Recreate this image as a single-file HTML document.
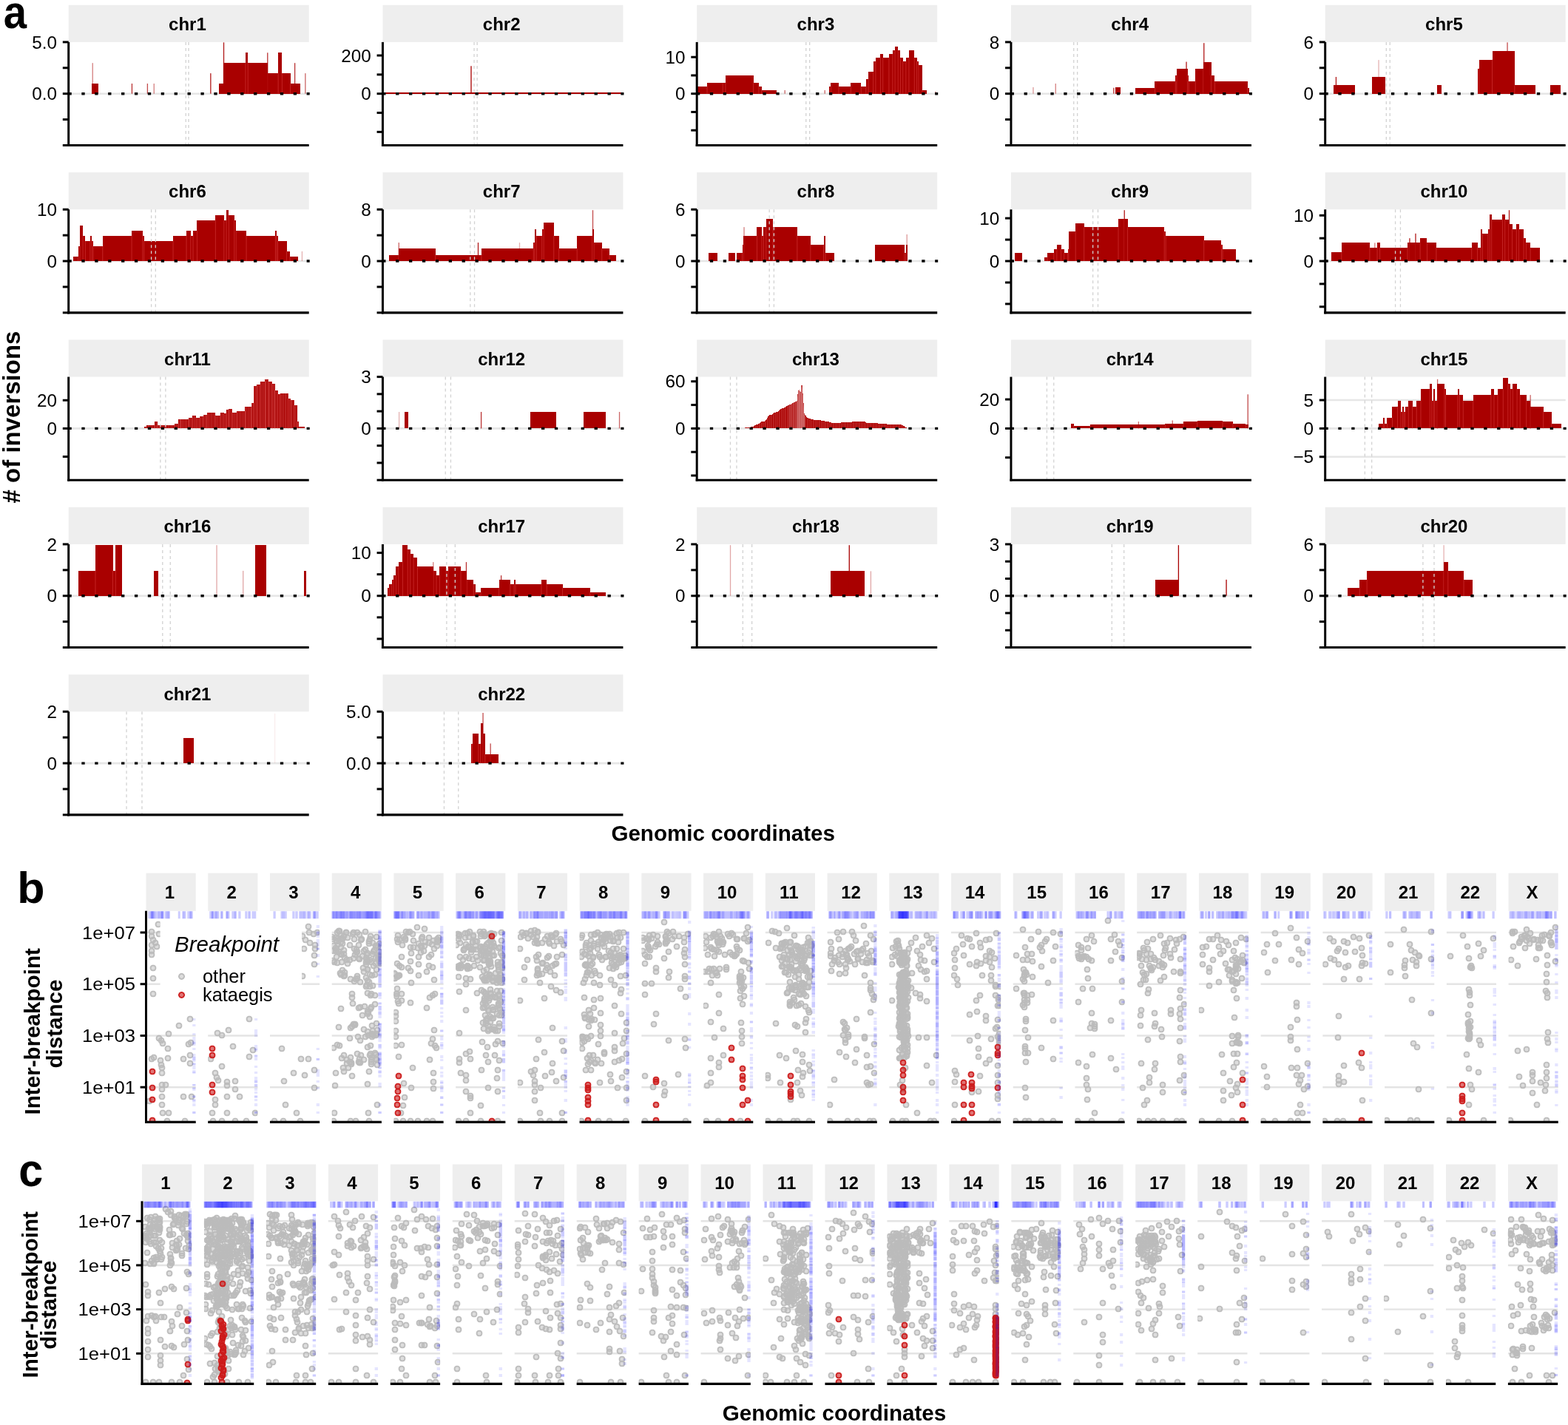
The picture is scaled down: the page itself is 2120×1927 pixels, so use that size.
<!DOCTYPE html>
<html><head><meta charset="utf-8"><title>Figure</title>
<style>html,body{margin:0;padding:0;background:#fff;} svg{display:block;} g.pt circle{r:4.6px}</style>
</head><body>
<svg width="2120" height="1927" viewBox="0 0 2120 1927" font-family="'Liberation Sans', Arial, Helvetica, sans-serif"><defs><pattern id="seam" width="2.7" height="20" patternUnits="userSpaceOnUse"><rect width="2.7" height="20" fill="#A90000"/><rect width="0.6" height="20" fill="#D66"/></pattern><radialGradient id="pg"><stop offset="0.45" stop-color="#BBBBBB" stop-opacity="0.5"/><stop offset="0.6" stop-color="#BBBBBB" stop-opacity="0.95"/><stop offset="0.9" stop-color="#BBBBBB" stop-opacity="0.95"/><stop offset="1" stop-color="#BBBBBB" stop-opacity="0.5"/></radialGradient><radialGradient id="pr"><stop offset="0.45" stop-color="#CC1A1A" stop-opacity="0.6"/><stop offset="0.6" stop-color="#CC1A1A" stop-opacity="0.95"/><stop offset="0.9" stop-color="#CC1A1A" stop-opacity="0.95"/><stop offset="1" stop-color="#CC1A1A" stop-opacity="0.5"/></radialGradient></defs><text x="5" y="38" font-size="52" font-weight="bold" transform="matrix(1.0815,0,0,1.211,-0.77,-8.22)">a</text>
<rect x="92.7" y="6.8" width="325" height="50.1" fill="#EEEEEE"/>
<text x="253.4" y="41.1" font-size="24" font-weight="bold" text-anchor="middle">chr1</text>
<line x1="92.7" x2="417.7" y1="126.7" y2="126.7" stroke="#E6E6E6" stroke-width="2.6"/>
<g fill="#A90000" shape-rendering="crispEdges"><rect x="123.56" y="113.02" width="9.33" height="13.68"/><rect x="295.93" y="113.02" width="6.88" height="13.68"/><rect x="301.98" y="85.19" width="30.28" height="41.51"/><rect x="331.94" y="71.28" width="3.27" height="55.42"/><rect x="335.21" y="85.19" width="26.52" height="41.51"/><rect x="361.73" y="99.11" width="14.4" height="27.59"/><rect x="376.14" y="71.28" width="5.24" height="55.42"/><rect x="381.37" y="99.11" width="11.13" height="27.59"/><rect x="392.5" y="113.02" width="13.1" height="13.68"/></g>
<g stroke="#D84040" stroke-width="0.8" opacity="0.7"><line x1="331.94" x2="331.94" y1="85.19" y2="126.7"/><line x1="335.21" x2="335.21" y1="85.19" y2="126.7"/><line x1="361.73" x2="361.73" y1="99.11" y2="126.7"/><line x1="376.14" x2="376.14" y1="99.11" y2="126.7"/><line x1="381.37" x2="381.37" y1="99.11" y2="126.7"/><line x1="392.5" x2="392.5" y1="113.02" y2="126.7"/></g>
<rect x="124.59" y="85.19" width="1.3" height="41.51" fill="#A90000" opacity="0.5"/>
<rect x="177.79" y="113.02" width="1.3" height="13.68" fill="#A90000" opacity="0.8"/>
<rect x="198.75" y="113.02" width="1.3" height="13.68" fill="#A90000" opacity="0.7"/>
<rect x="207.59" y="113.02" width="1.3" height="13.68" fill="#A90000" opacity="0.5"/>
<rect x="284.19" y="99.11" width="1.3" height="27.59" fill="#A90000" opacity="0.9"/>
<rect x="301.87" y="57.37" width="1.3" height="69.33" fill="#A90000" opacity="0.9"/>
<rect x="361.13" y="71.28" width="1.3" height="55.42" fill="#A90000" opacity="0.8"/>
<rect x="397.96" y="85.19" width="1.3" height="41.51" fill="#A90000" opacity="0.8"/>
<rect x="412.2" y="99.11" width="1.3" height="27.59" fill="#A90000" opacity="0.6"/>
<line x1="251.24" x2="251.24" y1="56.9" y2="196.5" stroke="#D2D2D2" stroke-width="1.3" stroke-dasharray="4 4"/>
<line x1="255" x2="255" y1="56.9" y2="196.5" stroke="#D2D2D2" stroke-width="1.3" stroke-dasharray="4 4"/>
<line x1="92.45" x2="418.7" y1="126.7" y2="126.7" stroke="#000" stroke-width="3.4" stroke-dasharray="4.3 13.6"/>
<line x1="92.7" x2="92.7" y1="56.9" y2="198" stroke="#000" stroke-width="3"/>
<line x1="91.2" x2="417.7" y1="196.5" y2="196.5" stroke="#000" stroke-width="3.1"/>
<line x1="84.8" x2="92.7" y1="56.9" y2="56.9" stroke="#000" stroke-width="3"/>
<text x="77.1" y="65.5" font-size="24.3" text-anchor="end">5.0</text>
<line x1="84.8" x2="92.7" y1="91.8" y2="91.8" stroke="#000" stroke-width="3"/>
<line x1="84.8" x2="92.7" y1="126.7" y2="126.7" stroke="#000" stroke-width="3"/>
<text x="77.1" y="135.3" font-size="24.3" text-anchor="end">0.0</text>
<line x1="84.8" x2="92.7" y1="161.6" y2="161.6" stroke="#000" stroke-width="3"/>
<line x1="84.8" x2="92.7" y1="196.5" y2="196.5" stroke="#000" stroke-width="3"/>
<rect x="517.45" y="6.8" width="325" height="50.1" fill="#EEEEEE"/>
<text x="678.15" y="41.1" font-size="24" font-weight="bold" text-anchor="middle">chr2</text>
<line x1="517.45" x2="842.45" y1="126.7" y2="126.7" stroke="#E6E6E6" stroke-width="2.6"/>
<g fill="#A90000" shape-rendering="crispEdges"><rect x="519.91" y="125.46" width="78.57" height="1.24"/><rect x="598.48" y="125.14" width="38.47" height="1.56"/><rect x="636.95" y="125.46" width="203.8" height="1.24"/></g>
<rect x="636.35" y="89.29" width="1.3" height="37.41" fill="#A90000" opacity="1.0"/>
<line x1="641.04" x2="641.04" y1="56.9" y2="196.5" stroke="#D2D2D2" stroke-width="1.3" stroke-dasharray="4 4"/>
<line x1="645.14" x2="645.14" y1="56.9" y2="196.5" stroke="#D2D2D2" stroke-width="1.3" stroke-dasharray="4 4"/>
<line x1="517.2" x2="843.45" y1="126.7" y2="126.7" stroke="#000" stroke-width="3.4" stroke-dasharray="4.3 13.6"/>
<line x1="517.45" x2="517.45" y1="56.9" y2="198" stroke="#000" stroke-width="3"/>
<line x1="515.95" x2="842.45" y1="196.5" y2="196.5" stroke="#000" stroke-width="3.1"/>
<line x1="509.55" x2="517.45" y1="75" y2="75" stroke="#000" stroke-width="3"/>
<text x="501.85" y="83.6" font-size="24.3" text-anchor="end">200</text>
<line x1="509.55" x2="517.45" y1="100.85" y2="100.85" stroke="#000" stroke-width="3"/>
<line x1="509.55" x2="517.45" y1="126.7" y2="126.7" stroke="#000" stroke-width="3"/>
<text x="501.85" y="135.3" font-size="24.3" text-anchor="end">0</text>
<line x1="509.55" x2="517.45" y1="152.55" y2="152.55" stroke="#000" stroke-width="3"/>
<line x1="509.55" x2="517.45" y1="178.4" y2="178.4" stroke="#000" stroke-width="3"/>
<rect x="942.2" y="6.8" width="325" height="50.1" fill="#EEEEEE"/>
<text x="1102.9" y="41.1" font-size="24" font-weight="bold" text-anchor="middle">chr3</text>
<line x1="942.2" x2="1267.2" y1="126.7" y2="126.7" stroke="#E6E6E6" stroke-width="2.6"/>
<g fill="#A90000" shape-rendering="crispEdges"><rect x="943.27" y="117.11" width="12.77" height="9.59"/><rect x="956.04" y="112.2" width="21.28" height="14.5"/><rect x="977.32" y="112.2" width="3.6" height="14.5"/><rect x="980.92" y="102.38" width="37.65" height="24.32"/><rect x="1018.57" y="112.2" width="7.37" height="14.5"/><rect x="1025.94" y="117.11" width="3.76" height="9.59"/><rect x="1029.7" y="122.02" width="20.79" height="4.68"/><rect x="1120.88" y="117.11" width="2.46" height="9.59"/><rect x="1123.34" y="112.2" width="10.64" height="14.5"/><rect x="1133.98" y="117.11" width="16.37" height="9.59"/><rect x="1150.35" y="112.2" width="13.91" height="14.5"/><rect x="1164.26" y="117.11" width="6.55" height="9.59"/><rect x="1170.81" y="107.29" width="3.27" height="19.41"/><rect x="1174.08" y="97.47" width="6.55" height="29.23"/><rect x="1180.63" y="82.74" width="3.27" height="43.96"/><rect x="1183.9" y="77.83" width="6.55" height="48.87"/><rect x="1190.45" y="72.92" width="3.27" height="53.78"/><rect x="1193.72" y="77.83" width="8.18" height="48.87"/><rect x="1201.91" y="72.92" width="4.91" height="53.78"/><rect x="1206.82" y="68.01" width="3.27" height="58.69"/><rect x="1210.09" y="63.1" width="4.09" height="63.6"/><rect x="1214.19" y="68.01" width="3.27" height="58.69"/><rect x="1217.46" y="77.83" width="3.27" height="48.87"/><rect x="1220.73" y="82.74" width="4.09" height="43.96"/><rect x="1224.83" y="77.83" width="4.09" height="48.87"/><rect x="1228.92" y="68.01" width="7.37" height="58.69"/><rect x="1236.28" y="77.83" width="3.27" height="48.87"/><rect x="1239.56" y="82.74" width="2.46" height="43.96"/><rect x="1242.01" y="87.65" width="4.91" height="39.05"/><rect x="1246.92" y="122.02" width="6.55" height="4.68"/></g>
<g stroke="#D84040" stroke-width="0.8" opacity="0.7"><line x1="956.04" x2="956.04" y1="117.11" y2="126.7"/><line x1="977.32" x2="977.32" y1="112.2" y2="126.7"/><line x1="980.92" x2="980.92" y1="112.2" y2="126.7"/><line x1="1018.57" x2="1018.57" y1="112.2" y2="126.7"/><line x1="1025.94" x2="1025.94" y1="117.11" y2="126.7"/><line x1="1029.7" x2="1029.7" y1="122.02" y2="126.7"/><line x1="1123.34" x2="1123.34" y1="117.11" y2="126.7"/><line x1="1133.98" x2="1133.98" y1="117.11" y2="126.7"/><line x1="1150.35" x2="1150.35" y1="117.11" y2="126.7"/><line x1="1164.26" x2="1164.26" y1="117.11" y2="126.7"/><line x1="1170.81" x2="1170.81" y1="117.11" y2="126.7"/><line x1="1174.08" x2="1174.08" y1="107.29" y2="126.7"/><line x1="1180.63" x2="1180.63" y1="97.47" y2="126.7"/><line x1="1183.9" x2="1183.9" y1="82.74" y2="126.7"/><line x1="1190.45" x2="1190.45" y1="77.83" y2="126.7"/><line x1="1193.72" x2="1193.72" y1="77.83" y2="126.7"/><line x1="1201.91" x2="1201.91" y1="77.83" y2="126.7"/><line x1="1206.82" x2="1206.82" y1="72.92" y2="126.7"/><line x1="1210.09" x2="1210.09" y1="68.01" y2="126.7"/><line x1="1214.19" x2="1214.19" y1="68.01" y2="126.7"/><line x1="1217.46" x2="1217.46" y1="77.83" y2="126.7"/><line x1="1220.73" x2="1220.73" y1="82.74" y2="126.7"/><line x1="1224.83" x2="1224.83" y1="82.74" y2="126.7"/><line x1="1228.92" x2="1228.92" y1="77.83" y2="126.7"/><line x1="1236.28" x2="1236.28" y1="77.83" y2="126.7"/><line x1="1239.56" x2="1239.56" y1="82.74" y2="126.7"/><line x1="1242.01" x2="1242.01" y1="87.65" y2="126.7"/><line x1="1246.92" x2="1246.92" y1="122.02" y2="126.7"/></g>
<rect x="1060.53" y="122.02" width="1.3" height="4.68" fill="#A90000" opacity="0.6"/>
<rect x="1114.55" y="122.02" width="1.3" height="4.68" fill="#A90000" opacity="0.6"/>
<rect x="1264.33" y="123.66" width="1.3" height="3.04" fill="#A90000" opacity="0.5"/>
<line x1="1089.78" x2="1089.78" y1="56.9" y2="196.5" stroke="#D2D2D2" stroke-width="1.3" stroke-dasharray="4 4"/>
<line x1="1094.69" x2="1094.69" y1="56.9" y2="196.5" stroke="#D2D2D2" stroke-width="1.3" stroke-dasharray="4 4"/>
<line x1="941.95" x2="1268.2" y1="126.7" y2="126.7" stroke="#000" stroke-width="3.4" stroke-dasharray="4.3 13.6"/>
<line x1="942.2" x2="942.2" y1="56.9" y2="198" stroke="#000" stroke-width="3"/>
<line x1="940.7" x2="1267.2" y1="196.5" y2="196.5" stroke="#000" stroke-width="3.1"/>
<line x1="934.3" x2="942.2" y1="77.2" y2="77.2" stroke="#000" stroke-width="3"/>
<text x="926.6" y="85.8" font-size="24.3" text-anchor="end">10</text>
<line x1="934.3" x2="942.2" y1="101.95" y2="101.95" stroke="#000" stroke-width="3"/>
<line x1="934.3" x2="942.2" y1="126.7" y2="126.7" stroke="#000" stroke-width="3"/>
<text x="926.6" y="135.3" font-size="24.3" text-anchor="end">0</text>
<line x1="934.3" x2="942.2" y1="151.45" y2="151.45" stroke="#000" stroke-width="3"/>
<line x1="934.3" x2="942.2" y1="176.2" y2="176.2" stroke="#000" stroke-width="3"/>
<rect x="1366.95" y="6.8" width="325" height="50.1" fill="#EEEEEE"/>
<text x="1527.65" y="41.1" font-size="24" font-weight="bold" text-anchor="middle">chr4</text>
<line x1="1366.95" x2="1691.95" y1="126.7" y2="126.7" stroke="#E6E6E6" stroke-width="2.6"/>
<g fill="#A90000" shape-rendering="crispEdges"><rect x="1508.23" y="118.42" width="6.55" height="8.28"/><rect x="1534.91" y="118.75" width="26.52" height="7.95"/><rect x="1561.43" y="110.24" width="27.83" height="16.46"/><rect x="1589.26" y="101.56" width="1.64" height="25.14"/><rect x="1590.9" y="92.56" width="14.73" height="34.14"/><rect x="1605.63" y="101.56" width="1.64" height="25.14"/><rect x="1607.27" y="110.24" width="9" height="16.46"/><rect x="1616.27" y="92.56" width="10.64" height="34.14"/><rect x="1626.91" y="84.05" width="10.64" height="42.65"/><rect x="1637.55" y="101.56" width="4.91" height="25.14"/><rect x="1642.46" y="110.24" width="44.2" height="16.46"/><rect x="1686.66" y="118.75" width="2.13" height="7.95"/></g>
<g stroke="#D84040" stroke-width="0.8" opacity="0.7"><line x1="1561.43" x2="1561.43" y1="118.75" y2="126.7"/><line x1="1589.26" x2="1589.26" y1="110.24" y2="126.7"/><line x1="1590.9" x2="1590.9" y1="101.56" y2="126.7"/><line x1="1605.63" x2="1605.63" y1="101.56" y2="126.7"/><line x1="1607.27" x2="1607.27" y1="110.24" y2="126.7"/><line x1="1616.27" x2="1616.27" y1="110.24" y2="126.7"/><line x1="1626.91" x2="1626.91" y1="92.56" y2="126.7"/><line x1="1637.55" x2="1637.55" y1="101.56" y2="126.7"/><line x1="1642.46" x2="1642.46" y1="110.24" y2="126.7"/><line x1="1686.66" x2="1686.66" y1="118.75" y2="126.7"/></g>
<rect x="1396.32" y="117.93" width="1.3" height="8.77" fill="#A90000" opacity="0.4"/>
<rect x="1426.6" y="113.02" width="1.3" height="13.68" fill="#A90000" opacity="0.5"/>
<rect x="1505.18" y="118.75" width="1.3" height="7.95" fill="#A90000" opacity="0.8"/>
<rect x="1603.39" y="83.56" width="1.3" height="43.14" fill="#A90000" opacity="0.9"/>
<rect x="1627.13" y="58.18" width="1.3" height="68.52" fill="#A90000" opacity="0.9"/>
<line x1="1451.76" x2="1451.76" y1="56.9" y2="196.5" stroke="#D2D2D2" stroke-width="1.3" stroke-dasharray="4 4"/>
<line x1="1456.67" x2="1456.67" y1="56.9" y2="196.5" stroke="#D2D2D2" stroke-width="1.3" stroke-dasharray="4 4"/>
<line x1="1366.7" x2="1692.95" y1="126.7" y2="126.7" stroke="#000" stroke-width="3.4" stroke-dasharray="4.3 13.6"/>
<line x1="1366.95" x2="1366.95" y1="56.9" y2="198" stroke="#000" stroke-width="3"/>
<line x1="1365.45" x2="1691.95" y1="196.5" y2="196.5" stroke="#000" stroke-width="3.1"/>
<line x1="1359.05" x2="1366.95" y1="56.9" y2="56.9" stroke="#000" stroke-width="3"/>
<text x="1351.35" y="65.5" font-size="24.3" text-anchor="end">8</text>
<line x1="1359.05" x2="1366.95" y1="91.8" y2="91.8" stroke="#000" stroke-width="3"/>
<line x1="1359.05" x2="1366.95" y1="126.7" y2="126.7" stroke="#000" stroke-width="3"/>
<text x="1351.35" y="135.3" font-size="24.3" text-anchor="end">0</text>
<line x1="1359.05" x2="1366.95" y1="161.6" y2="161.6" stroke="#000" stroke-width="3"/>
<line x1="1359.05" x2="1366.95" y1="196.5" y2="196.5" stroke="#000" stroke-width="3"/>
<rect x="1791.7" y="6.8" width="325" height="50.1" fill="#EEEEEE"/>
<text x="1952.4" y="41.1" font-size="24" font-weight="bold" text-anchor="middle">chr5</text>
<line x1="1791.7" x2="2116.7" y1="126.7" y2="126.7" stroke="#E6E6E6" stroke-width="2.6"/>
<g fill="#A90000" shape-rendering="crispEdges"><rect x="1803.1" y="115.48" width="28.65" height="11.22"/><rect x="1855.48" y="104.02" width="18.01" height="22.68"/><rect x="1943.05" y="115.48" width="6.06" height="11.22"/><rect x="1997.56" y="92.56" width="1.96" height="34.14"/><rect x="1999.53" y="80.77" width="18.01" height="45.93"/><rect x="2017.53" y="69.32" width="30.28" height="57.38"/><rect x="2047.82" y="115.48" width="28.32" height="11.22"/><rect x="2096.43" y="115.48" width="13.91" height="11.22"/></g>
<g stroke="#D84040" stroke-width="0.8" opacity="0.7"><line x1="1999.53" x2="1999.53" y1="92.56" y2="126.7"/><line x1="2017.53" x2="2017.53" y1="80.77" y2="126.7"/><line x1="2047.82" x2="2047.82" y1="115.48" y2="126.7"/></g>
<rect x="1805.77" y="104.02" width="1.3" height="22.68" fill="#A90000" opacity="0.9"/>
<rect x="1863.39" y="81.1" width="1.3" height="45.6" fill="#A90000" opacity="0.3"/>
<rect x="2037.39" y="57.37" width="1.3" height="69.33" fill="#A90000" opacity="0.7"/>
<line x1="1874.3" x2="1874.3" y1="56.9" y2="196.5" stroke="#D2D2D2" stroke-width="1.3" stroke-dasharray="4 4"/>
<line x1="1879.21" x2="1879.21" y1="56.9" y2="196.5" stroke="#D2D2D2" stroke-width="1.3" stroke-dasharray="4 4"/>
<line x1="1791.45" x2="2117.7" y1="126.7" y2="126.7" stroke="#000" stroke-width="3.4" stroke-dasharray="4.3 13.6"/>
<line x1="1791.7" x2="1791.7" y1="56.9" y2="198" stroke="#000" stroke-width="3"/>
<line x1="1790.2" x2="2116.7" y1="196.5" y2="196.5" stroke="#000" stroke-width="3.1"/>
<line x1="1783.8" x2="1791.7" y1="56.9" y2="56.9" stroke="#000" stroke-width="3"/>
<text x="1776.1" y="65.5" font-size="24.3" text-anchor="end">6</text>
<line x1="1783.8" x2="1791.7" y1="91.8" y2="91.8" stroke="#000" stroke-width="3"/>
<line x1="1783.8" x2="1791.7" y1="126.7" y2="126.7" stroke="#000" stroke-width="3"/>
<text x="1776.1" y="135.3" font-size="24.3" text-anchor="end">0</text>
<line x1="1783.8" x2="1791.7" y1="161.6" y2="161.6" stroke="#000" stroke-width="3"/>
<line x1="1783.8" x2="1791.7" y1="196.5" y2="196.5" stroke="#000" stroke-width="3"/>
<rect x="92.7" y="233.15" width="325" height="50.1" fill="#EEEEEE"/>
<text x="253.4" y="267.45" font-size="24" font-weight="bold" text-anchor="middle">chr6</text>
<line x1="92.7" x2="417.7" y1="353.05" y2="353.05" stroke="#E6E6E6" stroke-width="2.6"/>
<g fill="#A90000" shape-rendering="crispEdges"><rect x="99" y="346.72" width="6.55" height="6.33"/><rect x="105.55" y="332.97" width="2.46" height="20.08"/><rect x="108.01" y="305.14" width="4.09" height="47.91"/><rect x="112.1" y="318.89" width="3.27" height="34.16"/><rect x="115.37" y="325.93" width="6.55" height="27.12"/><rect x="121.92" y="318.89" width="2.46" height="34.16"/><rect x="124.38" y="325.93" width="1.64" height="27.12"/><rect x="126.01" y="332.97" width="12.77" height="20.08"/><rect x="138.78" y="318.89" width="39.29" height="34.16"/><rect x="178.07" y="312.01" width="14.73" height="41.04"/><rect x="192.8" y="318.89" width="1.96" height="34.16"/><rect x="194.76" y="325.93" width="39.29" height="27.12"/><rect x="234.05" y="318.89" width="18.01" height="34.16"/><rect x="252.06" y="312.01" width="5.73" height="41.04"/><rect x="257.79" y="318.89" width="3.27" height="34.16"/><rect x="261.06" y="312.01" width="5.4" height="41.04"/><rect x="266.46" y="298.1" width="24.88" height="54.95"/><rect x="291.34" y="291.06" width="11.46" height="61.99"/><rect x="302.8" y="298.1" width="3.27" height="54.95"/><rect x="306.07" y="284.18" width="3.27" height="68.87"/><rect x="309.35" y="291.06" width="7.37" height="61.99"/><rect x="316.71" y="298.1" width="2.46" height="54.95"/><rect x="319.17" y="312.01" width="13.91" height="41.04"/><rect x="333.08" y="318.89" width="39.29" height="34.16"/><rect x="372.37" y="312.01" width="1.64" height="41.04"/><rect x="374.01" y="318.89" width="1.64" height="34.16"/><rect x="375.64" y="325.93" width="11.95" height="27.12"/><rect x="387.59" y="339.84" width="4.42" height="13.21"/><rect x="392.01" y="346.72" width="10.64" height="6.33"/></g>
<g stroke="#D84040" stroke-width="0.8" opacity="0.7"><line x1="105.55" x2="105.55" y1="346.72" y2="353.05"/><line x1="108.01" x2="108.01" y1="332.97" y2="353.05"/><line x1="112.1" x2="112.1" y1="318.89" y2="353.05"/><line x1="115.37" x2="115.37" y1="325.93" y2="353.05"/><line x1="121.92" x2="121.92" y1="325.93" y2="353.05"/><line x1="124.38" x2="124.38" y1="325.93" y2="353.05"/><line x1="126.01" x2="126.01" y1="332.97" y2="353.05"/><line x1="138.78" x2="138.78" y1="332.97" y2="353.05"/><line x1="178.07" x2="178.07" y1="318.89" y2="353.05"/><line x1="192.8" x2="192.8" y1="318.89" y2="353.05"/><line x1="194.76" x2="194.76" y1="325.93" y2="353.05"/><line x1="234.05" x2="234.05" y1="325.93" y2="353.05"/><line x1="252.06" x2="252.06" y1="318.89" y2="353.05"/><line x1="257.79" x2="257.79" y1="318.89" y2="353.05"/><line x1="261.06" x2="261.06" y1="318.89" y2="353.05"/><line x1="266.46" x2="266.46" y1="312.01" y2="353.05"/><line x1="291.34" x2="291.34" y1="298.1" y2="353.05"/><line x1="302.8" x2="302.8" y1="298.1" y2="353.05"/><line x1="306.07" x2="306.07" y1="298.1" y2="353.05"/><line x1="309.35" x2="309.35" y1="291.06" y2="353.05"/><line x1="316.71" x2="316.71" y1="298.1" y2="353.05"/><line x1="319.17" x2="319.17" y1="312.01" y2="353.05"/><line x1="333.08" x2="333.08" y1="318.89" y2="353.05"/><line x1="372.37" x2="372.37" y1="318.89" y2="353.05"/><line x1="374.01" x2="374.01" y1="318.89" y2="353.05"/><line x1="375.64" x2="375.64" y1="325.93" y2="353.05"/><line x1="387.59" x2="387.59" y1="339.84" y2="353.05"/><line x1="392.01" x2="392.01" y1="346.72" y2="353.05"/></g>
<rect x="407.78" y="339.84" width="1.3" height="13.21" fill="#A90000" opacity="0.3"/>
<line x1="204.59" x2="204.59" y1="283.25" y2="422.85" stroke="#D2D2D2" stroke-width="1.3" stroke-dasharray="4 4"/>
<line x1="210.31" x2="210.31" y1="283.25" y2="422.85" stroke="#D2D2D2" stroke-width="1.3" stroke-dasharray="4 4"/>
<line x1="92.45" x2="418.7" y1="353.05" y2="353.05" stroke="#000" stroke-width="3.4" stroke-dasharray="4.3 13.6"/>
<line x1="92.7" x2="92.7" y1="283.25" y2="424.35" stroke="#000" stroke-width="3"/>
<line x1="91.2" x2="417.7" y1="422.85" y2="422.85" stroke="#000" stroke-width="3.1"/>
<line x1="84.8" x2="92.7" y1="283.25" y2="283.25" stroke="#000" stroke-width="3"/>
<text x="77.1" y="291.85" font-size="24.3" text-anchor="end">10</text>
<line x1="84.8" x2="92.7" y1="318.15" y2="318.15" stroke="#000" stroke-width="3"/>
<line x1="84.8" x2="92.7" y1="353.05" y2="353.05" stroke="#000" stroke-width="3"/>
<text x="77.1" y="361.65" font-size="24.3" text-anchor="end">0</text>
<line x1="84.8" x2="92.7" y1="387.95" y2="387.95" stroke="#000" stroke-width="3"/>
<line x1="84.8" x2="92.7" y1="422.85" y2="422.85" stroke="#000" stroke-width="3"/>
<rect x="517.45" y="233.15" width="325" height="50.1" fill="#EEEEEE"/>
<text x="678.15" y="267.45" font-size="24" font-weight="bold" text-anchor="middle">chr7</text>
<line x1="517.45" x2="842.45" y1="353.05" y2="353.05" stroke="#E6E6E6" stroke-width="2.6"/>
<g fill="#A90000" shape-rendering="crispEdges"><rect x="526.46" y="345.08" width="12.28" height="7.97"/><rect x="538.74" y="336.24" width="49.93" height="16.81"/><rect x="588.66" y="345.08" width="62.2" height="7.97"/><rect x="650.87" y="336.24" width="70.39" height="16.81"/><rect x="721.25" y="328.05" width="1.64" height="25"/><rect x="722.89" y="310.05" width="2.46" height="43"/><rect x="725.35" y="318.89" width="7.37" height="34.16"/><rect x="732.71" y="310.05" width="2.46" height="43"/><rect x="735.17" y="301.37" width="13.59" height="51.68"/><rect x="748.75" y="318.89" width="6.88" height="34.16"/><rect x="755.63" y="336.24" width="24.55" height="16.81"/><rect x="780.18" y="318.89" width="20.46" height="34.16"/><rect x="800.64" y="310.05" width="2.46" height="43"/><rect x="803.1" y="327.73" width="10.64" height="25.32"/><rect x="813.74" y="336.24" width="10.31" height="16.81"/><rect x="824.05" y="345.08" width="8.51" height="7.97"/></g>
<g stroke="#D84040" stroke-width="0.8" opacity="0.7"><line x1="538.74" x2="538.74" y1="345.08" y2="353.05"/><line x1="588.66" x2="588.66" y1="345.08" y2="353.05"/><line x1="650.87" x2="650.87" y1="345.08" y2="353.05"/><line x1="721.25" x2="721.25" y1="336.24" y2="353.05"/><line x1="722.89" x2="722.89" y1="328.05" y2="353.05"/><line x1="725.35" x2="725.35" y1="318.89" y2="353.05"/><line x1="732.71" x2="732.71" y1="318.89" y2="353.05"/><line x1="735.17" x2="735.17" y1="310.05" y2="353.05"/><line x1="748.75" x2="748.75" y1="318.89" y2="353.05"/><line x1="755.63" x2="755.63" y1="336.24" y2="353.05"/><line x1="780.18" x2="780.18" y1="336.24" y2="353.05"/><line x1="800.64" x2="800.64" y1="318.89" y2="353.05"/><line x1="803.1" x2="803.1" y1="327.73" y2="353.05"/><line x1="813.74" x2="813.74" y1="336.24" y2="353.05"/><line x1="824.05" x2="824.05" y1="345.08" y2="353.05"/></g>
<rect x="538.63" y="328.05" width="1.3" height="25" fill="#A90000" opacity="0.6"/>
<rect x="645.85" y="328.05" width="1.3" height="25" fill="#A90000" opacity="0.9"/>
<rect x="701.83" y="328.05" width="1.3" height="25" fill="#A90000" opacity="0.3"/>
<rect x="800.86" y="284.18" width="1.3" height="68.87" fill="#A90000" opacity="0.7"/>
<line x1="635.81" x2="635.81" y1="283.25" y2="422.85" stroke="#D2D2D2" stroke-width="1.3" stroke-dasharray="4 4"/>
<line x1="641.53" x2="641.53" y1="283.25" y2="422.85" stroke="#D2D2D2" stroke-width="1.3" stroke-dasharray="4 4"/>
<line x1="517.2" x2="843.45" y1="353.05" y2="353.05" stroke="#000" stroke-width="3.4" stroke-dasharray="4.3 13.6"/>
<line x1="517.45" x2="517.45" y1="283.25" y2="424.35" stroke="#000" stroke-width="3"/>
<line x1="515.95" x2="842.45" y1="422.85" y2="422.85" stroke="#000" stroke-width="3.1"/>
<line x1="509.55" x2="517.45" y1="283.25" y2="283.25" stroke="#000" stroke-width="3"/>
<text x="501.85" y="291.85" font-size="24.3" text-anchor="end">8</text>
<line x1="509.55" x2="517.45" y1="318.15" y2="318.15" stroke="#000" stroke-width="3"/>
<line x1="509.55" x2="517.45" y1="353.05" y2="353.05" stroke="#000" stroke-width="3"/>
<text x="501.85" y="361.65" font-size="24.3" text-anchor="end">0</text>
<line x1="509.55" x2="517.45" y1="387.95" y2="387.95" stroke="#000" stroke-width="3"/>
<line x1="509.55" x2="517.45" y1="422.85" y2="422.85" stroke="#000" stroke-width="3"/>
<rect x="942.2" y="233.15" width="325" height="50.1" fill="#EEEEEE"/>
<text x="1102.9" y="267.45" font-size="24" font-weight="bold" text-anchor="middle">chr8</text>
<line x1="942.2" x2="1267.2" y1="353.05" y2="353.05" stroke="#E6E6E6" stroke-width="2.6"/>
<g fill="#A90000" shape-rendering="crispEdges"><rect x="958.01" y="342.3" width="11.79" height="10.75"/><rect x="985.02" y="342.3" width="8.68" height="10.75"/><rect x="996.15" y="342.3" width="7.37" height="10.75"/><rect x="1003.51" y="330.84" width="1.96" height="22.21"/><rect x="1005.48" y="318.89" width="18.01" height="34.16"/><rect x="1023.48" y="307.1" width="6.55" height="45.95"/><rect x="1030.03" y="318.89" width="2.46" height="34.16"/><rect x="1032.49" y="307.1" width="3.27" height="45.95"/><rect x="1035.76" y="295.64" width="9.33" height="57.41"/><rect x="1045.09" y="307.1" width="32.74" height="45.95"/><rect x="1077.83" y="318.89" width="18.01" height="34.16"/><rect x="1095.84" y="330.84" width="17.68" height="22.21"/><rect x="1113.51" y="318.89" width="2.46" height="34.16"/><rect x="1115.97" y="342.3" width="11.95" height="10.75"/><rect x="1183.08" y="330.84" width="39.78" height="22.21"/><rect x="1222.86" y="342.3" width="1.96" height="10.75"/><rect x="1224.83" y="330.84" width="2.46" height="22.21"/></g>
<g stroke="#D84040" stroke-width="0.8" opacity="0.7"><line x1="1003.51" x2="1003.51" y1="342.3" y2="353.05"/><line x1="1005.48" x2="1005.48" y1="330.84" y2="353.05"/><line x1="1023.48" x2="1023.48" y1="318.89" y2="353.05"/><line x1="1030.03" x2="1030.03" y1="318.89" y2="353.05"/><line x1="1032.49" x2="1032.49" y1="318.89" y2="353.05"/><line x1="1035.76" x2="1035.76" y1="307.1" y2="353.05"/><line x1="1045.09" x2="1045.09" y1="307.1" y2="353.05"/><line x1="1077.83" x2="1077.83" y1="318.89" y2="353.05"/><line x1="1095.84" x2="1095.84" y1="330.84" y2="353.05"/><line x1="1113.51" x2="1113.51" y1="330.84" y2="353.05"/><line x1="1115.97" x2="1115.97" y1="342.3" y2="353.05"/><line x1="1222.86" x2="1222.86" y1="342.3" y2="353.05"/><line x1="1224.83" x2="1224.83" y1="342.3" y2="353.05"/></g>
<rect x="1005.37" y="307.1" width="1.3" height="45.95" fill="#A90000" opacity="0.5"/>
<rect x="1225.54" y="316.92" width="1.3" height="36.13" fill="#A90000" opacity="0.4"/>
<line x1="1040.18" x2="1040.18" y1="283.25" y2="422.85" stroke="#D2D2D2" stroke-width="1.3" stroke-dasharray="4 4"/>
<line x1="1046.4" x2="1046.4" y1="283.25" y2="422.85" stroke="#D2D2D2" stroke-width="1.3" stroke-dasharray="4 4"/>
<line x1="941.95" x2="1268.2" y1="353.05" y2="353.05" stroke="#000" stroke-width="3.4" stroke-dasharray="4.3 13.6"/>
<line x1="942.2" x2="942.2" y1="283.25" y2="424.35" stroke="#000" stroke-width="3"/>
<line x1="940.7" x2="1267.2" y1="422.85" y2="422.85" stroke="#000" stroke-width="3.1"/>
<line x1="934.3" x2="942.2" y1="283.25" y2="283.25" stroke="#000" stroke-width="3"/>
<text x="926.6" y="291.85" font-size="24.3" text-anchor="end">6</text>
<line x1="934.3" x2="942.2" y1="318.15" y2="318.15" stroke="#000" stroke-width="3"/>
<line x1="934.3" x2="942.2" y1="353.05" y2="353.05" stroke="#000" stroke-width="3"/>
<text x="926.6" y="361.65" font-size="24.3" text-anchor="end">0</text>
<line x1="934.3" x2="942.2" y1="387.95" y2="387.95" stroke="#000" stroke-width="3"/>
<line x1="934.3" x2="942.2" y1="422.85" y2="422.85" stroke="#000" stroke-width="3"/>
<rect x="1366.95" y="233.15" width="325" height="50.1" fill="#EEEEEE"/>
<text x="1527.65" y="267.45" font-size="24" font-weight="bold" text-anchor="middle">chr9</text>
<line x1="1366.95" x2="1691.95" y1="353.05" y2="353.05" stroke="#E6E6E6" stroke-width="2.6"/>
<g fill="#A90000" shape-rendering="crispEdges"><rect x="1371.88" y="342.3" width="9.82" height="10.75"/><rect x="1412.47" y="348.02" width="3.6" height="5.03"/><rect x="1416.07" y="342.3" width="8.68" height="10.75"/><rect x="1424.75" y="336.57" width="4.09" height="16.48"/><rect x="1428.84" y="330.84" width="5.73" height="22.21"/><rect x="1434.57" y="336.57" width="4.09" height="16.48"/><rect x="1438.66" y="342.3" width="4.91" height="10.75"/><rect x="1443.57" y="336.57" width="1.31" height="16.48"/><rect x="1444.88" y="313.32" width="9.33" height="39.73"/><rect x="1454.21" y="301.7" width="11.46" height="51.35"/><rect x="1465.67" y="307.43" width="46.33" height="45.62"/><rect x="1512" y="295.97" width="7.69" height="57.08"/><rect x="1519.69" y="295.97" width="4.91" height="57.08"/><rect x="1524.6" y="307.43" width="49.6" height="45.62"/><rect x="1574.2" y="313.32" width="1.96" height="39.73"/><rect x="1576.16" y="318.89" width="51.56" height="34.16"/><rect x="1627.73" y="324.78" width="23.74" height="28.27"/><rect x="1651.46" y="330.84" width="1.64" height="22.21"/><rect x="1653.1" y="336.57" width="17.68" height="16.48"/></g>
<g stroke="#D84040" stroke-width="0.8" opacity="0.7"><line x1="1416.07" x2="1416.07" y1="348.02" y2="353.05"/><line x1="1424.75" x2="1424.75" y1="342.3" y2="353.05"/><line x1="1428.84" x2="1428.84" y1="336.57" y2="353.05"/><line x1="1434.57" x2="1434.57" y1="336.57" y2="353.05"/><line x1="1438.66" x2="1438.66" y1="342.3" y2="353.05"/><line x1="1443.57" x2="1443.57" y1="342.3" y2="353.05"/><line x1="1444.88" x2="1444.88" y1="336.57" y2="353.05"/><line x1="1454.21" x2="1454.21" y1="313.32" y2="353.05"/><line x1="1465.67" x2="1465.67" y1="307.43" y2="353.05"/><line x1="1512" x2="1512" y1="307.43" y2="353.05"/><line x1="1519.69" x2="1519.69" y1="295.97" y2="353.05"/><line x1="1524.6" x2="1524.6" y1="307.43" y2="353.05"/><line x1="1574.2" x2="1574.2" y1="313.32" y2="353.05"/><line x1="1576.16" x2="1576.16" y1="318.89" y2="353.05"/><line x1="1627.73" x2="1627.73" y1="324.78" y2="353.05"/><line x1="1651.46" x2="1651.46" y1="330.84" y2="353.05"/><line x1="1653.1" x2="1653.1" y1="336.57" y2="353.05"/></g>
<rect x="1519.58" y="284.18" width="1.3" height="68.87" fill="#A90000" opacity="0.9"/>
<line x1="1477.62" x2="1477.62" y1="283.25" y2="422.85" stroke="#D2D2D2" stroke-width="1.3" stroke-dasharray="4 4"/>
<line x1="1484.5" x2="1484.5" y1="283.25" y2="422.85" stroke="#D2D2D2" stroke-width="1.3" stroke-dasharray="4 4"/>
<line x1="1366.7" x2="1692.95" y1="353.05" y2="353.05" stroke="#000" stroke-width="3.4" stroke-dasharray="4.3 13.6"/>
<line x1="1366.95" x2="1366.95" y1="283.25" y2="424.35" stroke="#000" stroke-width="3"/>
<line x1="1365.45" x2="1691.95" y1="422.85" y2="422.85" stroke="#000" stroke-width="3.1"/>
<line x1="1359.05" x2="1366.95" y1="295.12" y2="295.12" stroke="#000" stroke-width="3"/>
<text x="1351.35" y="303.72" font-size="24.3" text-anchor="end">10</text>
<line x1="1359.05" x2="1366.95" y1="324.09" y2="324.09" stroke="#000" stroke-width="3"/>
<line x1="1359.05" x2="1366.95" y1="353.05" y2="353.05" stroke="#000" stroke-width="3"/>
<text x="1351.35" y="361.65" font-size="24.3" text-anchor="end">0</text>
<line x1="1359.05" x2="1366.95" y1="382.01" y2="382.01" stroke="#000" stroke-width="3"/>
<line x1="1359.05" x2="1366.95" y1="410.98" y2="410.98" stroke="#000" stroke-width="3"/>
<rect x="1791.7" y="233.15" width="325" height="50.1" fill="#EEEEEE"/>
<text x="1952.4" y="267.45" font-size="24" font-weight="bold" text-anchor="middle">chr10</text>
<line x1="1791.7" x2="2116.7" y1="353.05" y2="353.05" stroke="#E6E6E6" stroke-width="2.6"/>
<g fill="#A90000" shape-rendering="crispEdges"><rect x="1799.82" y="341.15" width="13.91" height="11.9"/><rect x="1813.74" y="328.38" width="38.14" height="24.67"/><rect x="1851.88" y="334.93" width="10.15" height="18.12"/><rect x="1862.02" y="328.38" width="3.6" height="24.67"/><rect x="1865.63" y="334.93" width="37.32" height="18.12"/><rect x="1902.95" y="328.38" width="2.46" height="24.67"/><rect x="1905.4" y="328.38" width="8.18" height="24.67"/><rect x="1913.59" y="328.38" width="6.55" height="24.67"/><rect x="1920.14" y="322.16" width="9.33" height="30.89"/><rect x="1929.47" y="328.38" width="12.44" height="24.67"/><rect x="1941.91" y="334.93" width="47.8" height="18.12"/><rect x="1989.71" y="328.38" width="7.86" height="24.67"/><rect x="1997.56" y="334.93" width="4.42" height="18.12"/><rect x="2001.98" y="309.56" width="2.46" height="43.49"/><rect x="2004.44" y="315.78" width="7.37" height="37.27"/><rect x="2011.8" y="309.56" width="2.46" height="43.49"/><rect x="2014.26" y="290.4" width="2.46" height="62.65"/><rect x="2016.71" y="296.79" width="14.73" height="56.26"/><rect x="2031.45" y="290.4" width="3.27" height="62.65"/><rect x="2034.72" y="296.79" width="4.91" height="56.26"/><rect x="2039.63" y="303.01" width="4.91" height="50.04"/><rect x="2044.54" y="309.56" width="5.73" height="43.49"/><rect x="2050.27" y="303.01" width="3.27" height="50.04"/><rect x="2053.55" y="309.56" width="6.55" height="43.49"/><rect x="2060.09" y="322.16" width="3.27" height="30.89"/><rect x="2063.37" y="328.38" width="5.73" height="24.67"/><rect x="2069.1" y="334.93" width="12.6" height="18.12"/></g>
<g stroke="#D84040" stroke-width="0.8" opacity="0.7"><line x1="1813.74" x2="1813.74" y1="341.15" y2="353.05"/><line x1="1851.88" x2="1851.88" y1="334.93" y2="353.05"/><line x1="1862.02" x2="1862.02" y1="334.93" y2="353.05"/><line x1="1865.63" x2="1865.63" y1="334.93" y2="353.05"/><line x1="1902.95" x2="1902.95" y1="334.93" y2="353.05"/><line x1="1905.4" x2="1905.4" y1="328.38" y2="353.05"/><line x1="1913.59" x2="1913.59" y1="328.38" y2="353.05"/><line x1="1920.14" x2="1920.14" y1="328.38" y2="353.05"/><line x1="1929.47" x2="1929.47" y1="328.38" y2="353.05"/><line x1="1941.91" x2="1941.91" y1="334.93" y2="353.05"/><line x1="1989.71" x2="1989.71" y1="334.93" y2="353.05"/><line x1="1997.56" x2="1997.56" y1="334.93" y2="353.05"/><line x1="2001.98" x2="2001.98" y1="334.93" y2="353.05"/><line x1="2004.44" x2="2004.44" y1="315.78" y2="353.05"/><line x1="2011.8" x2="2011.8" y1="315.78" y2="353.05"/><line x1="2014.26" x2="2014.26" y1="309.56" y2="353.05"/><line x1="2016.71" x2="2016.71" y1="296.79" y2="353.05"/><line x1="2031.45" x2="2031.45" y1="296.79" y2="353.05"/><line x1="2034.72" x2="2034.72" y1="296.79" y2="353.05"/><line x1="2039.63" x2="2039.63" y1="303.01" y2="353.05"/><line x1="2044.54" x2="2044.54" y1="309.56" y2="353.05"/><line x1="2050.27" x2="2050.27" y1="309.56" y2="353.05"/><line x1="2053.55" x2="2053.55" y1="309.56" y2="353.05"/><line x1="2060.09" x2="2060.09" y1="322.16" y2="353.05"/><line x1="2063.37" x2="2063.37" y1="328.38" y2="353.05"/><line x1="2069.1" x2="2069.1" y1="334.93" y2="353.05"/></g>
<rect x="1905.29" y="322.16" width="1.3" height="30.89" fill="#A90000" opacity="0.9"/>
<rect x="1913.32" y="315.78" width="1.3" height="37.27" fill="#A90000" opacity="0.9"/>
<rect x="2039.85" y="284.18" width="1.3" height="68.87" fill="#A90000" opacity="0.9"/>
<rect x="1858.15" y="328.38" width="1.3" height="24.67" fill="#A90000" opacity="0.5"/>
<line x1="1886.58" x2="1886.58" y1="283.25" y2="422.85" stroke="#D2D2D2" stroke-width="1.3" stroke-dasharray="4 4"/>
<line x1="1893.45" x2="1893.45" y1="283.25" y2="422.85" stroke="#D2D2D2" stroke-width="1.3" stroke-dasharray="4 4"/>
<line x1="1791.45" x2="2117.7" y1="353.05" y2="353.05" stroke="#000" stroke-width="3.4" stroke-dasharray="4.3 13.6"/>
<line x1="1791.7" x2="1791.7" y1="283.25" y2="424.35" stroke="#000" stroke-width="3"/>
<line x1="1790.2" x2="2116.7" y1="422.85" y2="422.85" stroke="#000" stroke-width="3.1"/>
<line x1="1783.8" x2="1791.7" y1="291.28" y2="291.28" stroke="#000" stroke-width="3"/>
<text x="1776.1" y="299.88" font-size="24.3" text-anchor="end">10</text>
<line x1="1783.8" x2="1791.7" y1="322.17" y2="322.17" stroke="#000" stroke-width="3"/>
<line x1="1783.8" x2="1791.7" y1="353.05" y2="353.05" stroke="#000" stroke-width="3"/>
<text x="1776.1" y="361.65" font-size="24.3" text-anchor="end">0</text>
<line x1="1783.8" x2="1791.7" y1="383.93" y2="383.93" stroke="#000" stroke-width="3"/>
<line x1="1783.8" x2="1791.7" y1="414.82" y2="414.82" stroke="#000" stroke-width="3"/>
<rect x="92.7" y="459.5" width="325" height="50.1" fill="#EEEEEE"/>
<text x="253.4" y="493.8" font-size="24" font-weight="bold" text-anchor="middle">chr11</text>
<line x1="92.7" x2="417.7" y1="579.4" y2="579.4" stroke="#E6E6E6" stroke-width="2.6"/>
<g fill="url(#seam)" shape-rendering="crispEdges"><rect x="194.76" y="577.48" width="3.27" height="1.92"/><rect x="198.04" y="574.7" width="11.13" height="4.7"/><rect x="209.17" y="570.44" width="3.6" height="8.96"/><rect x="212.77" y="574.7" width="3.27" height="4.7"/><rect x="216.04" y="575.02" width="19.64" height="4.38"/><rect x="235.69" y="572.57" width="5.73" height="6.83"/><rect x="241.42" y="566.84" width="3.27" height="12.56"/><rect x="244.69" y="567.17" width="10.64" height="12.23"/><rect x="255.33" y="564.88" width="4.91" height="14.52"/><rect x="260.24" y="562.26" width="4.91" height="17.14"/><rect x="265.15" y="564.88" width="4.91" height="14.52"/><rect x="270.06" y="563.24" width="4.91" height="16.16"/><rect x="274.97" y="561.11" width="4.91" height="18.29"/><rect x="279.88" y="557.84" width="11.46" height="21.56"/><rect x="291.34" y="561.6" width="6.55" height="17.8"/><rect x="297.89" y="557.84" width="4.91" height="21.56"/><rect x="302.8" y="559.47" width="3.27" height="19.93"/><rect x="306.07" y="554.07" width="3.27" height="25.33"/><rect x="309.35" y="552.93" width="4.91" height="26.47"/><rect x="314.26" y="557.84" width="5.73" height="21.56"/><rect x="319.99" y="555.71" width="11.46" height="23.69"/><rect x="331.45" y="550.14" width="8.18" height="29.26"/><rect x="339.63" y="544.74" width="3.27" height="34.66"/><rect x="342.91" y="522.32" width="4.09" height="57.08"/><rect x="347" y="520.19" width="4.91" height="59.21"/><rect x="351.91" y="515.77" width="6.55" height="63.63"/><rect x="358.46" y="513.15" width="4.91" height="66.25"/><rect x="363.37" y="516.1" width="4.91" height="63.3"/><rect x="368.28" y="519.37" width="3.27" height="60.03"/><rect x="371.55" y="527.55" width="4.09" height="51.85"/><rect x="375.64" y="533.28" width="3.27" height="46.12"/><rect x="378.92" y="531.65" width="10.64" height="47.75"/><rect x="389.56" y="539.01" width="3.27" height="40.39"/><rect x="392.83" y="540.98" width="4.91" height="38.42"/><rect x="397.74" y="548.02" width="4.09" height="31.38"/><rect x="401.83" y="570.11" width="2.46" height="9.29"/><rect x="404.29" y="577.48" width="8.18" height="1.92"/></g>
<g stroke="#D84040" stroke-width="0.8" opacity="0.7"><line x1="209.17" x2="209.17" y1="574.7" y2="579.4"/><line x1="212.77" x2="212.77" y1="574.7" y2="579.4"/><line x1="216.04" x2="216.04" y1="575.02" y2="579.4"/><line x1="235.69" x2="235.69" y1="575.02" y2="579.4"/><line x1="241.42" x2="241.42" y1="572.57" y2="579.4"/><line x1="244.69" x2="244.69" y1="567.17" y2="579.4"/><line x1="255.33" x2="255.33" y1="567.17" y2="579.4"/><line x1="260.24" x2="260.24" y1="564.88" y2="579.4"/><line x1="265.15" x2="265.15" y1="564.88" y2="579.4"/><line x1="270.06" x2="270.06" y1="564.88" y2="579.4"/><line x1="274.97" x2="274.97" y1="563.24" y2="579.4"/><line x1="279.88" x2="279.88" y1="561.11" y2="579.4"/><line x1="291.34" x2="291.34" y1="561.6" y2="579.4"/><line x1="297.89" x2="297.89" y1="561.6" y2="579.4"/><line x1="302.8" x2="302.8" y1="559.47" y2="579.4"/><line x1="306.07" x2="306.07" y1="559.47" y2="579.4"/><line x1="309.35" x2="309.35" y1="554.07" y2="579.4"/><line x1="314.26" x2="314.26" y1="557.84" y2="579.4"/><line x1="319.99" x2="319.99" y1="557.84" y2="579.4"/><line x1="331.45" x2="331.45" y1="555.71" y2="579.4"/><line x1="339.63" x2="339.63" y1="550.14" y2="579.4"/><line x1="342.91" x2="342.91" y1="544.74" y2="579.4"/><line x1="347" x2="347" y1="522.32" y2="579.4"/><line x1="351.91" x2="351.91" y1="520.19" y2="579.4"/><line x1="358.46" x2="358.46" y1="515.77" y2="579.4"/><line x1="363.37" x2="363.37" y1="516.1" y2="579.4"/><line x1="368.28" x2="368.28" y1="519.37" y2="579.4"/><line x1="371.55" x2="371.55" y1="527.55" y2="579.4"/><line x1="375.64" x2="375.64" y1="533.28" y2="579.4"/><line x1="378.92" x2="378.92" y1="533.28" y2="579.4"/><line x1="389.56" x2="389.56" y1="539.01" y2="579.4"/><line x1="392.83" x2="392.83" y1="540.98" y2="579.4"/><line x1="397.74" x2="397.74" y1="548.02" y2="579.4"/><line x1="401.83" x2="401.83" y1="570.11" y2="579.4"/></g>
<line x1="216.86" x2="216.86" y1="509.6" y2="649.2" stroke="#D2D2D2" stroke-width="1.3" stroke-dasharray="4 4"/>
<line x1="223.9" x2="223.9" y1="509.6" y2="649.2" stroke="#D2D2D2" stroke-width="1.3" stroke-dasharray="4 4"/>
<line x1="92.45" x2="418.7" y1="579.4" y2="579.4" stroke="#000" stroke-width="3.4" stroke-dasharray="4.3 13.6"/>
<line x1="92.7" x2="92.7" y1="509.6" y2="650.7" stroke="#000" stroke-width="3"/>
<line x1="91.2" x2="417.7" y1="649.2" y2="649.2" stroke="#000" stroke-width="3.1"/>
<line x1="84.8" x2="92.7" y1="541.26" y2="541.26" stroke="#000" stroke-width="3"/>
<text x="77.1" y="549.86" font-size="24.3" text-anchor="end">20</text>
<line x1="84.8" x2="92.7" y1="579.4" y2="579.4" stroke="#000" stroke-width="3"/>
<text x="77.1" y="588" font-size="24.3" text-anchor="end">0</text>
<line x1="84.8" x2="92.7" y1="617.54" y2="617.54" stroke="#000" stroke-width="3"/>
<rect x="517.45" y="459.5" width="325" height="50.1" fill="#EEEEEE"/>
<text x="678.15" y="493.8" font-size="24" font-weight="bold" text-anchor="middle">chr12</text>
<line x1="517.45" x2="842.45" y1="579.4" y2="579.4" stroke="#E6E6E6" stroke-width="2.6"/>
<g fill="#A90000" shape-rendering="crispEdges"><rect x="547.41" y="557.02" width="4.42" height="22.38"/><rect x="717.16" y="557.02" width="34.38" height="22.38"/><rect x="789.19" y="557.02" width="30.28" height="22.38"/></g>
<rect x="538.95" y="557.02" width="1.3" height="22.38" fill="#A90000" opacity="0.3"/>
<rect x="649.94" y="557.02" width="1.3" height="22.38" fill="#A90000" opacity="0.8"/>
<rect x="836.88" y="557.02" width="1.3" height="22.38" fill="#A90000" opacity="0.6"/>
<line x1="602.25" x2="602.25" y1="509.6" y2="649.2" stroke="#D2D2D2" stroke-width="1.3" stroke-dasharray="4 4"/>
<line x1="609.45" x2="609.45" y1="509.6" y2="649.2" stroke="#D2D2D2" stroke-width="1.3" stroke-dasharray="4 4"/>
<line x1="517.2" x2="843.45" y1="579.4" y2="579.4" stroke="#000" stroke-width="3.4" stroke-dasharray="4.3 13.6"/>
<line x1="517.45" x2="517.45" y1="509.6" y2="650.7" stroke="#000" stroke-width="3"/>
<line x1="515.95" x2="842.45" y1="649.2" y2="649.2" stroke="#000" stroke-width="3.1"/>
<line x1="509.55" x2="517.45" y1="509.6" y2="509.6" stroke="#000" stroke-width="3"/>
<text x="501.85" y="518.2" font-size="24.3" text-anchor="end">3</text>
<line x1="509.55" x2="517.45" y1="532.87" y2="532.87" stroke="#000" stroke-width="3"/>
<line x1="509.55" x2="517.45" y1="556.13" y2="556.13" stroke="#000" stroke-width="3"/>
<line x1="509.55" x2="517.45" y1="579.4" y2="579.4" stroke="#000" stroke-width="3"/>
<text x="501.85" y="588" font-size="24.3" text-anchor="end">0</text>
<line x1="509.55" x2="517.45" y1="602.67" y2="602.67" stroke="#000" stroke-width="3"/>
<line x1="509.55" x2="517.45" y1="625.93" y2="625.93" stroke="#000" stroke-width="3"/>
<line x1="509.55" x2="517.45" y1="649.2" y2="649.2" stroke="#000" stroke-width="3"/>
<rect x="942.2" y="459.5" width="325" height="50.1" fill="#EEEEEE"/>
<text x="1102.9" y="493.8" font-size="24" font-weight="bold" text-anchor="middle">chr13</text>
<line x1="942.2" x2="1267.2" y1="579.4" y2="579.4" stroke="#E6E6E6" stroke-width="2.6"/>
<g fill="url(#seam)" shape-rendering="crispEdges"><polygon points="994.02,579.4 994.02,579.28 1005.48,578.63 1013.66,577.97 1018.57,576.66 1021.85,574.7 1025.12,573.72 1030.03,570.11 1034.94,569.3 1038.22,563.57 1040.67,561.11 1044.76,560.29 1046.4,558.33 1051.31,557.02 1052.95,555.05 1055.4,552.93 1061.13,551.29 1063.59,548.83 1069.32,546.87 1072.59,544.74 1075.87,543.1 1077.5,541.96 1079.14,527.88 1080.78,527.23 1082.41,530.83 1084.05,515.77 1085.03,527.55 1086.01,535.74 1087.32,558.66 1090.6,564.38 1093.87,566.02 1098.78,567.17 1103.69,568.15 1110.24,568.48 1113.51,569.3 1120.06,570.11 1124.97,571.75 1136.43,571.75 1138.07,570.93 1151.16,570.93 1152.8,569.79 1169.17,569.79 1170.81,571.75 1185.54,572.08 1188.81,573.06 1198.63,573.39 1200.27,574.04 1218.28,574.04 1221.55,575.84 1226.46,578.79 1251.02,579.12 1260.84,579.28 1260.84,579.4"/></g>
<clipPath id="clchr13"><polygon points="994.02,579.4 994.02,579.28 1005.48,578.63 1013.66,577.97 1018.57,576.66 1021.85,574.7 1025.12,573.72 1030.03,570.11 1034.94,569.3 1038.22,563.57 1040.67,561.11 1044.76,560.29 1046.4,558.33 1051.31,557.02 1052.95,555.05 1055.4,552.93 1061.13,551.29 1063.59,548.83 1069.32,546.87 1072.59,544.74 1075.87,543.1 1077.5,541.96 1079.14,527.88 1080.78,527.23 1082.41,530.83 1084.05,515.77 1085.03,527.55 1086.01,535.74 1087.32,558.66 1090.6,564.38 1093.87,566.02 1098.78,567.17 1103.69,568.15 1110.24,568.48 1113.51,569.3 1120.06,570.11 1124.97,571.75 1136.43,571.75 1138.07,570.93 1151.16,570.93 1152.8,569.79 1169.17,569.79 1170.81,571.75 1185.54,572.08 1188.81,573.06 1198.63,573.39 1200.27,574.04 1218.28,574.04 1221.55,575.84 1226.46,578.79 1251.02,579.12 1260.84,579.28 1260.84,579.4"/></clipPath>
<rect x="1066.04" y="509.6" width="11.46" height="69.8" fill="#FFFFFF" opacity="0.12" clip-path="url(#clchr13)"/>
<rect x="1077.5" y="509.6" width="10.64" height="69.8" fill="#FFFFFF" opacity="0.32" clip-path="url(#clchr13)"/>
<line x1="987.47" x2="987.47" y1="509.6" y2="649.2" stroke="#D2D2D2" stroke-width="1.3" stroke-dasharray="4 4"/>
<line x1="995.98" x2="995.98" y1="509.6" y2="649.2" stroke="#D2D2D2" stroke-width="1.3" stroke-dasharray="4 4"/>
<line x1="941.95" x2="1268.2" y1="579.4" y2="579.4" stroke="#000" stroke-width="3.4" stroke-dasharray="4.3 13.6"/>
<line x1="942.2" x2="942.2" y1="509.6" y2="650.7" stroke="#000" stroke-width="3"/>
<line x1="940.7" x2="1267.2" y1="649.2" y2="649.2" stroke="#000" stroke-width="3.1"/>
<line x1="934.3" x2="942.2" y1="515.75" y2="515.75" stroke="#000" stroke-width="3"/>
<text x="926.6" y="524.35" font-size="24.3" text-anchor="end">60</text>
<line x1="934.3" x2="942.2" y1="547.58" y2="547.58" stroke="#000" stroke-width="3"/>
<line x1="934.3" x2="942.2" y1="579.4" y2="579.4" stroke="#000" stroke-width="3"/>
<text x="926.6" y="588" font-size="24.3" text-anchor="end">0</text>
<line x1="934.3" x2="942.2" y1="611.22" y2="611.22" stroke="#000" stroke-width="3"/>
<line x1="934.3" x2="942.2" y1="643.05" y2="643.05" stroke="#000" stroke-width="3"/>
<rect x="1366.95" y="459.5" width="325" height="50.1" fill="#EEEEEE"/>
<text x="1527.65" y="493.8" font-size="24" font-weight="bold" text-anchor="middle">chr14</text>
<line x1="1366.95" x2="1691.95" y1="579.4" y2="579.4" stroke="#E6E6E6" stroke-width="2.6"/>
<g fill="#A90000" shape-rendering="crispEdges"><rect x="1448.48" y="573.06" width="3.27" height="6.34"/><rect x="1451.76" y="575.84" width="22.1" height="3.56"/><rect x="1473.86" y="574.21" width="101.49" height="5.19"/><rect x="1575.35" y="572.57" width="24.55" height="6.83"/><rect x="1599.9" y="570.44" width="18.82" height="8.96"/><rect x="1618.72" y="568.8" width="34.38" height="10.6"/><rect x="1653.1" y="570.44" width="13.91" height="8.96"/><rect x="1667.01" y="572.57" width="17.19" height="6.83"/><rect x="1684.2" y="574.21" width="4.09" height="5.19"/></g>
<g stroke="#D84040" stroke-width="0.8" opacity="0.7"><line x1="1451.76" x2="1451.76" y1="575.84" y2="579.4"/><line x1="1473.86" x2="1473.86" y1="575.84" y2="579.4"/><line x1="1575.35" x2="1575.35" y1="574.21" y2="579.4"/><line x1="1599.9" x2="1599.9" y1="572.57" y2="579.4"/><line x1="1618.72" x2="1618.72" y1="570.44" y2="579.4"/><line x1="1653.1" x2="1653.1" y1="570.44" y2="579.4"/><line x1="1667.01" x2="1667.01" y1="572.57" y2="579.4"/><line x1="1684.2" x2="1684.2" y1="574.21" y2="579.4"/></g>
<rect x="1686.55" y="533.28" width="1.3" height="46.12" fill="#A90000" opacity="0.7"/>
<rect x="1538.73" y="570.11" width="1.3" height="9.29" fill="#A90000" opacity="0.6"/>
<rect x="1584.57" y="568.48" width="1.3" height="10.92" fill="#A90000" opacity="0.6"/>
<line x1="1415.42" x2="1415.42" y1="509.6" y2="649.2" stroke="#D2D2D2" stroke-width="1.3" stroke-dasharray="4 4"/>
<line x1="1424.75" x2="1424.75" y1="509.6" y2="649.2" stroke="#D2D2D2" stroke-width="1.3" stroke-dasharray="4 4"/>
<line x1="1366.7" x2="1692.95" y1="579.4" y2="579.4" stroke="#000" stroke-width="3.4" stroke-dasharray="4.3 13.6"/>
<line x1="1366.95" x2="1366.95" y1="509.6" y2="650.7" stroke="#000" stroke-width="3"/>
<line x1="1365.45" x2="1691.95" y1="649.2" y2="649.2" stroke="#000" stroke-width="3.1"/>
<line x1="1359.05" x2="1366.95" y1="540.08" y2="540.08" stroke="#000" stroke-width="3"/>
<text x="1351.35" y="548.68" font-size="24.3" text-anchor="end">20</text>
<line x1="1359.05" x2="1366.95" y1="579.4" y2="579.4" stroke="#000" stroke-width="3"/>
<text x="1351.35" y="588" font-size="24.3" text-anchor="end">0</text>
<line x1="1359.05" x2="1366.95" y1="618.72" y2="618.72" stroke="#000" stroke-width="3"/>
<rect x="1791.7" y="459.5" width="325" height="50.1" fill="#EEEEEE"/>
<text x="1952.4" y="493.8" font-size="24" font-weight="bold" text-anchor="middle">chr15</text>
<line x1="1791.7" x2="2116.7" y1="579.4" y2="579.4" stroke="#E6E6E6" stroke-width="2.6"/>
<line x1="1791.7" x2="2116.7" y1="541.05" y2="541.05" stroke="#E6E6E6" stroke-width="2.6"/>
<line x1="1791.7" x2="2116.7" y1="617.75" y2="617.75" stroke="#E6E6E6" stroke-width="2.6"/>
<g fill="#A90000" shape-rendering="crispEdges"><rect x="1864.48" y="572.57" width="5.73" height="6.83"/><rect x="1870.21" y="564.88" width="1.64" height="14.52"/><rect x="1871.85" y="572.57" width="3.6" height="6.83"/><rect x="1875.45" y="564.88" width="7.04" height="14.52"/><rect x="1882.49" y="549.65" width="7.04" height="29.75"/><rect x="1889.53" y="541.96" width="4.42" height="37.44"/><rect x="1893.94" y="557.02" width="2.46" height="22.38"/><rect x="1896.4" y="549.65" width="1.64" height="29.75"/><rect x="1898.04" y="557.02" width="1.64" height="22.38"/><rect x="1899.67" y="549.65" width="4.58" height="29.75"/><rect x="1904.26" y="541.96" width="5.24" height="37.44"/><rect x="1909.5" y="549.65" width="5.73" height="29.75"/><rect x="1915.23" y="541.96" width="5.73" height="37.44"/><rect x="1920.95" y="526.24" width="12.28" height="53.16"/><rect x="1933.23" y="518.55" width="2.46" height="60.85"/><rect x="1935.69" y="541.96" width="2.46" height="37.44"/><rect x="1938.14" y="526.24" width="1.64" height="53.16"/><rect x="1939.78" y="541.96" width="3.27" height="37.44"/><rect x="1943.05" y="518.55" width="9.82" height="60.85"/><rect x="1952.87" y="526.24" width="1.64" height="53.16"/><rect x="1954.51" y="534.1" width="16.37" height="45.3"/><rect x="1970.88" y="526.24" width="2.46" height="53.16"/><rect x="1973.34" y="534.1" width="4.91" height="45.3"/><rect x="1978.25" y="541.96" width="13.42" height="37.44"/><rect x="1991.67" y="534.1" width="24.23" height="45.3"/><rect x="2015.9" y="526.24" width="4.09" height="53.16"/><rect x="2019.99" y="534.1" width="4.91" height="45.3"/><rect x="2024.9" y="526.24" width="7.37" height="53.16"/><rect x="2032.27" y="511.18" width="6.55" height="68.22"/><rect x="2038.81" y="518.55" width="3.27" height="60.85"/><rect x="2042.09" y="526.24" width="3.27" height="53.16"/><rect x="2045.36" y="518.55" width="5.73" height="60.85"/><rect x="2051.09" y="526.24" width="4.09" height="53.16"/><rect x="2055.18" y="534.1" width="8.51" height="45.3"/><rect x="2063.69" y="541.96" width="5.4" height="37.44"/><rect x="2069.1" y="549.65" width="17.52" height="29.75"/><rect x="2086.61" y="557.02" width="11.13" height="22.38"/><rect x="2097.74" y="572.57" width="12.77" height="6.83"/></g>
<g stroke="#D84040" stroke-width="0.8" opacity="0.7"><line x1="1870.21" x2="1870.21" y1="572.57" y2="579.4"/><line x1="1871.85" x2="1871.85" y1="572.57" y2="579.4"/><line x1="1875.45" x2="1875.45" y1="572.57" y2="579.4"/><line x1="1882.49" x2="1882.49" y1="564.88" y2="579.4"/><line x1="1889.53" x2="1889.53" y1="549.65" y2="579.4"/><line x1="1893.94" x2="1893.94" y1="557.02" y2="579.4"/><line x1="1896.4" x2="1896.4" y1="557.02" y2="579.4"/><line x1="1898.04" x2="1898.04" y1="557.02" y2="579.4"/><line x1="1899.67" x2="1899.67" y1="557.02" y2="579.4"/><line x1="1904.26" x2="1904.26" y1="549.65" y2="579.4"/><line x1="1909.5" x2="1909.5" y1="549.65" y2="579.4"/><line x1="1915.23" x2="1915.23" y1="549.65" y2="579.4"/><line x1="1920.95" x2="1920.95" y1="541.96" y2="579.4"/><line x1="1933.23" x2="1933.23" y1="526.24" y2="579.4"/><line x1="1935.69" x2="1935.69" y1="541.96" y2="579.4"/><line x1="1938.14" x2="1938.14" y1="541.96" y2="579.4"/><line x1="1939.78" x2="1939.78" y1="541.96" y2="579.4"/><line x1="1943.05" x2="1943.05" y1="541.96" y2="579.4"/><line x1="1952.87" x2="1952.87" y1="526.24" y2="579.4"/><line x1="1954.51" x2="1954.51" y1="534.1" y2="579.4"/><line x1="1970.88" x2="1970.88" y1="534.1" y2="579.4"/><line x1="1973.34" x2="1973.34" y1="534.1" y2="579.4"/><line x1="1978.25" x2="1978.25" y1="541.96" y2="579.4"/><line x1="1991.67" x2="1991.67" y1="541.96" y2="579.4"/><line x1="2015.9" x2="2015.9" y1="534.1" y2="579.4"/><line x1="2019.99" x2="2019.99" y1="534.1" y2="579.4"/><line x1="2024.9" x2="2024.9" y1="534.1" y2="579.4"/><line x1="2032.27" x2="2032.27" y1="526.24" y2="579.4"/><line x1="2038.81" x2="2038.81" y1="518.55" y2="579.4"/><line x1="2042.09" x2="2042.09" y1="526.24" y2="579.4"/><line x1="2045.36" x2="2045.36" y1="526.24" y2="579.4"/><line x1="2051.09" x2="2051.09" y1="526.24" y2="579.4"/><line x1="2055.18" x2="2055.18" y1="534.1" y2="579.4"/><line x1="2063.69" x2="2063.69" y1="541.96" y2="579.4"/><line x1="2069.1" x2="2069.1" y1="549.65" y2="579.4"/><line x1="2086.61" x2="2086.61" y1="557.02" y2="579.4"/><line x1="2097.74" x2="2097.74" y1="572.57" y2="579.4"/></g>
<rect x="1942.94" y="512.82" width="1.3" height="66.58" fill="#A90000" opacity="0.6"/>
<rect x="2068.5" y="534.1" width="1.3" height="45.3" fill="#A90000" opacity="0.6"/>
<line x1="1845.33" x2="1845.33" y1="509.6" y2="649.2" stroke="#D2D2D2" stroke-width="1.3" stroke-dasharray="4 4"/>
<line x1="1854.66" x2="1854.66" y1="509.6" y2="649.2" stroke="#D2D2D2" stroke-width="1.3" stroke-dasharray="4 4"/>
<line x1="1791.45" x2="2117.7" y1="579.4" y2="579.4" stroke="#000" stroke-width="3.4" stroke-dasharray="4.3 13.6"/>
<line x1="1791.7" x2="1791.7" y1="509.6" y2="650.7" stroke="#000" stroke-width="3"/>
<line x1="1790.2" x2="2116.7" y1="649.2" y2="649.2" stroke="#000" stroke-width="3.1"/>
<line x1="1783.8" x2="1791.7" y1="541.05" y2="541.05" stroke="#000" stroke-width="3"/>
<text x="1776.1" y="549.65" font-size="24.3" text-anchor="end">5</text>
<line x1="1783.8" x2="1791.7" y1="579.4" y2="579.4" stroke="#000" stroke-width="3"/>
<text x="1776.1" y="588" font-size="24.3" text-anchor="end">0</text>
<line x1="1783.8" x2="1791.7" y1="617.75" y2="617.75" stroke="#000" stroke-width="3"/>
<text x="1776.1" y="626.35" font-size="24.3" text-anchor="end">−5</text>
<rect x="92.7" y="685.85" width="325" height="50.1" fill="#EEEEEE"/>
<text x="253.4" y="720.15" font-size="24" font-weight="bold" text-anchor="middle">chr16</text>
<line x1="92.7" x2="417.7" y1="805.75" y2="805.75" stroke="#E6E6E6" stroke-width="2.6"/>
<g fill="#A90000" shape-rendering="crispEdges"><rect x="105.55" y="771.89" width="23.41" height="33.86"/><rect x="128.96" y="737.18" width="23.57" height="68.57"/><rect x="152.53" y="771.89" width="3.76" height="33.86"/><rect x="156.3" y="737.18" width="8.68" height="68.57"/><rect x="208.19" y="771.89" width="5.89" height="33.86"/><rect x="345.03" y="737.18" width="14.73" height="68.57"/><rect x="410.51" y="771.89" width="3.27" height="33.86"/></g>
<g stroke="#D84040" stroke-width="0.8" opacity="0.7"><line x1="128.96" x2="128.96" y1="771.89" y2="805.75"/><line x1="152.53" x2="152.53" y1="771.89" y2="805.75"/><line x1="156.3" x2="156.3" y1="771.89" y2="805.75"/></g>
<rect x="292.38" y="737.18" width="1.3" height="68.57" fill="#A90000" opacity="0.35"/>
<rect x="328.06" y="771.89" width="1.3" height="33.86" fill="#A90000" opacity="0.35"/>
<line x1="219.81" x2="219.81" y1="735.95" y2="875.55" stroke="#D2D2D2" stroke-width="1.3" stroke-dasharray="4 4"/>
<line x1="230.28" x2="230.28" y1="735.95" y2="875.55" stroke="#D2D2D2" stroke-width="1.3" stroke-dasharray="4 4"/>
<line x1="92.45" x2="418.7" y1="805.75" y2="805.75" stroke="#000" stroke-width="3.4" stroke-dasharray="4.3 13.6"/>
<line x1="92.7" x2="92.7" y1="735.95" y2="877.05" stroke="#000" stroke-width="3"/>
<line x1="91.2" x2="417.7" y1="875.55" y2="875.55" stroke="#000" stroke-width="3.1"/>
<line x1="84.8" x2="92.7" y1="735.95" y2="735.95" stroke="#000" stroke-width="3"/>
<text x="77.1" y="744.55" font-size="24.3" text-anchor="end">2</text>
<line x1="84.8" x2="92.7" y1="770.85" y2="770.85" stroke="#000" stroke-width="3"/>
<line x1="84.8" x2="92.7" y1="805.75" y2="805.75" stroke="#000" stroke-width="3"/>
<text x="77.1" y="814.35" font-size="24.3" text-anchor="end">0</text>
<line x1="84.8" x2="92.7" y1="840.65" y2="840.65" stroke="#000" stroke-width="3"/>
<line x1="84.8" x2="92.7" y1="875.55" y2="875.55" stroke="#000" stroke-width="3"/>
<rect x="517.45" y="685.85" width="325" height="50.1" fill="#EEEEEE"/>
<text x="678.15" y="720.15" font-size="24" font-weight="bold" text-anchor="middle">chr17</text>
<line x1="517.45" x2="842.45" y1="805.75" y2="805.75" stroke="#E6E6E6" stroke-width="2.6"/>
<g fill="#A90000" shape-rendering="crispEdges"><rect x="524" y="795.3" width="2.13" height="10.45"/><rect x="526.13" y="789.57" width="3.6" height="16.18"/><rect x="529.73" y="783.84" width="2.46" height="21.91"/><rect x="532.19" y="778.11" width="3.27" height="27.64"/><rect x="535.46" y="766.32" width="3.27" height="39.43"/><rect x="538.74" y="760.1" width="5.73" height="45.65"/><rect x="544.46" y="737.18" width="6.88" height="68.57"/><rect x="551.34" y="742.91" width="3.27" height="62.84"/><rect x="554.61" y="748.64" width="4.58" height="57.11"/><rect x="559.2" y="754.37" width="5.24" height="51.38"/><rect x="564.44" y="766.32" width="21.77" height="39.43"/><rect x="586.21" y="771.89" width="3.76" height="33.86"/><rect x="589.97" y="778.11" width="4.42" height="27.64"/><rect x="594.39" y="766.32" width="9" height="39.43"/><rect x="603.39" y="771.89" width="2.46" height="33.86"/><rect x="605.85" y="766.32" width="17.19" height="39.43"/><rect x="623.04" y="771.89" width="8.18" height="33.86"/><rect x="631.22" y="783.84" width="9" height="21.91"/><rect x="640.23" y="789.57" width="2.78" height="16.18"/><rect x="643.01" y="801.02" width="7.04" height="4.73"/><rect x="650.05" y="795.3" width="24.55" height="10.45"/><rect x="674.6" y="783.51" width="15.22" height="22.24"/><rect x="689.82" y="789.57" width="5.24" height="16.18"/><rect x="695.06" y="783.51" width="1.96" height="22.24"/><rect x="697.03" y="789.57" width="34.87" height="16.18"/><rect x="731.89" y="783.51" width="7.37" height="22.24"/><rect x="739.26" y="789.57" width="21.28" height="16.18"/><rect x="760.54" y="795.3" width="37.32" height="10.45"/><rect x="797.86" y="801.02" width="21.28" height="4.73"/></g>
<g stroke="#D84040" stroke-width="0.8" opacity="0.7"><line x1="526.13" x2="526.13" y1="795.3" y2="805.75"/><line x1="529.73" x2="529.73" y1="789.57" y2="805.75"/><line x1="532.19" x2="532.19" y1="783.84" y2="805.75"/><line x1="535.46" x2="535.46" y1="778.11" y2="805.75"/><line x1="538.74" x2="538.74" y1="766.32" y2="805.75"/><line x1="544.46" x2="544.46" y1="760.1" y2="805.75"/><line x1="551.34" x2="551.34" y1="742.91" y2="805.75"/><line x1="554.61" x2="554.61" y1="748.64" y2="805.75"/><line x1="559.2" x2="559.2" y1="754.37" y2="805.75"/><line x1="564.44" x2="564.44" y1="766.32" y2="805.75"/><line x1="586.21" x2="586.21" y1="771.89" y2="805.75"/><line x1="589.97" x2="589.97" y1="778.11" y2="805.75"/><line x1="594.39" x2="594.39" y1="778.11" y2="805.75"/><line x1="603.39" x2="603.39" y1="771.89" y2="805.75"/><line x1="605.85" x2="605.85" y1="771.89" y2="805.75"/><line x1="623.04" x2="623.04" y1="771.89" y2="805.75"/><line x1="631.22" x2="631.22" y1="783.84" y2="805.75"/><line x1="640.23" x2="640.23" y1="789.57" y2="805.75"/><line x1="643.01" x2="643.01" y1="801.02" y2="805.75"/><line x1="650.05" x2="650.05" y1="801.02" y2="805.75"/><line x1="674.6" x2="674.6" y1="795.3" y2="805.75"/><line x1="689.82" x2="689.82" y1="789.57" y2="805.75"/><line x1="695.06" x2="695.06" y1="789.57" y2="805.75"/><line x1="697.03" x2="697.03" y1="789.57" y2="805.75"/><line x1="731.89" x2="731.89" y1="789.57" y2="805.75"/><line x1="739.26" x2="739.26" y1="789.57" y2="805.75"/><line x1="760.54" x2="760.54" y1="795.3" y2="805.75"/><line x1="797.86" x2="797.86" y1="801.02" y2="805.75"/></g>
<rect x="629.8" y="760.1" width="1.3" height="45.65" fill="#A90000" opacity="0.8"/>
<rect x="676.95" y="778.11" width="1.3" height="27.64" fill="#A90000" opacity="0.8"/>
<rect x="585.12" y="760.1" width="1.3" height="45.65" fill="#A90000" opacity="0.5"/>
<line x1="603.89" x2="603.89" y1="735.95" y2="875.55" stroke="#D2D2D2" stroke-width="1.3" stroke-dasharray="4 4"/>
<line x1="615.34" x2="615.34" y1="735.95" y2="875.55" stroke="#D2D2D2" stroke-width="1.3" stroke-dasharray="4 4"/>
<line x1="517.2" x2="843.45" y1="805.75" y2="805.75" stroke="#000" stroke-width="3.4" stroke-dasharray="4.3 13.6"/>
<line x1="517.45" x2="517.45" y1="735.95" y2="877.05" stroke="#000" stroke-width="3"/>
<line x1="515.95" x2="842.45" y1="875.55" y2="875.55" stroke="#000" stroke-width="3.1"/>
<line x1="509.55" x2="517.45" y1="747.58" y2="747.58" stroke="#000" stroke-width="3"/>
<text x="501.85" y="756.18" font-size="24.3" text-anchor="end">10</text>
<line x1="509.55" x2="517.45" y1="776.67" y2="776.67" stroke="#000" stroke-width="3"/>
<line x1="509.55" x2="517.45" y1="805.75" y2="805.75" stroke="#000" stroke-width="3"/>
<text x="501.85" y="814.35" font-size="24.3" text-anchor="end">0</text>
<line x1="509.55" x2="517.45" y1="834.83" y2="834.83" stroke="#000" stroke-width="3"/>
<line x1="509.55" x2="517.45" y1="863.92" y2="863.92" stroke="#000" stroke-width="3"/>
<rect x="942.2" y="685.85" width="325" height="50.1" fill="#EEEEEE"/>
<text x="1102.9" y="720.15" font-size="24" font-weight="bold" text-anchor="middle">chr18</text>
<line x1="942.2" x2="1267.2" y1="805.75" y2="805.75" stroke="#E6E6E6" stroke-width="2.6"/>
<g fill="#A90000" shape-rendering="crispEdges"><rect x="1123.01" y="772.38" width="45.83" height="33.37"/></g>
<rect x="986.87" y="737.18" width="1.3" height="68.57" fill="#A90000" opacity="0.35"/>
<rect x="1147.62" y="737.18" width="1.3" height="68.57" fill="#A90000" opacity="1.0"/>
<rect x="1176.75" y="772.38" width="1.3" height="33.37" fill="#A90000" opacity="0.35"/>
<line x1="1004.33" x2="1004.33" y1="735.95" y2="875.55" stroke="#D2D2D2" stroke-width="1.3" stroke-dasharray="4 4"/>
<line x1="1016.61" x2="1016.61" y1="735.95" y2="875.55" stroke="#D2D2D2" stroke-width="1.3" stroke-dasharray="4 4"/>
<line x1="941.95" x2="1268.2" y1="805.75" y2="805.75" stroke="#000" stroke-width="3.4" stroke-dasharray="4.3 13.6"/>
<line x1="942.2" x2="942.2" y1="735.95" y2="877.05" stroke="#000" stroke-width="3"/>
<line x1="940.7" x2="1267.2" y1="875.55" y2="875.55" stroke="#000" stroke-width="3.1"/>
<line x1="934.3" x2="942.2" y1="735.95" y2="735.95" stroke="#000" stroke-width="3"/>
<text x="926.6" y="744.55" font-size="24.3" text-anchor="end">2</text>
<line x1="934.3" x2="942.2" y1="770.85" y2="770.85" stroke="#000" stroke-width="3"/>
<line x1="934.3" x2="942.2" y1="805.75" y2="805.75" stroke="#000" stroke-width="3"/>
<text x="926.6" y="814.35" font-size="24.3" text-anchor="end">0</text>
<line x1="934.3" x2="942.2" y1="840.65" y2="840.65" stroke="#000" stroke-width="3"/>
<line x1="934.3" x2="942.2" y1="875.55" y2="875.55" stroke="#000" stroke-width="3"/>
<rect x="1366.95" y="685.85" width="325" height="50.1" fill="#EEEEEE"/>
<text x="1527.65" y="720.15" font-size="24" font-weight="bold" text-anchor="middle">chr19</text>
<line x1="1366.95" x2="1691.95" y1="805.75" y2="805.75" stroke="#E6E6E6" stroke-width="2.6"/>
<g fill="#A90000" shape-rendering="crispEdges"><rect x="1562.25" y="783.84" width="31.1" height="21.91"/></g>
<rect x="1592.75" y="737.18" width="1.3" height="68.57" fill="#A90000" opacity="1.0"/>
<rect x="1657.41" y="783.84" width="1.3" height="21.91" fill="#A90000" opacity="1.0"/>
<line x1="1503.32" x2="1503.32" y1="735.95" y2="875.55" stroke="#D2D2D2" stroke-width="1.3" stroke-dasharray="4 4"/>
<line x1="1519.69" x2="1519.69" y1="735.95" y2="875.55" stroke="#D2D2D2" stroke-width="1.3" stroke-dasharray="4 4"/>
<line x1="1366.7" x2="1692.95" y1="805.75" y2="805.75" stroke="#000" stroke-width="3.4" stroke-dasharray="4.3 13.6"/>
<line x1="1366.95" x2="1366.95" y1="735.95" y2="877.05" stroke="#000" stroke-width="3"/>
<line x1="1365.45" x2="1691.95" y1="875.55" y2="875.55" stroke="#000" stroke-width="3.1"/>
<line x1="1359.05" x2="1366.95" y1="735.95" y2="735.95" stroke="#000" stroke-width="3"/>
<text x="1351.35" y="744.55" font-size="24.3" text-anchor="end">3</text>
<line x1="1359.05" x2="1366.95" y1="759.22" y2="759.22" stroke="#000" stroke-width="3"/>
<line x1="1359.05" x2="1366.95" y1="782.48" y2="782.48" stroke="#000" stroke-width="3"/>
<line x1="1359.05" x2="1366.95" y1="805.75" y2="805.75" stroke="#000" stroke-width="3"/>
<text x="1351.35" y="814.35" font-size="24.3" text-anchor="end">0</text>
<line x1="1359.05" x2="1366.95" y1="829.02" y2="829.02" stroke="#000" stroke-width="3"/>
<line x1="1359.05" x2="1366.95" y1="852.28" y2="852.28" stroke="#000" stroke-width="3"/>
<line x1="1359.05" x2="1366.95" y1="875.55" y2="875.55" stroke="#000" stroke-width="3"/>
<rect x="1791.7" y="685.85" width="325" height="50.1" fill="#EEEEEE"/>
<text x="1952.4" y="720.15" font-size="24" font-weight="bold" text-anchor="middle">chr20</text>
<line x1="1791.7" x2="2116.7" y1="805.75" y2="805.75" stroke="#E6E6E6" stroke-width="2.6"/>
<g fill="#A90000" shape-rendering="crispEdges"><rect x="1821.92" y="795.3" width="16.37" height="10.45"/><rect x="1838.29" y="783.84" width="9.82" height="21.91"/><rect x="1848.11" y="772.38" width="103.62" height="33.37"/><rect x="1951.73" y="760.1" width="6.06" height="45.65"/><rect x="1957.79" y="772.38" width="21.28" height="33.37"/><rect x="1979.07" y="783.84" width="11.46" height="21.91"/></g>
<g stroke="#D84040" stroke-width="0.8" opacity="0.7"><line x1="1838.29" x2="1838.29" y1="795.3" y2="805.75"/><line x1="1848.11" x2="1848.11" y1="783.84" y2="805.75"/><line x1="1951.73" x2="1951.73" y1="772.38" y2="805.75"/><line x1="1957.79" x2="1957.79" y1="772.38" y2="805.75"/><line x1="1979.07" x2="1979.07" y1="783.84" y2="805.75"/></g>
<rect x="1951.46" y="737.18" width="1.3" height="68.57" fill="#A90000" opacity="0.3"/>
<line x1="1923.9" x2="1923.9" y1="735.95" y2="875.55" stroke="#D2D2D2" stroke-width="1.3" stroke-dasharray="4 4"/>
<line x1="1938.96" x2="1938.96" y1="735.95" y2="875.55" stroke="#D2D2D2" stroke-width="1.3" stroke-dasharray="4 4"/>
<line x1="1791.45" x2="2117.7" y1="805.75" y2="805.75" stroke="#000" stroke-width="3.4" stroke-dasharray="4.3 13.6"/>
<line x1="1791.7" x2="1791.7" y1="735.95" y2="877.05" stroke="#000" stroke-width="3"/>
<line x1="1790.2" x2="2116.7" y1="875.55" y2="875.55" stroke="#000" stroke-width="3.1"/>
<line x1="1783.8" x2="1791.7" y1="735.95" y2="735.95" stroke="#000" stroke-width="3"/>
<text x="1776.1" y="744.55" font-size="24.3" text-anchor="end">6</text>
<line x1="1783.8" x2="1791.7" y1="770.85" y2="770.85" stroke="#000" stroke-width="3"/>
<line x1="1783.8" x2="1791.7" y1="805.75" y2="805.75" stroke="#000" stroke-width="3"/>
<text x="1776.1" y="814.35" font-size="24.3" text-anchor="end">0</text>
<line x1="1783.8" x2="1791.7" y1="840.65" y2="840.65" stroke="#000" stroke-width="3"/>
<line x1="1783.8" x2="1791.7" y1="875.55" y2="875.55" stroke="#000" stroke-width="3"/>
<rect x="92.7" y="912.2" width="325" height="50.1" fill="#EEEEEE"/>
<text x="253.4" y="946.5" font-size="24" font-weight="bold" text-anchor="middle">chr21</text>
<line x1="92.7" x2="417.7" y1="1032.1" y2="1032.1" stroke="#E6E6E6" stroke-width="2.6"/>
<g fill="#A90000" shape-rendering="crispEdges"><rect x="247.96" y="998.38" width="13.91" height="33.72"/></g>
<rect x="370.95" y="964.82" width="1.3" height="67.28" fill="#A90000" opacity="0.07"/>
<line x1="171.03" x2="171.03" y1="962.3" y2="1101.9" stroke="#D2D2D2" stroke-width="1.3" stroke-dasharray="4 4"/>
<line x1="191.98" x2="191.98" y1="962.3" y2="1101.9" stroke="#D2D2D2" stroke-width="1.3" stroke-dasharray="4 4"/>
<line x1="92.45" x2="418.7" y1="1032.1" y2="1032.1" stroke="#000" stroke-width="3.4" stroke-dasharray="4.3 13.6"/>
<line x1="92.7" x2="92.7" y1="962.3" y2="1103.4" stroke="#000" stroke-width="3"/>
<line x1="91.2" x2="417.7" y1="1101.9" y2="1101.9" stroke="#000" stroke-width="3.1"/>
<line x1="84.8" x2="92.7" y1="962.3" y2="962.3" stroke="#000" stroke-width="3"/>
<text x="77.1" y="970.9" font-size="24.3" text-anchor="end">2</text>
<line x1="84.8" x2="92.7" y1="997.2" y2="997.2" stroke="#000" stroke-width="3"/>
<line x1="84.8" x2="92.7" y1="1032.1" y2="1032.1" stroke="#000" stroke-width="3"/>
<text x="77.1" y="1040.7" font-size="24.3" text-anchor="end">0</text>
<line x1="84.8" x2="92.7" y1="1067" y2="1067" stroke="#000" stroke-width="3"/>
<line x1="84.8" x2="92.7" y1="1101.9" y2="1101.9" stroke="#000" stroke-width="3"/>
<rect x="517.45" y="912.2" width="325" height="50.1" fill="#EEEEEE"/>
<text x="678.15" y="946.5" font-size="24" font-weight="bold" text-anchor="middle">chr22</text>
<line x1="517.45" x2="842.45" y1="1032.1" y2="1032.1" stroke="#E6E6E6" stroke-width="2.6"/>
<g fill="#A90000" shape-rendering="crispEdges"><rect x="636.95" y="1005.74" width="1.64" height="26.36"/><rect x="638.59" y="991.83" width="8.18" height="40.27"/><rect x="646.77" y="1005.74" width="2.78" height="26.36"/><rect x="649.56" y="977.59" width="3.27" height="54.51"/><rect x="652.83" y="991.83" width="2.95" height="40.27"/><rect x="655.78" y="1019.66" width="7.37" height="12.44"/><rect x="663.14" y="1019.66" width="10.97" height="12.44"/></g>
<g stroke="#D84040" stroke-width="0.8" opacity="0.7"><line x1="638.59" x2="638.59" y1="1005.74" y2="1032.1"/><line x1="646.77" x2="646.77" y1="1005.74" y2="1032.1"/><line x1="649.56" x2="649.56" y1="1005.74" y2="1032.1"/><line x1="652.83" x2="652.83" y1="991.83" y2="1032.1"/><line x1="655.78" x2="655.78" y1="1019.66" y2="1032.1"/><line x1="663.14" x2="663.14" y1="1019.66" y2="1032.1"/></g>
<rect x="652.39" y="964" width="1.3" height="68.1" fill="#A90000" opacity="0.7"/>
<rect x="662.54" y="1005.42" width="1.3" height="26.68" fill="#A90000" opacity="0.7"/>
<line x1="600.45" x2="600.45" y1="962.3" y2="1101.9" stroke="#D2D2D2" stroke-width="1.3" stroke-dasharray="4 4"/>
<line x1="619.76" x2="619.76" y1="962.3" y2="1101.9" stroke="#D2D2D2" stroke-width="1.3" stroke-dasharray="4 4"/>
<line x1="517.2" x2="843.45" y1="1032.1" y2="1032.1" stroke="#000" stroke-width="3.4" stroke-dasharray="4.3 13.6"/>
<line x1="517.45" x2="517.45" y1="962.3" y2="1103.4" stroke="#000" stroke-width="3"/>
<line x1="515.95" x2="842.45" y1="1101.9" y2="1101.9" stroke="#000" stroke-width="3.1"/>
<line x1="509.55" x2="517.45" y1="962.3" y2="962.3" stroke="#000" stroke-width="3"/>
<text x="501.85" y="970.9" font-size="24.3" text-anchor="end">5.0</text>
<line x1="509.55" x2="517.45" y1="997.2" y2="997.2" stroke="#000" stroke-width="3"/>
<line x1="509.55" x2="517.45" y1="1032.1" y2="1032.1" stroke="#000" stroke-width="3"/>
<text x="501.85" y="1040.7" font-size="24.3" text-anchor="end">0.0</text>
<line x1="509.55" x2="517.45" y1="1067" y2="1067" stroke="#000" stroke-width="3"/>
<line x1="509.55" x2="517.45" y1="1101.9" y2="1101.9" stroke="#000" stroke-width="3"/>
<text transform="translate(27.3,564) rotate(-90)" font-size="33" font-weight="bold" text-anchor="middle"># of inversions</text>
<text x="977.7" y="1136.7" font-size="29.6" font-weight="bold" text-anchor="middle">Genomic coordinates</text>
<text x="26" y="1220" font-size="52" font-weight="bold" transform="matrix(1.173,0,0,1.129,-7.29,-156.7)">b</text>
<rect x="197.5" y="1180.7" width="67.2" height="51.1" fill="#EEEEEE"/>
<text x="229.5" y="1214.95" font-size="24" font-weight="bold" text-anchor="middle">1</text>
<line x1="197.5" x2="264.7" y1="1261" y2="1261" stroke="#E4E4E4" stroke-width="2.4"/>
<line x1="197.5" x2="264.7" y1="1330.73" y2="1330.73" stroke="#E4E4E4" stroke-width="2.4"/>
<line x1="197.5" x2="264.7" y1="1400.47" y2="1400.47" stroke="#E4E4E4" stroke-width="2.4"/>
<line x1="197.5" x2="264.7" y1="1470.2" y2="1470.2" stroke="#E4E4E4" stroke-width="2.4"/>
<clipPath id="cb0"><rect x="197.5" y="1231.8" width="67.2" height="285.5"/></clipPath><g clip-path="url(#cb0)">
<g class="pt" fill="url(#pg)"><circle cx="214" cy="1250" r="4.6"/><circle cx="205" cy="1260" r="4.6"/><circle cx="205" cy="1266" r="4.6"/><circle cx="207" cy="1271" r="4.6"/><circle cx="210" cy="1275" r="4.6"/><circle cx="205" cy="1278" r="4.6"/><circle cx="212" cy="1280" r="4.6"/><circle cx="205" cy="1286" r="4.6"/><circle cx="205" cy="1291" r="4.6"/><circle cx="207" cy="1309" r="4.6"/><circle cx="207" cy="1323" r="4.6"/><circle cx="207" cy="1344" r="4.6"/><circle cx="215" cy="1263" r="4.6"/><circle cx="257" cy="1378" r="4.6"/><circle cx="242" cy="1387" r="4.6"/><circle cx="228" cy="1398" r="4.6"/><circle cx="215" cy="1404" r="4.6"/><circle cx="218" cy="1407" r="4.6"/><circle cx="220" cy="1411" r="4.6"/><circle cx="227" cy="1418" r="4.6"/><circle cx="258" cy="1410" r="4.6"/><circle cx="255" cy="1412" r="4.6"/><circle cx="205" cy="1432" r="4.6"/><circle cx="208" cy="1430" r="4.6"/><circle cx="217" cy="1434" r="4.6"/><circle cx="227" cy="1431" r="4.6"/><circle cx="218" cy="1440" r="4.6"/><circle cx="219" cy="1444" r="4.6"/><circle cx="248" cy="1432" r="4.6"/><circle cx="257" cy="1427" r="4.6"/><circle cx="257" cy="1438" r="4.6"/><circle cx="219" cy="1451" r="4.6"/><circle cx="219" cy="1467" r="4.6"/><circle cx="224" cy="1467" r="4.6"/><circle cx="219" cy="1473" r="4.6"/><circle cx="219" cy="1483" r="4.6"/><circle cx="248" cy="1483" r="4.6"/><circle cx="259" cy="1483" r="4.6"/><circle cx="219" cy="1494" r="4.6"/><circle cx="220" cy="1505" r="4.6"/><circle cx="228" cy="1505" r="4.6"/><circle cx="202" cy="1489" r="4.6"/><circle cx="226" cy="1516" r="4.6"/><circle cx="250" cy="1516" r="4.6"/></g>
<g class="pt" fill="url(#pr)"><circle cx="206" cy="1449" r="4.6"/><circle cx="206" cy="1471" r="4.6"/><circle cx="206" cy="1487" r="4.6"/><circle cx="206" cy="1515" r="4.6"/></g>
<path stroke="#00F" stroke-width="4.5" stroke-opacity="0.1" d="M262.45 1248v3M262.45 1258v10M262.45 1270v8M262.45 1279v2M262.45 1284v4M262.45 1289v4M262.45 1308v3M262.45 1321v3M262.45 1343v3M262.45 1377v3M262.45 1385v3M262.45 1397v3M262.45 1402v7M262.45 1412v2M262.45 1417v3M262.45 1425v4M262.45 1434v2M262.45 1437v1M262.45 1440v6M262.45 1447v2M262.45 1451v1M262.45 1468v1M262.45 1470v1M262.45 1473v2M262.45 1481v1M262.45 1484v1M262.45 1486v1M262.45 1489v2M262.45 1492v4"/><path stroke="#00F" stroke-width="4.5" stroke-opacity="0.2" d="M262.45 1278v1M262.45 1409v3M262.45 1429v5M262.45 1438v2M262.45 1449v2M262.45 1466v2M262.45 1471v2M262.45 1482v2M262.45 1487v2M262.45 1503v3"/>
</g>
<path stroke="#00F" stroke-width="10" stroke-opacity="0.05" d="M240 1237.3h1"/><path stroke="#00F" stroke-width="10" stroke-opacity="0.1" d="M222 1237.3h1M251 1237.3h1"/><path stroke="#00F" stroke-width="10" stroke-opacity="0.15" d="M200 1237.3h1M221 1237.3h1M243 1237.3h1M246 1237.3h1M253 1237.3h1M260 1237.3h1"/><path stroke="#00F" stroke-width="10" stroke-opacity="0.2" d="M201 1237.3h2M211 1237.3h2M223 1237.3h1M229 1237.3h1M241 1237.3h2M250 1237.3h1M254 1237.3h2"/><path stroke="#00F" stroke-width="10" stroke-opacity="0.25" d="M209 1237.3h2M213 1237.3h1M216 1237.3h1M224 1237.3h1M247 1237.3h1M249 1237.3h1M259 1237.3h1"/><path stroke="#00F" stroke-width="10" stroke-opacity="0.3" d="M203 1237.3h1M214 1237.3h2M225 1237.3h2M228 1237.3h1M248 1237.3h1M256 1237.3h1"/><path stroke="#00F" stroke-width="10" stroke-opacity="0.35" d="M208 1237.3h1M217 1237.3h1M227 1237.3h1M257 1237.3h2"/><path stroke="#00F" stroke-width="10" stroke-opacity="0.4" d="M207 1237.3h1M220 1237.3h1"/><path stroke="#00F" stroke-width="10" stroke-opacity="0.45" d="M204 1237.3h1M218 1237.3h2"/><path stroke="#00F" stroke-width="10" stroke-opacity="0.5" d="M205 1237.3h2"/>
<line x1="196" x2="264.7" y1="1517.3" y2="1517.3" stroke="#000" stroke-width="3.3"/>
<rect x="281.23" y="1180.7" width="67.2" height="51.1" fill="#EEEEEE"/>
<text x="313.23" y="1214.95" font-size="24" font-weight="bold" text-anchor="middle">2</text>
<line x1="281.23" x2="348.43" y1="1261" y2="1261" stroke="#E4E4E4" stroke-width="2.4"/>
<line x1="281.23" x2="348.43" y1="1330.73" y2="1330.73" stroke="#E4E4E4" stroke-width="2.4"/>
<line x1="281.23" x2="348.43" y1="1400.47" y2="1400.47" stroke="#E4E4E4" stroke-width="2.4"/>
<line x1="281.23" x2="348.43" y1="1470.2" y2="1470.2" stroke="#E4E4E4" stroke-width="2.4"/>
<clipPath id="cb1"><rect x="281.23" y="1231.8" width="67.2" height="285.5"/></clipPath><g clip-path="url(#cb1)">
<g class="pt" fill="url(#pg)"><circle cx="337" cy="1378" r="4.6"/><circle cx="294" cy="1397" r="4.6"/><circle cx="300" cy="1400" r="4.6"/><circle cx="309" cy="1393" r="4.6"/><circle cx="315" cy="1415" r="4.6"/><circle cx="342" cy="1420" r="4.6"/><circle cx="337" cy="1429" r="4.6"/><circle cx="300" cy="1442" r="4.6"/><circle cx="291" cy="1451" r="4.6"/><circle cx="293" cy="1457" r="4.6"/><circle cx="295" cy="1461" r="4.6"/><circle cx="307" cy="1463" r="4.6"/><circle cx="318" cy="1462" r="4.6"/><circle cx="307" cy="1468" r="4.6"/><circle cx="318" cy="1473" r="4.6"/><circle cx="307" cy="1483" r="4.6"/><circle cx="324" cy="1483" r="4.6"/><circle cx="291" cy="1487" r="4.6"/><circle cx="291" cy="1494" r="4.6"/><circle cx="307" cy="1505" r="4.6"/><circle cx="287" cy="1505" r="4.6"/><circle cx="345" cy="1505" r="4.6"/><circle cx="285" cy="1432" r="4.6"/><circle cx="288" cy="1516" r="4.6"/><circle cx="300" cy="1516" r="4.6"/><circle cx="318" cy="1516" r="4.6"/><circle cx="333" cy="1516" r="4.6"/></g>
<g class="pt" fill="url(#pr)"><circle cx="287" cy="1418" r="4.6"/><circle cx="287" cy="1427" r="4.6"/><circle cx="287" cy="1467" r="4.6"/><circle cx="287" cy="1477" r="4.6"/></g>
<path stroke="#00F" stroke-width="4.5" stroke-opacity="0.1" d="M346.18 1377v3M346.18 1392v10M346.18 1413v5M346.18 1420v2M346.18 1426v1M346.18 1429v5M346.18 1441v3M346.18 1449v3M346.18 1456v5M346.18 1464v1M346.18 1469v1M346.18 1471v4M346.18 1476v3M346.18 1481v1M346.18 1484v1M346.18 1486v3M346.18 1492v4"/><path stroke="#00F" stroke-width="4.5" stroke-opacity="0.2" d="M346.18 1418v2M346.18 1427v2M346.18 1461v3M346.18 1466v3M346.18 1482v2M346.18 1503v3"/>
</g>
<path stroke="#00F" stroke-width="10" stroke-opacity="0.05" d="M346 1237.3h1"/><path stroke="#00F" stroke-width="10" stroke-opacity="0.1" d="M296 1237.3h1M310 1237.3h1M325 1237.3h1M334 1237.3h1M340 1237.3h1"/><path stroke="#00F" stroke-width="10" stroke-opacity="0.15" d="M283 1237.3h1M289 1237.3h1M301 1237.3h1M313 1237.3h1M322 1237.3h1M331 1237.3h1M335 1237.3h1"/><path stroke="#00F" stroke-width="10" stroke-opacity="0.2" d="M284 1237.3h1M295 1237.3h1M305 1237.3h1M309 1237.3h1M314 1237.3h2M319 1237.3h1M323 1237.3h2M332 1237.3h2M338 1237.3h1M341 1237.3h5"/><path stroke="#00F" stroke-width="10" stroke-opacity="0.25" d="M285 1237.3h1M294 1237.3h1M298 1237.3h1M316 1237.3h1M336 1237.3h2"/><path stroke="#00F" stroke-width="10" stroke-opacity="0.3" d="M290 1237.3h2M293 1237.3h1M299 1237.3h2M308 1237.3h1M317 1237.3h2"/><path stroke="#00F" stroke-width="10" stroke-opacity="0.35" d="M288 1237.3h1M292 1237.3h1M306 1237.3h2"/><path stroke="#00F" stroke-width="10" stroke-opacity="0.4" d="M286 1237.3h2"/>
<line x1="281.23" x2="348.43" y1="1517.3" y2="1517.3" stroke="#000" stroke-width="3.3"/>
<rect x="364.96" y="1180.7" width="67.2" height="51.1" fill="#EEEEEE"/>
<text x="396.96" y="1214.95" font-size="24" font-weight="bold" text-anchor="middle">3</text>
<line x1="364.96" x2="432.16" y1="1261" y2="1261" stroke="#E4E4E4" stroke-width="2.4"/>
<line x1="364.96" x2="432.16" y1="1330.73" y2="1330.73" stroke="#E4E4E4" stroke-width="2.4"/>
<line x1="364.96" x2="432.16" y1="1400.47" y2="1400.47" stroke="#E4E4E4" stroke-width="2.4"/>
<line x1="364.96" x2="432.16" y1="1470.2" y2="1470.2" stroke="#E4E4E4" stroke-width="2.4"/>
<clipPath id="cb2"><rect x="364.96" y="1231.8" width="67.2" height="285.5"/></clipPath><g clip-path="url(#cb2)">
<g class="pt" fill="url(#pg)"><circle cx="417" cy="1253" r="4.6"/><circle cx="409" cy="1266" r="4.6"/><circle cx="418" cy="1261" r="4.6"/><circle cx="424" cy="1263" r="4.6"/><circle cx="413" cy="1271" r="4.6"/><circle cx="419" cy="1275" r="4.6"/><circle cx="426" cy="1278" r="4.6"/><circle cx="411" cy="1283" r="4.6"/><circle cx="426" cy="1283" r="4.6"/><circle cx="425" cy="1292" r="4.6"/><circle cx="425" cy="1304" r="4.6"/><circle cx="409" cy="1320" r="4.6"/><circle cx="429" cy="1261" r="4.6"/><circle cx="381" cy="1418" r="4.6"/><circle cx="407" cy="1432" r="4.6"/><circle cx="417" cy="1432" r="4.6"/><circle cx="397" cy="1451" r="4.6"/><circle cx="412" cy="1454" r="4.6"/><circle cx="425" cy="1447" r="4.6"/><circle cx="384" cy="1462" r="4.6"/><circle cx="425" cy="1471" r="4.6"/><circle cx="386" cy="1494" r="4.6"/><circle cx="401" cy="1505" r="4.6"/><circle cx="371" cy="1516" r="4.6"/><circle cx="383" cy="1516" r="4.6"/><circle cx="406" cy="1516" r="4.6"/></g>
<path stroke="#00F" stroke-width="4.5" stroke-opacity="0.1" d="M429.91 1251v4M429.91 1259v1M429.91 1263v5M429.91 1270v10M429.91 1281v1M429.91 1284v1M429.91 1290v4M429.91 1302v3M429.91 1319v3M429.91 1417v3M429.91 1446v10M429.91 1461v3M429.91 1470v3M429.91 1492v4M429.91 1503v3"/><path stroke="#00F" stroke-width="4.5" stroke-opacity="0.2" d="M429.91 1260v3M429.91 1282v2M429.91 1431v3"/>
</g>
<path stroke="#00F" stroke-width="10" stroke-opacity="0.1" d="M369 1237.3h1M379 1237.3h1M398 1237.3h1M414 1237.3h1M422 1237.3h1"/><path stroke="#00F" stroke-width="10" stroke-opacity="0.15" d="M372 1237.3h1M387 1237.3h1M395 1237.3h1M399 1237.3h1M402 1237.3h1M404 1237.3h1M420 1237.3h1M430 1237.3h1"/><path stroke="#00F" stroke-width="10" stroke-opacity="0.2" d="M370 1237.3h2M380 1237.3h1M385 1237.3h2M396 1237.3h2M400 1237.3h2M413 1237.3h1M415 1237.3h1M419 1237.3h1M427 1237.3h3"/><path stroke="#00F" stroke-width="10" stroke-opacity="0.25" d="M381 1237.3h4M405 1237.3h5M412 1237.3h1M423 1237.3h1"/><path stroke="#00F" stroke-width="10" stroke-opacity="0.3" d="M410 1237.3h2M416 1237.3h3"/><path stroke="#00F" stroke-width="10" stroke-opacity="0.35" d="M426 1237.3h1"/><path stroke="#00F" stroke-width="10" stroke-opacity="0.4" d="M424 1237.3h2"/>
<line x1="364.96" x2="432.16" y1="1517.3" y2="1517.3" stroke="#000" stroke-width="3.3"/>
<rect x="448.69" y="1180.7" width="67.2" height="51.1" fill="#EEEEEE"/>
<text x="480.69" y="1214.95" font-size="24" font-weight="bold" text-anchor="middle">4</text>
<line x1="448.69" x2="515.89" y1="1261" y2="1261" stroke="#E4E4E4" stroke-width="2.4"/>
<line x1="448.69" x2="515.89" y1="1330.73" y2="1330.73" stroke="#E4E4E4" stroke-width="2.4"/>
<line x1="448.69" x2="515.89" y1="1400.47" y2="1400.47" stroke="#E4E4E4" stroke-width="2.4"/>
<line x1="448.69" x2="515.89" y1="1470.2" y2="1470.2" stroke="#E4E4E4" stroke-width="2.4"/>
<clipPath id="cb3"><rect x="448.69" y="1231.8" width="67.2" height="285.5"/></clipPath><g clip-path="url(#cb3)">
<g class="pt" fill="url(#pg)"><circle cx="476" cy="1344" r="4.6"/><circle cx="476" cy="1349" r="4.6"/><circle cx="477" cy="1357" r="4.6"/><circle cx="461" cy="1364" r="4.6"/><circle cx="507" cy="1346" r="4.6"/><circle cx="507" cy="1358" r="4.6"/><circle cx="458" cy="1389" r="4.6"/><circle cx="473" cy="1404" r="4.6"/><circle cx="484" cy="1402" r="4.6"/><circle cx="487" cy="1407" r="4.6"/><circle cx="451" cy="1417" r="4.6"/><circle cx="456" cy="1413" r="4.6"/><circle cx="459" cy="1414" r="4.6"/><circle cx="497" cy="1416" r="4.6"/><circle cx="501" cy="1414" r="4.6"/><circle cx="464" cy="1444" r="4.6"/><circle cx="471" cy="1444" r="4.6"/><circle cx="465" cy="1449" r="4.6"/><circle cx="454" cy="1451" r="4.6"/><circle cx="476" cy="1455" r="4.6"/><circle cx="499" cy="1449" r="4.6"/><circle cx="507" cy="1424" r="4.6"/><circle cx="453" cy="1468" r="4.6"/><circle cx="497" cy="1466" r="4.6"/><circle cx="510" cy="1494" r="4.6"/><circle cx="452" cy="1505" r="4.6"/><circle cx="498" cy="1505" r="4.6"/><circle cx="451" cy="1516" r="4.6"/><circle cx="474" cy="1516" r="4.6"/><circle cx="481" cy="1516" r="4.6"/><circle cx="499" cy="1516" r="4.6"/><circle cx="479" cy="1283" r="4.6"/><circle cx="509" cy="1279" r="4.6"/><circle cx="482" cy="1284" r="4.6"/><circle cx="461" cy="1281" r="4.6"/><circle cx="490" cy="1293" r="4.6"/><circle cx="455" cy="1272" r="4.6"/><circle cx="455" cy="1294" r="4.6"/><circle cx="494" cy="1260" r="4.6"/><circle cx="513" cy="1301" r="4.6"/><circle cx="492" cy="1286" r="4.6"/><circle cx="459" cy="1259" r="4.6"/><circle cx="483" cy="1261" r="4.6"/><circle cx="462" cy="1269" r="4.6"/><circle cx="451" cy="1279" r="4.6"/><circle cx="478" cy="1296" r="4.6"/><circle cx="483" cy="1287" r="4.6"/><circle cx="482" cy="1288" r="4.6"/><circle cx="479" cy="1270" r="4.6"/><circle cx="514" cy="1303" r="4.6"/><circle cx="504" cy="1290" r="4.6"/><circle cx="470" cy="1268" r="4.6"/><circle cx="468" cy="1261" r="4.6"/><circle cx="499" cy="1276" r="4.6"/><circle cx="504" cy="1275" r="4.6"/><circle cx="511" cy="1296" r="4.6"/><circle cx="449" cy="1267" r="4.6"/><circle cx="508" cy="1279" r="4.6"/><circle cx="513" cy="1276" r="4.6"/><circle cx="454" cy="1286" r="4.6"/><circle cx="500" cy="1270" r="4.6"/><circle cx="455" cy="1273" r="4.6"/><circle cx="512" cy="1292" r="4.6"/><circle cx="457" cy="1269" r="4.6"/><circle cx="456" cy="1261" r="4.6"/><circle cx="501" cy="1266" r="4.6"/><circle cx="485" cy="1278" r="4.6"/><circle cx="462" cy="1291" r="4.6"/><circle cx="458" cy="1287" r="4.6"/><circle cx="457" cy="1277" r="4.6"/><circle cx="463" cy="1270" r="4.6"/><circle cx="512" cy="1294" r="4.6"/><circle cx="469" cy="1298" r="4.6"/><circle cx="463" cy="1276" r="4.6"/><circle cx="505" cy="1287" r="4.6"/><circle cx="456" cy="1302" r="4.6"/><circle cx="463" cy="1269" r="4.6"/><circle cx="499" cy="1273" r="4.6"/><circle cx="468" cy="1261" r="4.6"/><circle cx="455" cy="1284" r="4.6"/><circle cx="465" cy="1285" r="4.6"/><circle cx="473" cy="1278" r="4.6"/><circle cx="511" cy="1280" r="4.6"/><circle cx="486" cy="1297" r="4.6"/><circle cx="461" cy="1265" r="4.6"/><circle cx="508" cy="1295" r="4.6"/><circle cx="465" cy="1266" r="4.6"/><circle cx="497" cy="1300" r="4.6"/><circle cx="462" cy="1301" r="4.6"/><circle cx="506" cy="1285" r="4.6"/><circle cx="477" cy="1263" r="4.6"/><circle cx="452" cy="1301" r="4.6"/><circle cx="465" cy="1290" r="4.6"/><circle cx="466" cy="1295" r="4.6"/><circle cx="488" cy="1271" r="4.6"/><circle cx="461" cy="1290" r="4.6"/><circle cx="454" cy="1268" r="4.6"/><circle cx="485" cy="1296" r="4.6"/><circle cx="489" cy="1270" r="4.6"/><circle cx="509" cy="1267" r="4.6"/><circle cx="450" cy="1270" r="4.6"/><circle cx="478" cy="1261" r="4.6"/><circle cx="461" cy="1274" r="4.6"/><circle cx="486" cy="1264" r="4.6"/><circle cx="473" cy="1298" r="4.6"/><circle cx="513" cy="1287" r="4.6"/><circle cx="494" cy="1284" r="4.6"/><circle cx="458" cy="1259" r="4.6"/><circle cx="450" cy="1299" r="4.6"/><circle cx="495" cy="1301" r="4.6"/><circle cx="451" cy="1286" r="4.6"/><circle cx="480" cy="1291" r="4.6"/><circle cx="470" cy="1303" r="4.6"/><circle cx="454" cy="1282" r="4.6"/><circle cx="497" cy="1298" r="4.6"/><circle cx="497" cy="1289" r="4.6"/><circle cx="465" cy="1320" r="4.6"/><circle cx="460" cy="1316" r="4.6"/><circle cx="466" cy="1319" r="4.6"/><circle cx="461" cy="1318" r="4.6"/><circle cx="466" cy="1315" r="4.6"/><circle cx="463" cy="1312" r="4.6"/><circle cx="481" cy="1324" r="4.6"/><circle cx="474" cy="1324" r="4.6"/><circle cx="487" cy="1328" r="4.6"/><circle cx="483" cy="1320" r="4.6"/><circle cx="483" cy="1323" r="4.6"/><circle cx="479" cy="1327" r="4.6"/><circle cx="492" cy="1314" r="4.6"/><circle cx="491" cy="1309" r="4.6"/><circle cx="500" cy="1298" r="4.6"/><circle cx="505" cy="1306" r="4.6"/><circle cx="503" cy="1319" r="4.6"/><circle cx="496" cy="1291" r="4.6"/><circle cx="497" cy="1311" r="4.6"/><circle cx="495" cy="1296" r="4.6"/><circle cx="509" cy="1311" r="4.6"/><circle cx="500" cy="1318" r="4.6"/><circle cx="497" cy="1311" r="4.6"/><circle cx="495" cy="1304" r="4.6"/><circle cx="507" cy="1318" r="4.6"/><circle cx="508" cy="1303" r="4.6"/><circle cx="502" cy="1301" r="4.6"/><circle cx="495" cy="1334" r="4.6"/><circle cx="502" cy="1344" r="4.6"/><circle cx="501" cy="1346" r="4.6"/><circle cx="497" cy="1326" r="4.6"/><circle cx="499" cy="1328" r="4.6"/><circle cx="496" cy="1332" r="4.6"/><circle cx="500" cy="1334" r="4.6"/><circle cx="497" cy="1343" r="4.6"/><circle cx="504" cy="1333" r="4.6"/><circle cx="495" cy="1322" r="4.6"/><circle cx="502" cy="1362" r="4.6"/><circle cx="498" cy="1369" r="4.6"/><circle cx="490" cy="1373" r="4.6"/><circle cx="485" cy="1363" r="4.6"/><circle cx="493" cy="1361" r="4.6"/><circle cx="501" cy="1364" r="4.6"/><circle cx="487" cy="1362" r="4.6"/><circle cx="497" cy="1368" r="4.6"/><circle cx="497" cy="1371" r="4.6"/><circle cx="500" cy="1375" r="4.6"/><circle cx="480" cy="1386" r="4.6"/><circle cx="478" cy="1385" r="4.6"/><circle cx="474" cy="1390" r="4.6"/><circle cx="480" cy="1385" r="4.6"/><circle cx="476" cy="1388" r="4.6"/><circle cx="504" cy="1394" r="4.6"/><circle cx="502" cy="1399" r="4.6"/><circle cx="498" cy="1400" r="4.6"/><circle cx="509" cy="1384" r="4.6"/><circle cx="509" cy="1398" r="4.6"/><circle cx="492" cy="1392" r="4.6"/><circle cx="503" cy="1402" r="4.6"/><circle cx="497" cy="1395" r="4.6"/><circle cx="508" cy="1400" r="4.6"/><circle cx="510" cy="1393" r="4.6"/><circle cx="503" cy="1387" r="4.6"/><circle cx="505" cy="1400" r="4.6"/><circle cx="503" cy="1398" r="4.6"/><circle cx="494" cy="1402" r="4.6"/><circle cx="510" cy="1440" r="4.6"/><circle cx="486" cy="1437" r="4.6"/><circle cx="475" cy="1439" r="4.6"/><circle cx="503" cy="1430" r="4.6"/><circle cx="462" cy="1431" r="4.6"/><circle cx="487" cy="1437" r="4.6"/><circle cx="483" cy="1425" r="4.6"/><circle cx="501" cy="1425" r="4.6"/><circle cx="500" cy="1427" r="4.6"/><circle cx="475" cy="1437" r="4.6"/><circle cx="465" cy="1427" r="4.6"/><circle cx="485" cy="1436" r="4.6"/><circle cx="502" cy="1436" r="4.6"/><circle cx="508" cy="1432" r="4.6"/><circle cx="508" cy="1426" r="4.6"/><circle cx="469" cy="1433" r="4.6"/><circle cx="473" cy="1436" r="4.6"/><circle cx="492" cy="1433" r="4.6"/><circle cx="502" cy="1433" r="4.6"/><circle cx="474" cy="1430" r="4.6"/><circle cx="502" cy="1439" r="4.6"/><circle cx="469" cy="1438" r="4.6"/><circle cx="509" cy="1433" r="4.6"/><circle cx="488" cy="1427" r="4.6"/><circle cx="486" cy="1432" r="4.6"/></g>
<path stroke="#00F" stroke-width="4.5" stroke-opacity="0.1" d="M513.64 1257v1M513.64 1306v3M513.64 1329v2M513.64 1335v1M513.64 1347v4M513.64 1355v1M513.64 1358v1M513.64 1366v2M513.64 1372v5M513.64 1383v1M513.64 1395v2M513.64 1404v5M513.64 1417v2M513.64 1422v1M513.64 1441v2M513.64 1445v1M513.64 1447v1M513.64 1451v1M513.64 1453v4M513.64 1464v6M513.64 1492v4"/><path stroke="#00F" stroke-width="4.5" stroke-opacity="0.2" d="M513.64 1258v1M513.64 1262v4M513.64 1272v2M513.64 1280v3M513.64 1292v1M513.64 1304v2M513.64 1309v1M513.64 1312v5M513.64 1320v9M513.64 1331v4M513.64 1342v5M513.64 1356v2M513.64 1360v6M513.64 1368v4M513.64 1386v9M513.64 1397v1M513.64 1400v4M513.64 1412v5M513.64 1423v1M513.64 1427v4M513.64 1434v2M513.64 1439v2M513.64 1443v2M513.64 1448v3M513.64 1503v3"/><path stroke="#00F" stroke-width="4.5" stroke-opacity="0.3" d="M513.64 1259v3M513.64 1266v3M513.64 1270v2M513.64 1274v6M513.64 1283v9M513.64 1293v11M513.64 1310v2M513.64 1317v3M513.64 1384v2M513.64 1398v2M513.64 1424v3M513.64 1431v3M513.64 1436v3"/><path stroke="#00F" stroke-width="4.5" stroke-opacity="0.4" d="M513.64 1269v1"/>
</g>
<path stroke="#00F" stroke-width="10" stroke-opacity="0.1" d="M515 1237.3h1"/><path stroke="#00F" stroke-width="10" stroke-opacity="0.15" d="M448 1237.3h1"/><path stroke="#00F" stroke-width="10" stroke-opacity="0.25" d="M514 1237.3h1"/><path stroke="#00F" stroke-width="10" stroke-opacity="0.3" d="M471 1237.3h1"/><path stroke="#00F" stroke-width="10" stroke-opacity="0.35" d="M449 1237.3h1M467 1237.3h1M470 1237.3h1M489 1237.3h1M513 1237.3h1"/><path stroke="#00F" stroke-width="10" stroke-opacity="0.4" d="M452 1237.3h2M457 1237.3h2M466 1237.3h1M468 1237.3h2M472 1237.3h1M478 1237.3h1M480 1237.3h2M488 1237.3h1M490 1237.3h3M505 1237.3h1M511 1237.3h2"/><path stroke="#00F" stroke-width="10" stroke-opacity="0.45" d="M450 1237.3h2M455 1237.3h2M459 1237.3h1M463 1237.3h1M465 1237.3h1M473 1237.3h1M475 1237.3h3M479 1237.3h1M482 1237.3h4M487 1237.3h1M493 1237.3h2M504 1237.3h1M506 1237.3h1M510 1237.3h1"/><path stroke="#00F" stroke-width="10" stroke-opacity="0.5" d="M454 1237.3h1M460 1237.3h3M464 1237.3h1M474 1237.3h1M486 1237.3h1M509 1237.3h1"/><path stroke="#00F" stroke-width="10" stroke-opacity="0.55" d="M495 1237.3h2M498 1237.3h6M507 1237.3h2"/><path stroke="#00F" stroke-width="10" stroke-opacity="0.6" d="M497 1237.3h1"/>
<line x1="448.69" x2="515.89" y1="1517.3" y2="1517.3" stroke="#000" stroke-width="3.3"/>
<rect x="532.42" y="1180.7" width="67.2" height="51.1" fill="#EEEEEE"/>
<text x="564.42" y="1214.95" font-size="24" font-weight="bold" text-anchor="middle">5</text>
<line x1="532.42" x2="599.62" y1="1261" y2="1261" stroke="#E4E4E4" stroke-width="2.4"/>
<line x1="532.42" x2="599.62" y1="1330.73" y2="1330.73" stroke="#E4E4E4" stroke-width="2.4"/>
<line x1="532.42" x2="599.62" y1="1400.47" y2="1400.47" stroke="#E4E4E4" stroke-width="2.4"/>
<line x1="532.42" x2="599.62" y1="1470.2" y2="1470.2" stroke="#E4E4E4" stroke-width="2.4"/>
<clipPath id="cb4"><rect x="532.42" y="1231.8" width="67.2" height="285.5"/></clipPath><g clip-path="url(#cb4)">
<g class="pt" fill="url(#pg)"><circle cx="564" cy="1254" r="4.6"/><circle cx="574" cy="1256" r="4.6"/><circle cx="556" cy="1289" r="4.6"/><circle cx="543" cy="1294" r="4.6"/><circle cx="555" cy="1300" r="4.6"/><circle cx="566" cy="1294" r="4.6"/><circle cx="566" cy="1304" r="4.6"/><circle cx="580" cy="1294" r="4.6"/><circle cx="583" cy="1291" r="4.6"/><circle cx="537" cy="1303" r="4.6"/><circle cx="540" cy="1306" r="4.6"/><circle cx="543" cy="1308" r="4.6"/><circle cx="552" cy="1309" r="4.6"/><circle cx="555" cy="1313" r="4.6"/><circle cx="580" cy="1306" r="4.6"/><circle cx="585" cy="1308" r="4.6"/><circle cx="577" cy="1314" r="4.6"/><circle cx="566" cy="1319" r="4.6"/><circle cx="587" cy="1325" r="4.6"/><circle cx="556" cy="1329" r="4.6"/><circle cx="543" cy="1344" r="4.6"/><circle cx="543" cy="1353" r="4.6"/><circle cx="555" cy="1356" r="4.6"/><circle cx="577" cy="1363" r="4.6"/><circle cx="581" cy="1349" r="4.6"/><circle cx="585" cy="1346" r="4.6"/><circle cx="588" cy="1344" r="4.6"/><circle cx="535" cy="1369" r="4.6"/><circle cx="535" cy="1374" r="4.6"/><circle cx="535" cy="1381" r="4.6"/><circle cx="535" cy="1394" r="4.6"/><circle cx="535" cy="1402" r="4.6"/><circle cx="535" cy="1414" r="4.6"/><circle cx="543" cy="1413" r="4.6"/><circle cx="587" cy="1393" r="4.6"/><circle cx="585" cy="1405" r="4.6"/><circle cx="583" cy="1411" r="4.6"/><circle cx="588" cy="1414" r="4.6"/><circle cx="590" cy="1417" r="4.6"/><circle cx="539" cy="1429" r="4.6"/><circle cx="581" cy="1433" r="4.6"/><circle cx="558" cy="1444" r="4.6"/><circle cx="586" cy="1451" r="4.6"/><circle cx="586" cy="1463" r="4.6"/><circle cx="546" cy="1465" r="4.6"/><circle cx="556" cy="1471" r="4.6"/><circle cx="586" cy="1472" r="4.6"/><circle cx="547" cy="1484" r="4.6"/><circle cx="545" cy="1495" r="4.6"/><circle cx="542" cy="1505" r="4.6"/><circle cx="535" cy="1516" r="4.6"/><circle cx="545" cy="1516" r="4.6"/><circle cx="555" cy="1516" r="4.6"/><circle cx="565" cy="1516" r="4.6"/><circle cx="577" cy="1516" r="4.6"/><circle cx="585" cy="1516" r="4.6"/><circle cx="549" cy="1260" r="4.6"/><circle cx="559" cy="1272" r="4.6"/><circle cx="544" cy="1278" r="4.6"/><circle cx="548" cy="1271" r="4.6"/><circle cx="552" cy="1261" r="4.6"/><circle cx="548" cy="1269" r="4.6"/><circle cx="559" cy="1281" r="4.6"/><circle cx="540" cy="1271" r="4.6"/><circle cx="537" cy="1270" r="4.6"/><circle cx="555" cy="1281" r="4.6"/><circle cx="546" cy="1267" r="4.6"/><circle cx="538" cy="1274" r="4.6"/><circle cx="558" cy="1263" r="4.6"/><circle cx="554" cy="1260" r="4.6"/><circle cx="538" cy="1265" r="4.6"/><circle cx="586" cy="1272" r="4.6"/><circle cx="574" cy="1279" r="4.6"/><circle cx="565" cy="1282" r="4.6"/><circle cx="566" cy="1276" r="4.6"/><circle cx="570" cy="1269" r="4.6"/><circle cx="580" cy="1275" r="4.6"/><circle cx="575" cy="1274" r="4.6"/><circle cx="580" cy="1268" r="4.6"/><circle cx="569" cy="1279" r="4.6"/><circle cx="584" cy="1277" r="4.6"/><circle cx="591" cy="1279" r="4.6"/><circle cx="591" cy="1270" r="4.6"/><circle cx="587" cy="1283" r="4.6"/><circle cx="593" cy="1272" r="4.6"/><circle cx="573" cy="1286" r="4.6"/><circle cx="569" cy="1288" r="4.6"/><circle cx="593" cy="1268" r="4.6"/><circle cx="570" cy="1281" r="4.6"/><circle cx="571" cy="1267" r="4.6"/><circle cx="591" cy="1274" r="4.6"/><circle cx="538" cy="1320" r="4.6"/><circle cx="536" cy="1344" r="4.6"/><circle cx="533" cy="1323" r="4.6"/><circle cx="538" cy="1354" r="4.6"/><circle cx="540" cy="1319" r="4.6"/><circle cx="536" cy="1347" r="4.6"/><circle cx="536" cy="1344" r="4.6"/><circle cx="534" cy="1317" r="4.6"/><circle cx="533" cy="1316" r="4.6"/><circle cx="537" cy="1337" r="4.6"/><circle cx="537" cy="1321" r="4.6"/><circle cx="534" cy="1323" r="4.6"/><circle cx="539" cy="1357" r="4.6"/><circle cx="539" cy="1319" r="4.6"/></g>
<g class="pt" fill="url(#pr)"><circle cx="539" cy="1455" r="4.6"/><circle cx="538" cy="1469" r="4.6"/><circle cx="538" cy="1476" r="4.6"/><circle cx="537" cy="1485" r="4.6"/><circle cx="537" cy="1494" r="4.6"/><circle cx="538" cy="1505" r="4.6"/></g>
<path stroke="#00F" stroke-width="4.5" stroke-opacity="0.1" d="M597.37 1252v7M597.37 1264v1M597.37 1283v3M597.37 1290v3M597.37 1299v3M597.37 1309v1M597.37 1311v2M597.37 1325v5M597.37 1335v3M597.37 1342v1M597.37 1349v3M597.37 1358v1M597.37 1362v3M597.37 1368v3M597.37 1373v3M597.37 1379v4M597.37 1392v1M597.37 1395v1M597.37 1401v6M597.37 1409v3M597.37 1415v4M597.37 1427v4M597.37 1432v3M597.37 1442v4M597.37 1449v3M597.37 1453v4M597.37 1461v2M597.37 1465v1M597.37 1467v4M597.37 1473v4M597.37 1482v1M597.37 1492v1M597.37 1495v1"/><path stroke="#00F" stroke-width="4.5" stroke-opacity="0.2" d="M597.37 1259v5M597.37 1265v2M597.37 1272v1M597.37 1275v3M597.37 1282v1M597.37 1286v4M597.37 1293v3M597.37 1302v7M597.37 1313v5M597.37 1320v5M597.37 1345v4M597.37 1352v6M597.37 1393v2M597.37 1412v3M597.37 1463v2M597.37 1471v2M597.37 1483v3M597.37 1493v2M597.37 1503v3"/><path stroke="#00F" stroke-width="4.5" stroke-opacity="0.3" d="M597.37 1267v5M597.37 1273v2M597.37 1278v4M597.37 1318v2M597.37 1343v2"/>
</g>
<path stroke="#00F" stroke-width="10" stroke-opacity="0.1" d="M562 1237.3h1"/><path stroke="#00F" stroke-width="10" stroke-opacity="0.15" d="M560 1237.3h1M594 1237.3h1"/><path stroke="#00F" stroke-width="10" stroke-opacity="0.25" d="M532 1237.3h1M549 1237.3h1M551 1237.3h2M563 1237.3h1M567 1237.3h1M572 1237.3h1M593 1237.3h1"/><path stroke="#00F" stroke-width="10" stroke-opacity="0.3" d="M541 1237.3h1M548 1237.3h1M550 1237.3h1M559 1237.3h1M568 1237.3h1M571 1237.3h1M573 1237.3h5M582 1237.3h1M589 1237.3h1M592 1237.3h1"/><path stroke="#00F" stroke-width="10" stroke-opacity="0.35" d="M540 1237.3h1M545 1237.3h3M553 1237.3h1M557 1237.3h2M566 1237.3h1M569 1237.3h2M578 1237.3h1M581 1237.3h1M588 1237.3h1M590 1237.3h2"/><path stroke="#00F" stroke-width="10" stroke-opacity="0.4" d="M533 1237.3h1M542 1237.3h1M556 1237.3h1M564 1237.3h2M579 1237.3h2M583 1237.3h1M587 1237.3h1"/><path stroke="#00F" stroke-width="10" stroke-opacity="0.45" d="M543 1237.3h2M554 1237.3h2M584 1237.3h3"/><path stroke="#00F" stroke-width="10" stroke-opacity="0.5" d="M534 1237.3h1M539 1237.3h1"/><path stroke="#00F" stroke-width="10" stroke-opacity="0.55" d="M535 1237.3h4"/>
<line x1="532.42" x2="599.62" y1="1517.3" y2="1517.3" stroke="#000" stroke-width="3.3"/>
<rect x="616.15" y="1180.7" width="67.2" height="51.1" fill="#EEEEEE"/>
<text x="648.15" y="1214.95" font-size="24" font-weight="bold" text-anchor="middle">6</text>
<line x1="616.15" x2="683.35" y1="1261" y2="1261" stroke="#E4E4E4" stroke-width="2.4"/>
<line x1="616.15" x2="683.35" y1="1330.73" y2="1330.73" stroke="#E4E4E4" stroke-width="2.4"/>
<line x1="616.15" x2="683.35" y1="1400.47" y2="1400.47" stroke="#E4E4E4" stroke-width="2.4"/>
<line x1="616.15" x2="683.35" y1="1470.2" y2="1470.2" stroke="#E4E4E4" stroke-width="2.4"/>
<clipPath id="cb5"><rect x="616.15" y="1231.8" width="67.2" height="285.5"/></clipPath><g clip-path="url(#cb5)">
<g class="pt" fill="url(#pg)"><circle cx="623" cy="1309" r="4.6"/><circle cx="635" cy="1309" r="4.6"/><circle cx="620" cy="1321" r="4.6"/><circle cx="630" cy="1323" r="4.6"/><circle cx="636" cy="1324" r="4.6"/><circle cx="630" cy="1331" r="4.6"/><circle cx="621" cy="1341" r="4.6"/><circle cx="645" cy="1343" r="4.6"/><circle cx="651" cy="1339" r="4.6"/><circle cx="656" cy="1343" r="4.6"/><circle cx="663" cy="1338" r="4.6"/><circle cx="630" cy="1366" r="4.6"/><circle cx="621" cy="1397" r="4.6"/><circle cx="652" cy="1409" r="4.6"/><circle cx="659" cy="1416" r="4.6"/><circle cx="670" cy="1412" r="4.6"/><circle cx="673" cy="1408" r="4.6"/><circle cx="680" cy="1411" r="4.6"/><circle cx="630" cy="1425" r="4.6"/><circle cx="635" cy="1422" r="4.6"/><circle cx="636" cy="1432" r="4.6"/><circle cx="621" cy="1432" r="4.6"/><circle cx="621" cy="1437" r="4.6"/><circle cx="657" cy="1427" r="4.6"/><circle cx="660" cy="1436" r="4.6"/><circle cx="669" cy="1427" r="4.6"/><circle cx="675" cy="1434" r="4.6"/><circle cx="651" cy="1447" r="4.6"/><circle cx="623" cy="1451" r="4.6"/><circle cx="630" cy="1454" r="4.6"/><circle cx="630" cy="1461" r="4.6"/><circle cx="673" cy="1447" r="4.6"/><circle cx="672" cy="1458" r="4.6"/><circle cx="660" cy="1471" r="4.6"/><circle cx="673" cy="1476" r="4.6"/><circle cx="630" cy="1476" r="4.6"/><circle cx="636" cy="1482" r="4.6"/><circle cx="636" cy="1485" r="4.6"/><circle cx="650" cy="1495" r="4.6"/><circle cx="636" cy="1505" r="4.6"/><circle cx="620" cy="1516" r="4.6"/><circle cx="630" cy="1516" r="4.6"/><circle cx="650" cy="1516" r="4.6"/><circle cx="673" cy="1516" r="4.6"/><circle cx="620" cy="1309" r="4.6"/><circle cx="646" cy="1299" r="4.6"/><circle cx="637" cy="1284" r="4.6"/><circle cx="649" cy="1282" r="4.6"/><circle cx="654" cy="1260" r="4.6"/><circle cx="661" cy="1303" r="4.6"/><circle cx="628" cy="1283" r="4.6"/><circle cx="663" cy="1280" r="4.6"/><circle cx="629" cy="1268" r="4.6"/><circle cx="649" cy="1260" r="4.6"/><circle cx="673" cy="1301" r="4.6"/><circle cx="661" cy="1304" r="4.6"/><circle cx="656" cy="1280" r="4.6"/><circle cx="654" cy="1286" r="4.6"/><circle cx="678" cy="1301" r="4.6"/><circle cx="633" cy="1307" r="4.6"/><circle cx="663" cy="1300" r="4.6"/><circle cx="668" cy="1280" r="4.6"/><circle cx="673" cy="1305" r="4.6"/><circle cx="660" cy="1299" r="4.6"/><circle cx="665" cy="1280" r="4.6"/><circle cx="662" cy="1263" r="4.6"/><circle cx="638" cy="1284" r="4.6"/><circle cx="617" cy="1278" r="4.6"/><circle cx="657" cy="1292" r="4.6"/><circle cx="631" cy="1308" r="4.6"/><circle cx="658" cy="1277" r="4.6"/><circle cx="658" cy="1289" r="4.6"/><circle cx="650" cy="1280" r="4.6"/><circle cx="680" cy="1293" r="4.6"/><circle cx="661" cy="1299" r="4.6"/><circle cx="678" cy="1261" r="4.6"/><circle cx="655" cy="1298" r="4.6"/><circle cx="633" cy="1280" r="4.6"/><circle cx="620" cy="1270" r="4.6"/><circle cx="640" cy="1265" r="4.6"/><circle cx="632" cy="1306" r="4.6"/><circle cx="651" cy="1286" r="4.6"/><circle cx="677" cy="1289" r="4.6"/><circle cx="679" cy="1292" r="4.6"/><circle cx="668" cy="1263" r="4.6"/><circle cx="654" cy="1299" r="4.6"/><circle cx="619" cy="1307" r="4.6"/><circle cx="627" cy="1284" r="4.6"/><circle cx="627" cy="1285" r="4.6"/><circle cx="655" cy="1263" r="4.6"/><circle cx="676" cy="1281" r="4.6"/><circle cx="650" cy="1290" r="4.6"/><circle cx="639" cy="1274" r="4.6"/><circle cx="658" cy="1288" r="4.6"/><circle cx="634" cy="1296" r="4.6"/><circle cx="635" cy="1260" r="4.6"/><circle cx="632" cy="1262" r="4.6"/><circle cx="626" cy="1298" r="4.6"/><circle cx="641" cy="1306" r="4.6"/><circle cx="664" cy="1262" r="4.6"/><circle cx="679" cy="1308" r="4.6"/><circle cx="621" cy="1306" r="4.6"/><circle cx="644" cy="1284" r="4.6"/><circle cx="678" cy="1272" r="4.6"/><circle cx="649" cy="1308" r="4.6"/><circle cx="662" cy="1284" r="4.6"/><circle cx="678" cy="1302" r="4.6"/><circle cx="655" cy="1266" r="4.6"/><circle cx="656" cy="1283" r="4.6"/><circle cx="629" cy="1262" r="4.6"/><circle cx="650" cy="1266" r="4.6"/><circle cx="644" cy="1294" r="4.6"/><circle cx="645" cy="1273" r="4.6"/><circle cx="653" cy="1281" r="4.6"/><circle cx="666" cy="1287" r="4.6"/><circle cx="679" cy="1309" r="4.6"/><circle cx="663" cy="1272" r="4.6"/><circle cx="624" cy="1306" r="4.6"/><circle cx="666" cy="1292" r="4.6"/><circle cx="639" cy="1274" r="4.6"/><circle cx="660" cy="1289" r="4.6"/><circle cx="654" cy="1292" r="4.6"/><circle cx="664" cy="1269" r="4.6"/><circle cx="632" cy="1310" r="4.6"/><circle cx="674" cy="1305" r="4.6"/><circle cx="619" cy="1263" r="4.6"/><circle cx="634" cy="1281" r="4.6"/><circle cx="656" cy="1265" r="4.6"/><circle cx="651" cy="1263" r="4.6"/><circle cx="622" cy="1294" r="4.6"/><circle cx="651" cy="1292" r="4.6"/><circle cx="640" cy="1284" r="4.6"/><circle cx="630" cy="1277" r="4.6"/><circle cx="663" cy="1303" r="4.6"/><circle cx="621" cy="1266" r="4.6"/><circle cx="668" cy="1292" r="4.6"/><circle cx="665" cy="1271" r="4.6"/><circle cx="643" cy="1273" r="4.6"/><circle cx="668" cy="1279" r="4.6"/><circle cx="658" cy="1311" r="4.6"/><circle cx="637" cy="1288" r="4.6"/><circle cx="664" cy="1307" r="4.6"/><circle cx="643" cy="1279" r="4.6"/><circle cx="623" cy="1305" r="4.6"/><circle cx="621" cy="1264" r="4.6"/><circle cx="652" cy="1285" r="4.6"/><circle cx="660" cy="1275" r="4.6"/><circle cx="665" cy="1263" r="4.6"/><circle cx="630" cy="1294" r="4.6"/><circle cx="622" cy="1275" r="4.6"/><circle cx="662" cy="1295" r="4.6"/><circle cx="634" cy="1267" r="4.6"/><circle cx="639" cy="1297" r="4.6"/><circle cx="640" cy="1266" r="4.6"/><circle cx="661" cy="1289" r="4.6"/><circle cx="674" cy="1308" r="4.6"/><circle cx="674" cy="1282" r="4.6"/><circle cx="667" cy="1275" r="4.6"/><circle cx="636" cy="1280" r="4.6"/><circle cx="678" cy="1329" r="4.6"/><circle cx="658" cy="1318" r="4.6"/><circle cx="662" cy="1318" r="4.6"/><circle cx="662" cy="1319" r="4.6"/><circle cx="657" cy="1322" r="4.6"/><circle cx="674" cy="1322" r="4.6"/><circle cx="675" cy="1322" r="4.6"/><circle cx="656" cy="1326" r="4.6"/><circle cx="676" cy="1317" r="4.6"/><circle cx="652" cy="1321" r="4.6"/><circle cx="667" cy="1322" r="4.6"/><circle cx="679" cy="1324" r="4.6"/><circle cx="674" cy="1312" r="4.6"/><circle cx="667" cy="1327" r="4.6"/><circle cx="654" cy="1313" r="4.6"/><circle cx="672" cy="1329" r="4.6"/><circle cx="654" cy="1324" r="4.6"/><circle cx="655" cy="1326" r="4.6"/><circle cx="670" cy="1316" r="4.6"/><circle cx="658" cy="1326" r="4.6"/><circle cx="666" cy="1326" r="4.6"/><circle cx="662" cy="1318" r="4.6"/><circle cx="679" cy="1324" r="4.6"/><circle cx="665" cy="1322" r="4.6"/><circle cx="672" cy="1325" r="4.6"/><circle cx="677" cy="1319" r="4.6"/><circle cx="675" cy="1324" r="4.6"/><circle cx="675" cy="1327" r="4.6"/><circle cx="675" cy="1388" r="4.6"/><circle cx="678" cy="1373" r="4.6"/><circle cx="667" cy="1377" r="4.6"/><circle cx="674" cy="1360" r="4.6"/><circle cx="664" cy="1343" r="4.6"/><circle cx="673" cy="1394" r="4.6"/><circle cx="663" cy="1344" r="4.6"/><circle cx="658" cy="1360" r="4.6"/><circle cx="661" cy="1392" r="4.6"/><circle cx="655" cy="1353" r="4.6"/><circle cx="656" cy="1373" r="4.6"/><circle cx="674" cy="1345" r="4.6"/><circle cx="655" cy="1362" r="4.6"/><circle cx="668" cy="1389" r="4.6"/><circle cx="654" cy="1341" r="4.6"/><circle cx="658" cy="1347" r="4.6"/><circle cx="659" cy="1377" r="4.6"/><circle cx="669" cy="1348" r="4.6"/><circle cx="658" cy="1351" r="4.6"/><circle cx="658" cy="1380" r="4.6"/><circle cx="661" cy="1367" r="4.6"/><circle cx="675" cy="1363" r="4.6"/><circle cx="660" cy="1387" r="4.6"/><circle cx="677" cy="1355" r="4.6"/><circle cx="668" cy="1392" r="4.6"/><circle cx="666" cy="1348" r="4.6"/><circle cx="654" cy="1391" r="4.6"/><circle cx="674" cy="1357" r="4.6"/><circle cx="667" cy="1365" r="4.6"/><circle cx="660" cy="1394" r="4.6"/><circle cx="670" cy="1349" r="4.6"/><circle cx="653" cy="1363" r="4.6"/><circle cx="663" cy="1382" r="4.6"/><circle cx="672" cy="1371" r="4.6"/><circle cx="657" cy="1344" r="4.6"/><circle cx="662" cy="1350" r="4.6"/><circle cx="676" cy="1365" r="4.6"/><circle cx="670" cy="1394" r="4.6"/><circle cx="660" cy="1366" r="4.6"/><circle cx="657" cy="1380" r="4.6"/><circle cx="653" cy="1383" r="4.6"/><circle cx="675" cy="1384" r="4.6"/><circle cx="655" cy="1350" r="4.6"/><circle cx="672" cy="1340" r="4.6"/><circle cx="666" cy="1362" r="4.6"/><circle cx="678" cy="1369" r="4.6"/><circle cx="676" cy="1353" r="4.6"/><circle cx="674" cy="1359" r="4.6"/><circle cx="677" cy="1340" r="4.6"/><circle cx="675" cy="1347" r="4.6"/><circle cx="667" cy="1366" r="4.6"/><circle cx="657" cy="1384" r="4.6"/><circle cx="661" cy="1353" r="4.6"/><circle cx="655" cy="1353" r="4.6"/><circle cx="665" cy="1377" r="4.6"/><circle cx="663" cy="1375" r="4.6"/><circle cx="656" cy="1358" r="4.6"/><circle cx="665" cy="1392" r="4.6"/><circle cx="675" cy="1373" r="4.6"/><circle cx="653" cy="1357" r="4.6"/></g>
<g class="pt" fill="url(#pr)"><circle cx="665" cy="1266" r="4.6"/><circle cx="665" cy="1516" r="4.6"/></g>
<path stroke="#00F" stroke-width="4.5" stroke-opacity="0.1" d="M681.1 1314v1M681.1 1331v2M681.1 1336v2M681.1 1385v1M681.1 1395v3M681.1 1412v5M681.1 1420v5M681.1 1428v1M681.1 1437v1M681.1 1449v13M681.1 1470v3M681.1 1481v5M681.1 1493v3M681.1 1503v3"/><path stroke="#00F" stroke-width="4.5" stroke-opacity="0.2" d="M681.1 1259v1M681.1 1267v5M681.1 1290v1M681.1 1295v2M681.1 1310v4M681.1 1315v2M681.1 1319v2M681.1 1328v3M681.1 1338v1M681.1 1344v3M681.1 1349v2M681.1 1354v4M681.1 1359v3M681.1 1363v2M681.1 1367v9M681.1 1377v8M681.1 1386v5M681.1 1394v1M681.1 1407v5M681.1 1425v3M681.1 1431v6M681.1 1446v3M681.1 1474v3"/><path stroke="#00F" stroke-width="4.5" stroke-opacity="0.3" d="M681.1 1260v2M681.1 1264v3M681.1 1272v7M681.1 1285v5M681.1 1291v4M681.1 1297v10M681.1 1309v1M681.1 1317v2M681.1 1321v7M681.1 1339v5M681.1 1347v2M681.1 1351v3M681.1 1358v1M681.1 1362v1M681.1 1365v2M681.1 1376v1M681.1 1391v3"/><path stroke="#00F" stroke-width="4.5" stroke-opacity="0.4" d="M681.1 1262v2M681.1 1279v6M681.1 1307v2"/>
</g>
<path stroke="#00F" stroke-width="10" stroke-opacity="0.05" d="M681 1237.3h1"/><path stroke="#00F" stroke-width="10" stroke-opacity="0.15" d="M616 1237.3h1"/><path stroke="#00F" stroke-width="10" stroke-opacity="0.2" d="M647 1237.3h1"/><path stroke="#00F" stroke-width="10" stroke-opacity="0.25" d="M617 1237.3h1M624 1237.3h2M641 1237.3h1M646 1237.3h1"/><path stroke="#00F" stroke-width="10" stroke-opacity="0.3" d="M626 1237.3h1M642 1237.3h1"/><path stroke="#00F" stroke-width="10" stroke-opacity="0.35" d="M623 1237.3h1M627 1237.3h1M643 1237.3h1M645 1237.3h1M680 1237.3h1"/><path stroke="#00F" stroke-width="10" stroke-opacity="0.4" d="M618 1237.3h1M632 1237.3h1M637 1237.3h4M644 1237.3h1M648 1237.3h1M669 1237.3h2"/><path stroke="#00F" stroke-width="10" stroke-opacity="0.45" d="M619 1237.3h1M622 1237.3h1M631 1237.3h1M633 1237.3h2M636 1237.3h1M649 1237.3h1"/><path stroke="#00F" stroke-width="10" stroke-opacity="0.5" d="M620 1237.3h2M628 1237.3h3M635 1237.3h1M650 1237.3h2M668 1237.3h1M671 1237.3h1M679 1237.3h1"/><path stroke="#00F" stroke-width="10" stroke-opacity="0.55" d="M652 1237.3h2M658 1237.3h1M665 1237.3h1M667 1237.3h1M672 1237.3h1M676 1237.3h3"/><path stroke="#00F" stroke-width="10" stroke-opacity="0.6" d="M654 1237.3h4M659 1237.3h6M666 1237.3h1M673 1237.3h3"/>
<line x1="616.15" x2="683.35" y1="1517.3" y2="1517.3" stroke="#000" stroke-width="3.3"/>
<rect x="699.88" y="1180.7" width="67.2" height="51.1" fill="#EEEEEE"/>
<text x="731.88" y="1214.95" font-size="24" font-weight="bold" text-anchor="middle">7</text>
<line x1="699.88" x2="767.08" y1="1261" y2="1261" stroke="#E4E4E4" stroke-width="2.4"/>
<line x1="699.88" x2="767.08" y1="1330.73" y2="1330.73" stroke="#E4E4E4" stroke-width="2.4"/>
<line x1="699.88" x2="767.08" y1="1400.47" y2="1400.47" stroke="#E4E4E4" stroke-width="2.4"/>
<line x1="699.88" x2="767.08" y1="1470.2" y2="1470.2" stroke="#E4E4E4" stroke-width="2.4"/>
<clipPath id="cb6"><rect x="699.88" y="1231.8" width="67.2" height="285.5"/></clipPath><g clip-path="url(#cb6)">
<g class="pt" fill="url(#pg)"><circle cx="706" cy="1261" r="4.6"/><circle cx="718" cy="1259" r="4.6"/><circle cx="723" cy="1258" r="4.6"/><circle cx="713" cy="1298" r="4.6"/><circle cx="709" cy="1308" r="4.6"/><circle cx="728" cy="1291" r="4.6"/><circle cx="760" cy="1291" r="4.6"/><circle cx="753" cy="1294" r="4.6"/><circle cx="709" cy="1325" r="4.6"/><circle cx="730" cy="1329" r="4.6"/><circle cx="745" cy="1334" r="4.6"/><circle cx="752" cy="1339" r="4.6"/><circle cx="758" cy="1342" r="4.6"/><circle cx="736" cy="1350" r="4.6"/><circle cx="703" cy="1353" r="4.6"/><circle cx="747" cy="1390" r="4.6"/><circle cx="728" cy="1406" r="4.6"/><circle cx="760" cy="1408" r="4.6"/><circle cx="762" cy="1421" r="4.6"/><circle cx="736" cy="1423" r="4.6"/><circle cx="725" cy="1432" r="4.6"/><circle cx="747" cy="1438" r="4.6"/><circle cx="718" cy="1449" r="4.6"/><circle cx="723" cy="1447" r="4.6"/><circle cx="721" cy="1454" r="4.6"/><circle cx="746" cy="1450" r="4.6"/><circle cx="737" cy="1455" r="4.6"/><circle cx="752" cy="1462" r="4.6"/><circle cx="762" cy="1457" r="4.6"/><circle cx="703" cy="1464" r="4.6"/><circle cx="723" cy="1462" r="4.6"/><circle cx="723" cy="1467" r="4.6"/><circle cx="731" cy="1471" r="4.6"/><circle cx="723" cy="1476" r="4.6"/><circle cx="723" cy="1488" r="4.6"/><circle cx="730" cy="1505" r="4.6"/><circle cx="760" cy="1505" r="4.6"/><circle cx="703" cy="1516" r="4.6"/><circle cx="731" cy="1516" r="4.6"/><circle cx="743" cy="1516" r="4.6"/><circle cx="760" cy="1516" r="4.6"/><circle cx="745" cy="1265" r="4.6"/><circle cx="737" cy="1270" r="4.6"/><circle cx="703" cy="1283" r="4.6"/><circle cx="751" cy="1264" r="4.6"/><circle cx="740" cy="1266" r="4.6"/><circle cx="725" cy="1272" r="4.6"/><circle cx="721" cy="1267" r="4.6"/><circle cx="726" cy="1275" r="4.6"/><circle cx="718" cy="1264" r="4.6"/><circle cx="747" cy="1267" r="4.6"/><circle cx="759" cy="1273" r="4.6"/><circle cx="746" cy="1267" r="4.6"/><circle cx="752" cy="1262" r="4.6"/><circle cx="711" cy="1262" r="4.6"/><circle cx="743" cy="1276" r="4.6"/><circle cx="714" cy="1269" r="4.6"/><circle cx="753" cy="1273" r="4.6"/><circle cx="708" cy="1265" r="4.6"/><circle cx="712" cy="1262" r="4.6"/><circle cx="727" cy="1261" r="4.6"/><circle cx="758" cy="1270" r="4.6"/><circle cx="733" cy="1275" r="4.6"/><circle cx="749" cy="1279" r="4.6"/><circle cx="726" cy="1267" r="4.6"/><circle cx="727" cy="1260" r="4.6"/><circle cx="727" cy="1276" r="4.6"/><circle cx="762" cy="1278" r="4.6"/><circle cx="742" cy="1274" r="4.6"/><circle cx="704" cy="1267" r="4.6"/><circle cx="723" cy="1275" r="4.6"/><circle cx="726" cy="1299" r="4.6"/><circle cx="738" cy="1312" r="4.6"/><circle cx="747" cy="1306" r="4.6"/><circle cx="727" cy="1312" r="4.6"/><circle cx="750" cy="1304" r="4.6"/><circle cx="733" cy="1303" r="4.6"/><circle cx="727" cy="1310" r="4.6"/><circle cx="752" cy="1303" r="4.6"/><circle cx="744" cy="1314" r="4.6"/><circle cx="729" cy="1318" r="4.6"/><circle cx="742" cy="1293" r="4.6"/><circle cx="725" cy="1294" r="4.6"/><circle cx="740" cy="1309" r="4.6"/><circle cx="733" cy="1317" r="4.6"/><circle cx="734" cy="1302" r="4.6"/><circle cx="726" cy="1319" r="4.6"/><circle cx="727" cy="1316" r="4.6"/><circle cx="739" cy="1305" r="4.6"/><circle cx="740" cy="1295" r="4.6"/><circle cx="750" cy="1319" r="4.6"/></g>
<path stroke="#00F" stroke-width="4.5" stroke-opacity="0.1" d="M764.83 1256v1M764.83 1281v3M764.83 1289v1M764.83 1296v1M764.83 1299v2M764.83 1314v1M764.83 1320v1M764.83 1324v3M764.83 1328v3M764.83 1333v3M764.83 1337v7M764.83 1348v6M764.83 1388v4M764.83 1404v6M764.83 1419v6M764.83 1430v3M764.83 1437v3M764.83 1446v1M764.83 1451v2M764.83 1456v3M764.83 1464v8M764.83 1474v3M764.83 1486v4"/><path stroke="#00F" stroke-width="4.5" stroke-opacity="0.2" d="M764.83 1257v3M764.83 1263v1M764.83 1269v4M764.83 1276v4M764.83 1290v6M764.83 1297v2M764.83 1301v13M764.83 1315v5M764.83 1447v4M764.83 1453v3M764.83 1461v3M764.83 1503v3"/><path stroke="#00F" stroke-width="4.5" stroke-opacity="0.3" d="M764.83 1260v3M764.83 1264v5M764.83 1273v3"/>
</g>
<path stroke="#00F" stroke-width="10" stroke-opacity="0.05" d="M715 1237.3h1"/><path stroke="#00F" stroke-width="10" stroke-opacity="0.15" d="M754 1237.3h1M763 1237.3h1"/><path stroke="#00F" stroke-width="10" stroke-opacity="0.2" d="M705 1237.3h2M710 1237.3h1M714 1237.3h1M756 1237.3h1"/><path stroke="#00F" stroke-width="10" stroke-opacity="0.25" d="M701 1237.3h1M716 1237.3h1M719 1237.3h2M757 1237.3h1"/><path stroke="#00F" stroke-width="10" stroke-opacity="0.3" d="M704 1237.3h1M707 1237.3h3M711 1237.3h3M717 1237.3h2M734 1237.3h2M741 1237.3h1M749 1237.3h1M762 1237.3h1"/><path stroke="#00F" stroke-width="10" stroke-opacity="0.35" d="M702 1237.3h2M729 1237.3h5M736 1237.3h5M742 1237.3h3M748 1237.3h1M750 1237.3h1M753 1237.3h1M758 1237.3h1"/><path stroke="#00F" stroke-width="10" stroke-opacity="0.4" d="M721 1237.3h1M724 1237.3h1M728 1237.3h1M745 1237.3h3M751 1237.3h2M759 1237.3h3"/><path stroke="#00F" stroke-width="10" stroke-opacity="0.45" d="M722 1237.3h2M725 1237.3h1"/><path stroke="#00F" stroke-width="10" stroke-opacity="0.5" d="M726 1237.3h2"/>
<line x1="699.88" x2="767.08" y1="1517.3" y2="1517.3" stroke="#000" stroke-width="3.3"/>
<rect x="783.61" y="1180.7" width="67.2" height="51.1" fill="#EEEEEE"/>
<text x="815.61" y="1214.95" font-size="24" font-weight="bold" text-anchor="middle">8</text>
<line x1="783.61" x2="850.81" y1="1261" y2="1261" stroke="#E4E4E4" stroke-width="2.4"/>
<line x1="783.61" x2="850.81" y1="1330.73" y2="1330.73" stroke="#E4E4E4" stroke-width="2.4"/>
<line x1="783.61" x2="850.81" y1="1400.47" y2="1400.47" stroke="#E4E4E4" stroke-width="2.4"/>
<line x1="783.61" x2="850.81" y1="1470.2" y2="1470.2" stroke="#E4E4E4" stroke-width="2.4"/>
<clipPath id="cb7"><rect x="783.61" y="1231.8" width="67.2" height="285.5"/></clipPath><g clip-path="url(#cb7)">
<g class="pt" fill="url(#pg)"><circle cx="808" cy="1261" r="4.6"/><circle cx="837" cy="1261" r="4.6"/><circle cx="811" cy="1319" r="4.6"/><circle cx="839" cy="1320" r="4.6"/><circle cx="846" cy="1319" r="4.6"/><circle cx="789" cy="1329" r="4.6"/><circle cx="803" cy="1329" r="4.6"/><circle cx="811" cy="1332" r="4.6"/><circle cx="826" cy="1325" r="4.6"/><circle cx="831" cy="1332" r="4.6"/><circle cx="840" cy="1338" r="4.6"/><circle cx="839" cy="1343" r="4.6"/><circle cx="790" cy="1349" r="4.6"/><circle cx="803" cy="1352" r="4.6"/><circle cx="812" cy="1350" r="4.6"/><circle cx="831" cy="1360" r="4.6"/><circle cx="840" cy="1371" r="4.6"/><circle cx="803" cy="1363" r="4.6"/><circle cx="796" cy="1366" r="4.6"/><circle cx="812" cy="1370" r="4.6"/><circle cx="796" cy="1388" r="4.6"/><circle cx="812" cy="1386" r="4.6"/><circle cx="812" cy="1394" r="4.6"/><circle cx="812" cy="1401" r="4.6"/><circle cx="847" cy="1383" r="4.6"/><circle cx="847" cy="1394" r="4.6"/><circle cx="831" cy="1397" r="4.6"/><circle cx="809" cy="1412" r="4.6"/><circle cx="787" cy="1418" r="4.6"/><circle cx="831" cy="1416" r="4.6"/><circle cx="831" cy="1421" r="4.6"/><circle cx="844" cy="1404" r="4.6"/><circle cx="842" cy="1411" r="4.6"/><circle cx="847" cy="1425" r="4.6"/><circle cx="831" cy="1436" r="4.6"/><circle cx="837" cy="1434" r="4.6"/><circle cx="841" cy="1432" r="4.6"/><circle cx="792" cy="1447" r="4.6"/><circle cx="799" cy="1447" r="4.6"/><circle cx="825" cy="1453" r="4.6"/><circle cx="826" cy="1462" r="4.6"/><circle cx="811" cy="1464" r="4.6"/><circle cx="841" cy="1457" r="4.6"/><circle cx="847" cy="1449" r="4.6"/><circle cx="835" cy="1471" r="4.6"/><circle cx="847" cy="1471" r="4.6"/><circle cx="847" cy="1488" r="4.6"/><circle cx="786" cy="1516" r="4.6"/><circle cx="809" cy="1516" r="4.6"/><circle cx="824" cy="1516" r="4.6"/><circle cx="846" cy="1516" r="4.6"/><circle cx="834" cy="1283" r="4.6"/><circle cx="792" cy="1291" r="4.6"/><circle cx="802" cy="1294" r="4.6"/><circle cx="799" cy="1282" r="4.6"/><circle cx="835" cy="1268" r="4.6"/><circle cx="818" cy="1264" r="4.6"/><circle cx="786" cy="1268" r="4.6"/><circle cx="845" cy="1296" r="4.6"/><circle cx="825" cy="1272" r="4.6"/><circle cx="826" cy="1288" r="4.6"/><circle cx="808" cy="1283" r="4.6"/><circle cx="834" cy="1262" r="4.6"/><circle cx="797" cy="1278" r="4.6"/><circle cx="793" cy="1275" r="4.6"/><circle cx="819" cy="1268" r="4.6"/><circle cx="816" cy="1271" r="4.6"/><circle cx="819" cy="1273" r="4.6"/><circle cx="824" cy="1263" r="4.6"/><circle cx="825" cy="1267" r="4.6"/><circle cx="843" cy="1283" r="4.6"/><circle cx="813" cy="1276" r="4.6"/><circle cx="823" cy="1286" r="4.6"/><circle cx="831" cy="1289" r="4.6"/><circle cx="814" cy="1298" r="4.6"/><circle cx="836" cy="1292" r="4.6"/><circle cx="809" cy="1277" r="4.6"/><circle cx="819" cy="1294" r="4.6"/><circle cx="817" cy="1280" r="4.6"/><circle cx="811" cy="1294" r="4.6"/><circle cx="804" cy="1263" r="4.6"/><circle cx="829" cy="1294" r="4.6"/><circle cx="829" cy="1283" r="4.6"/><circle cx="830" cy="1272" r="4.6"/><circle cx="821" cy="1264" r="4.6"/><circle cx="792" cy="1278" r="4.6"/><circle cx="815" cy="1276" r="4.6"/><circle cx="787" cy="1287" r="4.6"/><circle cx="817" cy="1270" r="4.6"/><circle cx="803" cy="1276" r="4.6"/><circle cx="799" cy="1264" r="4.6"/><circle cx="840" cy="1297" r="4.6"/><circle cx="825" cy="1293" r="4.6"/><circle cx="810" cy="1291" r="4.6"/><circle cx="798" cy="1289" r="4.6"/><circle cx="819" cy="1294" r="4.6"/><circle cx="790" cy="1290" r="4.6"/><circle cx="792" cy="1281" r="4.6"/><circle cx="843" cy="1261" r="4.6"/><circle cx="799" cy="1272" r="4.6"/><circle cx="804" cy="1264" r="4.6"/><circle cx="839" cy="1291" r="4.6"/><circle cx="809" cy="1274" r="4.6"/><circle cx="820" cy="1263" r="4.6"/><circle cx="786" cy="1294" r="4.6"/><circle cx="803" cy="1279" r="4.6"/><circle cx="842" cy="1297" r="4.6"/><circle cx="813" cy="1269" r="4.6"/><circle cx="802" cy="1295" r="4.6"/><circle cx="839" cy="1268" r="4.6"/><circle cx="836" cy="1274" r="4.6"/><circle cx="813" cy="1268" r="4.6"/><circle cx="838" cy="1298" r="4.6"/><circle cx="797" cy="1284" r="4.6"/><circle cx="796" cy="1293" r="4.6"/><circle cx="787" cy="1265" r="4.6"/><circle cx="829" cy="1273" r="4.6"/><circle cx="840" cy="1293" r="4.6"/><circle cx="828" cy="1266" r="4.6"/><circle cx="827" cy="1296" r="4.6"/><circle cx="812" cy="1264" r="4.6"/><circle cx="793" cy="1306" r="4.6"/><circle cx="801" cy="1303" r="4.6"/><circle cx="792" cy="1304" r="4.6"/><circle cx="800" cy="1319" r="4.6"/><circle cx="795" cy="1315" r="4.6"/><circle cx="804" cy="1313" r="4.6"/><circle cx="793" cy="1306" r="4.6"/><circle cx="805" cy="1316" r="4.6"/><circle cx="794" cy="1315" r="4.6"/><circle cx="791" cy="1324" r="4.6"/><circle cx="797" cy="1312" r="4.6"/><circle cx="798" cy="1299" r="4.6"/><circle cx="799" cy="1305" r="4.6"/><circle cx="793" cy="1319" r="4.6"/><circle cx="791" cy="1305" r="4.6"/><circle cx="839" cy="1296" r="4.6"/><circle cx="827" cy="1302" r="4.6"/><circle cx="824" cy="1309" r="4.6"/><circle cx="845" cy="1292" r="4.6"/><circle cx="831" cy="1306" r="4.6"/><circle cx="829" cy="1310" r="4.6"/><circle cx="832" cy="1295" r="4.6"/><circle cx="834" cy="1304" r="4.6"/><circle cx="829" cy="1304" r="4.6"/><circle cx="840" cy="1301" r="4.6"/><circle cx="833" cy="1308" r="4.6"/><circle cx="837" cy="1302" r="4.6"/><circle cx="844" cy="1295" r="4.6"/><circle cx="840" cy="1294" r="4.6"/><circle cx="835" cy="1296" r="4.6"/><circle cx="796" cy="1379" r="4.6"/><circle cx="804" cy="1379" r="4.6"/><circle cx="791" cy="1376" r="4.6"/><circle cx="791" cy="1377" r="4.6"/><circle cx="798" cy="1371" r="4.6"/><circle cx="800" cy="1378" r="4.6"/><circle cx="799" cy="1380" r="4.6"/><circle cx="790" cy="1372" r="4.6"/><circle cx="786" cy="1404" r="4.6"/><circle cx="793" cy="1403" r="4.6"/><circle cx="790" cy="1408" r="4.6"/><circle cx="787" cy="1410" r="4.6"/><circle cx="795" cy="1405" r="4.6"/><circle cx="799" cy="1401" r="4.6"/><circle cx="788" cy="1402" r="4.6"/><circle cx="787" cy="1402" r="4.6"/><circle cx="808" cy="1433" r="4.6"/><circle cx="799" cy="1434" r="4.6"/><circle cx="795" cy="1439" r="4.6"/><circle cx="797" cy="1427" r="4.6"/><circle cx="797" cy="1436" r="4.6"/><circle cx="813" cy="1438" r="4.6"/><circle cx="794" cy="1431" r="4.6"/><circle cx="802" cy="1427" r="4.6"/><circle cx="817" cy="1423" r="4.6"/><circle cx="805" cy="1438" r="4.6"/><circle cx="817" cy="1425" r="4.6"/><circle cx="804" cy="1437" r="4.6"/></g>
<g class="pt" fill="url(#pr)"><circle cx="795" cy="1467" r="4.6"/><circle cx="795" cy="1471" r="4.6"/><circle cx="795" cy="1474" r="4.6"/><circle cx="795" cy="1484" r="4.6"/><circle cx="795" cy="1489" r="4.6"/><circle cx="795" cy="1494" r="4.6"/><circle cx="795" cy="1515" r="4.6"/></g>
<path stroke="#00F" stroke-width="4.5" stroke-opacity="0.1" d="M848.56 1259v1M848.56 1299v1M848.56 1311v1M848.56 1321v3M848.56 1326v1M848.56 1333v1M848.56 1336v3M848.56 1342v3M848.56 1348v1M848.56 1352v1M848.56 1358v11M848.56 1373v2M848.56 1380v6M848.56 1387v2M848.56 1392v1M848.56 1395v5M848.56 1406v2M848.56 1412v1M848.56 1414v9M848.56 1428v2M848.56 1449v6M848.56 1456v3M848.56 1461v1M848.56 1464v6M848.56 1473v3M848.56 1482v5M848.56 1490v1M848.56 1492v4"/><path stroke="#00F" stroke-width="4.5" stroke-opacity="0.2" d="M848.56 1260v1M848.56 1265v1M848.56 1269v2M848.56 1277v5M848.56 1284v3M848.56 1288v1M848.56 1298v1M848.56 1300v2M848.56 1307v4M848.56 1312v6M848.56 1320v1M848.56 1324v2M848.56 1328v5M848.56 1349v3M848.56 1369v4M848.56 1375v3M848.56 1379v1M848.56 1386v1M848.56 1393v2M848.56 1400v1M848.56 1402v4M848.56 1408v4M848.56 1423v5M848.56 1430v6M848.56 1438v2M848.56 1446v3M848.56 1462v2M848.56 1470v3M848.56 1487v3"/><path stroke="#00F" stroke-width="4.5" stroke-opacity="0.3" d="M848.56 1261v4M848.56 1266v3M848.56 1271v6M848.56 1282v2M848.56 1287v1M848.56 1289v4M848.56 1296v2M848.56 1302v5M848.56 1318v2M848.56 1378v1M848.56 1401v1M848.56 1436v2"/><path stroke="#00F" stroke-width="4.5" stroke-opacity="0.4" d="M848.56 1293v3"/>
</g>
<path stroke="#00F" stroke-width="10" stroke-opacity="0.1" d="M848 1237.3h1"/><path stroke="#00F" stroke-width="10" stroke-opacity="0.2" d="M784 1237.3h1"/><path stroke="#00F" stroke-width="10" stroke-opacity="0.25" d="M806 1237.3h1"/><path stroke="#00F" stroke-width="10" stroke-opacity="0.3" d="M821 1237.3h2"/><path stroke="#00F" stroke-width="10" stroke-opacity="0.35" d="M805 1237.3h1M807 1237.3h1M814 1237.3h1M820 1237.3h1M842 1237.3h2"/><path stroke="#00F" stroke-width="10" stroke-opacity="0.4" d="M785 1237.3h1M788 1237.3h1M808 1237.3h1M815 1237.3h5M823 1237.3h1M827 1237.3h2M832 1237.3h6M841 1237.3h1M844 1237.3h1M847 1237.3h1"/><path stroke="#00F" stroke-width="10" stroke-opacity="0.45" d="M786 1237.3h2M789 1237.3h1M800 1237.3h2M804 1237.3h1M809 1237.3h2M813 1237.3h1M824 1237.3h3M846 1237.3h1"/><path stroke="#00F" stroke-width="10" stroke-opacity="0.5" d="M790 1237.3h4M797 1237.3h3M802 1237.3h2M811 1237.3h2M829 1237.3h3M838 1237.3h3M845 1237.3h1"/><path stroke="#00F" stroke-width="10" stroke-opacity="0.55" d="M794 1237.3h1M796 1237.3h1"/><path stroke="#00F" stroke-width="10" stroke-opacity="0.6" d="M795 1237.3h1"/>
<line x1="783.61" x2="850.81" y1="1517.3" y2="1517.3" stroke="#000" stroke-width="3.3"/>
<rect x="867.34" y="1180.7" width="67.2" height="51.1" fill="#EEEEEE"/>
<text x="899.34" y="1214.95" font-size="24" font-weight="bold" text-anchor="middle">9</text>
<line x1="867.34" x2="934.54" y1="1261" y2="1261" stroke="#E4E4E4" stroke-width="2.4"/>
<line x1="867.34" x2="934.54" y1="1330.73" y2="1330.73" stroke="#E4E4E4" stroke-width="2.4"/>
<line x1="867.34" x2="934.54" y1="1400.47" y2="1400.47" stroke="#E4E4E4" stroke-width="2.4"/>
<line x1="867.34" x2="934.54" y1="1470.2" y2="1470.2" stroke="#E4E4E4" stroke-width="2.4"/>
<clipPath id="cb8"><rect x="867.34" y="1231.8" width="67.2" height="285.5"/></clipPath><g clip-path="url(#cb8)">
<g class="pt" fill="url(#pg)"><circle cx="898" cy="1247" r="4.6"/><circle cx="910" cy="1260" r="4.6"/><circle cx="918" cy="1266" r="4.6"/><circle cx="925" cy="1268" r="4.6"/><circle cx="930" cy="1263" r="4.6"/><circle cx="925" cy="1274" r="4.6"/><circle cx="926" cy="1284" r="4.6"/><circle cx="925" cy="1289" r="4.6"/><circle cx="926" cy="1294" r="4.6"/><circle cx="872" cy="1291" r="4.6"/><circle cx="875" cy="1294" r="4.6"/><circle cx="878" cy="1294" r="4.6"/><circle cx="872" cy="1303" r="4.6"/><circle cx="898" cy="1296" r="4.6"/><circle cx="926" cy="1304" r="4.6"/><circle cx="887" cy="1309" r="4.6"/><circle cx="887" cy="1314" r="4.6"/><circle cx="905" cy="1314" r="4.6"/><circle cx="904" cy="1322" r="4.6"/><circle cx="926" cy="1320" r="4.6"/><circle cx="926" cy="1324" r="4.6"/><circle cx="872" cy="1330" r="4.6"/><circle cx="881" cy="1330" r="4.6"/><circle cx="920" cy="1337" r="4.6"/><circle cx="872" cy="1345" r="4.6"/><circle cx="927" cy="1348" r="4.6"/><circle cx="887" cy="1371" r="4.6"/><circle cx="884" cy="1385" r="4.6"/><circle cx="904" cy="1407" r="4.6"/><circle cx="926" cy="1405" r="4.6"/><circle cx="927" cy="1417" r="4.6"/><circle cx="872" cy="1455" r="4.6"/><circle cx="917" cy="1453" r="4.6"/><circle cx="883" cy="1470" r="4.6"/><circle cx="898" cy="1465" r="4.6"/><circle cx="899" cy="1476" r="4.6"/><circle cx="898" cy="1481" r="4.6"/><circle cx="872" cy="1516" r="4.6"/><circle cx="927" cy="1516" r="4.6"/><circle cx="869" cy="1268" r="4.6"/><circle cx="889" cy="1266" r="4.6"/><circle cx="877" cy="1270" r="4.6"/><circle cx="878" cy="1265" r="4.6"/><circle cx="869" cy="1286" r="4.6"/><circle cx="886" cy="1280" r="4.6"/><circle cx="874" cy="1269" r="4.6"/><circle cx="881" cy="1269" r="4.6"/><circle cx="879" cy="1285" r="4.6"/><circle cx="877" cy="1271" r="4.6"/><circle cx="891" cy="1277" r="4.6"/><circle cx="869" cy="1272" r="4.6"/><circle cx="883" cy="1264" r="4.6"/><circle cx="876" cy="1279" r="4.6"/><circle cx="888" cy="1277" r="4.6"/><circle cx="889" cy="1274" r="4.6"/><circle cx="877" cy="1283" r="4.6"/><circle cx="877" cy="1281" r="4.6"/><circle cx="901" cy="1270" r="4.6"/><circle cx="900" cy="1276" r="4.6"/><circle cx="900" cy="1266" r="4.6"/><circle cx="900" cy="1274" r="4.6"/><circle cx="902" cy="1273" r="4.6"/><circle cx="915" cy="1280" r="4.6"/><circle cx="912" cy="1266" r="4.6"/><circle cx="904" cy="1262" r="4.6"/><circle cx="909" cy="1270" r="4.6"/><circle cx="902" cy="1260" r="4.6"/><circle cx="900" cy="1267" r="4.6"/><circle cx="904" cy="1287" r="4.6"/></g>
<g class="pt" fill="url(#pr)"><circle cx="887" cy="1460" r="4.6"/><circle cx="887" cy="1463" r="4.6"/><circle cx="887" cy="1494" r="4.6"/><circle cx="887" cy="1515" r="4.6"/></g>
<path stroke="#00F" stroke-width="4.5" stroke-opacity="0.1" d="M932.29 1245v4M932.29 1258v1M932.29 1289v1M932.29 1291v2M932.29 1296v2M932.29 1301v2M932.29 1304v2M932.29 1307v3M932.29 1312v1M932.29 1315v1M932.29 1319v1M932.29 1324v1M932.29 1328v1M932.29 1331v1M932.29 1335v4M932.29 1343v7M932.29 1369v4M932.29 1383v4M932.29 1403v2M932.29 1407v1M932.29 1415v3M932.29 1451v2M932.29 1455v2M932.29 1458v5M932.29 1465v1M932.29 1468v3M932.29 1474v3M932.29 1479v3M932.29 1492v4"/><path stroke="#00F" stroke-width="4.5" stroke-opacity="0.2" d="M932.29 1259v6M932.29 1271v1M932.29 1274v15M932.29 1290v1M932.29 1293v3M932.29 1303v1M932.29 1313v2M932.29 1320v4M932.29 1329v2M932.29 1405v2M932.29 1453v2M932.29 1463v2"/><path stroke="#00F" stroke-width="4.5" stroke-opacity="0.3" d="M932.29 1265v6M932.29 1272v2"/>
</g>
<path stroke="#00F" stroke-width="10" stroke-opacity="0.1" d="M906 1237.3h2M921 1237.3h1M931 1237.3h1"/><path stroke="#00F" stroke-width="10" stroke-opacity="0.15" d="M867 1237.3h1M892 1237.3h1"/><path stroke="#00F" stroke-width="10" stroke-opacity="0.2" d="M891 1237.3h1M896 1237.3h1M911 1237.3h4M916 1237.3h1M920 1237.3h1M929 1237.3h2"/><path stroke="#00F" stroke-width="10" stroke-opacity="0.25" d="M874 1237.3h1M880 1237.3h2M890 1237.3h1M905 1237.3h1M908 1237.3h3M915 1237.3h1M917 1237.3h3M923 1237.3h1"/><path stroke="#00F" stroke-width="10" stroke-opacity="0.3" d="M868 1237.3h2M875 1237.3h1M879 1237.3h1M882 1237.3h4M889 1237.3h1M928 1237.3h1"/><path stroke="#00F" stroke-width="10" stroke-opacity="0.35" d="M870 1237.3h1M897 1237.3h1M901 1237.3h4"/><path stroke="#00F" stroke-width="10" stroke-opacity="0.4" d="M871 1237.3h3M876 1237.3h3M898 1237.3h1M900 1237.3h1M924 1237.3h1M927 1237.3h1"/><path stroke="#00F" stroke-width="10" stroke-opacity="0.45" d="M886 1237.3h3M899 1237.3h1M925 1237.3h2"/>
<line x1="867.34" x2="934.54" y1="1517.3" y2="1517.3" stroke="#000" stroke-width="3.3"/>
<rect x="951.07" y="1180.7" width="67.2" height="51.1" fill="#EEEEEE"/>
<text x="983.07" y="1214.95" font-size="24" font-weight="bold" text-anchor="middle">10</text>
<line x1="951.07" x2="1018.27" y1="1261" y2="1261" stroke="#E4E4E4" stroke-width="2.4"/>
<line x1="951.07" x2="1018.27" y1="1330.73" y2="1330.73" stroke="#E4E4E4" stroke-width="2.4"/>
<line x1="951.07" x2="1018.27" y1="1400.47" y2="1400.47" stroke="#E4E4E4" stroke-width="2.4"/>
<line x1="951.07" x2="1018.27" y1="1470.2" y2="1470.2" stroke="#E4E4E4" stroke-width="2.4"/>
<clipPath id="cb9"><rect x="951.07" y="1231.8" width="67.2" height="285.5"/></clipPath><g clip-path="url(#cb9)">
<g class="pt" fill="url(#pg)"><circle cx="1011" cy="1254" r="4.6"/><circle cx="972" cy="1260" r="4.6"/><circle cx="964" cy="1266" r="4.6"/><circle cx="966" cy="1293" r="4.6"/><circle cx="980" cy="1291" r="4.6"/><circle cx="990" cy="1291" r="4.6"/><circle cx="996" cy="1290" r="4.6"/><circle cx="1012" cy="1302" r="4.6"/><circle cx="1013" cy="1310" r="4.6"/><circle cx="961" cy="1329" r="4.6"/><circle cx="972" cy="1345" r="4.6"/><circle cx="954" cy="1360" r="4.6"/><circle cx="972" cy="1370" r="4.6"/><circle cx="961" cy="1382" r="4.6"/><circle cx="978" cy="1391" r="4.6"/><circle cx="1002" cy="1383" r="4.6"/><circle cx="1003" cy="1394" r="4.6"/><circle cx="1003" cy="1402" r="4.6"/><circle cx="1003" cy="1411" r="4.6"/><circle cx="966" cy="1403" r="4.6"/><circle cx="978" cy="1427" r="4.6"/><circle cx="961" cy="1431" r="4.6"/><circle cx="972" cy="1437" r="4.6"/><circle cx="972" cy="1443" r="4.6"/><circle cx="961" cy="1451" r="4.6"/><circle cx="961" cy="1464" r="4.6"/><circle cx="956" cy="1468" r="4.6"/><circle cx="955" cy="1516" r="4.6"/><circle cx="971" cy="1516" r="4.6"/><circle cx="1001" cy="1516" r="4.6"/><circle cx="997" cy="1270" r="4.6"/><circle cx="974" cy="1266" r="4.6"/><circle cx="1011" cy="1273" r="4.6"/><circle cx="1000" cy="1285" r="4.6"/><circle cx="1009" cy="1262" r="4.6"/><circle cx="972" cy="1274" r="4.6"/><circle cx="957" cy="1291" r="4.6"/><circle cx="972" cy="1287" r="4.6"/><circle cx="984" cy="1263" r="4.6"/><circle cx="976" cy="1269" r="4.6"/><circle cx="954" cy="1266" r="4.6"/><circle cx="989" cy="1262" r="4.6"/><circle cx="971" cy="1275" r="4.6"/><circle cx="986" cy="1266" r="4.6"/><circle cx="996" cy="1270" r="4.6"/><circle cx="997" cy="1283" r="4.6"/><circle cx="961" cy="1268" r="4.6"/><circle cx="969" cy="1285" r="4.6"/><circle cx="977" cy="1274" r="4.6"/><circle cx="1006" cy="1269" r="4.6"/><circle cx="970" cy="1273" r="4.6"/><circle cx="965" cy="1263" r="4.6"/><circle cx="953" cy="1282" r="4.6"/><circle cx="987" cy="1288" r="4.6"/><circle cx="1013" cy="1271" r="4.6"/><circle cx="994" cy="1292" r="4.6"/><circle cx="965" cy="1284" r="4.6"/><circle cx="993" cy="1293" r="4.6"/><circle cx="1006" cy="1269" r="4.6"/><circle cx="991" cy="1264" r="4.6"/><circle cx="978" cy="1274" r="4.6"/><circle cx="955" cy="1274" r="4.6"/><circle cx="972" cy="1278" r="4.6"/><circle cx="969" cy="1267" r="4.6"/><circle cx="977" cy="1277" r="4.6"/><circle cx="962" cy="1283" r="4.6"/><circle cx="967" cy="1264" r="4.6"/><circle cx="973" cy="1275" r="4.6"/><circle cx="961" cy="1281" r="4.6"/><circle cx="996" cy="1280" r="4.6"/><circle cx="1004" cy="1299" r="4.6"/><circle cx="1002" cy="1321" r="4.6"/><circle cx="1000" cy="1323" r="4.6"/><circle cx="1000" cy="1329" r="4.6"/><circle cx="1003" cy="1327" r="4.6"/><circle cx="1002" cy="1314" r="4.6"/><circle cx="1000" cy="1320" r="4.6"/><circle cx="1006" cy="1334" r="4.6"/><circle cx="1001" cy="1340" r="4.6"/><circle cx="1001" cy="1327" r="4.6"/><circle cx="1004" cy="1358" r="4.6"/><circle cx="1002" cy="1334" r="4.6"/><circle cx="1006" cy="1347" r="4.6"/><circle cx="1004" cy="1337" r="4.6"/><circle cx="1002" cy="1324" r="4.6"/><circle cx="1001" cy="1350" r="4.6"/><circle cx="1005" cy="1322" r="4.6"/><circle cx="1006" cy="1300" r="4.6"/><circle cx="957" cy="1314" r="4.6"/><circle cx="962" cy="1311" r="4.6"/><circle cx="982" cy="1308" r="4.6"/><circle cx="959" cy="1310" r="4.6"/><circle cx="973" cy="1310" r="4.6"/><circle cx="953" cy="1314" r="4.6"/><circle cx="965" cy="1310" r="4.6"/><circle cx="968" cy="1316" r="4.6"/><circle cx="969" cy="1315" r="4.6"/><circle cx="970" cy="1319" r="4.6"/><circle cx="982" cy="1311" r="4.6"/><circle cx="963" cy="1319" r="4.6"/></g>
<g class="pt" fill="url(#pr)"><circle cx="989" cy="1417" r="4.6"/><circle cx="989" cy="1433" r="4.6"/><circle cx="1004" cy="1445" r="4.6"/><circle cx="1004" cy="1455" r="4.6"/><circle cx="1004" cy="1460" r="4.6"/><circle cx="1004" cy="1471" r="4.6"/><circle cx="1004" cy="1494" r="4.6"/><circle cx="1011" cy="1488" r="4.6"/><circle cx="989" cy="1516" r="4.6"/><circle cx="1011" cy="1516" r="4.6"/></g>
<path stroke="#00F" stroke-width="4.5" stroke-opacity="0.1" d="M1016.02 1252v3M1016.02 1258v2M1016.02 1288v1M1016.02 1294v1M1016.02 1298v1M1016.02 1302v2M1016.02 1307v1M1016.02 1317v1M1016.02 1325v1M1016.02 1330v1M1016.02 1332v1M1016.02 1335v7M1016.02 1343v2M1016.02 1347v5M1016.02 1356v2M1016.02 1360v2M1016.02 1368v4M1016.02 1380v1M1016.02 1383v1M1016.02 1389v7M1016.02 1400v2M1016.02 1403v2M1016.02 1409v3M1016.02 1416v3M1016.02 1425v3M1016.02 1429v6M1016.02 1436v3M1016.02 1442v1M1016.02 1445v2M1016.02 1449v3M1016.02 1453v4M1016.02 1458v3M1016.02 1462v10M1016.02 1486v4M1016.02 1492v4"/><path stroke="#00F" stroke-width="4.5" stroke-opacity="0.2" d="M1016.02 1260v2M1016.02 1264v1M1016.02 1271v2M1016.02 1276v7M1016.02 1285v3M1016.02 1289v1M1016.02 1293v1M1016.02 1299v3M1016.02 1308v1M1016.02 1311v3M1016.02 1315v2M1016.02 1318v7M1016.02 1326v4M1016.02 1333v2M1016.02 1345v2M1016.02 1358v2M1016.02 1381v2M1016.02 1402v1M1016.02 1443v2"/><path stroke="#00F" stroke-width="4.5" stroke-opacity="0.3" d="M1016.02 1262v2M1016.02 1265v6M1016.02 1273v3M1016.02 1283v2M1016.02 1290v3M1016.02 1309v2M1016.02 1314v1"/>
</g>
<path stroke="#00F" stroke-width="10" stroke-opacity="0.15" d="M1014 1237.3h1"/><path stroke="#00F" stroke-width="10" stroke-opacity="0.2" d="M951 1237.3h1M991 1237.3h1M1008 1237.3h1"/><path stroke="#00F" stroke-width="10" stroke-opacity="0.25" d="M958 1237.3h1M980 1237.3h7M993 1237.3h1M1013 1237.3h1"/><path stroke="#00F" stroke-width="10" stroke-opacity="0.3" d="M952 1237.3h1M957 1237.3h1M974 1237.3h2M979 1237.3h1M990 1237.3h1M992 1237.3h1M994 1237.3h1M997 1237.3h2M1007 1237.3h1M1009 1237.3h1"/><path stroke="#00F" stroke-width="10" stroke-opacity="0.35" d="M953 1237.3h4M962 1237.3h3M966 1237.3h3M976 1237.3h1M978 1237.3h1M987 1237.3h3M995 1237.3h2M999 1237.3h1M1010 1237.3h1M1012 1237.3h1"/><path stroke="#00F" stroke-width="10" stroke-opacity="0.4" d="M959 1237.3h1M965 1237.3h1M969 1237.3h1M977 1237.3h1M1006 1237.3h1M1011 1237.3h1"/><path stroke="#00F" stroke-width="10" stroke-opacity="0.45" d="M960 1237.3h2M970 1237.3h1M973 1237.3h1M1000 1237.3h1M1005 1237.3h1"/><path stroke="#00F" stroke-width="10" stroke-opacity="0.5" d="M971 1237.3h2M1001 1237.3h1"/><path stroke="#00F" stroke-width="10" stroke-opacity="0.55" d="M1002 1237.3h3"/>
<line x1="951.07" x2="1018.27" y1="1517.3" y2="1517.3" stroke="#000" stroke-width="3.3"/>
<rect x="1034.8" y="1180.7" width="67.2" height="51.1" fill="#EEEEEE"/>
<text x="1066.8" y="1214.95" font-size="24" font-weight="bold" text-anchor="middle">11</text>
<line x1="1034.8" x2="1102" y1="1261" y2="1261" stroke="#E4E4E4" stroke-width="2.4"/>
<line x1="1034.8" x2="1102" y1="1330.73" y2="1330.73" stroke="#E4E4E4" stroke-width="2.4"/>
<line x1="1034.8" x2="1102" y1="1400.47" y2="1400.47" stroke="#E4E4E4" stroke-width="2.4"/>
<line x1="1034.8" x2="1102" y1="1470.2" y2="1470.2" stroke="#E4E4E4" stroke-width="2.4"/>
<clipPath id="cb10"><rect x="1034.8" y="1231.8" width="67.2" height="285.5"/></clipPath><g clip-path="url(#cb10)">
<g class="pt" fill="url(#pg)"><circle cx="1064" cy="1255" r="4.6"/><circle cx="1044" cy="1259" r="4.6"/><circle cx="1048" cy="1260" r="4.6"/><circle cx="1053" cy="1262" r="4.6"/><circle cx="1074" cy="1265" r="4.6"/><circle cx="1093" cy="1268" r="4.6"/><circle cx="1039" cy="1275" r="4.6"/><circle cx="1049" cy="1282" r="4.6"/><circle cx="1054" cy="1294" r="4.6"/><circle cx="1064" cy="1343" r="4.6"/><circle cx="1068" cy="1358" r="4.6"/><circle cx="1095" cy="1321" r="4.6"/><circle cx="1089" cy="1361" r="4.6"/><circle cx="1093" cy="1366" r="4.6"/><circle cx="1094" cy="1369" r="4.6"/><circle cx="1090" cy="1378" r="4.6"/><circle cx="1089" cy="1383" r="4.6"/><circle cx="1049" cy="1384" r="4.6"/><circle cx="1075" cy="1386" r="4.6"/><circle cx="1078" cy="1388" r="4.6"/><circle cx="1089" cy="1396" r="4.6"/><circle cx="1076" cy="1421" r="4.6"/><circle cx="1085" cy="1426" r="4.6"/><circle cx="1054" cy="1427" r="4.6"/><circle cx="1063" cy="1431" r="4.6"/><circle cx="1085" cy="1436" r="4.6"/><circle cx="1094" cy="1440" r="4.6"/><circle cx="1095" cy="1448" r="4.6"/><circle cx="1079" cy="1447" r="4.6"/><circle cx="1086" cy="1451" r="4.6"/><circle cx="1085" cy="1456" r="4.6"/><circle cx="1038" cy="1454" r="4.6"/><circle cx="1038" cy="1458" r="4.6"/><circle cx="1055" cy="1464" r="4.6"/><circle cx="1078" cy="1464" r="4.6"/><circle cx="1082" cy="1475" r="4.6"/><circle cx="1084" cy="1481" r="4.6"/><circle cx="1069" cy="1487" r="4.6"/><circle cx="1038" cy="1516" r="4.6"/><circle cx="1054" cy="1516" r="4.6"/><circle cx="1073" cy="1516" r="4.6"/><circle cx="1078" cy="1516" r="4.6"/><circle cx="1094" cy="1516" r="4.6"/><circle cx="1068" cy="1307" r="4.6"/><circle cx="1084" cy="1306" r="4.6"/><circle cx="1096" cy="1313" r="4.6"/><circle cx="1061" cy="1303" r="4.6"/><circle cx="1076" cy="1300" r="4.6"/><circle cx="1070" cy="1287" r="4.6"/><circle cx="1087" cy="1299" r="4.6"/><circle cx="1065" cy="1285" r="4.6"/><circle cx="1068" cy="1281" r="4.6"/><circle cx="1077" cy="1279" r="4.6"/><circle cx="1057" cy="1276" r="4.6"/><circle cx="1059" cy="1307" r="4.6"/><circle cx="1059" cy="1295" r="4.6"/><circle cx="1088" cy="1296" r="4.6"/><circle cx="1061" cy="1315" r="4.6"/><circle cx="1092" cy="1275" r="4.6"/><circle cx="1065" cy="1297" r="4.6"/><circle cx="1089" cy="1292" r="4.6"/><circle cx="1085" cy="1285" r="4.6"/><circle cx="1085" cy="1289" r="4.6"/><circle cx="1069" cy="1309" r="4.6"/><circle cx="1091" cy="1313" r="4.6"/><circle cx="1079" cy="1293" r="4.6"/><circle cx="1085" cy="1303" r="4.6"/><circle cx="1090" cy="1311" r="4.6"/><circle cx="1060" cy="1291" r="4.6"/><circle cx="1083" cy="1284" r="4.6"/><circle cx="1062" cy="1274" r="4.6"/><circle cx="1080" cy="1318" r="4.6"/><circle cx="1096" cy="1279" r="4.6"/><circle cx="1084" cy="1293" r="4.6"/><circle cx="1082" cy="1292" r="4.6"/><circle cx="1095" cy="1321" r="4.6"/><circle cx="1057" cy="1307" r="4.6"/><circle cx="1060" cy="1275" r="4.6"/><circle cx="1067" cy="1308" r="4.6"/><circle cx="1097" cy="1279" r="4.6"/><circle cx="1069" cy="1274" r="4.6"/><circle cx="1078" cy="1296" r="4.6"/><circle cx="1071" cy="1288" r="4.6"/><circle cx="1089" cy="1313" r="4.6"/><circle cx="1067" cy="1292" r="4.6"/><circle cx="1081" cy="1310" r="4.6"/><circle cx="1097" cy="1292" r="4.6"/><circle cx="1084" cy="1299" r="4.6"/><circle cx="1089" cy="1280" r="4.6"/><circle cx="1062" cy="1278" r="4.6"/><circle cx="1095" cy="1285" r="4.6"/><circle cx="1076" cy="1279" r="4.6"/><circle cx="1068" cy="1274" r="4.6"/><circle cx="1079" cy="1280" r="4.6"/><circle cx="1081" cy="1286" r="4.6"/><circle cx="1064" cy="1296" r="4.6"/><circle cx="1070" cy="1285" r="4.6"/><circle cx="1057" cy="1276" r="4.6"/><circle cx="1093" cy="1288" r="4.6"/><circle cx="1058" cy="1282" r="4.6"/><circle cx="1075" cy="1321" r="4.6"/><circle cx="1063" cy="1315" r="4.6"/><circle cx="1075" cy="1293" r="4.6"/><circle cx="1089" cy="1292" r="4.6"/><circle cx="1057" cy="1299" r="4.6"/><circle cx="1083" cy="1303" r="4.6"/><circle cx="1066" cy="1318" r="4.6"/><circle cx="1092" cy="1321" r="4.6"/><circle cx="1074" cy="1313" r="4.6"/><circle cx="1086" cy="1281" r="4.6"/><circle cx="1056" cy="1281" r="4.6"/><circle cx="1060" cy="1276" r="4.6"/><circle cx="1070" cy="1309" r="4.6"/><circle cx="1068" cy="1298" r="4.6"/><circle cx="1055" cy="1283" r="4.6"/><circle cx="1096" cy="1273" r="4.6"/><circle cx="1077" cy="1312" r="4.6"/><circle cx="1089" cy="1308" r="4.6"/><circle cx="1072" cy="1312" r="4.6"/><circle cx="1090" cy="1310" r="4.6"/><circle cx="1097" cy="1278" r="4.6"/><circle cx="1095" cy="1292" r="4.6"/><circle cx="1085" cy="1285" r="4.6"/><circle cx="1094" cy="1274" r="4.6"/><circle cx="1079" cy="1284" r="4.6"/><circle cx="1071" cy="1291" r="4.6"/><circle cx="1083" cy="1312" r="4.6"/><circle cx="1070" cy="1304" r="4.6"/><circle cx="1075" cy="1333" r="4.6"/><circle cx="1091" cy="1335" r="4.6"/><circle cx="1067" cy="1336" r="4.6"/><circle cx="1087" cy="1331" r="4.6"/><circle cx="1087" cy="1344" r="4.6"/><circle cx="1085" cy="1329" r="4.6"/><circle cx="1068" cy="1328" r="4.6"/><circle cx="1075" cy="1339" r="4.6"/><circle cx="1065" cy="1342" r="4.6"/><circle cx="1076" cy="1335" r="4.6"/><circle cx="1080" cy="1359" r="4.6"/><circle cx="1071" cy="1356" r="4.6"/><circle cx="1074" cy="1352" r="4.6"/><circle cx="1068" cy="1360" r="4.6"/><circle cx="1077" cy="1360" r="4.6"/><circle cx="1071" cy="1338" r="4.6"/><circle cx="1086" cy="1330" r="4.6"/><circle cx="1073" cy="1349" r="4.6"/><circle cx="1093" cy="1335" r="4.6"/><circle cx="1070" cy="1336" r="4.6"/><circle cx="1094" cy="1328" r="4.6"/><circle cx="1083" cy="1337" r="4.6"/><circle cx="1084" cy="1331" r="4.6"/><circle cx="1083" cy="1357" r="4.6"/><circle cx="1090" cy="1347" r="4.6"/><circle cx="1080" cy="1344" r="4.6"/><circle cx="1068" cy="1355" r="4.6"/><circle cx="1085" cy="1340" r="4.6"/><circle cx="1084" cy="1339" r="4.6"/><circle cx="1076" cy="1332" r="4.6"/><circle cx="1082" cy="1345" r="4.6"/><circle cx="1080" cy="1324" r="4.6"/></g>
<g class="pt" fill="url(#pr)"><circle cx="1069" cy="1455" r="4.6"/><circle cx="1069" cy="1467" r="4.6"/><circle cx="1069" cy="1476" r="4.6"/><circle cx="1069" cy="1479" r="4.6"/><circle cx="1069" cy="1483" r="4.6"/></g>
<path stroke="#00F" stroke-width="4.5" stroke-opacity="0.1" d="M1099.75 1253v3M1099.75 1257v2M1099.75 1262v8M1099.75 1316v1M1099.75 1322v5M1099.75 1346v1M1099.75 1348v7M1099.75 1362v1M1099.75 1364v7M1099.75 1376v3M1099.75 1381v2M1099.75 1386v4M1099.75 1394v4M1099.75 1419v3M1099.75 1424v2M1099.75 1427v5M1099.75 1434v3M1099.75 1438v4M1099.75 1446v1M1099.75 1449v4M1099.75 1457v3M1099.75 1462v1M1099.75 1465v4M1099.75 1473v1M1099.75 1476v3M1099.75 1481v4M1099.75 1486v3"/><path stroke="#00F" stroke-width="4.5" stroke-opacity="0.2" d="M1099.75 1259v3M1099.75 1272v1M1099.75 1288v2M1099.75 1294v1M1099.75 1300v2M1099.75 1304v2M1099.75 1314v2M1099.75 1317v3M1099.75 1327v2M1099.75 1331v3M1099.75 1337v1M1099.75 1339v4M1099.75 1344v2M1099.75 1347v1M1099.75 1355v7M1099.75 1383v3M1099.75 1426v1M1099.75 1447v2M1099.75 1453v4M1099.75 1463v2M1099.75 1474v2M1099.75 1479v2"/><path stroke="#00F" stroke-width="4.5" stroke-opacity="0.3" d="M1099.75 1273v15M1099.75 1290v1M1099.75 1293v1M1099.75 1295v5M1099.75 1302v2M1099.75 1306v8M1099.75 1320v2M1099.75 1329v2M1099.75 1334v3M1099.75 1338v1M1099.75 1343v1"/><path stroke="#00F" stroke-width="4.5" stroke-opacity="0.4" d="M1099.75 1291v2"/>
</g>
<path stroke="#00F" stroke-width="10" stroke-opacity="0.05" d="M1040 1237.3h1M1045 1237.3h1"/><path stroke="#00F" stroke-width="10" stroke-opacity="0.15" d="M1042 1237.3h1M1046 1237.3h1M1051 1237.3h1"/><path stroke="#00F" stroke-width="10" stroke-opacity="0.2" d="M1043 1237.3h2M1047 1237.3h1"/><path stroke="#00F" stroke-width="10" stroke-opacity="0.25" d="M1036 1237.3h1M1039 1237.3h1M1049 1237.3h2M1052 1237.3h1M1098 1237.3h1"/><path stroke="#00F" stroke-width="10" stroke-opacity="0.3" d="M1037 1237.3h1M1048 1237.3h1"/><path stroke="#00F" stroke-width="10" stroke-opacity="0.35" d="M1038 1237.3h1M1053 1237.3h1M1097 1237.3h1"/><path stroke="#00F" stroke-width="10" stroke-opacity="0.4" d="M1054 1237.3h1M1056 1237.3h7M1064 1237.3h2M1072 1237.3h2"/><path stroke="#00F" stroke-width="10" stroke-opacity="0.45" d="M1055 1237.3h1M1063 1237.3h1M1066 1237.3h1M1071 1237.3h1M1079 1237.3h3M1087 1237.3h1M1091 1237.3h2M1096 1237.3h1"/><path stroke="#00F" stroke-width="10" stroke-opacity="0.5" d="M1070 1237.3h1M1074 1237.3h2M1077 1237.3h2M1082 1237.3h1M1086 1237.3h1M1088 1237.3h3M1093 1237.3h1M1095 1237.3h1"/><path stroke="#00F" stroke-width="10" stroke-opacity="0.55" d="M1076 1237.3h1M1083 1237.3h1M1094 1237.3h1"/><path stroke="#00F" stroke-width="10" stroke-opacity="0.6" d="M1067 1237.3h3M1084 1237.3h2"/>
<line x1="1034.8" x2="1102" y1="1517.3" y2="1517.3" stroke="#000" stroke-width="3.3"/>
<rect x="1118.53" y="1180.7" width="67.2" height="51.1" fill="#EEEEEE"/>
<text x="1150.53" y="1214.95" font-size="24" font-weight="bold" text-anchor="middle">12</text>
<line x1="1118.53" x2="1185.73" y1="1261" y2="1261" stroke="#E4E4E4" stroke-width="2.4"/>
<line x1="1118.53" x2="1185.73" y1="1330.73" y2="1330.73" stroke="#E4E4E4" stroke-width="2.4"/>
<line x1="1118.53" x2="1185.73" y1="1400.47" y2="1400.47" stroke="#E4E4E4" stroke-width="2.4"/>
<line x1="1118.53" x2="1185.73" y1="1470.2" y2="1470.2" stroke="#E4E4E4" stroke-width="2.4"/>
<clipPath id="cb11"><rect x="1118.53" y="1231.8" width="67.2" height="285.5"/></clipPath><g clip-path="url(#cb11)">
<g class="pt" fill="url(#pg)"><circle cx="1168" cy="1252" r="4.6"/><circle cx="1132" cy="1261" r="4.6"/><circle cx="1140" cy="1260" r="4.6"/><circle cx="1152" cy="1260" r="4.6"/><circle cx="1177" cy="1265" r="4.6"/><circle cx="1134" cy="1270" r="4.6"/><circle cx="1123" cy="1274" r="4.6"/><circle cx="1154" cy="1265" r="4.6"/><circle cx="1157" cy="1272" r="4.6"/><circle cx="1171" cy="1276" r="4.6"/><circle cx="1181" cy="1270" r="4.6"/><circle cx="1124" cy="1283" r="4.6"/><circle cx="1123" cy="1289" r="4.6"/><circle cx="1124" cy="1313" r="4.6"/><circle cx="1135" cy="1317" r="4.6"/><circle cx="1143" cy="1316" r="4.6"/><circle cx="1144" cy="1309" r="4.6"/><circle cx="1169" cy="1319" r="4.6"/><circle cx="1177" cy="1329" r="4.6"/><circle cx="1177" cy="1336" r="4.6"/><circle cx="1177" cy="1339" r="4.6"/><circle cx="1179" cy="1344" r="4.6"/><circle cx="1181" cy="1352" r="4.6"/><circle cx="1182" cy="1348" r="4.6"/><circle cx="1177" cy="1369" r="4.6"/><circle cx="1158" cy="1378" r="4.6"/><circle cx="1169" cy="1402" r="4.6"/><circle cx="1169" cy="1404" r="4.6"/><circle cx="1182" cy="1412" r="4.6"/><circle cx="1158" cy="1419" r="4.6"/><circle cx="1135" cy="1423" r="4.6"/><circle cx="1144" cy="1429" r="4.6"/><circle cx="1172" cy="1427" r="4.6"/><circle cx="1156" cy="1437" r="4.6"/><circle cx="1172" cy="1443" r="4.6"/><circle cx="1177" cy="1442" r="4.6"/><circle cx="1182" cy="1451" r="4.6"/><circle cx="1128" cy="1460" r="4.6"/><circle cx="1172" cy="1464" r="4.6"/><circle cx="1177" cy="1466" r="4.6"/><circle cx="1174" cy="1467" r="4.6"/><circle cx="1122" cy="1494" r="4.6"/><circle cx="1122" cy="1516" r="4.6"/><circle cx="1146" cy="1516" r="4.6"/><circle cx="1159" cy="1516" r="4.6"/><circle cx="1176" cy="1516" r="4.6"/><circle cx="1181" cy="1516" r="4.6"/><circle cx="1140" cy="1290" r="4.6"/><circle cx="1139" cy="1294" r="4.6"/><circle cx="1149" cy="1282" r="4.6"/><circle cx="1135" cy="1304" r="4.6"/><circle cx="1143" cy="1286" r="4.6"/><circle cx="1143" cy="1304" r="4.6"/><circle cx="1133" cy="1301" r="4.6"/><circle cx="1125" cy="1304" r="4.6"/><circle cx="1136" cy="1284" r="4.6"/><circle cx="1146" cy="1295" r="4.6"/><circle cx="1149" cy="1300" r="4.6"/><circle cx="1145" cy="1291" r="4.6"/><circle cx="1151" cy="1280" r="4.6"/><circle cx="1147" cy="1297" r="4.6"/><circle cx="1128" cy="1299" r="4.6"/><circle cx="1134" cy="1292" r="4.6"/><circle cx="1147" cy="1283" r="4.6"/><circle cx="1129" cy="1295" r="4.6"/><circle cx="1123" cy="1293" r="4.6"/><circle cx="1144" cy="1291" r="4.6"/><circle cx="1128" cy="1299" r="4.6"/><circle cx="1146" cy="1298" r="4.6"/><circle cx="1171" cy="1302" r="4.6"/><circle cx="1178" cy="1286" r="4.6"/><circle cx="1165" cy="1285" r="4.6"/><circle cx="1155" cy="1290" r="4.6"/><circle cx="1180" cy="1301" r="4.6"/><circle cx="1158" cy="1287" r="4.6"/><circle cx="1166" cy="1301" r="4.6"/><circle cx="1173" cy="1302" r="4.6"/><circle cx="1156" cy="1304" r="4.6"/><circle cx="1160" cy="1296" r="4.6"/><circle cx="1180" cy="1299" r="4.6"/><circle cx="1160" cy="1297" r="4.6"/><circle cx="1167" cy="1283" r="4.6"/><circle cx="1164" cy="1290" r="4.6"/><circle cx="1173" cy="1289" r="4.6"/><circle cx="1172" cy="1298" r="4.6"/><circle cx="1160" cy="1286" r="4.6"/><circle cx="1175" cy="1293" r="4.6"/><circle cx="1140" cy="1382" r="4.6"/><circle cx="1147" cy="1399" r="4.6"/><circle cx="1142" cy="1384" r="4.6"/><circle cx="1147" cy="1402" r="4.6"/><circle cx="1145" cy="1390" r="4.6"/><circle cx="1142" cy="1392" r="4.6"/><circle cx="1140" cy="1400" r="4.6"/><circle cx="1143" cy="1406" r="4.6"/><circle cx="1143" cy="1393" r="4.6"/><circle cx="1143" cy="1410" r="4.6"/></g>
<path stroke="#00F" stroke-width="4.5" stroke-opacity="0.1" d="M1183.48 1250v4M1183.48 1258v1M1183.48 1262v1M1183.48 1268v1M1183.48 1274v6M1183.48 1308v7M1183.48 1319v1M1183.48 1328v3M1183.48 1334v7M1183.48 1343v6M1183.48 1350v3M1183.48 1368v3M1183.48 1376v3M1183.48 1380v6M1183.48 1388v2M1183.48 1393v2M1183.48 1397v1M1183.48 1403v2M1183.48 1406v2M1183.48 1409v1M1183.48 1412v1M1183.48 1417v4M1183.48 1422v3M1183.48 1426v1M1183.48 1429v2M1183.48 1435v3M1183.48 1440v2M1183.48 1443v2M1183.48 1450v3M1183.48 1458v3M1183.48 1462v2M1183.48 1467v2M1183.48 1492v4"/><path stroke="#00F" stroke-width="4.5" stroke-opacity="0.2" d="M1183.48 1259v3M1183.48 1263v3M1183.48 1269v5M1183.48 1280v2M1183.48 1287v2M1183.48 1294v2M1183.48 1302v1M1183.48 1305v1M1183.48 1315v4M1183.48 1390v3M1183.48 1398v5M1183.48 1405v1M1183.48 1410v2M1183.48 1427v2M1183.48 1442v1M1183.48 1464v3"/><path stroke="#00F" stroke-width="4.5" stroke-opacity="0.3" d="M1183.48 1282v5M1183.48 1289v5M1183.48 1296v6M1183.48 1303v2"/>
</g>
<path stroke="#00F" stroke-width="10" stroke-opacity="0.05" d="M1183 1237.3h1"/><path stroke="#00F" stroke-width="10" stroke-opacity="0.1" d="M1162 1237.3h1"/><path stroke="#00F" stroke-width="10" stroke-opacity="0.2" d="M1120 1237.3h1M1126 1237.3h1M1130 1237.3h2M1137 1237.3h1M1152 1237.3h2M1161 1237.3h1M1163 1237.3h1"/><path stroke="#00F" stroke-width="10" stroke-opacity="0.25" d="M1125 1237.3h1M1129 1237.3h1M1132 1237.3h1M1136 1237.3h1M1150 1237.3h2"/><path stroke="#00F" stroke-width="10" stroke-opacity="0.3" d="M1124 1237.3h1M1127 1237.3h1M1138 1237.3h1M1149 1237.3h1M1154 1237.3h2M1160 1237.3h1M1164 1237.3h4M1174 1237.3h1M1182 1237.3h1"/><path stroke="#00F" stroke-width="10" stroke-opacity="0.35" d="M1121 1237.3h1M1128 1237.3h1M1133 1237.3h1M1139 1237.3h2M1148 1237.3h1M1156 1237.3h2M1168 1237.3h3M1175 1237.3h1"/><path stroke="#00F" stroke-width="10" stroke-opacity="0.4" d="M1122 1237.3h2M1134 1237.3h2M1147 1237.3h1M1158 1237.3h2M1171 1237.3h3M1178 1237.3h2M1181 1237.3h1"/><path stroke="#00F" stroke-width="10" stroke-opacity="0.45" d="M1141 1237.3h2M1144 1237.3h3M1176 1237.3h2M1180 1237.3h1"/><path stroke="#00F" stroke-width="10" stroke-opacity="0.5" d="M1143 1237.3h1"/>
<line x1="1118.53" x2="1185.73" y1="1517.3" y2="1517.3" stroke="#000" stroke-width="3.3"/>
<rect x="1202.26" y="1180.7" width="67.2" height="51.1" fill="#EEEEEE"/>
<text x="1234.26" y="1214.95" font-size="24" font-weight="bold" text-anchor="middle">13</text>
<line x1="1202.26" x2="1269.46" y1="1261" y2="1261" stroke="#E4E4E4" stroke-width="2.4"/>
<line x1="1202.26" x2="1269.46" y1="1330.73" y2="1330.73" stroke="#E4E4E4" stroke-width="2.4"/>
<line x1="1202.26" x2="1269.46" y1="1400.47" y2="1400.47" stroke="#E4E4E4" stroke-width="2.4"/>
<line x1="1202.26" x2="1269.46" y1="1470.2" y2="1470.2" stroke="#E4E4E4" stroke-width="2.4"/>
<clipPath id="cb12"><rect x="1202.26" y="1231.8" width="67.2" height="285.5"/></clipPath><g clip-path="url(#cb12)">
<g class="pt" fill="url(#pg)"><circle cx="1212" cy="1273" r="4.6"/><circle cx="1215" cy="1279" r="4.6"/><circle cx="1207" cy="1282" r="4.6"/><circle cx="1206" cy="1294" r="4.6"/><circle cx="1206" cy="1304" r="4.6"/><circle cx="1210" cy="1291" r="4.6"/><circle cx="1232" cy="1275" r="4.6"/><circle cx="1229" cy="1283" r="4.6"/><circle cx="1238" cy="1268" r="4.6"/><circle cx="1253" cy="1265" r="4.6"/><circle cx="1260" cy="1269" r="4.6"/><circle cx="1256" cy="1275" r="4.6"/><circle cx="1263" cy="1283" r="4.6"/><circle cx="1263" cy="1301" r="4.6"/><circle cx="1247" cy="1280" r="4.6"/><circle cx="1240" cy="1286" r="4.6"/><circle cx="1244" cy="1291" r="4.6"/><circle cx="1245" cy="1298" r="4.6"/><circle cx="1250" cy="1299" r="4.6"/><circle cx="1242" cy="1306" r="4.6"/><circle cx="1245" cy="1311" r="4.6"/><circle cx="1250" cy="1314" r="4.6"/><circle cx="1253" cy="1313" r="4.6"/><circle cx="1253" cy="1324" r="4.6"/><circle cx="1233" cy="1316" r="4.6"/><circle cx="1232" cy="1336" r="4.6"/><circle cx="1238" cy="1343" r="4.6"/><circle cx="1244" cy="1345" r="4.6"/><circle cx="1244" cy="1350" r="4.6"/><circle cx="1253" cy="1354" r="4.6"/><circle cx="1206" cy="1353" r="4.6"/><circle cx="1242" cy="1403" r="4.6"/><circle cx="1253" cy="1403" r="4.6"/><circle cx="1266" cy="1427" r="4.6"/><circle cx="1253" cy="1441" r="4.6"/><circle cx="1260" cy="1464" r="4.6"/><circle cx="1225" cy="1494" r="4.6"/><circle cx="1240" cy="1505" r="4.6"/><circle cx="1224" cy="1444" r="4.6"/><circle cx="1220" cy="1461" r="4.6"/><circle cx="1217" cy="1467" r="4.6"/><circle cx="1221" cy="1473" r="4.6"/><circle cx="1207" cy="1516" r="4.6"/><circle cx="1220" cy="1516" r="4.6"/><circle cx="1225" cy="1516" r="4.6"/><circle cx="1258" cy="1516" r="4.6"/><circle cx="1263" cy="1516" r="4.6"/><circle cx="1220" cy="1370" r="4.6"/><circle cx="1218" cy="1355" r="4.6"/><circle cx="1219" cy="1389" r="4.6"/><circle cx="1219" cy="1387" r="4.6"/><circle cx="1224" cy="1341" r="4.6"/><circle cx="1227" cy="1333" r="4.6"/><circle cx="1225" cy="1358" r="4.6"/><circle cx="1221" cy="1295" r="4.6"/><circle cx="1221" cy="1321" r="4.6"/><circle cx="1221" cy="1399" r="4.6"/><circle cx="1219" cy="1369" r="4.6"/><circle cx="1224" cy="1316" r="4.6"/><circle cx="1220" cy="1303" r="4.6"/><circle cx="1227" cy="1317" r="4.6"/><circle cx="1221" cy="1328" r="4.6"/><circle cx="1226" cy="1387" r="4.6"/><circle cx="1223" cy="1351" r="4.6"/><circle cx="1217" cy="1392" r="4.6"/><circle cx="1216" cy="1330" r="4.6"/><circle cx="1220" cy="1372" r="4.6"/><circle cx="1224" cy="1328" r="4.6"/><circle cx="1227" cy="1398" r="4.6"/><circle cx="1216" cy="1361" r="4.6"/><circle cx="1221" cy="1330" r="4.6"/><circle cx="1221" cy="1325" r="4.6"/><circle cx="1224" cy="1358" r="4.6"/><circle cx="1228" cy="1401" r="4.6"/><circle cx="1228" cy="1334" r="4.6"/><circle cx="1226" cy="1363" r="4.6"/><circle cx="1224" cy="1404" r="4.6"/><circle cx="1216" cy="1342" r="4.6"/><circle cx="1220" cy="1364" r="4.6"/><circle cx="1218" cy="1403" r="4.6"/><circle cx="1218" cy="1331" r="4.6"/><circle cx="1217" cy="1334" r="4.6"/><circle cx="1225" cy="1298" r="4.6"/><circle cx="1217" cy="1363" r="4.6"/><circle cx="1223" cy="1374" r="4.6"/><circle cx="1218" cy="1382" r="4.6"/><circle cx="1225" cy="1378" r="4.6"/><circle cx="1217" cy="1342" r="4.6"/><circle cx="1215" cy="1388" r="4.6"/><circle cx="1227" cy="1392" r="4.6"/><circle cx="1216" cy="1329" r="4.6"/><circle cx="1222" cy="1350" r="4.6"/><circle cx="1217" cy="1380" r="4.6"/><circle cx="1219" cy="1347" r="4.6"/><circle cx="1217" cy="1354" r="4.6"/><circle cx="1217" cy="1298" r="4.6"/><circle cx="1222" cy="1322" r="4.6"/><circle cx="1225" cy="1317" r="4.6"/><circle cx="1221" cy="1294" r="4.6"/><circle cx="1218" cy="1340" r="4.6"/><circle cx="1222" cy="1341" r="4.6"/><circle cx="1226" cy="1300" r="4.6"/><circle cx="1226" cy="1306" r="4.6"/><circle cx="1228" cy="1349" r="4.6"/><circle cx="1220" cy="1359" r="4.6"/><circle cx="1226" cy="1400" r="4.6"/><circle cx="1221" cy="1289" r="4.6"/><circle cx="1217" cy="1383" r="4.6"/><circle cx="1225" cy="1371" r="4.6"/><circle cx="1217" cy="1350" r="4.6"/><circle cx="1216" cy="1301" r="4.6"/><circle cx="1219" cy="1400" r="4.6"/><circle cx="1223" cy="1386" r="4.6"/><circle cx="1216" cy="1336" r="4.6"/><circle cx="1216" cy="1318" r="4.6"/><circle cx="1217" cy="1395" r="4.6"/><circle cx="1219" cy="1345" r="4.6"/><circle cx="1224" cy="1391" r="4.6"/><circle cx="1227" cy="1354" r="4.6"/><circle cx="1222" cy="1393" r="4.6"/><circle cx="1220" cy="1323" r="4.6"/><circle cx="1225" cy="1318" r="4.6"/><circle cx="1220" cy="1338" r="4.6"/><circle cx="1221" cy="1330" r="4.6"/><circle cx="1221" cy="1340" r="4.6"/><circle cx="1216" cy="1385" r="4.6"/><circle cx="1216" cy="1349" r="4.6"/><circle cx="1222" cy="1334" r="4.6"/><circle cx="1218" cy="1299" r="4.6"/><circle cx="1220" cy="1324" r="4.6"/><circle cx="1221" cy="1315" r="4.6"/><circle cx="1225" cy="1345" r="4.6"/><circle cx="1215" cy="1335" r="4.6"/><circle cx="1227" cy="1289" r="4.6"/><circle cx="1223" cy="1400" r="4.6"/><circle cx="1220" cy="1357" r="4.6"/><circle cx="1220" cy="1323" r="4.6"/><circle cx="1223" cy="1356" r="4.6"/><circle cx="1219" cy="1346" r="4.6"/><circle cx="1222" cy="1375" r="4.6"/><circle cx="1216" cy="1299" r="4.6"/><circle cx="1218" cy="1319" r="4.6"/><circle cx="1225" cy="1337" r="4.6"/><circle cx="1226" cy="1335" r="4.6"/><circle cx="1219" cy="1367" r="4.6"/><circle cx="1216" cy="1402" r="4.6"/><circle cx="1226" cy="1326" r="4.6"/><circle cx="1219" cy="1383" r="4.6"/><circle cx="1225" cy="1363" r="4.6"/><circle cx="1216" cy="1377" r="4.6"/><circle cx="1216" cy="1360" r="4.6"/><circle cx="1222" cy="1396" r="4.6"/><circle cx="1223" cy="1290" r="4.6"/><circle cx="1227" cy="1375" r="4.6"/><circle cx="1223" cy="1288" r="4.6"/><circle cx="1225" cy="1336" r="4.6"/><circle cx="1224" cy="1402" r="4.6"/><circle cx="1227" cy="1297" r="4.6"/><circle cx="1225" cy="1339" r="4.6"/><circle cx="1225" cy="1332" r="4.6"/><circle cx="1221" cy="1339" r="4.6"/><circle cx="1217" cy="1325" r="4.6"/><circle cx="1225" cy="1296" r="4.6"/><circle cx="1217" cy="1385" r="4.6"/><circle cx="1224" cy="1352" r="4.6"/><circle cx="1217" cy="1302" r="4.6"/><circle cx="1219" cy="1399" r="4.6"/><circle cx="1222" cy="1395" r="4.6"/><circle cx="1218" cy="1336" r="4.6"/><circle cx="1222" cy="1385" r="4.6"/><circle cx="1217" cy="1389" r="4.6"/><circle cx="1221" cy="1291" r="4.6"/><circle cx="1221" cy="1332" r="4.6"/><circle cx="1224" cy="1396" r="4.6"/><circle cx="1222" cy="1368" r="4.6"/><circle cx="1220" cy="1378" r="4.6"/><circle cx="1217" cy="1374" r="4.6"/><circle cx="1217" cy="1356" r="4.6"/><circle cx="1218" cy="1328" r="4.6"/><circle cx="1217" cy="1329" r="4.6"/><circle cx="1223" cy="1348" r="4.6"/><circle cx="1220" cy="1355" r="4.6"/><circle cx="1226" cy="1329" r="4.6"/><circle cx="1223" cy="1344" r="4.6"/><circle cx="1228" cy="1326" r="4.6"/><circle cx="1224" cy="1315" r="4.6"/><circle cx="1219" cy="1373" r="4.6"/><circle cx="1223" cy="1318" r="4.6"/><circle cx="1216" cy="1384" r="4.6"/><circle cx="1220" cy="1371" r="4.6"/><circle cx="1221" cy="1360" r="4.6"/><circle cx="1222" cy="1401" r="4.6"/><circle cx="1227" cy="1341" r="4.6"/><circle cx="1221" cy="1315" r="4.6"/><circle cx="1225" cy="1300" r="4.6"/><circle cx="1219" cy="1386" r="4.6"/><circle cx="1216" cy="1369" r="4.6"/><circle cx="1222" cy="1352" r="4.6"/><circle cx="1219" cy="1305" r="4.6"/><circle cx="1227" cy="1377" r="4.6"/><circle cx="1225" cy="1299" r="4.6"/><circle cx="1225" cy="1313" r="4.6"/><circle cx="1218" cy="1350" r="4.6"/><circle cx="1223" cy="1302" r="4.6"/><circle cx="1225" cy="1356" r="4.6"/><circle cx="1227" cy="1395" r="4.6"/><circle cx="1224" cy="1330" r="4.6"/><circle cx="1227" cy="1371" r="4.6"/><circle cx="1219" cy="1388" r="4.6"/><circle cx="1224" cy="1319" r="4.6"/><circle cx="1218" cy="1290" r="4.6"/><circle cx="1222" cy="1317" r="4.6"/><circle cx="1219" cy="1317" r="4.6"/><circle cx="1217" cy="1344" r="4.6"/><circle cx="1219" cy="1321" r="4.6"/><circle cx="1219" cy="1347" r="4.6"/><circle cx="1226" cy="1306" r="4.6"/><circle cx="1226" cy="1428" r="4.6"/><circle cx="1223" cy="1419" r="4.6"/><circle cx="1224" cy="1419" r="4.6"/><circle cx="1223" cy="1430" r="4.6"/><circle cx="1225" cy="1411" r="4.6"/><circle cx="1216" cy="1431" r="4.6"/><circle cx="1220" cy="1426" r="4.6"/><circle cx="1219" cy="1417" r="4.6"/><circle cx="1220" cy="1425" r="4.6"/><circle cx="1227" cy="1418" r="4.6"/><circle cx="1222" cy="1414" r="4.6"/><circle cx="1218" cy="1431" r="4.6"/><circle cx="1217" cy="1431" r="4.6"/><circle cx="1223" cy="1406" r="4.6"/><circle cx="1226" cy="1407" r="4.6"/><circle cx="1222" cy="1408" r="4.6"/><circle cx="1227" cy="1413" r="4.6"/><circle cx="1226" cy="1406" r="4.6"/><circle cx="1224" cy="1406" r="4.6"/><circle cx="1216" cy="1420" r="4.6"/><circle cx="1227" cy="1423" r="4.6"/><circle cx="1226" cy="1426" r="4.6"/><circle cx="1222" cy="1406" r="4.6"/><circle cx="1222" cy="1409" r="4.6"/><circle cx="1222" cy="1414" r="4.6"/><circle cx="1214" cy="1276" r="4.6"/><circle cx="1216" cy="1283" r="4.6"/><circle cx="1214" cy="1272" r="4.6"/><circle cx="1214" cy="1288" r="4.6"/><circle cx="1218" cy="1288" r="4.6"/><circle cx="1211" cy="1280" r="4.6"/><circle cx="1213" cy="1293" r="4.6"/><circle cx="1218" cy="1302" r="4.6"/><circle cx="1218" cy="1300" r="4.6"/><circle cx="1217" cy="1301" r="4.6"/></g>
<g class="pt" fill="url(#pr)"><circle cx="1221" cy="1437" r="4.6"/><circle cx="1221" cy="1447" r="4.6"/><circle cx="1221" cy="1454" r="4.6"/><circle cx="1221" cy="1470" r="4.6"/><circle cx="1221" cy="1477" r="4.6"/><circle cx="1221" cy="1488" r="4.6"/></g>
<path stroke="#00F" stroke-width="4.5" stroke-opacity="0.1" d="M1267.21 1263v4M1267.21 1270v1M1267.21 1277v1M1267.21 1284v2M1267.21 1309v2M1267.21 1365v1M1267.21 1380v1M1267.21 1409v1M1267.21 1415v2M1267.21 1421v2M1267.21 1432v1M1267.21 1435v3M1267.21 1439v10M1267.21 1452v4M1267.21 1459v16M1267.21 1476v3M1267.21 1486v4M1267.21 1492v4M1267.21 1503v3"/><path stroke="#00F" stroke-width="4.5" stroke-opacity="0.2" d="M1267.21 1267v3M1267.21 1271v6M1267.21 1278v4M1267.21 1283v1M1267.21 1286v1M1267.21 1292v3M1267.21 1303v2M1267.21 1307v1M1267.21 1311v2M1267.21 1319v2M1267.21 1338v1M1267.21 1346v2M1267.21 1359v3M1267.21 1364v1M1267.21 1366v2M1267.21 1372v2M1267.21 1378v2M1267.21 1381v2M1267.21 1389v5M1267.21 1396v2M1267.21 1404v1M1267.21 1407v2M1267.21 1410v5M1267.21 1417v2M1267.21 1420v1M1267.21 1423v7M1267.21 1431v1"/><path stroke="#00F" stroke-width="4.5" stroke-opacity="0.3" d="M1267.21 1282v1M1267.21 1287v5M1267.21 1295v4M1267.21 1301v2M1267.21 1305v2M1267.21 1313v4M1267.21 1318v1M1267.21 1321v17M1267.21 1339v7M1267.21 1348v11M1267.21 1362v2M1267.21 1368v4M1267.21 1374v4M1267.21 1383v6M1267.21 1394v2M1267.21 1398v6M1267.21 1405v2M1267.21 1419v1M1267.21 1430v1"/><path stroke="#00F" stroke-width="4.5" stroke-opacity="0.4" d="M1267.21 1299v2M1267.21 1317v1"/>
</g>
<path stroke="#00F" stroke-width="10" stroke-opacity="0.05" d="M1267 1237.3h1"/><path stroke="#00F" stroke-width="10" stroke-opacity="0.15" d="M1234 1237.3h1M1236 1237.3h1"/><path stroke="#00F" stroke-width="10" stroke-opacity="0.2" d="M1209 1237.3h1M1229 1237.3h1M1233 1237.3h1M1247 1237.3h2M1255 1237.3h2M1265 1237.3h2"/><path stroke="#00F" stroke-width="10" stroke-opacity="0.25" d="M1204 1237.3h1M1208 1237.3h1M1230 1237.3h2M1237 1237.3h1M1246 1237.3h1M1249 1237.3h2M1257 1237.3h2M1260 1237.3h2"/><path stroke="#00F" stroke-width="10" stroke-opacity="0.3" d="M1207 1237.3h1M1210 1237.3h2M1232 1237.3h1M1238 1237.3h5M1251 1237.3h1M1259 1237.3h1M1262 1237.3h3"/><path stroke="#00F" stroke-width="10" stroke-opacity="0.35" d="M1205 1237.3h2M1212 1237.3h2M1243 1237.3h3M1254 1237.3h1"/><path stroke="#00F" stroke-width="10" stroke-opacity="0.4" d="M1252 1237.3h2"/><path stroke="#00F" stroke-width="10" stroke-opacity="0.5" d="M1228 1237.3h1"/><path stroke="#00F" stroke-width="10" stroke-opacity="0.55" d="M1214 1237.3h1"/><path stroke="#00F" stroke-width="10" stroke-opacity="0.65" d="M1227 1237.3h1"/><path stroke="#00F" stroke-width="10" stroke-opacity="0.7" d="M1215 1237.3h1M1226 1237.3h1"/><path stroke="#00F" stroke-width="10" stroke-opacity="0.75" d="M1216 1237.3h3M1222 1237.3h4"/><path stroke="#00F" stroke-width="10" stroke-opacity="0.8" d="M1219 1237.3h3"/>
<line x1="1202.26" x2="1269.46" y1="1517.3" y2="1517.3" stroke="#000" stroke-width="3.3"/>
<rect x="1285.99" y="1180.7" width="67.2" height="51.1" fill="#EEEEEE"/>
<text x="1317.99" y="1214.95" font-size="24" font-weight="bold" text-anchor="middle">14</text>
<line x1="1285.99" x2="1353.19" y1="1261" y2="1261" stroke="#E4E4E4" stroke-width="2.4"/>
<line x1="1285.99" x2="1353.19" y1="1330.73" y2="1330.73" stroke="#E4E4E4" stroke-width="2.4"/>
<line x1="1285.99" x2="1353.19" y1="1400.47" y2="1400.47" stroke="#E4E4E4" stroke-width="2.4"/>
<line x1="1285.99" x2="1353.19" y1="1470.2" y2="1470.2" stroke="#E4E4E4" stroke-width="2.4"/>
<clipPath id="cb13"><rect x="1285.99" y="1231.8" width="67.2" height="285.5"/></clipPath><g clip-path="url(#cb13)">
<g class="pt" fill="url(#pg)"><circle cx="1320" cy="1262" r="4.6"/><circle cx="1347" cy="1262" r="4.6"/><circle cx="1300" cy="1265" r="4.6"/><circle cx="1308" cy="1269" r="4.6"/><circle cx="1311" cy="1270" r="4.6"/><circle cx="1333" cy="1271" r="4.6"/><circle cx="1338" cy="1270" r="4.6"/><circle cx="1325" cy="1275" r="4.6"/><circle cx="1302" cy="1277" r="4.6"/><circle cx="1314" cy="1280" r="4.6"/><circle cx="1326" cy="1281" r="4.6"/><circle cx="1293" cy="1283" r="4.6"/><circle cx="1290" cy="1289" r="4.6"/><circle cx="1303" cy="1292" r="4.6"/><circle cx="1338" cy="1286" r="4.6"/><circle cx="1341" cy="1288" r="4.6"/><circle cx="1333" cy="1293" r="4.6"/><circle cx="1338" cy="1294" r="4.6"/><circle cx="1345" cy="1296" r="4.6"/><circle cx="1291" cy="1298" r="4.6"/><circle cx="1311" cy="1304" r="4.6"/><circle cx="1320" cy="1306" r="4.6"/><circle cx="1321" cy="1301" r="4.6"/><circle cx="1326" cy="1303" r="4.6"/><circle cx="1333" cy="1299" r="4.6"/><circle cx="1338" cy="1301" r="4.6"/><circle cx="1341" cy="1308" r="4.6"/><circle cx="1291" cy="1309" r="4.6"/><circle cx="1290" cy="1319" r="4.6"/><circle cx="1294" cy="1324" r="4.6"/><circle cx="1295" cy="1332" r="4.6"/><circle cx="1328" cy="1319" r="4.6"/><circle cx="1340" cy="1319" r="4.6"/><circle cx="1340" cy="1326" r="4.6"/><circle cx="1325" cy="1346" r="4.6"/><circle cx="1320" cy="1353" r="4.6"/><circle cx="1311" cy="1372" r="4.6"/><circle cx="1321" cy="1368" r="4.6"/><circle cx="1333" cy="1374" r="4.6"/><circle cx="1333" cy="1380" r="4.6"/><circle cx="1349" cy="1379" r="4.6"/><circle cx="1348" cy="1389" r="4.6"/><circle cx="1322" cy="1401" r="4.6"/><circle cx="1311" cy="1407" r="4.6"/><circle cx="1340" cy="1405" r="4.6"/><circle cx="1323" cy="1418" r="4.6"/><circle cx="1323" cy="1429" r="4.6"/><circle cx="1338" cy="1433" r="4.6"/><circle cx="1333" cy="1438" r="4.6"/><circle cx="1291" cy="1448" r="4.6"/><circle cx="1293" cy="1453" r="4.6"/><circle cx="1291" cy="1463" r="4.6"/><circle cx="1325" cy="1455" r="4.6"/><circle cx="1323" cy="1476" r="4.6"/><circle cx="1291" cy="1494" r="4.6"/><circle cx="1349" cy="1441" r="4.6"/><circle cx="1349" cy="1454" r="4.6"/><circle cx="1349" cy="1464" r="4.6"/><circle cx="1349" cy="1481" r="4.6"/><circle cx="1349" cy="1486" r="4.6"/><circle cx="1314" cy="1477" r="4.6"/><circle cx="1290" cy="1516" r="4.6"/><circle cx="1341" cy="1516" r="4.6"/><circle cx="1350" cy="1516" r="4.6"/><circle cx="1346" cy="1346" r="4.6"/><circle cx="1350" cy="1352" r="4.6"/><circle cx="1350" cy="1349" r="4.6"/><circle cx="1352" cy="1334" r="4.6"/><circle cx="1349" cy="1360" r="4.6"/><circle cx="1346" cy="1334" r="4.6"/><circle cx="1351" cy="1360" r="4.6"/><circle cx="1346" cy="1332" r="4.6"/><circle cx="1351" cy="1404" r="4.6"/><circle cx="1349" cy="1402" r="4.6"/><circle cx="1351" cy="1407" r="4.6"/><circle cx="1346" cy="1391" r="4.6"/><circle cx="1351" cy="1410" r="4.6"/><circle cx="1351" cy="1398" r="4.6"/></g>
<g class="pt" fill="url(#pr)"><circle cx="1313" cy="1453" r="4.6"/><circle cx="1303" cy="1464" r="4.6"/><circle cx="1303" cy="1470" r="4.6"/><circle cx="1314" cy="1464" r="4.6"/><circle cx="1314" cy="1469" r="4.6"/><circle cx="1314" cy="1472" r="4.6"/><circle cx="1303" cy="1494" r="4.6"/><circle cx="1314" cy="1494" r="4.6"/><circle cx="1314" cy="1505" r="4.6"/><circle cx="1303" cy="1515" r="4.6"/><circle cx="1349" cy="1416" r="4.6"/><circle cx="1349" cy="1424" r="4.6"/><circle cx="1349" cy="1427" r="4.6"/><circle cx="1349" cy="1471" r="4.6"/></g>
<path stroke="#00F" stroke-width="4.5" stroke-opacity="0.1" d="M1350.94 1260v1M1350.94 1263v5M1350.94 1272v1M1350.94 1274v1M1350.94 1277v3M1350.94 1283v3M1350.94 1289v2M1350.94 1305v1M1350.94 1309v2M1350.94 1320v1M1350.94 1322v6M1350.94 1330v1M1350.94 1335v1M1350.94 1344v1M1350.94 1347v3M1350.94 1351v1M1350.94 1353v2M1350.94 1367v9M1350.94 1381v1M1350.94 1388v1M1350.94 1391v1M1350.94 1396v4M1350.94 1408v4M1350.94 1414v6M1350.94 1422v5M1350.94 1429v2M1350.94 1432v3M1350.94 1437v5M1350.94 1446v4M1350.94 1451v1M1350.94 1456v1M1350.94 1461v1M1350.94 1465v1M1350.94 1467v1M1350.94 1473v3M1350.94 1477v5M1350.94 1484v3M1350.94 1495v1M1350.94 1503v3"/><path stroke="#00F" stroke-width="4.5" stroke-opacity="0.2" d="M1350.94 1261v2M1350.94 1268v4M1350.94 1275v2M1350.94 1280v3M1350.94 1286v3M1350.94 1291v14M1350.94 1306v3M1350.94 1317v3M1350.94 1331v4M1350.94 1345v2M1350.94 1350v1M1350.94 1352v1M1350.94 1358v3M1350.94 1378v3M1350.94 1389v2M1350.94 1400v8M1350.94 1427v2M1350.94 1452v4M1350.94 1462v1M1350.94 1464v1M1350.94 1468v5M1350.94 1476v1M1350.94 1492v3"/><path stroke="#00F" stroke-width="4.5" stroke-opacity="0.3" d="M1350.94 1463v1"/>
</g>
<path stroke="#00F" stroke-width="10" stroke-opacity="0.1" d="M1296 1237.3h1M1353 1237.3h1"/><path stroke="#00F" stroke-width="10" stroke-opacity="0.15" d="M1298 1237.3h1M1306 1237.3h1M1329 1237.3h1"/><path stroke="#00F" stroke-width="10" stroke-opacity="0.2" d="M1295 1237.3h1M1299 1237.3h2M1307 1237.3h3M1328 1237.3h1M1343 1237.3h1"/><path stroke="#00F" stroke-width="10" stroke-opacity="0.25" d="M1288 1237.3h1M1315 1237.3h1M1318 1237.3h1M1327 1237.3h1M1342 1237.3h1M1344 1237.3h1"/><path stroke="#00F" stroke-width="10" stroke-opacity="0.3" d="M1292 1237.3h3M1301 1237.3h1M1304 1237.3h1M1319 1237.3h1M1323 1237.3h1M1331 1237.3h1M1334 1237.3h1M1336 1237.3h1M1352 1237.3h1"/><path stroke="#00F" stroke-width="10" stroke-opacity="0.35" d="M1310 1237.3h2M1320 1237.3h2M1324 1237.3h3M1337 1237.3h1M1341 1237.3h1M1345 1237.3h1"/><path stroke="#00F" stroke-width="10" stroke-opacity="0.4" d="M1291 1237.3h1M1302 1237.3h2M1314 1237.3h1M1322 1237.3h1M1332 1237.3h2M1338 1237.3h3M1346 1237.3h1M1351 1237.3h1"/><path stroke="#00F" stroke-width="10" stroke-opacity="0.45" d="M1289 1237.3h2M1312 1237.3h2"/><path stroke="#00F" stroke-width="10" stroke-opacity="0.5" d="M1347 1237.3h1M1350 1237.3h1"/><path stroke="#00F" stroke-width="10" stroke-opacity="0.55" d="M1348 1237.3h2"/>
<line x1="1285.99" x2="1353.19" y1="1517.3" y2="1517.3" stroke="#000" stroke-width="3.3"/>
<rect x="1369.72" y="1180.7" width="67.2" height="51.1" fill="#EEEEEE"/>
<text x="1401.72" y="1214.95" font-size="24" font-weight="bold" text-anchor="middle">15</text>
<line x1="1369.72" x2="1436.92" y1="1261" y2="1261" stroke="#E4E4E4" stroke-width="2.4"/>
<line x1="1369.72" x2="1436.92" y1="1330.73" y2="1330.73" stroke="#E4E4E4" stroke-width="2.4"/>
<line x1="1369.72" x2="1436.92" y1="1400.47" y2="1400.47" stroke="#E4E4E4" stroke-width="2.4"/>
<line x1="1369.72" x2="1436.92" y1="1470.2" y2="1470.2" stroke="#E4E4E4" stroke-width="2.4"/>
<clipPath id="cb14"><rect x="1369.72" y="1231.8" width="67.2" height="285.5"/></clipPath><g clip-path="url(#cb14)">
<g class="pt" fill="url(#pg)"><circle cx="1383" cy="1257" r="4.6"/><circle cx="1404" cy="1260" r="4.6"/><circle cx="1424" cy="1261" r="4.6"/><circle cx="1434" cy="1263" r="4.6"/><circle cx="1394" cy="1270" r="4.6"/><circle cx="1415" cy="1270" r="4.6"/><circle cx="1413" cy="1273" r="4.6"/><circle cx="1408" cy="1278" r="4.6"/><circle cx="1427" cy="1280" r="4.6"/><circle cx="1386" cy="1281" r="4.6"/><circle cx="1406" cy="1281" r="4.6"/><circle cx="1374" cy="1292" r="4.6"/><circle cx="1389" cy="1290" r="4.6"/><circle cx="1395" cy="1290" r="4.6"/><circle cx="1409" cy="1286" r="4.6"/><circle cx="1383" cy="1298" r="4.6"/><circle cx="1389" cy="1298" r="4.6"/><circle cx="1396" cy="1300" r="4.6"/><circle cx="1424" cy="1299" r="4.6"/><circle cx="1408" cy="1307" r="4.6"/><circle cx="1396" cy="1321" r="4.6"/><circle cx="1417" cy="1329" r="4.6"/><circle cx="1374" cy="1337" r="4.6"/><circle cx="1395" cy="1345" r="4.6"/><circle cx="1387" cy="1378" r="4.6"/><circle cx="1387" cy="1381" r="4.6"/><circle cx="1386" cy="1393" r="4.6"/><circle cx="1424" cy="1380" r="4.6"/><circle cx="1390" cy="1403" r="4.6"/><circle cx="1408" cy="1417" r="4.6"/><circle cx="1424" cy="1432" r="4.6"/><circle cx="1387" cy="1436" r="4.6"/><circle cx="1386" cy="1471" r="4.6"/><circle cx="1387" cy="1484" r="4.6"/><circle cx="1373" cy="1516" r="4.6"/><circle cx="1386" cy="1516" r="4.6"/><circle cx="1391" cy="1516" r="4.6"/><circle cx="1408" cy="1516" r="4.6"/><circle cx="1424" cy="1516" r="4.6"/><circle cx="1386" cy="1315" r="4.6"/><circle cx="1383" cy="1324" r="4.6"/><circle cx="1385" cy="1320" r="4.6"/><circle cx="1387" cy="1315" r="4.6"/><circle cx="1388" cy="1318" r="4.6"/><circle cx="1385" cy="1327" r="4.6"/><circle cx="1384" cy="1311" r="4.6"/><circle cx="1385" cy="1318" r="4.6"/><circle cx="1389" cy="1346" r="4.6"/><circle cx="1385" cy="1356" r="4.6"/><circle cx="1385" cy="1352" r="4.6"/><circle cx="1385" cy="1362" r="4.6"/><circle cx="1384" cy="1343" r="4.6"/><circle cx="1385" cy="1346" r="4.6"/><circle cx="1389" cy="1356" r="4.6"/><circle cx="1389" cy="1352" r="4.6"/><circle cx="1383" cy="1359" r="4.6"/><circle cx="1385" cy="1343" r="4.6"/><circle cx="1386" cy="1424" r="4.6"/><circle cx="1386" cy="1418" r="4.6"/><circle cx="1390" cy="1424" r="4.6"/><circle cx="1386" cy="1415" r="4.6"/></g>
<path stroke="#00F" stroke-width="4.5" stroke-opacity="0.1" d="M1434.67 1255v5M1434.67 1263v2M1434.67 1268v1M1434.67 1271v4M1434.67 1276v3M1434.67 1282v1M1434.67 1284v4M1434.67 1292v2M1434.67 1296v1M1434.67 1300v2M1434.67 1305v9M1434.67 1322v3M1434.67 1326v1M1434.67 1328v2M1434.67 1335v4M1434.67 1341v1M1434.67 1347v1M1434.67 1350v1M1434.67 1353v2M1434.67 1357v7M1434.67 1376v3M1434.67 1382v1M1434.67 1391v3M1434.67 1402v3M1434.67 1414v1M1434.67 1418v1M1434.67 1422v1M1434.67 1425v1M1434.67 1430v3M1434.67 1434v3M1434.67 1470v3M1434.67 1482v4"/><path stroke="#00F" stroke-width="4.5" stroke-opacity="0.2" d="M1434.67 1260v3M1434.67 1269v2M1434.67 1279v3M1434.67 1289v3M1434.67 1297v3M1434.67 1314v8M1434.67 1325v1M1434.67 1327v1M1434.67 1342v5M1434.67 1351v2M1434.67 1355v2M1434.67 1379v3M1434.67 1415v3M1434.67 1423v2"/>
</g>
<path stroke="#00F" stroke-width="10" stroke-opacity="0.05" d="M1410 1237.3h1"/><path stroke="#00F" stroke-width="10" stroke-opacity="0.1" d="M1375 1237.3h1M1418 1237.3h1M1428 1237.3h1M1432 1237.3h1"/><path stroke="#00F" stroke-width="10" stroke-opacity="0.15" d="M1371 1237.3h1M1392 1237.3h1M1411 1237.3h1M1422 1237.3h1M1435 1237.3h1"/><path stroke="#00F" stroke-width="10" stroke-opacity="0.2" d="M1393 1237.3h1M1397 1237.3h1M1402 1237.3h4M1412 1237.3h3M1417 1237.3h1M1426 1237.3h2M1433 1237.3h2"/><path stroke="#00F" stroke-width="10" stroke-opacity="0.25" d="M1374 1237.3h1M1381 1237.3h1M1391 1237.3h1M1409 1237.3h1M1415 1237.3h2"/><path stroke="#00F" stroke-width="10" stroke-opacity="0.3" d="M1372 1237.3h2M1394 1237.3h1M1396 1237.3h1"/><path stroke="#00F" stroke-width="10" stroke-opacity="0.35" d="M1382 1237.3h1M1395 1237.3h1M1406 1237.3h3M1423 1237.3h3"/><path stroke="#00F" stroke-width="10" stroke-opacity="0.4" d="M1390 1237.3h1"/><path stroke="#00F" stroke-width="10" stroke-opacity="0.45" d="M1388 1237.3h2"/><path stroke="#00F" stroke-width="10" stroke-opacity="0.5" d="M1383 1237.3h1M1387 1237.3h1"/><path stroke="#00F" stroke-width="10" stroke-opacity="0.55" d="M1384 1237.3h1M1386 1237.3h1"/><path stroke="#00F" stroke-width="10" stroke-opacity="0.6" d="M1385 1237.3h1"/>
<line x1="1369.72" x2="1436.92" y1="1517.3" y2="1517.3" stroke="#000" stroke-width="3.3"/>
<rect x="1453.45" y="1180.7" width="67.2" height="51.1" fill="#EEEEEE"/>
<text x="1485.45" y="1214.95" font-size="24" font-weight="bold" text-anchor="middle">16</text>
<line x1="1453.45" x2="1520.65" y1="1261" y2="1261" stroke="#E4E4E4" stroke-width="2.4"/>
<line x1="1453.45" x2="1520.65" y1="1330.73" y2="1330.73" stroke="#E4E4E4" stroke-width="2.4"/>
<line x1="1453.45" x2="1520.65" y1="1400.47" y2="1400.47" stroke="#E4E4E4" stroke-width="2.4"/>
<line x1="1453.45" x2="1520.65" y1="1470.2" y2="1470.2" stroke="#E4E4E4" stroke-width="2.4"/>
<clipPath id="cb15"><rect x="1453.45" y="1231.8" width="67.2" height="285.5"/></clipPath><g clip-path="url(#cb15)">
<g class="pt" fill="url(#pg)"><circle cx="1498" cy="1245" r="4.6"/><circle cx="1476" cy="1265" r="4.6"/><circle cx="1469" cy="1270" r="4.6"/><circle cx="1479" cy="1273" r="4.6"/><circle cx="1507" cy="1264" r="4.6"/><circle cx="1502" cy="1270" r="4.6"/><circle cx="1512" cy="1273" r="4.6"/><circle cx="1514" cy="1278" r="4.6"/><circle cx="1458" cy="1278" r="4.6"/><circle cx="1476" cy="1299" r="4.6"/><circle cx="1508" cy="1287" r="4.6"/><circle cx="1502" cy="1299" r="4.6"/><circle cx="1517" cy="1295" r="4.6"/><circle cx="1470" cy="1311" r="4.6"/><circle cx="1471" cy="1323" r="4.6"/><circle cx="1517" cy="1327" r="4.6"/><circle cx="1464" cy="1337" r="4.6"/><circle cx="1477" cy="1337" r="4.6"/><circle cx="1458" cy="1355" r="4.6"/><circle cx="1517" cy="1355" r="4.6"/><circle cx="1476" cy="1370" r="4.6"/><circle cx="1502" cy="1380" r="4.6"/><circle cx="1477" cy="1426" r="4.6"/><circle cx="1458" cy="1437" r="4.6"/><circle cx="1469" cy="1442" r="4.6"/><circle cx="1502" cy="1431" r="4.6"/><circle cx="1509" cy="1446" r="4.6"/><circle cx="1469" cy="1458" r="4.6"/><circle cx="1469" cy="1467" r="4.6"/><circle cx="1471" cy="1473" r="4.6"/><circle cx="1470" cy="1487" r="4.6"/><circle cx="1480" cy="1505" r="4.6"/><circle cx="1457" cy="1516" r="4.6"/><circle cx="1476" cy="1516" r="4.6"/><circle cx="1516" cy="1516" r="4.6"/><circle cx="1469" cy="1294" r="4.6"/><circle cx="1462" cy="1294" r="4.6"/><circle cx="1462" cy="1285" r="4.6"/><circle cx="1466" cy="1293" r="4.6"/><circle cx="1464" cy="1294" r="4.6"/><circle cx="1456" cy="1289" r="4.6"/><circle cx="1462" cy="1281" r="4.6"/><circle cx="1471" cy="1282" r="4.6"/><circle cx="1459" cy="1296" r="4.6"/><circle cx="1472" cy="1297" r="4.6"/><circle cx="1462" cy="1297" r="4.6"/><circle cx="1458" cy="1293" r="4.6"/><circle cx="1480" cy="1385" r="4.6"/><circle cx="1474" cy="1390" r="4.6"/><circle cx="1480" cy="1391" r="4.6"/><circle cx="1480" cy="1388" r="4.6"/><circle cx="1476" cy="1384" r="4.6"/></g>
<path stroke="#00F" stroke-width="4.5" stroke-opacity="0.1" d="M1518.4 1244v3M1518.4 1262v1M1518.4 1265v1M1518.4 1274v1M1518.4 1276v1M1518.4 1279v2M1518.4 1282v3M1518.4 1286v1M1518.4 1289v1M1518.4 1291v1M1518.4 1309v4M1518.4 1321v3M1518.4 1325v4M1518.4 1335v1M1518.4 1338v1M1518.4 1353v1M1518.4 1356v1M1518.4 1368v4M1518.4 1378v5M1518.4 1386v3M1518.4 1392v1M1518.4 1424v3M1518.4 1429v3M1518.4 1435v3M1518.4 1441v6M1518.4 1456v4M1518.4 1466v3M1518.4 1471v4M1518.4 1486v3M1518.4 1503v3"/><path stroke="#00F" stroke-width="4.5" stroke-opacity="0.2" d="M1518.4 1263v2M1518.4 1269v5M1518.4 1277v2M1518.4 1281v1M1518.4 1285v1M1518.4 1287v2M1518.4 1292v1M1518.4 1296v5M1518.4 1336v2M1518.4 1354v2M1518.4 1383v3M1518.4 1389v3"/><path stroke="#00F" stroke-width="4.5" stroke-opacity="0.3" d="M1518.4 1293v3"/>
</g>
<path stroke="#00F" stroke-width="10" stroke-opacity="0.05" d="M1505 1237.3h1"/><path stroke="#00F" stroke-width="10" stroke-opacity="0.1" d="M1454 1237.3h1M1496 1237.3h1"/><path stroke="#00F" stroke-width="10" stroke-opacity="0.15" d="M1499 1237.3h1M1510 1237.3h1"/><path stroke="#00F" stroke-width="10" stroke-opacity="0.2" d="M1466 1237.3h1M1473 1237.3h1M1497 1237.3h2M1503 1237.3h1M1506 1237.3h1M1511 1237.3h2M1518 1237.3h1"/><path stroke="#00F" stroke-width="10" stroke-opacity="0.25" d="M1455 1237.3h2M1465 1237.3h1M1467 1237.3h1M1507 1237.3h1M1509 1237.3h1M1513 1237.3h2"/><path stroke="#00F" stroke-width="10" stroke-opacity="0.3" d="M1460 1237.3h1M1463 1237.3h2M1472 1237.3h1M1477 1237.3h2M1481 1237.3h1M1500 1237.3h1M1508 1237.3h1M1515 1237.3h1M1517 1237.3h1"/><path stroke="#00F" stroke-width="10" stroke-opacity="0.35" d="M1458 1237.3h2M1461 1237.3h2M1471 1237.3h1M1474 1237.3h1M1479 1237.3h2M1501 1237.3h2M1516 1237.3h1"/><path stroke="#00F" stroke-width="10" stroke-opacity="0.4" d="M1457 1237.3h1M1468 1237.3h1M1475 1237.3h2"/><path stroke="#00F" stroke-width="10" stroke-opacity="0.45" d="M1469 1237.3h2"/>
<line x1="1453.45" x2="1520.65" y1="1517.3" y2="1517.3" stroke="#000" stroke-width="3.3"/>
<rect x="1537.18" y="1180.7" width="67.2" height="51.1" fill="#EEEEEE"/>
<text x="1569.18" y="1214.95" font-size="24" font-weight="bold" text-anchor="middle">17</text>
<line x1="1537.18" x2="1604.38" y1="1261" y2="1261" stroke="#E4E4E4" stroke-width="2.4"/>
<line x1="1537.18" x2="1604.38" y1="1330.73" y2="1330.73" stroke="#E4E4E4" stroke-width="2.4"/>
<line x1="1537.18" x2="1604.38" y1="1400.47" y2="1400.47" stroke="#E4E4E4" stroke-width="2.4"/>
<line x1="1537.18" x2="1604.38" y1="1470.2" y2="1470.2" stroke="#E4E4E4" stroke-width="2.4"/>
<clipPath id="cb16"><rect x="1537.18" y="1231.8" width="67.2" height="285.5"/></clipPath><g clip-path="url(#cb16)">
<g class="pt" fill="url(#pg)"><circle cx="1569" cy="1265" r="4.6"/><circle cx="1559" cy="1270" r="4.6"/><circle cx="1551" cy="1274" r="4.6"/><circle cx="1582" cy="1269" r="4.6"/><circle cx="1590" cy="1271" r="4.6"/><circle cx="1595" cy="1270" r="4.6"/><circle cx="1600" cy="1267" r="4.6"/><circle cx="1574" cy="1276" r="4.6"/><circle cx="1578" cy="1275" r="4.6"/><circle cx="1591" cy="1276" r="4.6"/><circle cx="1588" cy="1284" r="4.6"/><circle cx="1582" cy="1290" r="4.6"/><circle cx="1583" cy="1295" r="4.6"/><circle cx="1596" cy="1297" r="4.6"/><circle cx="1587" cy="1314" r="4.6"/><circle cx="1596" cy="1316" r="4.6"/><circle cx="1596" cy="1314" r="4.6"/><circle cx="1542" cy="1331" r="4.6"/><circle cx="1553" cy="1338" r="4.6"/><circle cx="1552" cy="1343" r="4.6"/><circle cx="1596" cy="1339" r="4.6"/><circle cx="1595" cy="1349" r="4.6"/><circle cx="1601" cy="1358" r="4.6"/><circle cx="1596" cy="1364" r="4.6"/><circle cx="1595" cy="1371" r="4.6"/><circle cx="1596" cy="1378" r="4.6"/><circle cx="1596" cy="1390" r="4.6"/><circle cx="1543" cy="1366" r="4.6"/><circle cx="1542" cy="1373" r="4.6"/><circle cx="1561" cy="1370" r="4.6"/><circle cx="1583" cy="1366" r="4.6"/><circle cx="1583" cy="1371" r="4.6"/><circle cx="1542" cy="1387" r="4.6"/><circle cx="1562" cy="1384" r="4.6"/><circle cx="1561" cy="1388" r="4.6"/><circle cx="1570" cy="1392" r="4.6"/><circle cx="1571" cy="1402" r="4.6"/><circle cx="1552" cy="1406" r="4.6"/><circle cx="1595" cy="1408" r="4.6"/><circle cx="1596" cy="1429" r="4.6"/><circle cx="1596" cy="1436" r="4.6"/><circle cx="1543" cy="1438" r="4.6"/><circle cx="1562" cy="1438" r="4.6"/><circle cx="1561" cy="1446" r="4.6"/><circle cx="1601" cy="1454" r="4.6"/><circle cx="1554" cy="1457" r="4.6"/><circle cx="1554" cy="1464" r="4.6"/><circle cx="1595" cy="1461" r="4.6"/><circle cx="1572" cy="1467" r="4.6"/><circle cx="1545" cy="1471" r="4.6"/><circle cx="1572" cy="1477" r="4.6"/><circle cx="1601" cy="1477" r="4.6"/><circle cx="1551" cy="1488" r="4.6"/><circle cx="1547" cy="1494" r="4.6"/><circle cx="1540" cy="1516" r="4.6"/><circle cx="1552" cy="1516" r="4.6"/><circle cx="1560" cy="1516" r="4.6"/><circle cx="1572" cy="1516" r="4.6"/><circle cx="1591" cy="1516" r="4.6"/><circle cx="1598" cy="1516" r="4.6"/><circle cx="1549" cy="1325" r="4.6"/><circle cx="1541" cy="1290" r="4.6"/><circle cx="1552" cy="1283" r="4.6"/><circle cx="1550" cy="1290" r="4.6"/><circle cx="1543" cy="1306" r="4.6"/><circle cx="1559" cy="1308" r="4.6"/><circle cx="1567" cy="1306" r="4.6"/><circle cx="1575" cy="1285" r="4.6"/><circle cx="1547" cy="1285" r="4.6"/><circle cx="1550" cy="1317" r="4.6"/><circle cx="1574" cy="1305" r="4.6"/><circle cx="1544" cy="1297" r="4.6"/><circle cx="1560" cy="1295" r="4.6"/><circle cx="1569" cy="1326" r="4.6"/><circle cx="1556" cy="1309" r="4.6"/><circle cx="1571" cy="1303" r="4.6"/><circle cx="1546" cy="1325" r="4.6"/><circle cx="1576" cy="1282" r="4.6"/><circle cx="1567" cy="1300" r="4.6"/><circle cx="1540" cy="1289" r="4.6"/><circle cx="1545" cy="1315" r="4.6"/><circle cx="1546" cy="1282" r="4.6"/><circle cx="1547" cy="1318" r="4.6"/><circle cx="1557" cy="1312" r="4.6"/><circle cx="1556" cy="1290" r="4.6"/><circle cx="1539" cy="1295" r="4.6"/><circle cx="1540" cy="1293" r="4.6"/><circle cx="1562" cy="1298" r="4.6"/><circle cx="1556" cy="1310" r="4.6"/><circle cx="1550" cy="1298" r="4.6"/><circle cx="1572" cy="1308" r="4.6"/><circle cx="1554" cy="1306" r="4.6"/><circle cx="1556" cy="1297" r="4.6"/><circle cx="1573" cy="1292" r="4.6"/><circle cx="1574" cy="1321" r="4.6"/></g>
<path stroke="#00F" stroke-width="4.5" stroke-opacity="0.1" d="M1602.13 1264v1M1602.13 1272v1M1602.13 1277v1M1602.13 1280v1M1602.13 1286v2M1602.13 1300v3M1602.13 1312v1M1602.13 1318v6M1602.13 1327v1M1602.13 1329v4M1602.13 1336v1M1602.13 1339v1M1602.13 1341v3M1602.13 1348v3M1602.13 1356v3M1602.13 1363v1M1602.13 1367v2M1602.13 1373v1M1602.13 1377v3M1602.13 1383v4M1602.13 1392v1M1602.13 1400v3M1602.13 1404v6M1602.13 1427v4M1602.13 1434v2M1602.13 1439v1M1602.13 1444v3M1602.13 1452v7M1602.13 1460v9M1602.13 1470v3M1602.13 1478v1M1602.13 1486v4M1602.13 1492v4"/><path stroke="#00F" stroke-width="4.5" stroke-opacity="0.2" d="M1602.13 1265v7M1602.13 1273v4M1602.13 1281v2M1602.13 1285v1M1602.13 1288v1M1602.13 1291v4M1602.13 1298v2M1602.13 1303v2M1602.13 1307v5M1602.13 1313v2M1602.13 1316v2M1602.13 1324v3M1602.13 1337v2M1602.13 1364v3M1602.13 1369v4M1602.13 1387v5M1602.13 1436v3M1602.13 1476v2"/><path stroke="#00F" stroke-width="4.5" stroke-opacity="0.3" d="M1602.13 1283v2M1602.13 1289v2M1602.13 1295v3M1602.13 1305v2M1602.13 1315v1"/>
</g>
<path stroke="#00F" stroke-width="10" stroke-opacity="0.05" d="M1565 1237.3h1"/><path stroke="#00F" stroke-width="10" stroke-opacity="0.1" d="M1602 1237.3h1"/><path stroke="#00F" stroke-width="10" stroke-opacity="0.15" d="M1537 1237.3h1M1579 1237.3h1"/><path stroke="#00F" stroke-width="10" stroke-opacity="0.2" d="M1563 1237.3h1M1576 1237.3h3M1585 1237.3h2"/><path stroke="#00F" stroke-width="10" stroke-opacity="0.25" d="M1538 1237.3h1M1548 1237.3h1M1566 1237.3h1M1580 1237.3h1M1584 1237.3h1M1587 1237.3h3M1591 1237.3h2M1598 1237.3h1"/><path stroke="#00F" stroke-width="10" stroke-opacity="0.3" d="M1562 1237.3h1M1567 1237.3h1M1575 1237.3h1M1581 1237.3h1M1583 1237.3h1M1590 1237.3h1M1593 1237.3h1M1597 1237.3h1M1601 1237.3h1"/><path stroke="#00F" stroke-width="10" stroke-opacity="0.35" d="M1539 1237.3h2M1547 1237.3h1M1549 1237.3h1M1553 1237.3h2M1556 1237.3h3M1568 1237.3h2M1582 1237.3h1M1599 1237.3h2"/><path stroke="#00F" stroke-width="10" stroke-opacity="0.4" d="M1541 1237.3h2M1544 1237.3h3M1552 1237.3h1M1555 1237.3h1M1559 1237.3h3M1570 1237.3h5"/><path stroke="#00F" stroke-width="10" stroke-opacity="0.45" d="M1543 1237.3h1M1550 1237.3h2"/><path stroke="#00F" stroke-width="10" stroke-opacity="0.5" d="M1594 1237.3h1M1596 1237.3h1"/><path stroke="#00F" stroke-width="10" stroke-opacity="0.55" d="M1595 1237.3h1"/>
<line x1="1537.18" x2="1604.38" y1="1517.3" y2="1517.3" stroke="#000" stroke-width="3.3"/>
<rect x="1620.91" y="1180.7" width="67.2" height="51.1" fill="#EEEEEE"/>
<text x="1652.91" y="1214.95" font-size="24" font-weight="bold" text-anchor="middle">18</text>
<line x1="1620.91" x2="1688.11" y1="1261" y2="1261" stroke="#E4E4E4" stroke-width="2.4"/>
<line x1="1620.91" x2="1688.11" y1="1330.73" y2="1330.73" stroke="#E4E4E4" stroke-width="2.4"/>
<line x1="1620.91" x2="1688.11" y1="1400.47" y2="1400.47" stroke="#E4E4E4" stroke-width="2.4"/>
<line x1="1620.91" x2="1688.11" y1="1470.2" y2="1470.2" stroke="#E4E4E4" stroke-width="2.4"/>
<clipPath id="cb17"><rect x="1620.91" y="1231.8" width="67.2" height="285.5"/></clipPath><g clip-path="url(#cb17)">
<g class="pt" fill="url(#pg)"><circle cx="1646" cy="1265" r="4.6"/><circle cx="1635" cy="1270" r="4.6"/><circle cx="1640" cy="1270" r="4.6"/><circle cx="1651" cy="1271" r="4.6"/><circle cx="1658" cy="1273" r="4.6"/><circle cx="1678" cy="1268" r="4.6"/><circle cx="1685" cy="1270" r="4.6"/><circle cx="1671" cy="1275" r="4.6"/><circle cx="1661" cy="1278" r="4.6"/><circle cx="1648" cy="1280" r="4.6"/><circle cx="1626" cy="1281" r="4.6"/><circle cx="1631" cy="1280" r="4.6"/><circle cx="1626" cy="1291" r="4.6"/><circle cx="1654" cy="1286" r="4.6"/><circle cx="1650" cy="1290" r="4.6"/><circle cx="1668" cy="1286" r="4.6"/><circle cx="1680" cy="1292" r="4.6"/><circle cx="1640" cy="1298" r="4.6"/><circle cx="1626" cy="1304" r="4.6"/><circle cx="1657" cy="1303" r="4.6"/><circle cx="1635" cy="1309" r="4.6"/><circle cx="1635" cy="1314" r="4.6"/><circle cx="1648" cy="1328" r="4.6"/><circle cx="1635" cy="1333" r="4.6"/><circle cx="1668" cy="1339" r="4.6"/><circle cx="1672" cy="1350" r="4.6"/><circle cx="1624" cy="1366" r="4.6"/><circle cx="1669" cy="1376" r="4.6"/><circle cx="1652" cy="1426" r="4.6"/><circle cx="1668" cy="1425" r="4.6"/><circle cx="1673" cy="1425" r="4.6"/><circle cx="1672" cy="1437" r="4.6"/><circle cx="1668" cy="1443" r="4.6"/><circle cx="1654" cy="1451" r="4.6"/><circle cx="1663" cy="1462" r="4.6"/><circle cx="1673" cy="1466" r="4.6"/><circle cx="1671" cy="1471" r="4.6"/><circle cx="1673" cy="1477" r="4.6"/><circle cx="1654" cy="1475" r="4.6"/><circle cx="1665" cy="1481" r="4.6"/><circle cx="1654" cy="1488" r="4.6"/><circle cx="1680" cy="1451" r="4.6"/><circle cx="1625" cy="1516" r="4.6"/><circle cx="1648" cy="1516" r="4.6"/><circle cx="1666" cy="1516" r="4.6"/><circle cx="1680" cy="1298" r="4.6"/><circle cx="1671" cy="1330" r="4.6"/><circle cx="1666" cy="1298" r="4.6"/><circle cx="1676" cy="1301" r="4.6"/><circle cx="1673" cy="1297" r="4.6"/><circle cx="1682" cy="1302" r="4.6"/><circle cx="1662" cy="1319" r="4.6"/><circle cx="1668" cy="1313" r="4.6"/><circle cx="1671" cy="1328" r="4.6"/><circle cx="1672" cy="1306" r="4.6"/><circle cx="1660" cy="1311" r="4.6"/><circle cx="1666" cy="1314" r="4.6"/><circle cx="1674" cy="1310" r="4.6"/><circle cx="1662" cy="1311" r="4.6"/><circle cx="1671" cy="1317" r="4.6"/><circle cx="1682" cy="1302" r="4.6"/><circle cx="1670" cy="1295" r="4.6"/><circle cx="1678" cy="1300" r="4.6"/><circle cx="1679" cy="1323" r="4.6"/><circle cx="1666" cy="1327" r="4.6"/><circle cx="1671" cy="1308" r="4.6"/><circle cx="1673" cy="1329" r="4.6"/><circle cx="1671" cy="1310" r="4.6"/><circle cx="1666" cy="1325" r="4.6"/><circle cx="1671" cy="1305" r="4.6"/><circle cx="1666" cy="1401" r="4.6"/><circle cx="1674" cy="1410" r="4.6"/><circle cx="1676" cy="1411" r="4.6"/><circle cx="1672" cy="1409" r="4.6"/><circle cx="1672" cy="1410" r="4.6"/><circle cx="1674" cy="1400" r="4.6"/><circle cx="1674" cy="1402" r="4.6"/><circle cx="1666" cy="1411" r="4.6"/></g>
<g class="pt" fill="url(#pr)"><circle cx="1680" cy="1460" r="4.6"/><circle cx="1680" cy="1494" r="4.6"/><circle cx="1680" cy="1515" r="4.6"/></g>
<path stroke="#00F" stroke-width="4.5" stroke-opacity="0.1" d="M1685.86 1264v4M1685.86 1273v5M1685.86 1281v2M1685.86 1284v1M1685.86 1287v1M1685.86 1289v1M1685.86 1293v3M1685.86 1315v2M1685.86 1318v2M1685.86 1321v2M1685.86 1325v1M1685.86 1330v1M1685.86 1332v2M1685.86 1337v3M1685.86 1348v4M1685.86 1364v4M1685.86 1374v4M1685.86 1398v1M1685.86 1402v2M1685.86 1412v1M1685.86 1423v1M1685.86 1435v3M1685.86 1442v3M1685.86 1449v1M1685.86 1452v1M1685.86 1458v9M1685.86 1469v3M1685.86 1473v9M1685.86 1486v4M1685.86 1492v4"/><path stroke="#00F" stroke-width="4.5" stroke-opacity="0.2" d="M1685.86 1268v5M1685.86 1278v3M1685.86 1285v2M1685.86 1290v3M1685.86 1296v1M1685.86 1298v3M1685.86 1304v5M1685.86 1311v4M1685.86 1317v1M1685.86 1323v2M1685.86 1326v4M1685.86 1331v1M1685.86 1399v3M1685.86 1408v2M1685.86 1411v1M1685.86 1424v3M1685.86 1450v2"/><path stroke="#00F" stroke-width="4.5" stroke-opacity="0.3" d="M1685.86 1297v1M1685.86 1301v3M1685.86 1309v2M1685.86 1410v1"/>
</g>
<path stroke="#00F" stroke-width="10" stroke-opacity="0.05" d="M1632 1237.3h1M1686 1237.3h1"/><path stroke="#00F" stroke-width="10" stroke-opacity="0.1" d="M1641 1237.3h1"/><path stroke="#00F" stroke-width="10" stroke-opacity="0.15" d="M1622 1237.3h1M1636 1237.3h1"/><path stroke="#00F" stroke-width="10" stroke-opacity="0.2" d="M1627 1237.3h1M1629 1237.3h3M1644 1237.3h2M1655 1237.3h2M1684 1237.3h2"/><path stroke="#00F" stroke-width="10" stroke-opacity="0.25" d="M1623 1237.3h1M1638 1237.3h3M1646 1237.3h1M1650 1237.3h2M1657 1237.3h3M1663 1237.3h1M1682 1237.3h2"/><path stroke="#00F" stroke-width="10" stroke-opacity="0.3" d="M1626 1237.3h1M1633 1237.3h1M1647 1237.3h3M1660 1237.3h3M1675 1237.3h2M1681 1237.3h1"/><path stroke="#00F" stroke-width="10" stroke-opacity="0.35" d="M1624 1237.3h2M1634 1237.3h2M1652 1237.3h3M1664 1237.3h1M1677 1237.3h1"/><path stroke="#00F" stroke-width="10" stroke-opacity="0.4" d="M1668 1237.3h2M1674 1237.3h1M1680 1237.3h1"/><path stroke="#00F" stroke-width="10" stroke-opacity="0.45" d="M1665 1237.3h3M1678 1237.3h2"/><path stroke="#00F" stroke-width="10" stroke-opacity="0.5" d="M1670 1237.3h1M1673 1237.3h1"/><path stroke="#00F" stroke-width="10" stroke-opacity="0.55" d="M1671 1237.3h2"/>
<line x1="1620.91" x2="1688.11" y1="1517.3" y2="1517.3" stroke="#000" stroke-width="3.3"/>
<rect x="1704.64" y="1180.7" width="67.2" height="51.1" fill="#EEEEEE"/>
<text x="1736.64" y="1214.95" font-size="24" font-weight="bold" text-anchor="middle">19</text>
<line x1="1704.64" x2="1771.84" y1="1261" y2="1261" stroke="#E4E4E4" stroke-width="2.4"/>
<line x1="1704.64" x2="1771.84" y1="1330.73" y2="1330.73" stroke="#E4E4E4" stroke-width="2.4"/>
<line x1="1704.64" x2="1771.84" y1="1400.47" y2="1400.47" stroke="#E4E4E4" stroke-width="2.4"/>
<line x1="1704.64" x2="1771.84" y1="1470.2" y2="1470.2" stroke="#E4E4E4" stroke-width="2.4"/>
<clipPath id="cb18"><rect x="1704.64" y="1231.8" width="67.2" height="285.5"/></clipPath><g clip-path="url(#cb18)">
<g class="pt" fill="url(#pg)"><circle cx="1745" cy="1255" r="4.6"/><circle cx="1724" cy="1262" r="4.6"/><circle cx="1753" cy="1268" r="4.6"/><circle cx="1768" cy="1273" r="4.6"/><circle cx="1713" cy="1277" r="4.6"/><circle cx="1729" cy="1277" r="4.6"/><circle cx="1709" cy="1288" r="4.6"/><circle cx="1756" cy="1284" r="4.6"/><circle cx="1761" cy="1289" r="4.6"/><circle cx="1724" cy="1299" r="4.6"/><circle cx="1746" cy="1298" r="4.6"/><circle cx="1756" cy="1304" r="4.6"/><circle cx="1714" cy="1315" r="4.6"/><circle cx="1753" cy="1356" r="4.6"/><circle cx="1753" cy="1361" r="4.6"/><circle cx="1754" cy="1379" r="4.6"/><circle cx="1745" cy="1389" r="4.6"/><circle cx="1745" cy="1402" r="4.6"/><circle cx="1745" cy="1407" r="4.6"/><circle cx="1754" cy="1419" r="4.6"/><circle cx="1709" cy="1442" r="4.6"/><circle cx="1713" cy="1456" r="4.6"/><circle cx="1713" cy="1470" r="4.6"/><circle cx="1746" cy="1444" r="4.6"/><circle cx="1754" cy="1444" r="4.6"/><circle cx="1768" cy="1438" r="4.6"/><circle cx="1753" cy="1454" r="4.6"/><circle cx="1760" cy="1454" r="4.6"/><circle cx="1758" cy="1461" r="4.6"/><circle cx="1756" cy="1466" r="4.6"/><circle cx="1763" cy="1473" r="4.6"/><circle cx="1768" cy="1469" r="4.6"/><circle cx="1758" cy="1494" r="4.6"/><circle cx="1754" cy="1505" r="4.6"/><circle cx="1761" cy="1505" r="4.6"/><circle cx="1708" cy="1516" r="4.6"/><circle cx="1724" cy="1516" r="4.6"/><circle cx="1745" cy="1516" r="4.6"/><circle cx="1755" cy="1516" r="4.6"/></g>
<path stroke="#00F" stroke-width="4.5" stroke-opacity="0.1" d="M1769.59 1253v3M1769.59 1260v4M1769.59 1266v4M1769.59 1271v5M1769.59 1278v1M1769.59 1283v5M1769.59 1289v2M1769.59 1296v1M1769.59 1299v1M1769.59 1302v3M1769.59 1314v3M1769.59 1354v4M1769.59 1359v4M1769.59 1378v3M1769.59 1388v3M1769.59 1401v3M1769.59 1406v3M1769.59 1417v4M1769.59 1437v3M1769.59 1441v1M1769.59 1445v1M1769.59 1452v1M1769.59 1456v2M1769.59 1459v3M1769.59 1464v4M1769.59 1471v4M1769.59 1492v4"/><path stroke="#00F" stroke-width="4.5" stroke-opacity="0.2" d="M1769.59 1276v2M1769.59 1288v1M1769.59 1297v2M1769.59 1442v3M1769.59 1453v3M1769.59 1468v3M1769.59 1503v3"/>
</g>
<path stroke="#00F" stroke-width="10" stroke-opacity="0.05" d="M1715 1237.3h1M1730 1237.3h1M1764 1237.3h1"/><path stroke="#00F" stroke-width="10" stroke-opacity="0.15" d="M1706 1237.3h1M1727 1237.3h1"/><path stroke="#00F" stroke-width="10" stroke-opacity="0.2" d="M1710 1237.3h1M1722 1237.3h1M1728 1237.3h2M1743 1237.3h1M1747 1237.3h1M1763 1237.3h1M1769 1237.3h1"/><path stroke="#00F" stroke-width="10" stroke-opacity="0.25" d="M1707 1237.3h1M1709 1237.3h1M1711 1237.3h1M1714 1237.3h1M1725 1237.3h1M1758 1237.3h2M1762 1237.3h1M1766 1237.3h1"/><path stroke="#00F" stroke-width="10" stroke-opacity="0.3" d="M1708 1237.3h1M1723 1237.3h2M1751 1237.3h1M1757 1237.3h1M1760 1237.3h2M1767 1237.3h2"/><path stroke="#00F" stroke-width="10" stroke-opacity="0.35" d="M1712 1237.3h2M1746 1237.3h1M1755 1237.3h2"/><path stroke="#00F" stroke-width="10" stroke-opacity="0.4" d="M1744 1237.3h2M1754 1237.3h1"/><path stroke="#00F" stroke-width="10" stroke-opacity="0.45" d="M1752 1237.3h2"/>
<line x1="1704.64" x2="1771.84" y1="1517.3" y2="1517.3" stroke="#000" stroke-width="3.3"/>
<rect x="1788.37" y="1180.7" width="67.2" height="51.1" fill="#EEEEEE"/>
<text x="1820.37" y="1214.95" font-size="24" font-weight="bold" text-anchor="middle">20</text>
<line x1="1788.37" x2="1855.57" y1="1261" y2="1261" stroke="#E4E4E4" stroke-width="2.4"/>
<line x1="1788.37" x2="1855.57" y1="1330.73" y2="1330.73" stroke="#E4E4E4" stroke-width="2.4"/>
<line x1="1788.37" x2="1855.57" y1="1400.47" y2="1400.47" stroke="#E4E4E4" stroke-width="2.4"/>
<line x1="1788.37" x2="1855.57" y1="1470.2" y2="1470.2" stroke="#E4E4E4" stroke-width="2.4"/>
<clipPath id="cb19"><rect x="1788.37" y="1231.8" width="67.2" height="285.5"/></clipPath><g clip-path="url(#cb19)">
<g class="pt" fill="url(#pg)"><circle cx="1798" cy="1269" r="4.6"/><circle cx="1803" cy="1273" r="4.6"/><circle cx="1817" cy="1273" r="4.6"/><circle cx="1822" cy="1275" r="4.6"/><circle cx="1830" cy="1267" r="4.6"/><circle cx="1838" cy="1269" r="4.6"/><circle cx="1851" cy="1265" r="4.6"/><circle cx="1810" cy="1283" r="4.6"/><circle cx="1808" cy="1286" r="4.6"/><circle cx="1819" cy="1288" r="4.6"/><circle cx="1832" cy="1287" r="4.6"/><circle cx="1841" cy="1282" r="4.6"/><circle cx="1842" cy="1292" r="4.6"/><circle cx="1799" cy="1296" r="4.6"/><circle cx="1804" cy="1298" r="4.6"/><circle cx="1792" cy="1304" r="4.6"/><circle cx="1810" cy="1304" r="4.6"/><circle cx="1819" cy="1308" r="4.6"/><circle cx="1823" cy="1306" r="4.6"/><circle cx="1841" cy="1306" r="4.6"/><circle cx="1842" cy="1302" r="4.6"/><circle cx="1846" cy="1303" r="4.6"/><circle cx="1817" cy="1324" r="4.6"/><circle cx="1838" cy="1324" r="4.6"/><circle cx="1810" cy="1374" r="4.6"/><circle cx="1809" cy="1403" r="4.6"/><circle cx="1817" cy="1441" r="4.6"/><circle cx="1837" cy="1437" r="4.6"/><circle cx="1841" cy="1444" r="4.6"/><circle cx="1810" cy="1455" r="4.6"/><circle cx="1810" cy="1461" r="4.6"/><circle cx="1817" cy="1463" r="4.6"/><circle cx="1810" cy="1466" r="4.6"/><circle cx="1842" cy="1488" r="4.6"/><circle cx="1791" cy="1516" r="4.6"/><circle cx="1808" cy="1516" r="4.6"/><circle cx="1816" cy="1516" r="4.6"/></g>
<g class="pt" fill="url(#pr)"><circle cx="1841" cy="1424" r="4.6"/><circle cx="1841" cy="1515" r="4.6"/></g>
<path stroke="#00F" stroke-width="4.5" stroke-opacity="0.1" d="M1853.32 1264v1M1853.32 1271v1M1853.32 1275v2M1853.32 1280v1M1853.32 1284v1M1853.32 1289v7M1853.32 1298v1M1853.32 1300v1M1853.32 1308v1M1853.32 1373v3M1853.32 1402v3M1853.32 1422v4M1853.32 1435v3M1853.32 1439v7M1853.32 1453v4M1853.32 1459v9M1853.32 1486v4"/><path stroke="#00F" stroke-width="4.5" stroke-opacity="0.2" d="M1853.32 1265v5M1853.32 1272v3M1853.32 1281v3M1853.32 1285v4M1853.32 1296v2M1853.32 1301v7M1853.32 1322v3"/>
</g>
<path stroke="#00F" stroke-width="10" stroke-opacity="0.05" d="M1833 1237.3h1M1835 1237.3h1"/><path stroke="#00F" stroke-width="10" stroke-opacity="0.1" d="M1793 1237.3h1M1847 1237.3h1M1852 1237.3h1"/><path stroke="#00F" stroke-width="10" stroke-opacity="0.15" d="M1789 1237.3h1M1800 1237.3h1M1805 1237.3h1M1814 1237.3h1M1824 1237.3h1M1828 1237.3h1M1844 1237.3h1M1849 1237.3h1"/><path stroke="#00F" stroke-width="10" stroke-opacity="0.2" d="M1792 1237.3h1M1796 1237.3h2M1799 1237.3h1M1801 1237.3h2M1804 1237.3h1M1820 1237.3h2M1829 1237.3h1M1831 1237.3h2M1836 1237.3h1M1845 1237.3h2M1850 1237.3h2"/><path stroke="#00F" stroke-width="10" stroke-opacity="0.25" d="M1790 1237.3h2M1798 1237.3h1M1803 1237.3h1M1806 1237.3h2M1819 1237.3h1M1822 1237.3h2M1830 1237.3h1"/><path stroke="#00F" stroke-width="10" stroke-opacity="0.3" d="M1811 1237.3h1M1818 1237.3h1M1837 1237.3h2M1843 1237.3h1"/><path stroke="#00F" stroke-width="10" stroke-opacity="0.35" d="M1815 1237.3h3M1839 1237.3h2M1842 1237.3h1"/><path stroke="#00F" stroke-width="10" stroke-opacity="0.4" d="M1808 1237.3h3"/><path stroke="#00F" stroke-width="10" stroke-opacity="0.45" d="M1841 1237.3h1"/>
<line x1="1788.37" x2="1855.57" y1="1517.3" y2="1517.3" stroke="#000" stroke-width="3.3"/>
<rect x="1872.1" y="1180.7" width="67.2" height="51.1" fill="#EEEEEE"/>
<text x="1904.1" y="1214.95" font-size="24" font-weight="bold" text-anchor="middle">21</text>
<line x1="1872.1" x2="1939.3" y1="1261" y2="1261" stroke="#E4E4E4" stroke-width="2.4"/>
<line x1="1872.1" x2="1939.3" y1="1330.73" y2="1330.73" stroke="#E4E4E4" stroke-width="2.4"/>
<line x1="1872.1" x2="1939.3" y1="1400.47" y2="1400.47" stroke="#E4E4E4" stroke-width="2.4"/>
<line x1="1872.1" x2="1939.3" y1="1470.2" y2="1470.2" stroke="#E4E4E4" stroke-width="2.4"/>
<clipPath id="cb20"><rect x="1872.1" y="1231.8" width="67.2" height="285.5"/></clipPath><g clip-path="url(#cb20)">
<g class="pt" fill="url(#pg)"><circle cx="1898" cy="1257" r="4.6"/><circle cx="1935" cy="1260" r="4.6"/><circle cx="1880" cy="1277" r="4.6"/><circle cx="1906" cy="1277" r="4.6"/><circle cx="1908" cy="1285" r="4.6"/><circle cx="1913" cy="1288" r="4.6"/><circle cx="1918" cy="1292" r="4.6"/><circle cx="1919" cy="1293" r="4.6"/><circle cx="1900" cy="1299" r="4.6"/><circle cx="1910" cy="1298" r="4.6"/><circle cx="1915" cy="1301" r="4.6"/><circle cx="1915" cy="1306" r="4.6"/><circle cx="1899" cy="1305" r="4.6"/><circle cx="1899" cy="1309" r="4.6"/><circle cx="1880" cy="1315" r="4.6"/><circle cx="1900" cy="1320" r="4.6"/><circle cx="1935" cy="1297" r="4.6"/><circle cx="1909" cy="1352" r="4.6"/><circle cx="1935" cy="1370" r="4.6"/><circle cx="1911" cy="1411" r="4.6"/><circle cx="1916" cy="1416" r="4.6"/><circle cx="1918" cy="1473" r="4.6"/><circle cx="1875" cy="1515" r="4.6"/><circle cx="1907" cy="1515" r="4.6"/><circle cx="1916" cy="1515" r="4.6"/></g>
<path stroke="#00F" stroke-width="4.5" stroke-opacity="0.1" d="M1937.05 1256v2M1937.05 1259v3M1937.05 1284v2M1937.05 1287v2M1937.05 1290v2M1937.05 1293v4M1937.05 1301v3M1937.05 1306v5M1937.05 1313v4M1937.05 1318v3M1937.05 1351v3M1937.05 1368v4M1937.05 1409v3M1937.05 1414v4M1937.05 1471v3"/><path stroke="#00F" stroke-width="4.5" stroke-opacity="0.2" d="M1937.05 1258v1M1937.05 1276v3M1937.05 1286v1M1937.05 1292v1M1937.05 1297v4M1937.05 1304v2"/>
</g>
<path stroke="#00F" stroke-width="10" stroke-opacity="0.05" d="M1881 1237.3h1"/><path stroke="#00F" stroke-width="10" stroke-opacity="0.1" d="M1876 1237.3h1"/><path stroke="#00F" stroke-width="10" stroke-opacity="0.15" d="M1873 1237.3h1M1896 1237.3h1M1904 1237.3h1"/><path stroke="#00F" stroke-width="10" stroke-opacity="0.2" d="M1874 1237.3h2M1901 1237.3h1M1920 1237.3h1M1933 1237.3h1"/><path stroke="#00F" stroke-width="10" stroke-opacity="0.25" d="M1878 1237.3h3M1900 1237.3h1M1905 1237.3h2M1910 1237.3h4M1919 1237.3h1M1936 1237.3h1"/><path stroke="#00F" stroke-width="10" stroke-opacity="0.3" d="M1897 1237.3h2M1907 1237.3h3M1914 1237.3h1M1917 1237.3h2M1934 1237.3h2"/><path stroke="#00F" stroke-width="10" stroke-opacity="0.35" d="M1899 1237.3h1M1915 1237.3h2"/>
<line x1="1872.1" x2="1939.3" y1="1517.3" y2="1517.3" stroke="#000" stroke-width="3.3"/>
<rect x="1955.83" y="1180.7" width="67.2" height="51.1" fill="#EEEEEE"/>
<text x="1987.83" y="1214.95" font-size="24" font-weight="bold" text-anchor="middle">22</text>
<line x1="1955.83" x2="2023.03" y1="1261" y2="1261" stroke="#E4E4E4" stroke-width="2.4"/>
<line x1="1955.83" x2="2023.03" y1="1330.73" y2="1330.73" stroke="#E4E4E4" stroke-width="2.4"/>
<line x1="1955.83" x2="2023.03" y1="1400.47" y2="1400.47" stroke="#E4E4E4" stroke-width="2.4"/>
<line x1="1955.83" x2="2023.03" y1="1470.2" y2="1470.2" stroke="#E4E4E4" stroke-width="2.4"/>
<clipPath id="cb21"><rect x="1955.83" y="1231.8" width="67.2" height="285.5"/></clipPath><g clip-path="url(#cb21)">
<g class="pt" fill="url(#pg)"><circle cx="1978" cy="1265" r="4.6"/><circle cx="2019" cy="1269" r="4.6"/><circle cx="1984" cy="1280" r="4.6"/><circle cx="1999" cy="1276" r="4.6"/><circle cx="2006" cy="1285" r="4.6"/><circle cx="1961" cy="1293" r="4.6"/><circle cx="1986" cy="1296" r="4.6"/><circle cx="2002" cy="1293" r="4.6"/><circle cx="1989" cy="1306" r="4.6"/><circle cx="1990" cy="1309" r="4.6"/><circle cx="1988" cy="1308" r="4.6"/><circle cx="1986" cy="1338" r="4.6"/><circle cx="1986" cy="1387" r="4.6"/><circle cx="1986" cy="1395" r="4.6"/><circle cx="1986" cy="1405" r="4.6"/><circle cx="2000" cy="1407" r="4.6"/><circle cx="2002" cy="1413" r="4.6"/><circle cx="1983" cy="1426" r="4.6"/><circle cx="1986" cy="1445" r="4.6"/><circle cx="1999" cy="1450" r="4.6"/><circle cx="1988" cy="1467" r="4.6"/><circle cx="1990" cy="1473" r="4.6"/><circle cx="1986" cy="1494" r="4.6"/><circle cx="1959" cy="1515" r="4.6"/><circle cx="2006" cy="1515" r="4.6"/><circle cx="1985" cy="1372" r="4.6"/><circle cx="1986" cy="1391" r="4.6"/><circle cx="1987" cy="1399" r="4.6"/><circle cx="1988" cy="1381" r="4.6"/><circle cx="1985" cy="1383" r="4.6"/><circle cx="1985" cy="1404" r="4.6"/><circle cx="1988" cy="1359" r="4.6"/><circle cx="1985" cy="1385" r="4.6"/><circle cx="1987" cy="1404" r="4.6"/><circle cx="1987" cy="1346" r="4.6"/><circle cx="1987" cy="1342" r="4.6"/><circle cx="1988" cy="1389" r="4.6"/><circle cx="1987" cy="1397" r="4.6"/><circle cx="1987" cy="1401" r="4.6"/></g>
<g class="pt" fill="url(#pr)"><circle cx="1977" cy="1467" r="4.6"/><circle cx="1977" cy="1482" r="4.6"/><circle cx="1977" cy="1486" r="4.6"/><circle cx="1977" cy="1489" r="4.6"/><circle cx="1977" cy="1505" r="4.6"/><circle cx="1977" cy="1515" r="4.6"/></g>
<path stroke="#00F" stroke-width="4.5" stroke-opacity="0.1" d="M2020.78 1264v6M2020.78 1274v8M2020.78 1283v3M2020.78 1291v1M2020.78 1295v2M2020.78 1304v2M2020.78 1309v2M2020.78 1336v8M2020.78 1345v3M2020.78 1357v3M2020.78 1371v3M2020.78 1379v2M2020.78 1384v4M2020.78 1391v4M2020.78 1396v4M2020.78 1401v1M2020.78 1407v1M2020.78 1411v4M2020.78 1424v3M2020.78 1443v4M2020.78 1448v3M2020.78 1465v1M2020.78 1468v1M2020.78 1471v3M2020.78 1480v3M2020.78 1485v6M2020.78 1493v3M2020.78 1503v3"/><path stroke="#00F" stroke-width="4.5" stroke-opacity="0.2" d="M2020.78 1292v3M2020.78 1306v3M2020.78 1381v3M2020.78 1388v3M2020.78 1395v1M2020.78 1400v1M2020.78 1402v5M2020.78 1466v2"/>
</g>
<path stroke="#00F" stroke-width="10" stroke-opacity="0.05" d="M1979 1237.3h1M2003 1237.3h1"/><path stroke="#00F" stroke-width="10" stroke-opacity="0.1" d="M1957 1237.3h1M1962 1237.3h1M1981 1237.3h1M2017 1237.3h1"/><path stroke="#00F" stroke-width="10" stroke-opacity="0.15" d="M1997 1237.3h1M2007 1237.3h1M2020 1237.3h1"/><path stroke="#00F" stroke-width="10" stroke-opacity="0.2" d="M1958 1237.3h2M1961 1237.3h1M1982 1237.3h1M1991 1237.3h1M2004 1237.3h1M2018 1237.3h2"/><path stroke="#00F" stroke-width="10" stroke-opacity="0.25" d="M1960 1237.3h1M1975 1237.3h1M1990 1237.3h1M1998 1237.3h1M2001 1237.3h2M2005 1237.3h2"/><path stroke="#00F" stroke-width="10" stroke-opacity="0.3" d="M1983 1237.3h1M1999 1237.3h1"/><path stroke="#00F" stroke-width="10" stroke-opacity="0.35" d="M1978 1237.3h1M1989 1237.3h1M2000 1237.3h1"/><path stroke="#00F" stroke-width="10" stroke-opacity="0.4" d="M1976 1237.3h2"/><path stroke="#00F" stroke-width="10" stroke-opacity="0.45" d="M1984 1237.3h1M1988 1237.3h1"/><path stroke="#00F" stroke-width="10" stroke-opacity="0.55" d="M1985 1237.3h1M1987 1237.3h1"/><path stroke="#00F" stroke-width="10" stroke-opacity="0.6" d="M1986 1237.3h1"/>
<line x1="1955.83" x2="2023.03" y1="1517.3" y2="1517.3" stroke="#000" stroke-width="3.3"/>
<rect x="2039.56" y="1180.7" width="67.2" height="51.1" fill="#EEEEEE"/>
<text x="2071.56" y="1214.95" font-size="24" font-weight="bold" text-anchor="middle">X</text>
<line x1="2039.56" x2="2106.76" y1="1261" y2="1261" stroke="#E4E4E4" stroke-width="2.4"/>
<line x1="2039.56" x2="2106.76" y1="1330.73" y2="1330.73" stroke="#E4E4E4" stroke-width="2.4"/>
<line x1="2039.56" x2="2106.76" y1="1400.47" y2="1400.47" stroke="#E4E4E4" stroke-width="2.4"/>
<line x1="2039.56" x2="2106.76" y1="1470.2" y2="1470.2" stroke="#E4E4E4" stroke-width="2.4"/>
<clipPath id="cb22"><rect x="2039.56" y="1231.8" width="67.2" height="285.5"/></clipPath><g clip-path="url(#cb22)">
<g class="pt" fill="url(#pg)"><circle cx="2103" cy="1254" r="4.6"/><circle cx="2045" cy="1260" r="4.6"/><circle cx="2064" cy="1257" r="4.6"/><circle cx="2069" cy="1262" r="4.6"/><circle cx="2043" cy="1298" r="4.6"/><circle cx="2052" cy="1306" r="4.6"/><circle cx="2077" cy="1297" r="4.6"/><circle cx="2092" cy="1292" r="4.6"/><circle cx="2092" cy="1305" r="4.6"/><circle cx="2091" cy="1317" r="4.6"/><circle cx="2091" cy="1328" r="4.6"/><circle cx="2090" cy="1340" r="4.6"/><circle cx="2092" cy="1343" r="4.6"/><circle cx="2092" cy="1349" r="4.6"/><circle cx="2103" cy="1300" r="4.6"/><circle cx="2093" cy="1396" r="4.6"/><circle cx="2092" cy="1405" r="4.6"/><circle cx="2093" cy="1410" r="4.6"/><circle cx="2052" cy="1421" r="4.6"/><circle cx="2064" cy="1419" r="4.6"/><circle cx="2091" cy="1440" r="4.6"/><circle cx="2091" cy="1450" r="4.6"/><circle cx="2072" cy="1450" r="4.6"/><circle cx="2072" cy="1454" r="4.6"/><circle cx="2091" cy="1458" r="4.6"/><circle cx="2054" cy="1456" r="4.6"/><circle cx="2072" cy="1462" r="4.6"/><circle cx="2083" cy="1464" r="4.6"/><circle cx="2090" cy="1467" r="4.6"/><circle cx="2059" cy="1468" r="4.6"/><circle cx="2089" cy="1475" r="4.6"/><circle cx="2072" cy="1478" r="4.6"/><circle cx="2078" cy="1494" r="4.6"/><circle cx="2042" cy="1515" r="4.6"/><circle cx="2091" cy="1515" r="4.6"/><circle cx="2079" cy="1271" r="4.6"/><circle cx="2065" cy="1267" r="4.6"/><circle cx="2045" cy="1262" r="4.6"/><circle cx="2088" cy="1264" r="4.6"/><circle cx="2080" cy="1278" r="4.6"/><circle cx="2083" cy="1271" r="4.6"/><circle cx="2061" cy="1265" r="4.6"/><circle cx="2054" cy="1275" r="4.6"/><circle cx="2082" cy="1282" r="4.6"/><circle cx="2062" cy="1282" r="4.6"/><circle cx="2095" cy="1266" r="4.6"/><circle cx="2097" cy="1274" r="4.6"/><circle cx="2098" cy="1278" r="4.6"/><circle cx="2062" cy="1265" r="4.6"/><circle cx="2073" cy="1271" r="4.6"/><circle cx="2046" cy="1280" r="4.6"/><circle cx="2074" cy="1270" r="4.6"/><circle cx="2085" cy="1265" r="4.6"/><circle cx="2055" cy="1273" r="4.6"/><circle cx="2057" cy="1267" r="4.6"/><circle cx="2048" cy="1260" r="4.6"/><circle cx="2064" cy="1272" r="4.6"/><circle cx="2097" cy="1275" r="4.6"/><circle cx="2067" cy="1269" r="4.6"/><circle cx="2057" cy="1270" r="4.6"/><circle cx="2097" cy="1261" r="4.6"/><circle cx="2068" cy="1276" r="4.6"/><circle cx="2086" cy="1272" r="4.6"/><circle cx="2080" cy="1282" r="4.6"/><circle cx="2094" cy="1265" r="4.6"/></g>
<path stroke="#00F" stroke-width="4.5" stroke-opacity="0.1" d="M2104.51 1252v3M2104.51 1256v2M2104.51 1290v3M2104.51 1295v2M2104.51 1300v1M2104.51 1303v1M2104.51 1306v2M2104.51 1316v3M2104.51 1327v3M2104.51 1338v6M2104.51 1347v4M2104.51 1395v3M2104.51 1403v4M2104.51 1408v3M2104.51 1417v2M2104.51 1420v3M2104.51 1438v4M2104.51 1448v1M2104.51 1451v1M2104.51 1453v1M2104.51 1458v1M2104.51 1460v2M2104.51 1463v3M2104.51 1469v1M2104.51 1473v3M2104.51 1477v2M2104.51 1493v3"/><path stroke="#00F" stroke-width="4.5" stroke-opacity="0.2" d="M2104.51 1258v6M2104.51 1267v2M2104.51 1275v9M2104.51 1297v3M2104.51 1304v2M2104.51 1419v1M2104.51 1449v2M2104.51 1454v4M2104.51 1462v1M2104.51 1466v3M2104.51 1476v1"/><path stroke="#00F" stroke-width="4.5" stroke-opacity="0.3" d="M2104.51 1264v3M2104.51 1269v6"/>
</g>
<path stroke="#00F" stroke-width="10" stroke-opacity="0.1" d="M2040 1237.3h1M2049 1237.3h1M2075 1237.3h1"/><path stroke="#00F" stroke-width="10" stroke-opacity="0.15" d="M2104 1237.3h1"/><path stroke="#00F" stroke-width="10" stroke-opacity="0.2" d="M2041 1237.3h1M2047 1237.3h2M2050 1237.3h1M2059 1237.3h1M2069 1237.3h1M2074 1237.3h1M2076 1237.3h1M2084 1237.3h1M2101 1237.3h1"/><path stroke="#00F" stroke-width="10" stroke-opacity="0.25" d="M2042 1237.3h2M2051 1237.3h1M2056 1237.3h3M2060 1237.3h1M2065 1237.3h4M2077 1237.3h1M2085 1237.3h3M2098 1237.3h1M2102 1237.3h2"/><path stroke="#00F" stroke-width="10" stroke-opacity="0.3" d="M2044 1237.3h3M2052 1237.3h4M2061 1237.3h1M2073 1237.3h1M2079 1237.3h5M2088 1237.3h1M2094 1237.3h2"/><path stroke="#00F" stroke-width="10" stroke-opacity="0.35" d="M2062 1237.3h3M2070 1237.3h2M2078 1237.3h1M2096 1237.3h2"/><path stroke="#00F" stroke-width="10" stroke-opacity="0.4" d="M2072 1237.3h1M2093 1237.3h1"/><path stroke="#00F" stroke-width="10" stroke-opacity="0.45" d="M2089 1237.3h1M2092 1237.3h1"/><path stroke="#00F" stroke-width="10" stroke-opacity="0.5" d="M2090 1237.3h2"/>
<line x1="2039.56" x2="2106.76" y1="1517.3" y2="1517.3" stroke="#000" stroke-width="3.3"/>
<line x1="197.5" x2="197.5" y1="1231.8" y2="1518.9" stroke="#000" stroke-width="3"/>
<line x1="189.6" x2="197.5" y1="1261" y2="1261" stroke="#000" stroke-width="3"/>
<text x="183.1" y="1269.6" font-size="24.3" text-anchor="end" textLength="72" lengthAdjust="spacingAndGlyphs">1e+07</text>
<line x1="189.6" x2="197.5" y1="1330.73" y2="1330.73" stroke="#000" stroke-width="3"/>
<text x="183.1" y="1339.33" font-size="24.3" text-anchor="end" textLength="72" lengthAdjust="spacingAndGlyphs">1e+05</text>
<line x1="189.6" x2="197.5" y1="1400.47" y2="1400.47" stroke="#000" stroke-width="3"/>
<text x="183.1" y="1409.07" font-size="24.3" text-anchor="end" textLength="72" lengthAdjust="spacingAndGlyphs">1e+03</text>
<line x1="189.6" x2="197.5" y1="1470.2" y2="1470.2" stroke="#000" stroke-width="3"/>
<text x="183.1" y="1478.8" font-size="24.3" text-anchor="end" textLength="72" lengthAdjust="spacingAndGlyphs">1e+01</text>
<text transform="translate(53.9,1394.8) rotate(-90)" font-size="29.6" font-weight="bold" text-anchor="middle">Inter-breakpoint</text>
<text transform="translate(84,1384.5) rotate(-90)" font-size="29.6" font-weight="bold" text-anchor="middle">distance</text>
<rect x="216.6" y="1245" width="191.4" height="127.6" fill="#FFFFFF"/>
<text x="236" y="1287" font-size="29.5" font-style="italic">Breakpoint</text>
<circle cx="245.5" cy="1320.4" r="4.6" fill="url(#pg)"/>
<circle cx="245.5" cy="1345.5" r="4.6" fill="url(#pr)"/>
<text x="274" y="1328.5" font-size="25.4">other</text>
<text x="274" y="1354.3" font-size="25.4">kataegis</text>
<text x="25" y="1605.5" font-size="52" font-weight="bold" transform="matrix(1.14,0,0,1.215,-3.18,-346.4)">c</text>
<rect x="192" y="1574.5" width="67.3" height="49.8" fill="#EEEEEE"/>
<text x="224.05" y="1608.1" font-size="24" font-weight="bold" text-anchor="middle">1</text>
<line x1="192" x2="259.3" y1="1651.3" y2="1651.3" stroke="#E4E4E4" stroke-width="2.4"/>
<line x1="192" x2="259.3" y1="1710.97" y2="1710.97" stroke="#E4E4E4" stroke-width="2.4"/>
<line x1="192" x2="259.3" y1="1770.63" y2="1770.63" stroke="#E4E4E4" stroke-width="2.4"/>
<line x1="192" x2="259.3" y1="1830.3" y2="1830.3" stroke="#E4E4E4" stroke-width="2.4"/>
<clipPath id="cc0"><rect x="192" y="1624.3" width="67.3" height="247"/></clipPath><g clip-path="url(#cc0)">
<g class="pt" fill="url(#pg)"><circle cx="253" cy="1720" r="4.6"/><circle cx="255" cy="1723" r="4.6"/><circle cx="197" cy="1737" r="4.6"/><circle cx="200" cy="1747" r="4.6"/><circle cx="200" cy="1752" r="4.6"/><circle cx="215" cy="1748" r="4.6"/><circle cx="223" cy="1743" r="4.6"/><circle cx="232" cy="1740" r="4.6"/><circle cx="235" cy="1743" r="4.6"/><circle cx="252" cy="1742" r="4.6"/><circle cx="217" cy="1762" r="4.6"/><circle cx="243" cy="1768" r="4.6"/><circle cx="240" cy="1777" r="4.6"/><circle cx="252" cy="1775" r="4.6"/><circle cx="232" cy="1787" r="4.6"/><circle cx="233" cy="1793" r="4.6"/><circle cx="230" cy="1800" r="4.6"/><circle cx="246" cy="1793" r="4.6"/><circle cx="253" cy="1800" r="4.6"/><circle cx="200" cy="1797" r="4.6"/><circle cx="200" cy="1803" r="4.6"/><circle cx="217" cy="1812" r="4.6"/><circle cx="200" cy="1814" r="4.6"/><circle cx="223" cy="1821" r="4.6"/><circle cx="232" cy="1820" r="4.6"/><circle cx="235" cy="1822" r="4.6"/><circle cx="249" cy="1818" r="4.6"/><circle cx="254" cy="1812" r="4.6"/><circle cx="200" cy="1825" r="4.6"/><circle cx="200" cy="1835" r="4.6"/><circle cx="217" cy="1833" r="4.6"/><circle cx="217" cy="1840" r="4.6"/><circle cx="217" cy="1846" r="4.6"/><circle cx="253" cy="1838" r="4.6"/><circle cx="255" cy="1852" r="4.6"/><circle cx="248" cy="1860" r="4.6"/><circle cx="197" cy="1869" r="4.6"/><circle cx="207" cy="1869" r="4.6"/><circle cx="215" cy="1869" r="4.6"/><circle cx="232" cy="1869" r="4.6"/><circle cx="243" cy="1869" r="4.6"/><circle cx="216" cy="1648" r="4.6"/><circle cx="196" cy="1673" r="4.6"/><circle cx="199" cy="1647" r="4.6"/><circle cx="209" cy="1654" r="4.6"/><circle cx="214" cy="1650" r="4.6"/><circle cx="216" cy="1653" r="4.6"/><circle cx="208" cy="1671" r="4.6"/><circle cx="210" cy="1671" r="4.6"/><circle cx="210" cy="1645" r="4.6"/><circle cx="214" cy="1661" r="4.6"/><circle cx="202" cy="1649" r="4.6"/><circle cx="213" cy="1661" r="4.6"/><circle cx="215" cy="1667" r="4.6"/><circle cx="216" cy="1660" r="4.6"/><circle cx="210" cy="1662" r="4.6"/><circle cx="201" cy="1672" r="4.6"/><circle cx="202" cy="1667" r="4.6"/><circle cx="216" cy="1663" r="4.6"/><circle cx="198" cy="1668" r="4.6"/><circle cx="209" cy="1649" r="4.6"/><circle cx="196" cy="1659" r="4.6"/><circle cx="196" cy="1671" r="4.6"/><circle cx="206" cy="1659" r="4.6"/><circle cx="204" cy="1663" r="4.6"/><circle cx="215" cy="1653" r="4.6"/><circle cx="203" cy="1661" r="4.6"/><circle cx="201" cy="1661" r="4.6"/><circle cx="207" cy="1656" r="4.6"/><circle cx="210" cy="1659" r="4.6"/><circle cx="197" cy="1673" r="4.6"/><circle cx="203" cy="1656" r="4.6"/><circle cx="204" cy="1671" r="4.6"/><circle cx="216" cy="1659" r="4.6"/><circle cx="204" cy="1646" r="4.6"/><circle cx="214" cy="1648" r="4.6"/><circle cx="231" cy="1638" r="4.6"/><circle cx="227" cy="1639" r="4.6"/><circle cx="224" cy="1635" r="4.6"/><circle cx="231" cy="1643" r="4.6"/><circle cx="247" cy="1653" r="4.6"/><circle cx="248" cy="1645" r="4.6"/><circle cx="240" cy="1689" r="4.6"/><circle cx="254" cy="1668" r="4.6"/><circle cx="252" cy="1670" r="4.6"/><circle cx="243" cy="1675" r="4.6"/><circle cx="256" cy="1684" r="4.6"/><circle cx="242" cy="1683" r="4.6"/><circle cx="247" cy="1662" r="4.6"/><circle cx="251" cy="1688" r="4.6"/><circle cx="246" cy="1695" r="4.6"/><circle cx="229" cy="1670" r="4.6"/><circle cx="246" cy="1661" r="4.6"/><circle cx="233" cy="1681" r="4.6"/><circle cx="241" cy="1657" r="4.6"/><circle cx="230" cy="1696" r="4.6"/><circle cx="238" cy="1648" r="4.6"/><circle cx="234" cy="1656" r="4.6"/><circle cx="253" cy="1652" r="4.6"/><circle cx="236" cy="1647" r="4.6"/><circle cx="242" cy="1653" r="4.6"/><circle cx="238" cy="1683" r="4.6"/><circle cx="255" cy="1689" r="4.6"/><circle cx="229" cy="1663" r="4.6"/><circle cx="252" cy="1644" r="4.6"/><circle cx="234" cy="1669" r="4.6"/><circle cx="239" cy="1684" r="4.6"/><circle cx="249" cy="1668" r="4.6"/><circle cx="235" cy="1655" r="4.6"/><circle cx="236" cy="1645" r="4.6"/><circle cx="247" cy="1651" r="4.6"/><circle cx="254" cy="1678" r="4.6"/><circle cx="230" cy="1670" r="4.6"/><circle cx="245" cy="1644" r="4.6"/><circle cx="242" cy="1643" r="4.6"/><circle cx="250" cy="1642" r="4.6"/><circle cx="246" cy="1698" r="4.6"/><circle cx="252" cy="1655" r="4.6"/><circle cx="243" cy="1650" r="4.6"/><circle cx="238" cy="1691" r="4.6"/><circle cx="252" cy="1642" r="4.6"/><circle cx="239" cy="1678" r="4.6"/><circle cx="233" cy="1687" r="4.6"/><circle cx="254" cy="1673" r="4.6"/><circle cx="239" cy="1690" r="4.6"/><circle cx="208" cy="1680" r="4.6"/><circle cx="202" cy="1679" r="4.6"/><circle cx="216" cy="1692" r="4.6"/><circle cx="212" cy="1703" r="4.6"/><circle cx="219" cy="1680" r="4.6"/><circle cx="205" cy="1705" r="4.6"/><circle cx="214" cy="1688" r="4.6"/><circle cx="211" cy="1680" r="4.6"/><circle cx="199" cy="1675" r="4.6"/><circle cx="204" cy="1682" r="4.6"/><circle cx="208" cy="1709" r="4.6"/><circle cx="199" cy="1694" r="4.6"/><circle cx="217" cy="1695" r="4.6"/><circle cx="208" cy="1701" r="4.6"/><circle cx="196" cy="1708" r="4.6"/><circle cx="212" cy="1703" r="4.6"/><circle cx="216" cy="1677" r="4.6"/><circle cx="197" cy="1680" r="4.6"/><circle cx="208" cy="1708" r="4.6"/><circle cx="218" cy="1688" r="4.6"/><circle cx="211" cy="1700" r="4.6"/><circle cx="203" cy="1709" r="4.6"/><circle cx="219" cy="1700" r="4.6"/><circle cx="218" cy="1703" r="4.6"/><circle cx="211" cy="1685" r="4.6"/><circle cx="231" cy="1706" r="4.6"/><circle cx="229" cy="1722" r="4.6"/><circle cx="231" cy="1701" r="4.6"/><circle cx="231" cy="1702" r="4.6"/><circle cx="232" cy="1708" r="4.6"/><circle cx="230" cy="1711" r="4.6"/><circle cx="208" cy="1781" r="4.6"/><circle cx="218" cy="1781" r="4.6"/><circle cx="211" cy="1786" r="4.6"/><circle cx="222" cy="1781" r="4.6"/><circle cx="198" cy="1786" r="4.6"/><circle cx="210" cy="1780" r="4.6"/><circle cx="200" cy="1780" r="4.6"/><circle cx="205" cy="1779" r="4.6"/></g>
<g class="pt" fill="url(#pr)"><circle cx="254" cy="1784" r="4.6"/><circle cx="254" cy="1786" r="4.6"/><circle cx="254" cy="1845" r="4.6"/><circle cx="253" cy="1870" r="4.6"/></g>
<path stroke="#00F" stroke-width="4.5" stroke-opacity="0.1" d="M257.05 1634v3M257.05 1640v1M257.05 1664v1M257.05 1698v1M257.05 1711v2M257.05 1718v2M257.05 1723v2M257.05 1735v7M257.05 1745v2M257.05 1748v5M257.05 1761v3M257.05 1767v3M257.05 1773v2M257.05 1777v2M257.05 1783v1M257.05 1795v4M257.05 1801v4M257.05 1813v6M257.05 1822v5M257.05 1832v1M257.05 1835v3M257.05 1840v2M257.05 1843v1M257.05 1847v1M257.05 1850v3M257.05 1858v4"/><path stroke="#00F" stroke-width="4.5" stroke-opacity="0.2" d="M257.05 1637v3M257.05 1641v1M257.05 1663v1M257.05 1665v2M257.05 1674v4M257.05 1685v2M257.05 1690v8M257.05 1699v1M257.05 1704v3M257.05 1709v2M257.05 1720v3M257.05 1742v3M257.05 1747v1M257.05 1775v2M257.05 1779v1M257.05 1782v1M257.05 1784v1M257.05 1787v1M257.05 1792v3M257.05 1799v2M257.05 1810v3M257.05 1819v3M257.05 1833v2M257.05 1838v2M257.05 1844v3"/><path stroke="#00F" stroke-width="4.5" stroke-opacity="0.3" d="M257.05 1642v18M257.05 1662v1M257.05 1667v7M257.05 1678v7M257.05 1687v3M257.05 1700v4M257.05 1707v2M257.05 1780v2M257.05 1785v2"/><path stroke="#00F" stroke-width="4.5" stroke-opacity="0.4" d="M257.05 1660v2"/>
</g>
<path stroke="#00F" stroke-width="8.5" stroke-opacity="0.15" d="M257 1629.05h1"/><path stroke="#00F" stroke-width="8.5" stroke-opacity="0.2" d="M220 1629.05h2M225 1629.05h2"/><path stroke="#00F" stroke-width="8.5" stroke-opacity="0.25" d="M227 1629.05h1M256 1629.05h1"/><path stroke="#00F" stroke-width="8.5" stroke-opacity="0.3" d="M194 1629.05h1M219 1629.05h1M222 1629.05h3"/><path stroke="#00F" stroke-width="8.5" stroke-opacity="0.35" d="M236 1629.05h1M243 1629.05h1M248 1629.05h3"/><path stroke="#00F" stroke-width="8.5" stroke-opacity="0.4" d="M195 1629.05h1M205 1629.05h1M212 1629.05h1M218 1629.05h1M228 1629.05h1M233 1629.05h1M235 1629.05h1M237 1629.05h2M240 1629.05h3M244 1629.05h2"/><path stroke="#00F" stroke-width="8.5" stroke-opacity="0.45" d="M196 1629.05h3M202 1629.05h3M206 1629.05h2M211 1629.05h1M213 1629.05h1M232 1629.05h1M234 1629.05h1M239 1629.05h1M246 1629.05h2M251 1629.05h1M255 1629.05h1"/><path stroke="#00F" stroke-width="8.5" stroke-opacity="0.5" d="M199 1629.05h3M208 1629.05h3M217 1629.05h1M229 1629.05h1M231 1629.05h1M254 1629.05h1"/><path stroke="#00F" stroke-width="8.5" stroke-opacity="0.55" d="M214 1629.05h1M216 1629.05h1M230 1629.05h1M252 1629.05h1"/><path stroke="#00F" stroke-width="8.5" stroke-opacity="0.6" d="M215 1629.05h1M253 1629.05h1"/>
<line x1="190.5" x2="259.3" y1="1871.3" y2="1871.3" stroke="#000" stroke-width="3.3"/>
<rect x="275.95" y="1574.5" width="67.3" height="49.8" fill="#EEEEEE"/>
<text x="308" y="1608.1" font-size="24" font-weight="bold" text-anchor="middle">2</text>
<line x1="275.95" x2="343.25" y1="1651.3" y2="1651.3" stroke="#E4E4E4" stroke-width="2.4"/>
<line x1="275.95" x2="343.25" y1="1710.97" y2="1710.97" stroke="#E4E4E4" stroke-width="2.4"/>
<line x1="275.95" x2="343.25" y1="1770.63" y2="1770.63" stroke="#E4E4E4" stroke-width="2.4"/>
<line x1="275.95" x2="343.25" y1="1830.3" y2="1830.3" stroke="#E4E4E4" stroke-width="2.4"/>
<clipPath id="cc1"><rect x="275.95" y="1624.3" width="67.3" height="247"/></clipPath><g clip-path="url(#cc1)">
<g class="pt" fill="url(#pg)"><circle cx="318" cy="1644" r="4.6"/><circle cx="283" cy="1650" r="4.6"/><circle cx="304" cy="1650" r="4.6"/><circle cx="280" cy="1869" r="4.6"/><circle cx="290" cy="1869" r="4.6"/><circle cx="307" cy="1869" r="4.6"/><circle cx="323" cy="1869" r="4.6"/><circle cx="335" cy="1869" r="4.6"/><circle cx="280" cy="1710" r="4.6"/><circle cx="329" cy="1654" r="4.6"/><circle cx="307" cy="1697" r="4.6"/><circle cx="309" cy="1651" r="4.6"/><circle cx="298" cy="1671" r="4.6"/><circle cx="335" cy="1684" r="4.6"/><circle cx="306" cy="1687" r="4.6"/><circle cx="280" cy="1690" r="4.6"/><circle cx="328" cy="1689" r="4.6"/><circle cx="300" cy="1665" r="4.6"/><circle cx="277" cy="1652" r="4.6"/><circle cx="286" cy="1675" r="4.6"/><circle cx="326" cy="1660" r="4.6"/><circle cx="307" cy="1687" r="4.6"/><circle cx="317" cy="1648" r="4.6"/><circle cx="335" cy="1684" r="4.6"/><circle cx="296" cy="1662" r="4.6"/><circle cx="320" cy="1706" r="4.6"/><circle cx="298" cy="1672" r="4.6"/><circle cx="312" cy="1658" r="4.6"/><circle cx="302" cy="1705" r="4.6"/><circle cx="312" cy="1699" r="4.6"/><circle cx="293" cy="1702" r="4.6"/><circle cx="326" cy="1661" r="4.6"/><circle cx="310" cy="1690" r="4.6"/><circle cx="313" cy="1685" r="4.6"/><circle cx="292" cy="1682" r="4.6"/><circle cx="299" cy="1697" r="4.6"/><circle cx="300" cy="1709" r="4.6"/><circle cx="313" cy="1661" r="4.6"/><circle cx="303" cy="1655" r="4.6"/><circle cx="323" cy="1650" r="4.6"/><circle cx="315" cy="1666" r="4.6"/><circle cx="326" cy="1655" r="4.6"/><circle cx="320" cy="1692" r="4.6"/><circle cx="291" cy="1655" r="4.6"/><circle cx="300" cy="1688" r="4.6"/><circle cx="293" cy="1647" r="4.6"/><circle cx="305" cy="1698" r="4.6"/><circle cx="287" cy="1706" r="4.6"/><circle cx="309" cy="1657" r="4.6"/><circle cx="283" cy="1670" r="4.6"/><circle cx="307" cy="1658" r="4.6"/><circle cx="282" cy="1678" r="4.6"/><circle cx="293" cy="1675" r="4.6"/><circle cx="305" cy="1691" r="4.6"/><circle cx="313" cy="1661" r="4.6"/><circle cx="288" cy="1701" r="4.6"/><circle cx="280" cy="1654" r="4.6"/><circle cx="281" cy="1699" r="4.6"/><circle cx="311" cy="1705" r="4.6"/><circle cx="316" cy="1668" r="4.6"/><circle cx="304" cy="1693" r="4.6"/><circle cx="291" cy="1698" r="4.6"/><circle cx="302" cy="1649" r="4.6"/><circle cx="298" cy="1682" r="4.6"/><circle cx="286" cy="1704" r="4.6"/><circle cx="335" cy="1679" r="4.6"/><circle cx="334" cy="1690" r="4.6"/><circle cx="311" cy="1657" r="4.6"/><circle cx="337" cy="1705" r="4.6"/><circle cx="305" cy="1671" r="4.6"/><circle cx="281" cy="1686" r="4.6"/><circle cx="331" cy="1671" r="4.6"/><circle cx="295" cy="1685" r="4.6"/><circle cx="327" cy="1657" r="4.6"/><circle cx="295" cy="1687" r="4.6"/><circle cx="279" cy="1698" r="4.6"/><circle cx="297" cy="1699" r="4.6"/><circle cx="305" cy="1657" r="4.6"/><circle cx="278" cy="1654" r="4.6"/><circle cx="293" cy="1695" r="4.6"/><circle cx="327" cy="1687" r="4.6"/><circle cx="296" cy="1689" r="4.6"/><circle cx="323" cy="1670" r="4.6"/><circle cx="282" cy="1676" r="4.6"/><circle cx="291" cy="1659" r="4.6"/><circle cx="301" cy="1651" r="4.6"/><circle cx="334" cy="1664" r="4.6"/><circle cx="334" cy="1693" r="4.6"/><circle cx="277" cy="1704" r="4.6"/><circle cx="328" cy="1680" r="4.6"/><circle cx="333" cy="1677" r="4.6"/><circle cx="278" cy="1656" r="4.6"/><circle cx="296" cy="1701" r="4.6"/><circle cx="329" cy="1654" r="4.6"/><circle cx="299" cy="1654" r="4.6"/><circle cx="291" cy="1669" r="4.6"/><circle cx="303" cy="1656" r="4.6"/><circle cx="318" cy="1662" r="4.6"/><circle cx="333" cy="1677" r="4.6"/><circle cx="304" cy="1695" r="4.6"/><circle cx="299" cy="1663" r="4.6"/><circle cx="284" cy="1665" r="4.6"/><circle cx="292" cy="1693" r="4.6"/><circle cx="299" cy="1691" r="4.6"/><circle cx="294" cy="1651" r="4.6"/><circle cx="296" cy="1672" r="4.6"/><circle cx="334" cy="1659" r="4.6"/><circle cx="290" cy="1657" r="4.6"/><circle cx="293" cy="1707" r="4.6"/><circle cx="336" cy="1661" r="4.6"/><circle cx="280" cy="1677" r="4.6"/><circle cx="314" cy="1654" r="4.6"/><circle cx="303" cy="1695" r="4.6"/><circle cx="277" cy="1692" r="4.6"/><circle cx="320" cy="1696" r="4.6"/><circle cx="308" cy="1676" r="4.6"/><circle cx="310" cy="1655" r="4.6"/><circle cx="309" cy="1662" r="4.6"/><circle cx="297" cy="1650" r="4.6"/><circle cx="287" cy="1650" r="4.6"/><circle cx="311" cy="1662" r="4.6"/><circle cx="312" cy="1679" r="4.6"/><circle cx="291" cy="1655" r="4.6"/><circle cx="314" cy="1690" r="4.6"/><circle cx="320" cy="1679" r="4.6"/><circle cx="313" cy="1648" r="4.6"/><circle cx="296" cy="1697" r="4.6"/><circle cx="301" cy="1653" r="4.6"/><circle cx="303" cy="1699" r="4.6"/><circle cx="283" cy="1654" r="4.6"/><circle cx="308" cy="1702" r="4.6"/><circle cx="301" cy="1662" r="4.6"/><circle cx="325" cy="1653" r="4.6"/><circle cx="295" cy="1685" r="4.6"/><circle cx="330" cy="1701" r="4.6"/><circle cx="297" cy="1664" r="4.6"/><circle cx="300" cy="1654" r="4.6"/><circle cx="294" cy="1695" r="4.6"/><circle cx="339" cy="1664" r="4.6"/><circle cx="281" cy="1693" r="4.6"/><circle cx="338" cy="1697" r="4.6"/><circle cx="303" cy="1694" r="4.6"/><circle cx="325" cy="1694" r="4.6"/><circle cx="308" cy="1710" r="4.6"/><circle cx="326" cy="1662" r="4.6"/><circle cx="304" cy="1652" r="4.6"/><circle cx="300" cy="1698" r="4.6"/><circle cx="307" cy="1680" r="4.6"/><circle cx="326" cy="1652" r="4.6"/><circle cx="299" cy="1677" r="4.6"/><circle cx="308" cy="1690" r="4.6"/><circle cx="336" cy="1697" r="4.6"/><circle cx="311" cy="1690" r="4.6"/><circle cx="311" cy="1709" r="4.6"/><circle cx="314" cy="1684" r="4.6"/><circle cx="302" cy="1673" r="4.6"/><circle cx="325" cy="1670" r="4.6"/><circle cx="334" cy="1693" r="4.6"/><circle cx="337" cy="1691" r="4.6"/><circle cx="313" cy="1670" r="4.6"/><circle cx="278" cy="1689" r="4.6"/><circle cx="324" cy="1692" r="4.6"/><circle cx="325" cy="1649" r="4.6"/><circle cx="320" cy="1664" r="4.6"/><circle cx="301" cy="1702" r="4.6"/><circle cx="302" cy="1676" r="4.6"/><circle cx="280" cy="1658" r="4.6"/><circle cx="290" cy="1660" r="4.6"/><circle cx="310" cy="1650" r="4.6"/><circle cx="282" cy="1652" r="4.6"/><circle cx="323" cy="1708" r="4.6"/><circle cx="324" cy="1679" r="4.6"/><circle cx="285" cy="1696" r="4.6"/><circle cx="285" cy="1652" r="4.6"/><circle cx="309" cy="1701" r="4.6"/><circle cx="296" cy="1701" r="4.6"/><circle cx="298" cy="1708" r="4.6"/><circle cx="323" cy="1701" r="4.6"/><circle cx="339" cy="1698" r="4.6"/><circle cx="289" cy="1679" r="4.6"/><circle cx="311" cy="1692" r="4.6"/><circle cx="291" cy="1683" r="4.6"/><circle cx="295" cy="1658" r="4.6"/><circle cx="305" cy="1698" r="4.6"/><circle cx="312" cy="1669" r="4.6"/><circle cx="291" cy="1669" r="4.6"/><circle cx="302" cy="1664" r="4.6"/><circle cx="296" cy="1661" r="4.6"/><circle cx="295" cy="1689" r="4.6"/><circle cx="316" cy="1686" r="4.6"/><circle cx="335" cy="1689" r="4.6"/><circle cx="285" cy="1672" r="4.6"/><circle cx="310" cy="1694" r="4.6"/><circle cx="310" cy="1653" r="4.6"/><circle cx="307" cy="1688" r="4.6"/><circle cx="326" cy="1675" r="4.6"/><circle cx="290" cy="1649" r="4.6"/><circle cx="309" cy="1694" r="4.6"/><circle cx="284" cy="1680" r="4.6"/><circle cx="314" cy="1682" r="4.6"/><circle cx="291" cy="1652" r="4.6"/><circle cx="278" cy="1666" r="4.6"/><circle cx="333" cy="1673" r="4.6"/><circle cx="339" cy="1699" r="4.6"/><circle cx="314" cy="1675" r="4.6"/><circle cx="312" cy="1700" r="4.6"/><circle cx="298" cy="1657" r="4.6"/><circle cx="334" cy="1687" r="4.6"/><circle cx="301" cy="1672" r="4.6"/><circle cx="283" cy="1683" r="4.6"/><circle cx="326" cy="1678" r="4.6"/><circle cx="321" cy="1693" r="4.6"/><circle cx="298" cy="1687" r="4.6"/><circle cx="338" cy="1692" r="4.6"/><circle cx="288" cy="1689" r="4.6"/><circle cx="317" cy="1696" r="4.6"/><circle cx="321" cy="1704" r="4.6"/><circle cx="338" cy="1660" r="4.6"/><circle cx="307" cy="1650" r="4.6"/><circle cx="339" cy="1653" r="4.6"/><circle cx="304" cy="1686" r="4.6"/><circle cx="304" cy="1658" r="4.6"/><circle cx="308" cy="1661" r="4.6"/><circle cx="308" cy="1692" r="4.6"/><circle cx="296" cy="1675" r="4.6"/><circle cx="317" cy="1680" r="4.6"/><circle cx="327" cy="1703" r="4.6"/><circle cx="338" cy="1657" r="4.6"/><circle cx="307" cy="1654" r="4.6"/><circle cx="321" cy="1672" r="4.6"/><circle cx="330" cy="1677" r="4.6"/><circle cx="327" cy="1649" r="4.6"/><circle cx="315" cy="1673" r="4.6"/><circle cx="329" cy="1653" r="4.6"/><circle cx="282" cy="1690" r="4.6"/><circle cx="297" cy="1674" r="4.6"/><circle cx="302" cy="1709" r="4.6"/><circle cx="316" cy="1699" r="4.6"/><circle cx="305" cy="1761" r="4.6"/><circle cx="299" cy="1727" r="4.6"/><circle cx="300" cy="1764" r="4.6"/><circle cx="306" cy="1739" r="4.6"/><circle cx="306" cy="1756" r="4.6"/><circle cx="293" cy="1748" r="4.6"/><circle cx="304" cy="1713" r="4.6"/><circle cx="298" cy="1749" r="4.6"/><circle cx="300" cy="1742" r="4.6"/><circle cx="294" cy="1726" r="4.6"/><circle cx="306" cy="1731" r="4.6"/><circle cx="300" cy="1745" r="4.6"/><circle cx="297" cy="1735" r="4.6"/><circle cx="300" cy="1762" r="4.6"/><circle cx="305" cy="1721" r="4.6"/><circle cx="300" cy="1755" r="4.6"/><circle cx="306" cy="1742" r="4.6"/><circle cx="302" cy="1749" r="4.6"/><circle cx="303" cy="1764" r="4.6"/><circle cx="307" cy="1769" r="4.6"/><circle cx="294" cy="1753" r="4.6"/><circle cx="298" cy="1727" r="4.6"/><circle cx="294" cy="1765" r="4.6"/><circle cx="306" cy="1742" r="4.6"/><circle cx="300" cy="1722" r="4.6"/><circle cx="306" cy="1755" r="4.6"/><circle cx="295" cy="1744" r="4.6"/><circle cx="307" cy="1726" r="4.6"/><circle cx="298" cy="1732" r="4.6"/><circle cx="298" cy="1717" r="4.6"/><circle cx="302" cy="1725" r="4.6"/><circle cx="303" cy="1738" r="4.6"/><circle cx="305" cy="1755" r="4.6"/><circle cx="305" cy="1719" r="4.6"/><circle cx="304" cy="1756" r="4.6"/><circle cx="297" cy="1710" r="4.6"/><circle cx="294" cy="1756" r="4.6"/><circle cx="307" cy="1714" r="4.6"/><circle cx="296" cy="1734" r="4.6"/><circle cx="294" cy="1748" r="4.6"/><circle cx="305" cy="1761" r="4.6"/><circle cx="295" cy="1765" r="4.6"/><circle cx="304" cy="1719" r="4.6"/><circle cx="305" cy="1766" r="4.6"/><circle cx="306" cy="1755" r="4.6"/><circle cx="305" cy="1742" r="4.6"/><circle cx="293" cy="1751" r="4.6"/><circle cx="300" cy="1719" r="4.6"/><circle cx="295" cy="1763" r="4.6"/><circle cx="306" cy="1713" r="4.6"/><circle cx="293" cy="1752" r="4.6"/><circle cx="297" cy="1762" r="4.6"/><circle cx="299" cy="1753" r="4.6"/><circle cx="293" cy="1757" r="4.6"/><circle cx="295" cy="1736" r="4.6"/><circle cx="307" cy="1736" r="4.6"/><circle cx="292" cy="1745" r="4.6"/><circle cx="280" cy="1723" r="4.6"/><circle cx="285" cy="1776" r="4.6"/><circle cx="296" cy="1785" r="4.6"/><circle cx="334" cy="1724" r="4.6"/><circle cx="331" cy="1786" r="4.6"/><circle cx="305" cy="1748" r="4.6"/><circle cx="319" cy="1748" r="4.6"/><circle cx="293" cy="1767" r="4.6"/><circle cx="291" cy="1740" r="4.6"/><circle cx="278" cy="1736" r="4.6"/><circle cx="328" cy="1722" r="4.6"/><circle cx="289" cy="1741" r="4.6"/><circle cx="296" cy="1712" r="4.6"/><circle cx="280" cy="1727" r="4.6"/><circle cx="327" cy="1770" r="4.6"/><circle cx="328" cy="1764" r="4.6"/><circle cx="340" cy="1731" r="4.6"/><circle cx="321" cy="1745" r="4.6"/><circle cx="338" cy="1745" r="4.6"/><circle cx="323" cy="1770" r="4.6"/><circle cx="338" cy="1769" r="4.6"/><circle cx="297" cy="1760" r="4.6"/><circle cx="327" cy="1782" r="4.6"/><circle cx="292" cy="1766" r="4.6"/><circle cx="322" cy="1724" r="4.6"/><circle cx="284" cy="1754" r="4.6"/><circle cx="315" cy="1736" r="4.6"/><circle cx="316" cy="1723" r="4.6"/><circle cx="313" cy="1752" r="4.6"/><circle cx="329" cy="1766" r="4.6"/><circle cx="282" cy="1753" r="4.6"/><circle cx="285" cy="1751" r="4.6"/><circle cx="320" cy="1764" r="4.6"/><circle cx="277" cy="1752" r="4.6"/><circle cx="288" cy="1750" r="4.6"/><circle cx="308" cy="1748" r="4.6"/><circle cx="325" cy="1734" r="4.6"/><circle cx="307" cy="1730" r="4.6"/><circle cx="289" cy="1759" r="4.6"/><circle cx="287" cy="1772" r="4.6"/><circle cx="300" cy="1720" r="4.6"/><circle cx="327" cy="1713" r="4.6"/><circle cx="295" cy="1761" r="4.6"/><circle cx="278" cy="1764" r="4.6"/><circle cx="312" cy="1785" r="4.6"/><circle cx="296" cy="1774" r="4.6"/><circle cx="339" cy="1749" r="4.6"/><circle cx="282" cy="1737" r="4.6"/><circle cx="328" cy="1712" r="4.6"/><circle cx="317" cy="1751" r="4.6"/><circle cx="324" cy="1739" r="4.6"/><circle cx="336" cy="1720" r="4.6"/><circle cx="303" cy="1735" r="4.6"/><circle cx="312" cy="1728" r="4.6"/><circle cx="301" cy="1745" r="4.6"/><circle cx="335" cy="1714" r="4.6"/><circle cx="295" cy="1723" r="4.6"/><circle cx="322" cy="1770" r="4.6"/><circle cx="278" cy="1770" r="4.6"/><circle cx="332" cy="1746" r="4.6"/><circle cx="314" cy="1771" r="4.6"/><circle cx="335" cy="1729" r="4.6"/><circle cx="322" cy="1718" r="4.6"/><circle cx="300" cy="1780" r="4.6"/><circle cx="316" cy="1752" r="4.6"/><circle cx="305" cy="1746" r="4.6"/><circle cx="279" cy="1754" r="4.6"/><circle cx="336" cy="1721" r="4.6"/><circle cx="279" cy="1818" r="4.6"/><circle cx="329" cy="1808" r="4.6"/><circle cx="282" cy="1819" r="4.6"/><circle cx="318" cy="1798" r="4.6"/><circle cx="328" cy="1814" r="4.6"/><circle cx="326" cy="1798" r="4.6"/><circle cx="300" cy="1820" r="4.6"/><circle cx="319" cy="1829" r="4.6"/><circle cx="336" cy="1823" r="4.6"/><circle cx="277" cy="1810" r="4.6"/><circle cx="319" cy="1826" r="4.6"/><circle cx="297" cy="1790" r="4.6"/><circle cx="313" cy="1796" r="4.6"/><circle cx="309" cy="1798" r="4.6"/><circle cx="332" cy="1788" r="4.6"/><circle cx="312" cy="1831" r="4.6"/><circle cx="317" cy="1794" r="4.6"/><circle cx="311" cy="1828" r="4.6"/><circle cx="317" cy="1832" r="4.6"/><circle cx="328" cy="1806" r="4.6"/><circle cx="284" cy="1821" r="4.6"/><circle cx="307" cy="1828" r="4.6"/><circle cx="305" cy="1823" r="4.6"/><circle cx="286" cy="1824" r="4.6"/><circle cx="331" cy="1827" r="4.6"/><circle cx="326" cy="1820" r="4.6"/><circle cx="287" cy="1803" r="4.6"/><circle cx="294" cy="1801" r="4.6"/><circle cx="314" cy="1805" r="4.6"/><circle cx="318" cy="1831" r="4.6"/><circle cx="340" cy="1787" r="4.6"/><circle cx="315" cy="1816" r="4.6"/><circle cx="304" cy="1823" r="4.6"/><circle cx="332" cy="1799" r="4.6"/><circle cx="317" cy="1795" r="4.6"/><circle cx="305" cy="1804" r="4.6"/><circle cx="329" cy="1832" r="4.6"/><circle cx="332" cy="1813" r="4.6"/><circle cx="322" cy="1819" r="4.6"/><circle cx="311" cy="1793" r="4.6"/><circle cx="294" cy="1834" r="4.6"/><circle cx="314" cy="1792" r="4.6"/><circle cx="299" cy="1793" r="4.6"/><circle cx="285" cy="1806" r="4.6"/><circle cx="295" cy="1788" r="4.6"/><circle cx="308" cy="1833" r="4.6"/><circle cx="306" cy="1807" r="4.6"/><circle cx="301" cy="1800" r="4.6"/><circle cx="297" cy="1796" r="4.6"/><circle cx="304" cy="1832" r="4.6"/><circle cx="290" cy="1859" r="4.6"/><circle cx="295" cy="1853" r="4.6"/><circle cx="294" cy="1846" r="4.6"/><circle cx="309" cy="1851" r="4.6"/><circle cx="284" cy="1844" r="4.6"/><circle cx="291" cy="1851" r="4.6"/><circle cx="290" cy="1843" r="4.6"/><circle cx="288" cy="1862" r="4.6"/><circle cx="304" cy="1858" r="4.6"/><circle cx="309" cy="1840" r="4.6"/><circle cx="296" cy="1855" r="4.6"/><circle cx="295" cy="1850" r="4.6"/></g>
<g class="pt" fill="url(#pr)"><circle cx="301" cy="1736" r="4.6"/><circle cx="298" cy="1786" r="4.6"/><circle cx="300" cy="1793" r="4.6"/><circle cx="302" cy="1797" r="4.6"/><circle cx="301" cy="1807" r="4.6"/><circle cx="301" cy="1810" r="4.6"/><circle cx="301" cy="1820" r="4.6"/><circle cx="302" cy="1828" r="4.6"/><circle cx="301" cy="1837" r="4.6"/><circle cx="299" cy="1840" r="4.6"/><circle cx="301" cy="1845" r="4.6"/><circle cx="302" cy="1852" r="4.6"/><circle cx="301" cy="1860" r="4.6"/><circle cx="300" cy="1869" r="4.6"/><circle cx="299" cy="1787" r="4.6"/><circle cx="302" cy="1791" r="4.6"/><circle cx="301" cy="1796" r="4.6"/><circle cx="299" cy="1800" r="4.6"/><circle cx="303" cy="1805" r="4.6"/><circle cx="301" cy="1809" r="4.6"/><circle cx="300" cy="1814" r="4.6"/><circle cx="299" cy="1818" r="4.6"/><circle cx="302" cy="1823" r="4.6"/><circle cx="301" cy="1827" r="4.6"/><circle cx="299" cy="1832" r="4.6"/><circle cx="303" cy="1836" r="4.6"/><circle cx="301" cy="1841" r="4.6"/><circle cx="300" cy="1845" r="4.6"/><circle cx="299" cy="1850" r="4.6"/><circle cx="302" cy="1854" r="4.6"/><circle cx="301" cy="1859" r="4.6"/><circle cx="299" cy="1863" r="4.6"/></g>
<path stroke="#00F" stroke-width="4.5" stroke-opacity="0.1" d="M341 1642v4M341 1715v1M341 1758v1M341 1773v1M341 1775v2M341 1778v3M341 1782v2M341 1811v1M341 1815v1M341 1838v1M341 1842v1M341 1847v2M341 1863v2"/><path stroke="#00F" stroke-width="4.5" stroke-opacity="0.2" d="M341 1646v1M341 1666v2M341 1711v1M341 1714v1M341 1716v2M341 1728v6M341 1738v2M341 1743v1M341 1757v1M341 1759v1M341 1767v2M341 1771v2M341 1774v1M341 1781v1M341 1784v1M341 1788v4M341 1800v4M341 1807v4M341 1812v3M341 1816v2M341 1824v2M341 1829v2M341 1833v5M341 1839v3M341 1843v4M341 1849v1M341 1852v4M341 1857v6"/><path stroke="#00F" stroke-width="4.5" stroke-opacity="0.3" d="M341 1647v1M341 1659v1M341 1663v3M341 1668v2M341 1673v2M341 1680v5M341 1695v1M341 1702v9M341 1712v2M341 1718v10M341 1734v4M341 1740v3M341 1744v4M341 1749v3M341 1753v4M341 1760v4M341 1765v2M341 1769v2M341 1785v3M341 1792v8M341 1804v3M341 1818v6M341 1826v3M341 1831v2M341 1850v2"/><path stroke="#00F" stroke-width="4.5" stroke-opacity="0.4" d="M341 1648v5M341 1655v4M341 1660v3M341 1670v3M341 1675v5M341 1685v10M341 1696v6M341 1748v1M341 1752v1M341 1764v1"/><path stroke="#00F" stroke-width="4.5" stroke-opacity="0.5" d="M341 1653v2"/>
</g>
<path stroke="#00F" stroke-width="8.5" stroke-opacity="0.1" d="M275 1629.05h1"/><path stroke="#00F" stroke-width="8.5" stroke-opacity="0.15" d="M341 1629.05h1"/><path stroke="#00F" stroke-width="8.5" stroke-opacity="0.35" d="M340 1629.05h1"/><path stroke="#00F" stroke-width="8.5" stroke-opacity="0.45" d="M276 1629.05h1M330 1629.05h2M339 1629.05h1"/><path stroke="#00F" stroke-width="8.5" stroke-opacity="0.5" d="M277 1629.05h1M286 1629.05h3M318 1629.05h1M321 1629.05h1M323 1629.05h1M329 1629.05h1M332 1629.05h1M337 1629.05h2"/><path stroke="#00F" stroke-width="8.5" stroke-opacity="0.55" d="M279 1629.05h7M289 1629.05h1M314 1629.05h4M319 1629.05h2M322 1629.05h1M324 1629.05h1M328 1629.05h1M333 1629.05h4"/><path stroke="#00F" stroke-width="8.5" stroke-opacity="0.6" d="M278 1629.05h1M290 1629.05h2M309 1629.05h5M325 1629.05h3"/><path stroke="#00F" stroke-width="8.5" stroke-opacity="0.65" d="M292 1629.05h2M307 1629.05h2"/><path stroke="#00F" stroke-width="8.5" stroke-opacity="0.7" d="M294 1629.05h5M302 1629.05h5"/><path stroke="#00F" stroke-width="8.5" stroke-opacity="0.75" d="M299 1629.05h3"/>
<line x1="275.95" x2="343.25" y1="1871.3" y2="1871.3" stroke="#000" stroke-width="3.3"/>
<rect x="359.9" y="1574.5" width="67.3" height="49.8" fill="#EEEEEE"/>
<text x="391.95" y="1608.1" font-size="24" font-weight="bold" text-anchor="middle">3</text>
<line x1="359.9" x2="427.2" y1="1651.3" y2="1651.3" stroke="#E4E4E4" stroke-width="2.4"/>
<line x1="359.9" x2="427.2" y1="1710.97" y2="1710.97" stroke="#E4E4E4" stroke-width="2.4"/>
<line x1="359.9" x2="427.2" y1="1770.63" y2="1770.63" stroke="#E4E4E4" stroke-width="2.4"/>
<line x1="359.9" x2="427.2" y1="1830.3" y2="1830.3" stroke="#E4E4E4" stroke-width="2.4"/>
<clipPath id="cc2"><rect x="359.9" y="1624.3" width="67.3" height="247"/></clipPath><g clip-path="url(#cc2)">
<g class="pt" fill="url(#pg)"><circle cx="363" cy="1699" r="4.6"/><circle cx="379" cy="1702" r="4.6"/><circle cx="397" cy="1711" r="4.6"/><circle cx="368" cy="1719" r="4.6"/><circle cx="389" cy="1723" r="4.6"/><circle cx="378" cy="1727" r="4.6"/><circle cx="397" cy="1738" r="4.6"/><circle cx="365" cy="1782" r="4.6"/><circle cx="370" cy="1784" r="4.6"/><circle cx="380" cy="1782" r="4.6"/><circle cx="365" cy="1793" r="4.6"/><circle cx="367" cy="1797" r="4.6"/><circle cx="372" cy="1798" r="4.6"/><circle cx="386" cy="1798" r="4.6"/><circle cx="386" cy="1812" r="4.6"/><circle cx="396" cy="1812" r="4.6"/><circle cx="402" cy="1788" r="4.6"/><circle cx="407" cy="1803" r="4.6"/><circle cx="413" cy="1803" r="4.6"/><circle cx="368" cy="1827" r="4.6"/><circle cx="413" cy="1820" r="4.6"/><circle cx="414" cy="1832" r="4.6"/><circle cx="423" cy="1830" r="4.6"/><circle cx="369" cy="1842" r="4.6"/><circle cx="364" cy="1846" r="4.6"/><circle cx="422" cy="1851" r="4.6"/><circle cx="401" cy="1860" r="4.6"/><circle cx="413" cy="1860" r="4.6"/><circle cx="363" cy="1869" r="4.6"/><circle cx="373" cy="1869" r="4.6"/><circle cx="400" cy="1869" r="4.6"/><circle cx="413" cy="1869" r="4.6"/><circle cx="420" cy="1869" r="4.6"/><circle cx="383" cy="1670" r="4.6"/><circle cx="368" cy="1644" r="4.6"/><circle cx="371" cy="1643" r="4.6"/><circle cx="372" cy="1643" r="4.6"/><circle cx="365" cy="1671" r="4.6"/><circle cx="368" cy="1674" r="4.6"/><circle cx="376" cy="1679" r="4.6"/><circle cx="380" cy="1681" r="4.6"/><circle cx="376" cy="1661" r="4.6"/><circle cx="393" cy="1672" r="4.6"/><circle cx="376" cy="1681" r="4.6"/><circle cx="386" cy="1671" r="4.6"/><circle cx="363" cy="1682" r="4.6"/><circle cx="365" cy="1642" r="4.6"/><circle cx="373" cy="1650" r="4.6"/><circle cx="370" cy="1664" r="4.6"/><circle cx="378" cy="1672" r="4.6"/><circle cx="391" cy="1673" r="4.6"/><circle cx="391" cy="1661" r="4.6"/><circle cx="367" cy="1674" r="4.6"/><circle cx="395" cy="1649" r="4.6"/><circle cx="382" cy="1659" r="4.6"/><circle cx="394" cy="1643" r="4.6"/><circle cx="378" cy="1658" r="4.6"/><circle cx="374" cy="1675" r="4.6"/><circle cx="362" cy="1654" r="4.6"/><circle cx="394" cy="1662" r="4.6"/><circle cx="362" cy="1669" r="4.6"/><circle cx="384" cy="1683" r="4.6"/><circle cx="391" cy="1684" r="4.6"/><circle cx="370" cy="1656" r="4.6"/><circle cx="385" cy="1657" r="4.6"/><circle cx="374" cy="1643" r="4.6"/><circle cx="368" cy="1648" r="4.6"/><circle cx="374" cy="1673" r="4.6"/><circle cx="368" cy="1655" r="4.6"/><circle cx="364" cy="1660" r="4.6"/><circle cx="381" cy="1669" r="4.6"/><circle cx="383" cy="1666" r="4.6"/><circle cx="385" cy="1678" r="4.6"/><circle cx="421" cy="1653" r="4.6"/><circle cx="424" cy="1685" r="4.6"/><circle cx="426" cy="1704" r="4.6"/><circle cx="409" cy="1656" r="4.6"/><circle cx="397" cy="1705" r="4.6"/><circle cx="394" cy="1657" r="4.6"/><circle cx="417" cy="1694" r="4.6"/><circle cx="416" cy="1658" r="4.6"/><circle cx="425" cy="1703" r="4.6"/><circle cx="394" cy="1691" r="4.6"/><circle cx="404" cy="1669" r="4.6"/><circle cx="414" cy="1719" r="4.6"/><circle cx="394" cy="1707" r="4.6"/><circle cx="424" cy="1659" r="4.6"/><circle cx="423" cy="1654" r="4.6"/><circle cx="404" cy="1655" r="4.6"/><circle cx="399" cy="1665" r="4.6"/><circle cx="412" cy="1682" r="4.6"/><circle cx="426" cy="1704" r="4.6"/><circle cx="396" cy="1658" r="4.6"/><circle cx="403" cy="1708" r="4.6"/><circle cx="420" cy="1709" r="4.6"/><circle cx="422" cy="1702" r="4.6"/><circle cx="412" cy="1709" r="4.6"/><circle cx="421" cy="1708" r="4.6"/><circle cx="423" cy="1689" r="4.6"/><circle cx="396" cy="1695" r="4.6"/><circle cx="417" cy="1717" r="4.6"/><circle cx="418" cy="1713" r="4.6"/><circle cx="424" cy="1675" r="4.6"/><circle cx="424" cy="1691" r="4.6"/><circle cx="408" cy="1683" r="4.6"/><circle cx="410" cy="1681" r="4.6"/><circle cx="417" cy="1670" r="4.6"/><circle cx="408" cy="1697" r="4.6"/><circle cx="426" cy="1702" r="4.6"/><circle cx="412" cy="1678" r="4.6"/><circle cx="415" cy="1715" r="4.6"/><circle cx="394" cy="1679" r="4.6"/><circle cx="403" cy="1705" r="4.6"/><circle cx="416" cy="1654" r="4.6"/><circle cx="423" cy="1681" r="4.6"/><circle cx="398" cy="1660" r="4.6"/><circle cx="396" cy="1670" r="4.6"/><circle cx="396" cy="1700" r="4.6"/><circle cx="398" cy="1682" r="4.6"/><circle cx="415" cy="1683" r="4.6"/><circle cx="403" cy="1684" r="4.6"/><circle cx="409" cy="1692" r="4.6"/><circle cx="413" cy="1674" r="4.6"/><circle cx="416" cy="1710" r="4.6"/><circle cx="426" cy="1695" r="4.6"/><circle cx="403" cy="1653" r="4.6"/><circle cx="408" cy="1719" r="4.6"/><circle cx="426" cy="1701" r="4.6"/><circle cx="400" cy="1667" r="4.6"/><circle cx="398" cy="1682" r="4.6"/><circle cx="425" cy="1667" r="4.6"/><circle cx="421" cy="1690" r="4.6"/><circle cx="402" cy="1684" r="4.6"/><circle cx="395" cy="1696" r="4.6"/><circle cx="423" cy="1675" r="4.6"/><circle cx="426" cy="1673" r="4.6"/><circle cx="405" cy="1700" r="4.6"/><circle cx="400" cy="1656" r="4.6"/><circle cx="410" cy="1686" r="4.6"/><circle cx="399" cy="1665" r="4.6"/><circle cx="397" cy="1666" r="4.6"/><circle cx="398" cy="1697" r="4.6"/><circle cx="423" cy="1693" r="4.6"/><circle cx="401" cy="1690" r="4.6"/><circle cx="425" cy="1677" r="4.6"/><circle cx="418" cy="1654" r="4.6"/><circle cx="419" cy="1711" r="4.6"/><circle cx="411" cy="1713" r="4.6"/><circle cx="413" cy="1705" r="4.6"/><circle cx="410" cy="1679" r="4.6"/><circle cx="402" cy="1691" r="4.6"/><circle cx="419" cy="1656" r="4.6"/><circle cx="416" cy="1656" r="4.6"/><circle cx="375" cy="1758" r="4.6"/><circle cx="380" cy="1756" r="4.6"/><circle cx="375" cy="1757" r="4.6"/><circle cx="376" cy="1757" r="4.6"/><circle cx="376" cy="1764" r="4.6"/><circle cx="370" cy="1768" r="4.6"/><circle cx="367" cy="1730" r="4.6"/><circle cx="364" cy="1751" r="4.6"/><circle cx="379" cy="1733" r="4.6"/><circle cx="380" cy="1749" r="4.6"/><circle cx="376" cy="1735" r="4.6"/><circle cx="382" cy="1748" r="4.6"/><circle cx="368" cy="1754" r="4.6"/><circle cx="364" cy="1755" r="4.6"/><circle cx="379" cy="1734" r="4.6"/><circle cx="368" cy="1740" r="4.6"/><circle cx="367" cy="1754" r="4.6"/><circle cx="378" cy="1747" r="4.6"/><circle cx="417" cy="1796" r="4.6"/><circle cx="421" cy="1757" r="4.6"/><circle cx="423" cy="1742" r="4.6"/><circle cx="421" cy="1735" r="4.6"/><circle cx="404" cy="1736" r="4.6"/><circle cx="412" cy="1737" r="4.6"/><circle cx="414" cy="1741" r="4.6"/><circle cx="416" cy="1766" r="4.6"/><circle cx="404" cy="1739" r="4.6"/><circle cx="419" cy="1743" r="4.6"/><circle cx="404" cy="1797" r="4.6"/><circle cx="423" cy="1783" r="4.6"/><circle cx="415" cy="1792" r="4.6"/><circle cx="421" cy="1791" r="4.6"/><circle cx="418" cy="1759" r="4.6"/><circle cx="419" cy="1758" r="4.6"/><circle cx="412" cy="1730" r="4.6"/><circle cx="399" cy="1779" r="4.6"/><circle cx="396" cy="1736" r="4.6"/><circle cx="422" cy="1796" r="4.6"/><circle cx="426" cy="1788" r="4.6"/><circle cx="403" cy="1774" r="4.6"/><circle cx="411" cy="1735" r="4.6"/><circle cx="399" cy="1774" r="4.6"/><circle cx="407" cy="1771" r="4.6"/><circle cx="424" cy="1734" r="4.6"/><circle cx="399" cy="1802" r="4.6"/><circle cx="397" cy="1756" r="4.6"/><circle cx="412" cy="1748" r="4.6"/><circle cx="406" cy="1741" r="4.6"/><circle cx="420" cy="1745" r="4.6"/><circle cx="417" cy="1763" r="4.6"/><circle cx="410" cy="1734" r="4.6"/><circle cx="423" cy="1729" r="4.6"/><circle cx="422" cy="1730" r="4.6"/><circle cx="406" cy="1762" r="4.6"/><circle cx="414" cy="1748" r="4.6"/><circle cx="427" cy="1754" r="4.6"/><circle cx="401" cy="1784" r="4.6"/><circle cx="415" cy="1774" r="4.6"/><circle cx="425" cy="1795" r="4.6"/><circle cx="404" cy="1796" r="4.6"/><circle cx="423" cy="1733" r="4.6"/><circle cx="410" cy="1793" r="4.6"/><circle cx="407" cy="1754" r="4.6"/></g>
<path stroke="#00F" stroke-width="4.5" stroke-opacity="0.1" d="M424.95 1641v1M424.95 1645v3M424.95 1651v1M424.95 1687v1M424.95 1722v6M424.95 1744v2M424.95 1751v1M424.95 1765v7M424.95 1775v1M424.95 1777v4M424.95 1785v2M424.95 1800v2M424.95 1818v4M424.95 1825v5M424.95 1832v1M424.95 1840v3M424.95 1844v4M424.95 1849v4M424.95 1858v1M424.95 1861v1"/><path stroke="#00F" stroke-width="4.5" stroke-opacity="0.2" d="M424.95 1644v1M424.95 1648v3M424.95 1652v1M424.95 1661v4M424.95 1667v1M424.95 1676v2M424.95 1685v2M424.95 1688v2M424.95 1693v1M424.95 1696v4M424.95 1706v2M424.95 1711v10M424.95 1728v1M424.95 1731v2M424.95 1737v7M424.95 1746v1M424.95 1749v2M424.95 1752v1M424.95 1758v7M424.95 1772v3M424.95 1781v1M424.95 1783v2M424.95 1787v7M424.95 1798v2M424.95 1802v3M424.95 1811v3M424.95 1830v2M424.95 1859v2"/><path stroke="#00F" stroke-width="4.5" stroke-opacity="0.3" d="M424.95 1642v2M424.95 1653v1M424.95 1657v4M424.95 1665v2M424.95 1668v8M424.95 1678v3M424.95 1683v2M424.95 1690v3M424.95 1694v2M424.95 1700v6M424.95 1708v3M424.95 1729v2M424.95 1733v4M424.95 1747v2M424.95 1753v5M424.95 1782v1M424.95 1794v4"/><path stroke="#00F" stroke-width="4.5" stroke-opacity="0.4" d="M424.95 1654v3M424.95 1681v2"/>
</g>
<path stroke="#00F" stroke-width="8.5" stroke-opacity="0.2" d="M360 1629.05h1M387 1629.05h2M427 1629.05h1"/><path stroke="#00F" stroke-width="8.5" stroke-opacity="0.3" d="M361 1629.05h1M386 1629.05h1M389 1629.05h2"/><path stroke="#00F" stroke-width="8.5" stroke-opacity="0.35" d="M372 1629.05h1M383 1629.05h1M385 1629.05h1M391 1629.05h2"/><path stroke="#00F" stroke-width="8.5" stroke-opacity="0.4" d="M362 1629.05h1M370 1629.05h2M373 1629.05h1M377 1629.05h1M381 1629.05h2M384 1629.05h1M405 1629.05h1"/><path stroke="#00F" stroke-width="8.5" stroke-opacity="0.45" d="M363 1629.05h4M369 1629.05h1M375 1629.05h2M378 1629.05h3M393 1629.05h1M400 1629.05h2M404 1629.05h1M406 1629.05h4M418 1629.05h1"/><path stroke="#00F" stroke-width="8.5" stroke-opacity="0.5" d="M367 1629.05h2M374 1629.05h1M394 1629.05h1M396 1629.05h1M398 1629.05h2M402 1629.05h2M410 1629.05h2M415 1629.05h3M419 1629.05h2M426 1629.05h1"/><path stroke="#00F" stroke-width="8.5" stroke-opacity="0.55" d="M395 1629.05h1M397 1629.05h1M412 1629.05h3M421 1629.05h2M425 1629.05h1"/><path stroke="#00F" stroke-width="8.5" stroke-opacity="0.6" d="M423 1629.05h2"/>
<line x1="359.9" x2="427.2" y1="1871.3" y2="1871.3" stroke="#000" stroke-width="3.3"/>
<rect x="443.85" y="1574.5" width="67.3" height="49.8" fill="#EEEEEE"/>
<text x="475.9" y="1608.1" font-size="24" font-weight="bold" text-anchor="middle">4</text>
<line x1="443.85" x2="511.15" y1="1651.3" y2="1651.3" stroke="#E4E4E4" stroke-width="2.4"/>
<line x1="443.85" x2="511.15" y1="1710.97" y2="1710.97" stroke="#E4E4E4" stroke-width="2.4"/>
<line x1="443.85" x2="511.15" y1="1770.63" y2="1770.63" stroke="#E4E4E4" stroke-width="2.4"/>
<line x1="443.85" x2="511.15" y1="1830.3" y2="1830.3" stroke="#E4E4E4" stroke-width="2.4"/>
<clipPath id="cc3"><rect x="443.85" y="1624.3" width="67.3" height="247"/></clipPath><g clip-path="url(#cc3)">
<g class="pt" fill="url(#pg)"><circle cx="468" cy="1639" r="4.6"/><circle cx="452" cy="1645" r="4.6"/><circle cx="457" cy="1651" r="4.6"/><circle cx="458" cy="1657" r="4.6"/><circle cx="460" cy="1661" r="4.6"/><circle cx="489" cy="1645" r="4.6"/><circle cx="505" cy="1646" r="4.6"/><circle cx="473" cy="1656" r="4.6"/><circle cx="477" cy="1660" r="4.6"/><circle cx="480" cy="1651" r="4.6"/><circle cx="495" cy="1658" r="4.6"/><circle cx="500" cy="1660" r="4.6"/><circle cx="458" cy="1672" r="4.6"/><circle cx="497" cy="1668" r="4.6"/><circle cx="492" cy="1673" r="4.6"/><circle cx="452" cy="1693" r="4.6"/><circle cx="458" cy="1697" r="4.6"/><circle cx="497" cy="1699" r="4.6"/><circle cx="497" cy="1705" r="4.6"/><circle cx="497" cy="1711" r="4.6"/><circle cx="452" cy="1710" r="4.6"/><circle cx="450" cy="1711" r="4.6"/><circle cx="505" cy="1703" r="4.6"/><circle cx="459" cy="1724" r="4.6"/><circle cx="470" cy="1722" r="4.6"/><circle cx="470" cy="1728" r="4.6"/><circle cx="472" cy="1733" r="4.6"/><circle cx="475" cy="1738" r="4.6"/><circle cx="497" cy="1726" r="4.6"/><circle cx="496" cy="1735" r="4.6"/><circle cx="500" cy="1743" r="4.6"/><circle cx="468" cy="1748" r="4.6"/><circle cx="484" cy="1748" r="4.6"/><circle cx="452" cy="1757" r="4.6"/><circle cx="481" cy="1758" r="4.6"/><circle cx="500" cy="1771" r="4.6"/><circle cx="468" cy="1774" r="4.6"/><circle cx="481" cy="1779" r="4.6"/><circle cx="497" cy="1782" r="4.6"/><circle cx="505" cy="1788" r="4.6"/><circle cx="481" cy="1792" r="4.6"/><circle cx="459" cy="1798" r="4.6"/><circle cx="462" cy="1797" r="4.6"/><circle cx="481" cy="1805" r="4.6"/><circle cx="481" cy="1813" r="4.6"/><circle cx="490" cy="1808" r="4.6"/><circle cx="497" cy="1807" r="4.6"/><circle cx="500" cy="1812" r="4.6"/><circle cx="500" cy="1818" r="4.6"/><circle cx="481" cy="1851" r="4.6"/><circle cx="496" cy="1860" r="4.6"/><circle cx="448" cy="1869" r="4.6"/><circle cx="458" cy="1869" r="4.6"/><circle cx="481" cy="1869" r="4.6"/><circle cx="505" cy="1869" r="4.6"/><circle cx="488" cy="1688" r="4.6"/><circle cx="470" cy="1685" r="4.6"/><circle cx="496" cy="1689" r="4.6"/><circle cx="494" cy="1680" r="4.6"/><circle cx="494" cy="1686" r="4.6"/><circle cx="475" cy="1687" r="4.6"/><circle cx="492" cy="1685" r="4.6"/><circle cx="494" cy="1685" r="4.6"/><circle cx="475" cy="1679" r="4.6"/><circle cx="470" cy="1681" r="4.6"/><circle cx="478" cy="1685" r="4.6"/><circle cx="474" cy="1678" r="4.6"/><circle cx="489" cy="1687" r="4.6"/><circle cx="488" cy="1677" r="4.6"/></g>
<path stroke="#00F" stroke-width="4.5" stroke-opacity="0.1" d="M508.9 1637v4M508.9 1643v1M508.9 1647v1M508.9 1649v1M508.9 1652v1M508.9 1654v1M508.9 1662v1M508.9 1667v5M508.9 1673v2M508.9 1676v1M508.9 1682v1M508.9 1690v1M508.9 1692v9M508.9 1702v1M508.9 1705v2M508.9 1708v1M508.9 1712v1M508.9 1720v4M508.9 1726v4M508.9 1732v1M508.9 1735v5M508.9 1742v3M508.9 1746v1M508.9 1749v1M508.9 1755v2M508.9 1758v2M508.9 1769v7M508.9 1777v7M508.9 1787v6M508.9 1795v2M508.9 1798v2M508.9 1803v2M508.9 1808v4M508.9 1813v2M508.9 1816v3M508.9 1849v4M508.9 1858v4"/><path stroke="#00F" stroke-width="4.5" stroke-opacity="0.2" d="M508.9 1644v3M508.9 1650v2M508.9 1655v7M508.9 1672v1M508.9 1677v5M508.9 1683v1M508.9 1688v2M508.9 1703v2M508.9 1709v3M508.9 1724v2M508.9 1733v2M508.9 1747v2M508.9 1757v1M508.9 1797v1M508.9 1805v3M508.9 1812v1"/><path stroke="#00F" stroke-width="4.5" stroke-opacity="0.3" d="M508.9 1684v4"/>
</g>
<path stroke="#00F" stroke-width="8.5" stroke-opacity="0.1" d="M463 1629.05h1"/><path stroke="#00F" stroke-width="8.5" stroke-opacity="0.15" d="M455 1629.05h1M466 1629.05h1M485 1629.05h1"/><path stroke="#00F" stroke-width="8.5" stroke-opacity="0.2" d="M446 1629.05h4M453 1629.05h1M461 1629.05h2M483 1629.05h2M486 1629.05h1"/><path stroke="#00F" stroke-width="8.5" stroke-opacity="0.25" d="M456 1629.05h1M477 1629.05h2M491 1629.05h1M501 1629.05h1M503 1629.05h1M506 1629.05h1"/><path stroke="#00F" stroke-width="8.5" stroke-opacity="0.3" d="M450 1629.05h1M460 1629.05h1M467 1629.05h1M471 1629.05h3M476 1629.05h1M482 1629.05h1M487 1629.05h1M489 1629.05h2M498 1629.05h1"/><path stroke="#00F" stroke-width="8.5" stroke-opacity="0.35" d="M451 1629.05h2M468 1629.05h1M470 1629.05h1M474 1629.05h2M488 1629.05h1M492 1629.05h2M499 1629.05h2M504 1629.05h2"/><path stroke="#00F" stroke-width="8.5" stroke-opacity="0.4" d="M457 1629.05h3M469 1629.05h1M479 1629.05h1M481 1629.05h1M494 1629.05h1"/><path stroke="#00F" stroke-width="8.5" stroke-opacity="0.45" d="M480 1629.05h1M497 1629.05h1"/><path stroke="#00F" stroke-width="8.5" stroke-opacity="0.5" d="M495 1629.05h2"/>
<line x1="443.85" x2="511.15" y1="1871.3" y2="1871.3" stroke="#000" stroke-width="3.3"/>
<rect x="527.8" y="1574.5" width="67.3" height="49.8" fill="#EEEEEE"/>
<text x="559.85" y="1608.1" font-size="24" font-weight="bold" text-anchor="middle">5</text>
<line x1="527.8" x2="595.1" y1="1651.3" y2="1651.3" stroke="#E4E4E4" stroke-width="2.4"/>
<line x1="527.8" x2="595.1" y1="1710.97" y2="1710.97" stroke="#E4E4E4" stroke-width="2.4"/>
<line x1="527.8" x2="595.1" y1="1770.63" y2="1770.63" stroke="#E4E4E4" stroke-width="2.4"/>
<line x1="527.8" x2="595.1" y1="1830.3" y2="1830.3" stroke="#E4E4E4" stroke-width="2.4"/>
<clipPath id="cc4"><rect x="527.8" y="1624.3" width="67.3" height="247"/></clipPath><g clip-path="url(#cc4)">
<g class="pt" fill="url(#pg)"><circle cx="560" cy="1636" r="4.6"/><circle cx="538" cy="1647" r="4.6"/><circle cx="564" cy="1649" r="4.6"/><circle cx="570" cy="1645" r="4.6"/><circle cx="576" cy="1649" r="4.6"/><circle cx="585" cy="1648" r="4.6"/><circle cx="549" cy="1654" r="4.6"/><circle cx="533" cy="1660" r="4.6"/><circle cx="543" cy="1658" r="4.6"/><circle cx="546" cy="1660" r="4.6"/><circle cx="561" cy="1664" r="4.6"/><circle cx="579" cy="1658" r="4.6"/><circle cx="584" cy="1661" r="4.6"/><circle cx="589" cy="1663" r="4.6"/><circle cx="591" cy="1658" r="4.6"/><circle cx="534" cy="1675" r="4.6"/><circle cx="543" cy="1678" r="4.6"/><circle cx="591" cy="1674" r="4.6"/><circle cx="547" cy="1684" r="4.6"/><circle cx="532" cy="1686" r="4.6"/><circle cx="564" cy="1688" r="4.6"/><circle cx="569" cy="1688" r="4.6"/><circle cx="574" cy="1686" r="4.6"/><circle cx="579" cy="1687" r="4.6"/><circle cx="570" cy="1693" r="4.6"/><circle cx="591" cy="1685" r="4.6"/><circle cx="532" cy="1697" r="4.6"/><circle cx="541" cy="1707" r="4.6"/><circle cx="547" cy="1711" r="4.6"/><circle cx="578" cy="1703" r="4.6"/><circle cx="580" cy="1710" r="4.6"/><circle cx="591" cy="1710" r="4.6"/><circle cx="544" cy="1719" r="4.6"/><circle cx="570" cy="1726" r="4.6"/><circle cx="575" cy="1727" r="4.6"/><circle cx="580" cy="1722" r="4.6"/><circle cx="591" cy="1727" r="4.6"/><circle cx="570" cy="1752" r="4.6"/><circle cx="591" cy="1749" r="4.6"/><circle cx="532" cy="1758" r="4.6"/><circle cx="541" cy="1761" r="4.6"/><circle cx="549" cy="1758" r="4.6"/><circle cx="581" cy="1768" r="4.6"/><circle cx="531" cy="1767" r="4.6"/><circle cx="531" cy="1772" r="4.6"/><circle cx="543" cy="1780" r="4.6"/><circle cx="534" cy="1789" r="4.6"/><circle cx="541" cy="1790" r="4.6"/><circle cx="549" cy="1792" r="4.6"/><circle cx="534" cy="1798" r="4.6"/><circle cx="534" cy="1812" r="4.6"/><circle cx="544" cy="1819" r="4.6"/><circle cx="570" cy="1819" r="4.6"/><circle cx="574" cy="1819" r="4.6"/><circle cx="591" cy="1820" r="4.6"/><circle cx="534" cy="1825" r="4.6"/><circle cx="544" cy="1837" r="4.6"/><circle cx="592" cy="1842" r="4.6"/><circle cx="543" cy="1851" r="4.6"/><circle cx="549" cy="1860" r="4.6"/><circle cx="588" cy="1860" r="4.6"/><circle cx="531" cy="1869" r="4.6"/><circle cx="541" cy="1869" r="4.6"/><circle cx="581" cy="1869" r="4.6"/><circle cx="589" cy="1869" r="4.6"/><circle cx="534" cy="1725" r="4.6"/><circle cx="534" cy="1732" r="4.6"/><circle cx="534" cy="1734" r="4.6"/><circle cx="533" cy="1736" r="4.6"/><circle cx="533" cy="1739" r="4.6"/><circle cx="534" cy="1712" r="4.6"/><circle cx="532" cy="1738" r="4.6"/><circle cx="533" cy="1727" r="4.6"/><circle cx="531" cy="1709" r="4.6"/><circle cx="531" cy="1707" r="4.6"/><circle cx="570" cy="1789" r="4.6"/><circle cx="578" cy="1791" r="4.6"/><circle cx="582" cy="1793" r="4.6"/><circle cx="581" cy="1794" r="4.6"/><circle cx="567" cy="1789" r="4.6"/><circle cx="591" cy="1793" r="4.6"/><circle cx="588" cy="1796" r="4.6"/><circle cx="570" cy="1789" r="4.6"/><circle cx="590" cy="1786" r="4.6"/><circle cx="580" cy="1784" r="4.6"/></g>
<path stroke="#00F" stroke-width="4.5" stroke-opacity="0.1" d="M592.85 1634v4M592.85 1643v2M592.85 1650v1M592.85 1652v5M592.85 1665v1M592.85 1672v1M592.85 1676v3M592.85 1682v1M592.85 1689v1M592.85 1692v6M592.85 1702v4M592.85 1712v2M592.85 1717v7M592.85 1728v1M592.85 1730v2M592.85 1733v1M592.85 1736v1M592.85 1740v1M592.85 1747v7M592.85 1759v4M592.85 1765v1M592.85 1768v1M592.85 1770v3M592.85 1778v4M592.85 1783v2M592.85 1786v1M592.85 1795v1M592.85 1798v1M592.85 1810v3M592.85 1817v1M592.85 1821v1M592.85 1823v4M592.85 1835v3M592.85 1840v3M592.85 1849v4M592.85 1858v1M592.85 1861v1"/><path stroke="#00F" stroke-width="4.5" stroke-opacity="0.2" d="M592.85 1645v5M592.85 1657v2M592.85 1660v5M592.85 1673v3M592.85 1683v2M592.85 1687v2M592.85 1706v4M592.85 1711v1M592.85 1724v2M592.85 1727v1M592.85 1732v1M592.85 1734v2M592.85 1737v3M592.85 1756v3M592.85 1766v2M592.85 1785v1M592.85 1787v1M592.85 1790v2M592.85 1793v2M592.85 1796v2M592.85 1818v1M592.85 1820v1M592.85 1859v2"/><path stroke="#00F" stroke-width="4.5" stroke-opacity="0.3" d="M592.85 1659v1M592.85 1685v2M592.85 1710v1M592.85 1726v1M592.85 1788v2M592.85 1792v1M592.85 1819v1"/>
</g>
<path stroke="#00F" stroke-width="8.5" stroke-opacity="0.1" d="M558 1629.05h1M572 1629.05h1M593 1629.05h1"/><path stroke="#00F" stroke-width="8.5" stroke-opacity="0.15" d="M562 1629.05h1"/><path stroke="#00F" stroke-width="8.5" stroke-opacity="0.2" d="M529 1629.05h1M537 1629.05h2M559 1629.05h1M566 1629.05h2M583 1629.05h1"/><path stroke="#00F" stroke-width="8.5" stroke-opacity="0.25" d="M535 1629.05h1M560 1629.05h2M563 1629.05h3M573 1629.05h1M584 1629.05h4"/><path stroke="#00F" stroke-width="8.5" stroke-opacity="0.3" d="M539 1629.05h1M546 1629.05h2M550 1629.05h1M568 1629.05h1M574 1629.05h4M582 1629.05h1"/><path stroke="#00F" stroke-width="8.5" stroke-opacity="0.35" d="M540 1629.05h1M544 1629.05h2M548 1629.05h2M571 1629.05h1M578 1629.05h1M588 1629.05h1M592 1629.05h1"/><path stroke="#00F" stroke-width="8.5" stroke-opacity="0.4" d="M541 1629.05h3M579 1629.05h1M581 1629.05h1"/><path stroke="#00F" stroke-width="8.5" stroke-opacity="0.45" d="M530 1629.05h1M534 1629.05h1M569 1629.05h2M580 1629.05h1M589 1629.05h1M591 1629.05h1"/><path stroke="#00F" stroke-width="8.5" stroke-opacity="0.5" d="M531 1629.05h1M590 1629.05h1"/><path stroke="#00F" stroke-width="8.5" stroke-opacity="0.55" d="M533 1629.05h1"/><path stroke="#00F" stroke-width="8.5" stroke-opacity="0.6" d="M532 1629.05h1"/>
<line x1="527.8" x2="595.1" y1="1871.3" y2="1871.3" stroke="#000" stroke-width="3.3"/>
<rect x="611.75" y="1574.5" width="67.3" height="49.8" fill="#EEEEEE"/>
<text x="643.8" y="1608.1" font-size="24" font-weight="bold" text-anchor="middle">6</text>
<line x1="611.75" x2="679.05" y1="1651.3" y2="1651.3" stroke="#E4E4E4" stroke-width="2.4"/>
<line x1="611.75" x2="679.05" y1="1710.97" y2="1710.97" stroke="#E4E4E4" stroke-width="2.4"/>
<line x1="611.75" x2="679.05" y1="1770.63" y2="1770.63" stroke="#E4E4E4" stroke-width="2.4"/>
<line x1="611.75" x2="679.05" y1="1830.3" y2="1830.3" stroke="#E4E4E4" stroke-width="2.4"/>
<clipPath id="cc5"><rect x="611.75" y="1624.3" width="67.3" height="247"/></clipPath><g clip-path="url(#cc5)">
<g class="pt" fill="url(#pg)"><circle cx="631" cy="1642" r="4.6"/><circle cx="641" cy="1643" r="4.6"/><circle cx="645" cy="1651" r="4.6"/><circle cx="624" cy="1655" r="4.6"/><circle cx="634" cy="1657" r="4.6"/><circle cx="617" cy="1664" r="4.6"/><circle cx="634" cy="1677" r="4.6"/><circle cx="636" cy="1678" r="4.6"/><circle cx="641" cy="1665" r="4.6"/><circle cx="648" cy="1666" r="4.6"/><circle cx="653" cy="1658" r="4.6"/><circle cx="659" cy="1655" r="4.6"/><circle cx="668" cy="1655" r="4.6"/><circle cx="674" cy="1656" r="4.6"/><circle cx="646" cy="1674" r="4.6"/><circle cx="656" cy="1677" r="4.6"/><circle cx="659" cy="1678" r="4.6"/><circle cx="669" cy="1682" r="4.6"/><circle cx="673" cy="1670" r="4.6"/><circle cx="649" cy="1692" r="4.6"/><circle cx="656" cy="1690" r="4.6"/><circle cx="658" cy="1702" r="4.6"/><circle cx="653" cy="1708" r="4.6"/><circle cx="668" cy="1692" r="4.6"/><circle cx="674" cy="1695" r="4.6"/><circle cx="618" cy="1699" r="4.6"/><circle cx="624" cy="1707" r="4.6"/><circle cx="634" cy="1712" r="4.6"/><circle cx="616" cy="1716" r="4.6"/><circle cx="676" cy="1712" r="4.6"/><circle cx="619" cy="1726" r="4.6"/><circle cx="650" cy="1725" r="4.6"/><circle cx="618" cy="1738" r="4.6"/><circle cx="673" cy="1733" r="4.6"/><circle cx="673" cy="1737" r="4.6"/><circle cx="656" cy="1742" r="4.6"/><circle cx="676" cy="1750" r="4.6"/><circle cx="618" cy="1763" r="4.6"/><circle cx="616" cy="1768" r="4.6"/><circle cx="672" cy="1771" r="4.6"/><circle cx="641" cy="1777" r="4.6"/><circle cx="658" cy="1774" r="4.6"/><circle cx="620" cy="1784" r="4.6"/><circle cx="649" cy="1784" r="4.6"/><circle cx="667" cy="1788" r="4.6"/><circle cx="620" cy="1798" r="4.6"/><circle cx="648" cy="1803" r="4.6"/><circle cx="618" cy="1851" r="4.6"/><circle cx="657" cy="1860" r="4.6"/><circle cx="618" cy="1869" r="4.6"/><circle cx="658" cy="1869" r="4.6"/><circle cx="615" cy="1687" r="4.6"/><circle cx="622" cy="1684" r="4.6"/><circle cx="623" cy="1679" r="4.6"/><circle cx="623" cy="1684" r="4.6"/><circle cx="619" cy="1678" r="4.6"/><circle cx="616" cy="1677" r="4.6"/><circle cx="623" cy="1669" r="4.6"/><circle cx="624" cy="1672" r="4.6"/><circle cx="658" cy="1657" r="4.6"/><circle cx="644" cy="1663" r="4.6"/><circle cx="648" cy="1659" r="4.6"/><circle cx="668" cy="1660" r="4.6"/><circle cx="653" cy="1654" r="4.6"/><circle cx="643" cy="1667" r="4.6"/><circle cx="657" cy="1657" r="4.6"/><circle cx="665" cy="1661" r="4.6"/><circle cx="650" cy="1669" r="4.6"/><circle cx="655" cy="1658" r="4.6"/></g>
<path stroke="#00F" stroke-width="4.5" stroke-opacity="0.1" d="M676.8 1640v2M676.8 1643v2M676.8 1649v4M676.8 1672v1M676.8 1674v1M676.8 1680v2M676.8 1686v4M676.8 1693v10M676.8 1705v2M676.8 1708v3M676.8 1713v5M676.8 1723v1M676.8 1727v1M676.8 1732v4M676.8 1738v1M676.8 1741v3M676.8 1748v4M676.8 1762v3M676.8 1766v12M676.8 1782v1M676.8 1785v1M676.8 1787v3M676.8 1796v3M676.8 1802v3M676.8 1849v4M676.8 1858v4"/><path stroke="#00F" stroke-width="4.5" stroke-opacity="0.2" d="M676.8 1642v1M676.8 1653v1M676.8 1659v13M676.8 1673v1M676.8 1675v1M676.8 1679v1M676.8 1682v4M676.8 1690v3M676.8 1707v1M676.8 1711v2M676.8 1724v3M676.8 1736v2M676.8 1783v2"/><path stroke="#00F" stroke-width="4.5" stroke-opacity="0.3" d="M676.8 1654v5M676.8 1676v3"/>
</g>
<path stroke="#00F" stroke-width="8.5" stroke-opacity="0.05" d="M663 1629.05h1"/><path stroke="#00F" stroke-width="8.5" stroke-opacity="0.1" d="M613 1629.05h1"/><path stroke="#00F" stroke-width="8.5" stroke-opacity="0.15" d="M629 1629.05h1M637 1629.05h1"/><path stroke="#00F" stroke-width="8.5" stroke-opacity="0.2" d="M625 1629.05h1M630 1629.05h2M636 1629.05h1M639 1629.05h1M664 1629.05h1M669 1629.05h2M677 1629.05h1"/><path stroke="#00F" stroke-width="8.5" stroke-opacity="0.25" d="M614 1629.05h1M635 1629.05h1M643 1629.05h1M645 1629.05h2M660 1629.05h1M665 1629.05h1M676 1629.05h1"/><path stroke="#00F" stroke-width="8.5" stroke-opacity="0.3" d="M632 1629.05h3M640 1629.05h3M644 1629.05h1M647 1629.05h1M650 1629.05h5M659 1629.05h1M671 1629.05h1M674 1629.05h2"/><path stroke="#00F" stroke-width="8.5" stroke-opacity="0.35" d="M615 1629.05h1M619 1629.05h3M624 1629.05h1M655 1629.05h1M666 1629.05h3M672 1629.05h2"/><path stroke="#00F" stroke-width="8.5" stroke-opacity="0.4" d="M622 1629.05h2M648 1629.05h2M658 1629.05h1"/><path stroke="#00F" stroke-width="8.5" stroke-opacity="0.45" d="M616 1629.05h3M656 1629.05h2"/>
<line x1="611.75" x2="679.05" y1="1871.3" y2="1871.3" stroke="#000" stroke-width="3.3"/>
<rect x="695.7" y="1574.5" width="67.3" height="49.8" fill="#EEEEEE"/>
<text x="727.75" y="1608.1" font-size="24" font-weight="bold" text-anchor="middle">7</text>
<line x1="695.7" x2="763" y1="1651.3" y2="1651.3" stroke="#E4E4E4" stroke-width="2.4"/>
<line x1="695.7" x2="763" y1="1710.97" y2="1710.97" stroke="#E4E4E4" stroke-width="2.4"/>
<line x1="695.7" x2="763" y1="1770.63" y2="1770.63" stroke="#E4E4E4" stroke-width="2.4"/>
<line x1="695.7" x2="763" y1="1830.3" y2="1830.3" stroke="#E4E4E4" stroke-width="2.4"/>
<clipPath id="cc6"><rect x="695.7" y="1624.3" width="67.3" height="247"/></clipPath><g clip-path="url(#cc6)">
<g class="pt" fill="url(#pg)"><circle cx="710" cy="1641" r="4.6"/><circle cx="723" cy="1642" r="4.6"/><circle cx="734" cy="1647" r="4.6"/><circle cx="738" cy="1652" r="4.6"/><circle cx="743" cy="1657" r="4.6"/><circle cx="749" cy="1651" r="4.6"/><circle cx="753" cy="1650" r="4.6"/><circle cx="714" cy="1658" r="4.6"/><circle cx="701" cy="1664" r="4.6"/><circle cx="711" cy="1669" r="4.6"/><circle cx="714" cy="1670" r="4.6"/><circle cx="727" cy="1662" r="4.6"/><circle cx="724" cy="1673" r="4.6"/><circle cx="739" cy="1667" r="4.6"/><circle cx="743" cy="1667" r="4.6"/><circle cx="758" cy="1662" r="4.6"/><circle cx="754" cy="1671" r="4.6"/><circle cx="710" cy="1679" r="4.6"/><circle cx="723" cy="1685" r="4.6"/><circle cx="700" cy="1683" r="4.6"/><circle cx="700" cy="1686" r="4.6"/><circle cx="701" cy="1694" r="4.6"/><circle cx="701" cy="1703" r="4.6"/><circle cx="700" cy="1712" r="4.6"/><circle cx="699" cy="1724" r="4.6"/><circle cx="710" cy="1728" r="4.6"/><circle cx="728" cy="1711" r="4.6"/><circle cx="733" cy="1715" r="4.6"/><circle cx="739" cy="1717" r="4.6"/><circle cx="743" cy="1720" r="4.6"/><circle cx="749" cy="1718" r="4.6"/><circle cx="754" cy="1722" r="4.6"/><circle cx="744" cy="1732" r="4.6"/><circle cx="726" cy="1738" r="4.6"/><circle cx="734" cy="1735" r="4.6"/><circle cx="725" cy="1749" r="4.6"/><circle cx="744" cy="1748" r="4.6"/><circle cx="710" cy="1754" r="4.6"/><circle cx="709" cy="1763" r="4.6"/><circle cx="714" cy="1770" r="4.6"/><circle cx="714" cy="1775" r="4.6"/><circle cx="753" cy="1764" r="4.6"/><circle cx="758" cy="1763" r="4.6"/><circle cx="738" cy="1773" r="4.6"/><circle cx="754" cy="1776" r="4.6"/><circle cx="744" cy="1782" r="4.6"/><circle cx="758" cy="1782" r="4.6"/><circle cx="710" cy="1788" r="4.6"/><circle cx="727" cy="1787" r="4.6"/><circle cx="701" cy="1795" r="4.6"/><circle cx="701" cy="1802" r="4.6"/><circle cx="733" cy="1795" r="4.6"/><circle cx="738" cy="1797" r="4.6"/><circle cx="743" cy="1798" r="4.6"/><circle cx="758" cy="1792" r="4.6"/><circle cx="758" cy="1797" r="4.6"/><circle cx="758" cy="1816" r="4.6"/><circle cx="754" cy="1830" r="4.6"/><circle cx="758" cy="1837" r="4.6"/><circle cx="725" cy="1835" r="4.6"/><circle cx="701" cy="1851" r="4.6"/><circle cx="701" cy="1860" r="4.6"/><circle cx="723" cy="1860" r="4.6"/><circle cx="743" cy="1860" r="4.6"/><circle cx="755" cy="1851" r="4.6"/><circle cx="755" cy="1860" r="4.6"/><circle cx="699" cy="1869" r="4.6"/><circle cx="724" cy="1869" r="4.6"/><circle cx="741" cy="1869" r="4.6"/><circle cx="758" cy="1869" r="4.6"/><circle cx="760" cy="1689" r="4.6"/><circle cx="746" cy="1702" r="4.6"/><circle cx="751" cy="1684" r="4.6"/><circle cx="734" cy="1679" r="4.6"/><circle cx="737" cy="1699" r="4.6"/><circle cx="743" cy="1693" r="4.6"/><circle cx="741" cy="1678" r="4.6"/><circle cx="761" cy="1697" r="4.6"/><circle cx="752" cy="1696" r="4.6"/><circle cx="734" cy="1701" r="4.6"/><circle cx="757" cy="1684" r="4.6"/><circle cx="757" cy="1706" r="4.6"/><circle cx="738" cy="1704" r="4.6"/><circle cx="734" cy="1699" r="4.6"/><circle cx="760" cy="1681" r="4.6"/><circle cx="745" cy="1677" r="4.6"/><circle cx="748" cy="1678" r="4.6"/><circle cx="747" cy="1682" r="4.6"/><circle cx="738" cy="1697" r="4.6"/><circle cx="739" cy="1681" r="4.6"/></g>
<path stroke="#00F" stroke-width="4.5" stroke-opacity="0.1" d="M760.75 1639v1M760.75 1642v1M760.75 1645v4M760.75 1652v1M760.75 1655v2M760.75 1658v3M760.75 1664v1M760.75 1672v3M760.75 1687v6M760.75 1706v1M760.75 1709v2M760.75 1712v3M760.75 1722v4M760.75 1727v12M760.75 1747v1M760.75 1750v1M760.75 1752v4M760.75 1765v1M760.75 1768v5M760.75 1777v1M760.75 1785v1M760.75 1788v1M760.75 1790v4M760.75 1798v2M760.75 1801v3M760.75 1814v4M760.75 1828v4M760.75 1833v2M760.75 1837v1M760.75 1849v1M760.75 1852v1"/><path stroke="#00F" stroke-width="4.5" stroke-opacity="0.2" d="M760.75 1640v2M760.75 1649v3M760.75 1657v1M760.75 1661v3M760.75 1665v7M760.75 1676v1M760.75 1679v4M760.75 1685v2M760.75 1693v13M760.75 1711v1M760.75 1715v7M760.75 1748v2M760.75 1762v3M760.75 1773v4M760.75 1781v3M760.75 1786v2M760.75 1794v4M760.75 1835v2M760.75 1850v2M760.75 1858v1M760.75 1861v1"/><path stroke="#00F" stroke-width="4.5" stroke-opacity="0.3" d="M760.75 1677v2M760.75 1683v2M760.75 1859v2"/>
</g>
<path stroke="#00F" stroke-width="8.5" stroke-opacity="0.05" d="M762 1629.05h1"/><path stroke="#00F" stroke-width="8.5" stroke-opacity="0.1" d="M697 1629.05h1M707 1629.05h1M729 1629.05h1"/><path stroke="#00F" stroke-width="8.5" stroke-opacity="0.25" d="M712 1629.05h1M715 1629.05h1M721 1629.05h1M728 1629.05h1M731 1629.05h1M735 1629.05h1"/><path stroke="#00F" stroke-width="8.5" stroke-opacity="0.3" d="M698 1629.05h1M702 1629.05h1M708 1629.05h1M722 1629.05h1M727 1629.05h1M746 1629.05h6M760 1629.05h2"/><path stroke="#00F" stroke-width="8.5" stroke-opacity="0.35" d="M711 1629.05h1M713 1629.05h2M724 1629.05h1M726 1629.05h1M732 1629.05h1M734 1629.05h1M736 1629.05h1M739 1629.05h2M745 1629.05h1M752 1629.05h1M755 1629.05h1M759 1629.05h1"/><path stroke="#00F" stroke-width="8.5" stroke-opacity="0.4" d="M709 1629.05h2M723 1629.05h1M725 1629.05h1M733 1629.05h1M737 1629.05h1M741 1629.05h1M744 1629.05h1M753 1629.05h2"/><path stroke="#00F" stroke-width="8.5" stroke-opacity="0.45" d="M699 1629.05h1M701 1629.05h1M738 1629.05h1M742 1629.05h2M756 1629.05h3"/><path stroke="#00F" stroke-width="8.5" stroke-opacity="0.5" d="M700 1629.05h1"/>
<line x1="695.7" x2="763" y1="1871.3" y2="1871.3" stroke="#000" stroke-width="3.3"/>
<rect x="779.65" y="1574.5" width="67.3" height="49.8" fill="#EEEEEE"/>
<text x="811.7" y="1608.1" font-size="24" font-weight="bold" text-anchor="middle">8</text>
<line x1="779.65" x2="846.95" y1="1651.3" y2="1651.3" stroke="#E4E4E4" stroke-width="2.4"/>
<line x1="779.65" x2="846.95" y1="1710.97" y2="1710.97" stroke="#E4E4E4" stroke-width="2.4"/>
<line x1="779.65" x2="846.95" y1="1770.63" y2="1770.63" stroke="#E4E4E4" stroke-width="2.4"/>
<line x1="779.65" x2="846.95" y1="1830.3" y2="1830.3" stroke="#E4E4E4" stroke-width="2.4"/>
<clipPath id="cc7"><rect x="779.65" y="1624.3" width="67.3" height="247"/></clipPath><g clip-path="url(#cc7)">
<g class="pt" fill="url(#pg)"><circle cx="806" cy="1648" r="4.6"/><circle cx="833" cy="1650" r="4.6"/><circle cx="839" cy="1652" r="4.6"/><circle cx="837" cy="1682" r="4.6"/><circle cx="837" cy="1690" r="4.6"/><circle cx="843" cy="1667" r="4.6"/><circle cx="818" cy="1708" r="4.6"/><circle cx="814" cy="1717" r="4.6"/><circle cx="837" cy="1708" r="4.6"/><circle cx="843" cy="1710" r="4.6"/><circle cx="794" cy="1736" r="4.6"/><circle cx="798" cy="1741" r="4.6"/><circle cx="824" cy="1740" r="4.6"/><circle cx="821" cy="1750" r="4.6"/><circle cx="844" cy="1748" r="4.6"/><circle cx="785" cy="1758" r="4.6"/><circle cx="798" cy="1759" r="4.6"/><circle cx="784" cy="1768" r="4.6"/><circle cx="824" cy="1768" r="4.6"/><circle cx="833" cy="1766" r="4.6"/><circle cx="837" cy="1762" r="4.6"/><circle cx="826" cy="1778" r="4.6"/><circle cx="824" cy="1784" r="4.6"/><circle cx="831" cy="1787" r="4.6"/><circle cx="842" cy="1782" r="4.6"/><circle cx="784" cy="1789" r="4.6"/><circle cx="794" cy="1792" r="4.6"/><circle cx="812" cy="1789" r="4.6"/><circle cx="806" cy="1798" r="4.6"/><circle cx="824" cy="1801" r="4.6"/><circle cx="834" cy="1794" r="4.6"/><circle cx="838" cy="1800" r="4.6"/><circle cx="843" cy="1807" r="4.6"/><circle cx="824" cy="1824" r="4.6"/><circle cx="824" cy="1828" r="4.6"/><circle cx="838" cy="1827" r="4.6"/><circle cx="841" cy="1838" r="4.6"/><circle cx="841" cy="1844" r="4.6"/><circle cx="784" cy="1869" r="4.6"/><circle cx="826" cy="1869" r="4.6"/><circle cx="839" cy="1869" r="4.6"/><circle cx="788" cy="1674" r="4.6"/><circle cx="796" cy="1684" r="4.6"/><circle cx="794" cy="1689" r="4.6"/><circle cx="788" cy="1688" r="4.6"/><circle cx="784" cy="1661" r="4.6"/><circle cx="794" cy="1687" r="4.6"/><circle cx="788" cy="1703" r="4.6"/><circle cx="785" cy="1695" r="4.6"/><circle cx="794" cy="1684" r="4.6"/><circle cx="791" cy="1660" r="4.6"/><circle cx="791" cy="1688" r="4.6"/><circle cx="798" cy="1695" r="4.6"/><circle cx="789" cy="1681" r="4.6"/><circle cx="785" cy="1677" r="4.6"/><circle cx="791" cy="1694" r="4.6"/><circle cx="785" cy="1659" r="4.6"/><circle cx="795" cy="1694" r="4.6"/><circle cx="784" cy="1689" r="4.6"/><circle cx="786" cy="1697" r="4.6"/><circle cx="795" cy="1666" r="4.6"/><circle cx="815" cy="1677" r="4.6"/><circle cx="828" cy="1653" r="4.6"/><circle cx="816" cy="1655" r="4.6"/><circle cx="828" cy="1680" r="4.6"/><circle cx="816" cy="1677" r="4.6"/><circle cx="812" cy="1677" r="4.6"/><circle cx="810" cy="1661" r="4.6"/><circle cx="818" cy="1674" r="4.6"/><circle cx="817" cy="1655" r="4.6"/><circle cx="807" cy="1656" r="4.6"/><circle cx="813" cy="1671" r="4.6"/><circle cx="810" cy="1679" r="4.6"/><circle cx="821" cy="1661" r="4.6"/><circle cx="819" cy="1677" r="4.6"/><circle cx="812" cy="1672" r="4.6"/><circle cx="821" cy="1676" r="4.6"/><circle cx="821" cy="1654" r="4.6"/><circle cx="826" cy="1658" r="4.6"/></g>
<path stroke="#00F" stroke-width="4.5" stroke-opacity="0.1" d="M844.7 1646v5M844.7 1662v1M844.7 1664v1M844.7 1685v2M844.7 1691v1M844.7 1696v2M844.7 1701v3M844.7 1709v3M844.7 1715v3M844.7 1734v5M844.7 1742v1M844.7 1747v1M844.7 1750v2M844.7 1756v2M844.7 1759v4M844.7 1764v2M844.7 1769v1M844.7 1776v3M844.7 1781v2M844.7 1784v3M844.7 1790v3M844.7 1794v2M844.7 1797v1M844.7 1802v1M844.7 1805v3M844.7 1822v5M844.7 1828v2M844.7 1837v3M844.7 1842v4"/><path stroke="#00F" stroke-width="4.5" stroke-opacity="0.2" d="M844.7 1651v9M844.7 1661v1M844.7 1665v3M844.7 1670v6M844.7 1678v7M844.7 1687v1M844.7 1690v1M844.7 1692v2M844.7 1695v1M844.7 1706v3M844.7 1739v3M844.7 1748v2M844.7 1758v1M844.7 1766v3M844.7 1783v1M844.7 1787v3M844.7 1793v1M844.7 1798v4M844.7 1827v1"/><path stroke="#00F" stroke-width="4.5" stroke-opacity="0.3" d="M844.7 1660v1M844.7 1676v2M844.7 1688v2M844.7 1694v1"/>
</g>
<path stroke="#00F" stroke-width="8.5" stroke-opacity="0.15" d="M808 1629.05h1"/><path stroke="#00F" stroke-width="8.5" stroke-opacity="0.2" d="M804 1629.05h1M830 1629.05h1M834 1629.05h1M844 1629.05h1"/><path stroke="#00F" stroke-width="8.5" stroke-opacity="0.25" d="M799 1629.05h1M807 1629.05h1M809 1629.05h1M828 1629.05h2"/><path stroke="#00F" stroke-width="8.5" stroke-opacity="0.3" d="M782 1629.05h1M786 1629.05h1M790 1629.05h2M796 1629.05h3M805 1629.05h2M810 1629.05h1M814 1629.05h1M818 1629.05h2M826 1629.05h2M831 1629.05h3M835 1629.05h1M839 1629.05h1"/><path stroke="#00F" stroke-width="8.5" stroke-opacity="0.35" d="M787 1629.05h3M792 1629.05h2M812 1629.05h2M815 1629.05h3M820 1629.05h2M825 1629.05h1M838 1629.05h1M840 1629.05h2M843 1629.05h1"/><path stroke="#00F" stroke-width="8.5" stroke-opacity="0.4" d="M783 1629.05h1M785 1629.05h1M794 1629.05h2M811 1629.05h1M822 1629.05h3M836 1629.05h2M842 1629.05h1"/><path stroke="#00F" stroke-width="8.5" stroke-opacity="0.45" d="M784 1629.05h1"/>
<line x1="779.65" x2="846.95" y1="1871.3" y2="1871.3" stroke="#000" stroke-width="3.3"/>
<rect x="863.6" y="1574.5" width="67.3" height="49.8" fill="#EEEEEE"/>
<text x="895.65" y="1608.1" font-size="24" font-weight="bold" text-anchor="middle">9</text>
<line x1="863.6" x2="930.9" y1="1651.3" y2="1651.3" stroke="#E4E4E4" stroke-width="2.4"/>
<line x1="863.6" x2="930.9" y1="1710.97" y2="1710.97" stroke="#E4E4E4" stroke-width="2.4"/>
<line x1="863.6" x2="930.9" y1="1770.63" y2="1770.63" stroke="#E4E4E4" stroke-width="2.4"/>
<line x1="863.6" x2="930.9" y1="1830.3" y2="1830.3" stroke="#E4E4E4" stroke-width="2.4"/>
<clipPath id="cc8"><rect x="863.6" y="1624.3" width="67.3" height="247"/></clipPath><g clip-path="url(#cc8)">
<g class="pt" fill="url(#pg)"><circle cx="895" cy="1642" r="4.6"/><circle cx="875" cy="1648" r="4.6"/><circle cx="915" cy="1647" r="4.6"/><circle cx="919" cy="1652" r="4.6"/><circle cx="925" cy="1650" r="4.6"/><circle cx="869" cy="1661" r="4.6"/><circle cx="879" cy="1663" r="4.6"/><circle cx="885" cy="1660" r="4.6"/><circle cx="901" cy="1656" r="4.6"/><circle cx="907" cy="1656" r="4.6"/><circle cx="897" cy="1665" r="4.6"/><circle cx="926" cy="1662" r="4.6"/><circle cx="926" cy="1667" r="4.6"/><circle cx="874" cy="1673" r="4.6"/><circle cx="879" cy="1673" r="4.6"/><circle cx="884" cy="1672" r="4.6"/><circle cx="898" cy="1673" r="4.6"/><circle cx="909" cy="1672" r="4.6"/><circle cx="897" cy="1687" r="4.6"/><circle cx="909" cy="1683" r="4.6"/><circle cx="882" cy="1693" r="4.6"/><circle cx="924" cy="1693" r="4.6"/><circle cx="882" cy="1705" r="4.6"/><circle cx="928" cy="1702" r="4.6"/><circle cx="869" cy="1716" r="4.6"/><circle cx="882" cy="1716" r="4.6"/><circle cx="909" cy="1717" r="4.6"/><circle cx="920" cy="1718" r="4.6"/><circle cx="882" cy="1723" r="4.6"/><circle cx="882" cy="1728" r="4.6"/><circle cx="884" cy="1733" r="4.6"/><circle cx="920" cy="1734" r="4.6"/><circle cx="924" cy="1738" r="4.6"/><circle cx="927" cy="1742" r="4.6"/><circle cx="867" cy="1746" r="4.6"/><circle cx="909" cy="1744" r="4.6"/><circle cx="915" cy="1752" r="4.6"/><circle cx="927" cy="1751" r="4.6"/><circle cx="907" cy="1767" r="4.6"/><circle cx="915" cy="1768" r="4.6"/><circle cx="924" cy="1768" r="4.6"/><circle cx="928" cy="1769" r="4.6"/><circle cx="884" cy="1772" r="4.6"/><circle cx="884" cy="1782" r="4.6"/><circle cx="884" cy="1787" r="4.6"/><circle cx="904" cy="1782" r="4.6"/><circle cx="909" cy="1779" r="4.6"/><circle cx="909" cy="1790" r="4.6"/><circle cx="882" cy="1802" r="4.6"/><circle cx="894" cy="1807" r="4.6"/><circle cx="897" cy="1813" r="4.6"/><circle cx="900" cy="1808" r="4.6"/><circle cx="907" cy="1801" r="4.6"/><circle cx="925" cy="1805" r="4.6"/><circle cx="915" cy="1818" r="4.6"/><circle cx="907" cy="1827" r="4.6"/><circle cx="915" cy="1832" r="4.6"/><circle cx="898" cy="1835" r="4.6"/><circle cx="901" cy="1860" r="4.6"/><circle cx="926" cy="1860" r="4.6"/><circle cx="867" cy="1869" r="4.6"/><circle cx="904" cy="1869" r="4.6"/><circle cx="915" cy="1869" r="4.6"/><circle cx="884" cy="1738" r="4.6"/><circle cx="886" cy="1749" r="4.6"/><circle cx="886" cy="1747" r="4.6"/><circle cx="886" cy="1745" r="4.6"/><circle cx="886" cy="1741" r="4.6"/></g>
<path stroke="#00F" stroke-width="4.5" stroke-opacity="0.1" d="M928.65 1640v3M928.65 1645v1M928.65 1648v2M928.65 1652v1M928.65 1654v1M928.65 1657v2M928.65 1667v1M928.65 1682v6M928.65 1701v6M928.65 1714v1M928.65 1718v2M928.65 1722v3M928.65 1727v3M928.65 1732v1M928.65 1735v1M928.65 1752v1M928.65 1765v2M928.65 1770v4M928.65 1777v3M928.65 1785v7M928.65 1799v1M928.65 1802v3M928.65 1808v2M928.65 1812v3M928.65 1816v3M928.65 1825v3M928.65 1830v7M928.65 1858v1M928.65 1861v1"/><path stroke="#00F" stroke-width="4.5" stroke-opacity="0.2" d="M928.65 1646v2M928.65 1650v2M928.65 1655v2M928.65 1659v8M928.65 1670v2M928.65 1673v2M928.65 1692v3M928.65 1715v3M928.65 1733v2M928.65 1737v15M928.65 1767v3M928.65 1780v3M928.65 1800v2M928.65 1805v3M928.65 1859v2"/><path stroke="#00F" stroke-width="4.5" stroke-opacity="0.3" d="M928.65 1672v1"/>
</g>
<path stroke="#00F" stroke-width="8.5" stroke-opacity="0.1" d="M870 1629.05h1"/><path stroke="#00F" stroke-width="8.5" stroke-opacity="0.15" d="M872 1629.05h1M876 1629.05h1M892 1629.05h1M917 1629.05h1M929 1629.05h1"/><path stroke="#00F" stroke-width="8.5" stroke-opacity="0.2" d="M865 1629.05h1M873 1629.05h1M875 1629.05h1M893 1629.05h1M910 1629.05h1M913 1629.05h1"/><path stroke="#00F" stroke-width="8.5" stroke-opacity="0.25" d="M866 1629.05h1M869 1629.05h1M874 1629.05h1M877 1629.05h3M887 1629.05h1M894 1629.05h1M899 1629.05h1M903 1629.05h3M920 1629.05h1M922 1629.05h1"/><path stroke="#00F" stroke-width="8.5" stroke-opacity="0.3" d="M867 1629.05h2M880 1629.05h1M895 1629.05h1M898 1629.05h1M900 1629.05h3M918 1629.05h2M923 1629.05h1M928 1629.05h1"/><path stroke="#00F" stroke-width="8.5" stroke-opacity="0.35" d="M886 1629.05h1M896 1629.05h2M906 1629.05h1M916 1629.05h1"/><path stroke="#00F" stroke-width="8.5" stroke-opacity="0.4" d="M881 1629.05h1M885 1629.05h1M909 1629.05h1M914 1629.05h2M924 1629.05h2M927 1629.05h1"/><path stroke="#00F" stroke-width="8.5" stroke-opacity="0.45" d="M882 1629.05h3M907 1629.05h2M926 1629.05h1"/>
<line x1="863.6" x2="930.9" y1="1871.3" y2="1871.3" stroke="#000" stroke-width="3.3"/>
<rect x="947.55" y="1574.5" width="67.3" height="49.8" fill="#EEEEEE"/>
<text x="979.6" y="1608.1" font-size="24" font-weight="bold" text-anchor="middle">10</text>
<line x1="947.55" x2="1014.85" y1="1651.3" y2="1651.3" stroke="#E4E4E4" stroke-width="2.4"/>
<line x1="947.55" x2="1014.85" y1="1710.97" y2="1710.97" stroke="#E4E4E4" stroke-width="2.4"/>
<line x1="947.55" x2="1014.85" y1="1770.63" y2="1770.63" stroke="#E4E4E4" stroke-width="2.4"/>
<line x1="947.55" x2="1014.85" y1="1830.3" y2="1830.3" stroke="#E4E4E4" stroke-width="2.4"/>
<clipPath id="cc9"><rect x="947.55" y="1624.3" width="67.3" height="247"/></clipPath><g clip-path="url(#cc9)">
<g class="pt" fill="url(#pg)"><circle cx="962" cy="1648" r="4.6"/><circle cx="971" cy="1645" r="4.6"/><circle cx="984" cy="1649" r="4.6"/><circle cx="989" cy="1655" r="4.6"/><circle cx="1007" cy="1659" r="4.6"/><circle cx="1012" cy="1649" r="4.6"/><circle cx="954" cy="1662" r="4.6"/><circle cx="962" cy="1673" r="4.6"/><circle cx="964" cy="1677" r="4.6"/><circle cx="952" cy="1677" r="4.6"/><circle cx="974" cy="1670" r="4.6"/><circle cx="977" cy="1660" r="4.6"/><circle cx="979" cy="1658" r="4.6"/><circle cx="972" cy="1683" r="4.6"/><circle cx="970" cy="1688" r="4.6"/><circle cx="984" cy="1679" r="4.6"/><circle cx="962" cy="1692" r="4.6"/><circle cx="963" cy="1698" r="4.6"/><circle cx="972" cy="1700" r="4.6"/><circle cx="953" cy="1703" r="4.6"/><circle cx="999" cy="1692" r="4.6"/><circle cx="1002" cy="1698" r="4.6"/><circle cx="997" cy="1702" r="4.6"/><circle cx="972" cy="1712" r="4.6"/><circle cx="972" cy="1717" r="4.6"/><circle cx="973" cy="1721" r="4.6"/><circle cx="998" cy="1728" r="4.6"/><circle cx="999" cy="1733" r="4.6"/><circle cx="1002" cy="1740" r="4.6"/><circle cx="1007" cy="1755" r="4.6"/><circle cx="952" cy="1776" r="4.6"/><circle cx="963" cy="1772" r="4.6"/><circle cx="985" cy="1775" r="4.6"/><circle cx="1000" cy="1771" r="4.6"/><circle cx="955" cy="1789" r="4.6"/><circle cx="963" cy="1787" r="4.6"/><circle cx="973" cy="1782" r="4.6"/><circle cx="974" cy="1786" r="4.6"/><circle cx="984" cy="1792" r="4.6"/><circle cx="994" cy="1782" r="4.6"/><circle cx="999" cy="1787" r="4.6"/><circle cx="997" cy="1793" r="4.6"/><circle cx="1005" cy="1783" r="4.6"/><circle cx="1012" cy="1782" r="4.6"/><circle cx="974" cy="1805" r="4.6"/><circle cx="974" cy="1810" r="4.6"/><circle cx="973" cy="1813" r="4.6"/><circle cx="990" cy="1803" r="4.6"/><circle cx="995" cy="1809" r="4.6"/><circle cx="974" cy="1825" r="4.6"/><circle cx="984" cy="1837" r="4.6"/><circle cx="994" cy="1840" r="4.6"/><circle cx="999" cy="1834" r="4.6"/><circle cx="1012" cy="1832" r="4.6"/><circle cx="1011" cy="1860" r="4.6"/><circle cx="952" cy="1869" r="4.6"/><circle cx="989" cy="1665" r="4.6"/><circle cx="995" cy="1678" r="4.6"/><circle cx="1003" cy="1667" r="4.6"/><circle cx="1003" cy="1681" r="4.6"/><circle cx="995" cy="1676" r="4.6"/><circle cx="992" cy="1669" r="4.6"/><circle cx="990" cy="1667" r="4.6"/><circle cx="987" cy="1669" r="4.6"/><circle cx="1004" cy="1664" r="4.6"/><circle cx="990" cy="1681" r="4.6"/><circle cx="993" cy="1666" r="4.6"/><circle cx="989" cy="1661" r="4.6"/><circle cx="1006" cy="1677" r="4.6"/><circle cx="1008" cy="1681" r="4.6"/><circle cx="1000" cy="1682" r="4.6"/><circle cx="991" cy="1677" r="4.6"/><circle cx="1004" cy="1664" r="4.6"/><circle cx="1007" cy="1683" r="4.6"/><circle cx="990" cy="1664" r="4.6"/><circle cx="988" cy="1664" r="4.6"/><circle cx="992" cy="1714" r="4.6"/><circle cx="990" cy="1708" r="4.6"/><circle cx="996" cy="1714" r="4.6"/><circle cx="987" cy="1714" r="4.6"/><circle cx="996" cy="1709" r="4.6"/><circle cx="993" cy="1706" r="4.6"/><circle cx="996" cy="1737" r="4.6"/><circle cx="1000" cy="1744" r="4.6"/><circle cx="993" cy="1740" r="4.6"/><circle cx="998" cy="1741" r="4.6"/><circle cx="1000" cy="1745" r="4.6"/><circle cx="1001" cy="1738" r="4.6"/></g>
<path stroke="#00F" stroke-width="4.5" stroke-opacity="0.1" d="M1012.6 1643v4M1012.6 1650v1M1012.6 1653v5M1012.6 1671v4M1012.6 1684v1M1012.6 1687v4M1012.6 1693v1M1012.6 1703v1M1012.6 1705v1M1012.6 1709v4M1012.6 1716v2M1012.6 1719v4M1012.6 1726v3M1012.6 1732v5M1012.6 1742v2M1012.6 1746v1M1012.6 1753v4M1012.6 1769v1M1012.6 1772v2M1012.6 1777v1M1012.6 1784v1M1012.6 1788v4M1012.6 1793v2M1012.6 1802v1M1012.6 1805v3M1012.6 1811v4M1012.6 1823v4M1012.6 1830v12M1012.6 1858v4"/><path stroke="#00F" stroke-width="4.5" stroke-opacity="0.2" d="M1012.6 1647v3M1012.6 1658v5M1012.6 1666v5M1012.6 1675v1M1012.6 1678v3M1012.6 1682v2M1012.6 1691v2M1012.6 1697v6M1012.6 1704v1M1012.6 1706v3M1012.6 1713v3M1012.6 1737v5M1012.6 1744v2M1012.6 1770v2M1012.6 1774v3M1012.6 1780v2M1012.6 1783v1M1012.6 1785v3M1012.6 1792v1M1012.6 1803v2M1012.6 1808v3"/><path stroke="#00F" stroke-width="4.5" stroke-opacity="0.3" d="M1012.6 1663v3M1012.6 1676v2M1012.6 1681v1M1012.6 1782v1"/>
</g>
<path stroke="#00F" stroke-width="8.5" stroke-opacity="0.1" d="M965 1629.05h1M968 1629.05h1M980 1629.05h1"/><path stroke="#00F" stroke-width="8.5" stroke-opacity="0.15" d="M956 1629.05h1M1009 1629.05h1"/><path stroke="#00F" stroke-width="8.5" stroke-opacity="0.2" d="M950 1629.05h1M955 1629.05h1M960 1629.05h1M969 1629.05h1M975 1629.05h2M978 1629.05h2M1013 1629.05h1"/><path stroke="#00F" stroke-width="8.5" stroke-opacity="0.25" d="M954 1629.05h1M964 1629.05h1M977 1629.05h1M1008 1629.05h1M1010 1629.05h1"/><path stroke="#00F" stroke-width="8.5" stroke-opacity="0.3" d="M951 1629.05h1M953 1629.05h1M986 1629.05h1M1012 1629.05h1"/><path stroke="#00F" stroke-width="8.5" stroke-opacity="0.35" d="M952 1629.05h1M961 1629.05h1M963 1629.05h1M970 1629.05h1M983 1629.05h2M987 1629.05h1M1001 1629.05h7M1011 1629.05h1"/><path stroke="#00F" stroke-width="8.5" stroke-opacity="0.4" d="M962 1629.05h1M974 1629.05h1M985 1629.05h1M988 1629.05h1M992 1629.05h1M995 1629.05h2M1000 1629.05h1"/><path stroke="#00F" stroke-width="8.5" stroke-opacity="0.45" d="M971 1629.05h1M973 1629.05h1M989 1629.05h3M993 1629.05h2M997 1629.05h3"/><path stroke="#00F" stroke-width="8.5" stroke-opacity="0.5" d="M972 1629.05h1"/>
<line x1="947.55" x2="1014.85" y1="1871.3" y2="1871.3" stroke="#000" stroke-width="3.3"/>
<rect x="1031.5" y="1574.5" width="67.3" height="49.8" fill="#EEEEEE"/>
<text x="1063.55" y="1608.1" font-size="24" font-weight="bold" text-anchor="middle">11</text>
<line x1="1031.5" x2="1098.8" y1="1651.3" y2="1651.3" stroke="#E4E4E4" stroke-width="2.4"/>
<line x1="1031.5" x2="1098.8" y1="1710.97" y2="1710.97" stroke="#E4E4E4" stroke-width="2.4"/>
<line x1="1031.5" x2="1098.8" y1="1770.63" y2="1770.63" stroke="#E4E4E4" stroke-width="2.4"/>
<line x1="1031.5" x2="1098.8" y1="1830.3" y2="1830.3" stroke="#E4E4E4" stroke-width="2.4"/>
<clipPath id="cc10"><rect x="1031.5" y="1624.3" width="67.3" height="247"/></clipPath><g clip-path="url(#cc10)">
<g class="pt" fill="url(#pg)"><circle cx="1043" cy="1643" r="4.6"/><circle cx="1047" cy="1655" r="4.6"/><circle cx="1054" cy="1658" r="4.6"/><circle cx="1059" cy="1660" r="4.6"/><circle cx="1072" cy="1662" r="4.6"/><circle cx="1092" cy="1661" r="4.6"/><circle cx="1054" cy="1679" r="4.6"/><circle cx="1055" cy="1696" r="4.6"/><circle cx="1060" cy="1700" r="4.6"/><circle cx="1035" cy="1702" r="4.6"/><circle cx="1061" cy="1716" r="4.6"/><circle cx="1043" cy="1731" r="4.6"/><circle cx="1069" cy="1729" r="4.6"/><circle cx="1075" cy="1729" r="4.6"/><circle cx="1060" cy="1738" r="4.6"/><circle cx="1050" cy="1743" r="4.6"/><circle cx="1047" cy="1748" r="4.6"/><circle cx="1054" cy="1750" r="4.6"/><circle cx="1068" cy="1740" r="4.6"/><circle cx="1046" cy="1762" r="4.6"/><circle cx="1060" cy="1762" r="4.6"/><circle cx="1066" cy="1758" r="4.6"/><circle cx="1060" cy="1771" r="4.6"/><circle cx="1065" cy="1772" r="4.6"/><circle cx="1054" cy="1784" r="4.6"/><circle cx="1065" cy="1783" r="4.6"/><circle cx="1060" cy="1791" r="4.6"/><circle cx="1074" cy="1788" r="4.6"/><circle cx="1056" cy="1810" r="4.6"/><circle cx="1080" cy="1813" r="4.6"/><circle cx="1085" cy="1817" r="4.6"/><circle cx="1094" cy="1810" r="4.6"/><circle cx="1046" cy="1822" r="4.6"/><circle cx="1074" cy="1820" r="4.6"/><circle cx="1076" cy="1825" r="4.6"/><circle cx="1054" cy="1835" r="4.6"/><circle cx="1058" cy="1837" r="4.6"/><circle cx="1077" cy="1837" r="4.6"/><circle cx="1082" cy="1842" r="4.6"/><circle cx="1089" cy="1846" r="4.6"/><circle cx="1089" cy="1831" r="4.6"/><circle cx="1094" cy="1833" r="4.6"/><circle cx="1035" cy="1860" r="4.6"/><circle cx="1077" cy="1860" r="4.6"/><circle cx="1035" cy="1869" r="4.6"/><circle cx="1042" cy="1869" r="4.6"/><circle cx="1064" cy="1869" r="4.6"/><circle cx="1074" cy="1869" r="4.6"/><circle cx="1087" cy="1869" r="4.6"/><circle cx="1065" cy="1761" r="4.6"/><circle cx="1081" cy="1707" r="4.6"/><circle cx="1090" cy="1669" r="4.6"/><circle cx="1078" cy="1677" r="4.6"/><circle cx="1068" cy="1685" r="4.6"/><circle cx="1071" cy="1669" r="4.6"/><circle cx="1064" cy="1733" r="4.6"/><circle cx="1064" cy="1714" r="4.6"/><circle cx="1090" cy="1744" r="4.6"/><circle cx="1062" cy="1739" r="4.6"/><circle cx="1077" cy="1719" r="4.6"/><circle cx="1084" cy="1762" r="4.6"/><circle cx="1070" cy="1748" r="4.6"/><circle cx="1065" cy="1721" r="4.6"/><circle cx="1087" cy="1744" r="4.6"/><circle cx="1070" cy="1755" r="4.6"/><circle cx="1077" cy="1755" r="4.6"/><circle cx="1084" cy="1710" r="4.6"/><circle cx="1070" cy="1677" r="4.6"/><circle cx="1087" cy="1676" r="4.6"/><circle cx="1061" cy="1695" r="4.6"/><circle cx="1063" cy="1687" r="4.6"/><circle cx="1081" cy="1697" r="4.6"/><circle cx="1086" cy="1703" r="4.6"/><circle cx="1086" cy="1749" r="4.6"/><circle cx="1067" cy="1722" r="4.6"/><circle cx="1080" cy="1681" r="4.6"/><circle cx="1060" cy="1753" r="4.6"/><circle cx="1059" cy="1683" r="4.6"/><circle cx="1063" cy="1750" r="4.6"/><circle cx="1079" cy="1716" r="4.6"/><circle cx="1074" cy="1763" r="4.6"/><circle cx="1065" cy="1749" r="4.6"/><circle cx="1068" cy="1691" r="4.6"/><circle cx="1081" cy="1706" r="4.6"/><circle cx="1077" cy="1735" r="4.6"/><circle cx="1060" cy="1703" r="4.6"/><circle cx="1071" cy="1748" r="4.6"/><circle cx="1083" cy="1709" r="4.6"/><circle cx="1071" cy="1744" r="4.6"/><circle cx="1082" cy="1668" r="4.6"/><circle cx="1084" cy="1752" r="4.6"/><circle cx="1068" cy="1733" r="4.6"/><circle cx="1074" cy="1690" r="4.6"/><circle cx="1061" cy="1719" r="4.6"/><circle cx="1082" cy="1706" r="4.6"/><circle cx="1079" cy="1682" r="4.6"/><circle cx="1085" cy="1740" r="4.6"/><circle cx="1074" cy="1674" r="4.6"/><circle cx="1059" cy="1705" r="4.6"/><circle cx="1067" cy="1667" r="4.6"/><circle cx="1069" cy="1759" r="4.6"/><circle cx="1075" cy="1734" r="4.6"/><circle cx="1072" cy="1695" r="4.6"/><circle cx="1064" cy="1722" r="4.6"/><circle cx="1081" cy="1717" r="4.6"/><circle cx="1073" cy="1724" r="4.6"/><circle cx="1065" cy="1760" r="4.6"/><circle cx="1086" cy="1680" r="4.6"/><circle cx="1086" cy="1736" r="4.6"/><circle cx="1060" cy="1743" r="4.6"/><circle cx="1084" cy="1694" r="4.6"/><circle cx="1065" cy="1713" r="4.6"/><circle cx="1060" cy="1679" r="4.6"/><circle cx="1081" cy="1702" r="4.6"/><circle cx="1071" cy="1757" r="4.6"/><circle cx="1084" cy="1694" r="4.6"/><circle cx="1060" cy="1667" r="4.6"/><circle cx="1080" cy="1720" r="4.6"/><circle cx="1090" cy="1719" r="4.6"/><circle cx="1078" cy="1746" r="4.6"/><circle cx="1075" cy="1715" r="4.6"/><circle cx="1070" cy="1714" r="4.6"/><circle cx="1081" cy="1714" r="4.6"/><circle cx="1082" cy="1702" r="4.6"/><circle cx="1078" cy="1706" r="4.6"/><circle cx="1076" cy="1743" r="4.6"/><circle cx="1062" cy="1667" r="4.6"/><circle cx="1066" cy="1687" r="4.6"/><circle cx="1063" cy="1722" r="4.6"/><circle cx="1073" cy="1710" r="4.6"/><circle cx="1083" cy="1676" r="4.6"/><circle cx="1088" cy="1744" r="4.6"/><circle cx="1067" cy="1741" r="4.6"/><circle cx="1086" cy="1663" r="4.6"/><circle cx="1070" cy="1737" r="4.6"/><circle cx="1069" cy="1681" r="4.6"/><circle cx="1068" cy="1693" r="4.6"/><circle cx="1081" cy="1715" r="4.6"/><circle cx="1070" cy="1765" r="4.6"/><circle cx="1070" cy="1720" r="4.6"/><circle cx="1087" cy="1765" r="4.6"/><circle cx="1072" cy="1703" r="4.6"/><circle cx="1078" cy="1718" r="4.6"/><circle cx="1076" cy="1720" r="4.6"/><circle cx="1065" cy="1681" r="4.6"/><circle cx="1076" cy="1687" r="4.6"/><circle cx="1073" cy="1667" r="4.6"/><circle cx="1070" cy="1680" r="4.6"/><circle cx="1074" cy="1757" r="4.6"/><circle cx="1064" cy="1685" r="4.6"/><circle cx="1069" cy="1693" r="4.6"/><circle cx="1062" cy="1672" r="4.6"/><circle cx="1080" cy="1752" r="4.6"/><circle cx="1059" cy="1742" r="4.6"/><circle cx="1084" cy="1740" r="4.6"/><circle cx="1083" cy="1673" r="4.6"/><circle cx="1068" cy="1751" r="4.6"/><circle cx="1075" cy="1744" r="4.6"/><circle cx="1067" cy="1751" r="4.6"/><circle cx="1087" cy="1681" r="4.6"/><circle cx="1082" cy="1767" r="4.6"/><circle cx="1060" cy="1688" r="4.6"/><circle cx="1087" cy="1736" r="4.6"/><circle cx="1070" cy="1681" r="4.6"/><circle cx="1087" cy="1668" r="4.6"/><circle cx="1090" cy="1667" r="4.6"/><circle cx="1069" cy="1715" r="4.6"/><circle cx="1077" cy="1748" r="4.6"/><circle cx="1072" cy="1760" r="4.6"/><circle cx="1069" cy="1700" r="4.6"/><circle cx="1090" cy="1697" r="4.6"/><circle cx="1074" cy="1670" r="4.6"/><circle cx="1084" cy="1717" r="4.6"/><circle cx="1086" cy="1733" r="4.6"/><circle cx="1072" cy="1669" r="4.6"/><circle cx="1070" cy="1714" r="4.6"/><circle cx="1071" cy="1710" r="4.6"/><circle cx="1066" cy="1686" r="4.6"/><circle cx="1088" cy="1745" r="4.6"/><circle cx="1070" cy="1749" r="4.6"/><circle cx="1061" cy="1730" r="4.6"/><circle cx="1067" cy="1693" r="4.6"/><circle cx="1075" cy="1723" r="4.6"/><circle cx="1068" cy="1689" r="4.6"/><circle cx="1071" cy="1749" r="4.6"/><circle cx="1088" cy="1755" r="4.6"/><circle cx="1082" cy="1763" r="4.6"/><circle cx="1060" cy="1754" r="4.6"/><circle cx="1070" cy="1667" r="4.6"/><circle cx="1065" cy="1752" r="4.6"/><circle cx="1080" cy="1672" r="4.6"/><circle cx="1069" cy="1759" r="4.6"/><circle cx="1090" cy="1763" r="4.6"/><circle cx="1087" cy="1759" r="4.6"/><circle cx="1087" cy="1712" r="4.6"/><circle cx="1067" cy="1720" r="4.6"/><circle cx="1060" cy="1720" r="4.6"/><circle cx="1067" cy="1685" r="4.6"/><circle cx="1072" cy="1732" r="4.6"/><circle cx="1086" cy="1772" r="4.6"/><circle cx="1095" cy="1777" r="4.6"/><circle cx="1088" cy="1804" r="4.6"/><circle cx="1089" cy="1786" r="4.6"/><circle cx="1093" cy="1771" r="4.6"/><circle cx="1087" cy="1772" r="4.6"/><circle cx="1086" cy="1780" r="4.6"/><circle cx="1092" cy="1787" r="4.6"/><circle cx="1080" cy="1775" r="4.6"/><circle cx="1079" cy="1789" r="4.6"/><circle cx="1093" cy="1808" r="4.6"/><circle cx="1091" cy="1770" r="4.6"/><circle cx="1089" cy="1778" r="4.6"/><circle cx="1079" cy="1772" r="4.6"/><circle cx="1091" cy="1770" r="4.6"/><circle cx="1093" cy="1781" r="4.6"/><circle cx="1084" cy="1807" r="4.6"/><circle cx="1080" cy="1786" r="4.6"/><circle cx="1093" cy="1795" r="4.6"/><circle cx="1081" cy="1771" r="4.6"/><circle cx="1092" cy="1795" r="4.6"/><circle cx="1094" cy="1775" r="4.6"/><circle cx="1082" cy="1798" r="4.6"/><circle cx="1083" cy="1811" r="4.6"/><circle cx="1083" cy="1772" r="4.6"/><circle cx="1086" cy="1771" r="4.6"/><circle cx="1084" cy="1809" r="4.6"/><circle cx="1089" cy="1786" r="4.6"/><circle cx="1089" cy="1804" r="4.6"/><circle cx="1078" cy="1810" r="4.6"/><circle cx="1094" cy="1785" r="4.6"/><circle cx="1081" cy="1799" r="4.6"/><circle cx="1087" cy="1772" r="4.6"/><circle cx="1088" cy="1790" r="4.6"/><circle cx="1088" cy="1768" r="4.6"/><circle cx="1087" cy="1787" r="4.6"/><circle cx="1093" cy="1799" r="4.6"/><circle cx="1090" cy="1792" r="4.6"/><circle cx="1081" cy="1804" r="4.6"/><circle cx="1082" cy="1810" r="4.6"/><circle cx="1087" cy="1785" r="4.6"/><circle cx="1084" cy="1788" r="4.6"/><circle cx="1086" cy="1774" r="4.6"/><circle cx="1085" cy="1769" r="4.6"/><circle cx="1087" cy="1772" r="4.6"/><circle cx="1081" cy="1768" r="4.6"/><circle cx="1086" cy="1768" r="4.6"/><circle cx="1086" cy="1796" r="4.6"/><circle cx="1079" cy="1782" r="4.6"/><circle cx="1082" cy="1787" r="4.6"/><circle cx="1083" cy="1783" r="4.6"/><circle cx="1093" cy="1768" r="4.6"/><circle cx="1094" cy="1807" r="4.6"/><circle cx="1089" cy="1801" r="4.6"/><circle cx="1090" cy="1786" r="4.6"/></g>
<path stroke="#00F" stroke-width="4.5" stroke-opacity="0.1" d="M1096.55 1642v3M1096.55 1653v5M1096.55 1664v1M1096.55 1698v1M1096.55 1724v2M1096.55 1727v1M1096.55 1792v1M1096.55 1801v2M1096.55 1805v1M1096.55 1812v15M1096.55 1829v4M1096.55 1840v3M1096.55 1844v4M1096.55 1858v1M1096.55 1861v1"/><path stroke="#00F" stroke-width="4.5" stroke-opacity="0.2" d="M1096.55 1658v6M1096.55 1665v1M1096.55 1670v6M1096.55 1677v2M1096.55 1682v3M1096.55 1689v4M1096.55 1696v2M1096.55 1699v2M1096.55 1704v1M1096.55 1707v2M1096.55 1711v2M1096.55 1723v1M1096.55 1728v4M1096.55 1735v4M1096.55 1741v1M1096.55 1745v2M1096.55 1756v2M1096.55 1764v3M1096.55 1773v9M1096.55 1783v1M1096.55 1789v3M1096.55 1793v8M1096.55 1803v2M1096.55 1806v2M1096.55 1811v1M1096.55 1833v5M1096.55 1859v2"/><path stroke="#00F" stroke-width="4.5" stroke-opacity="0.3" d="M1096.55 1666v1M1096.55 1668v2M1096.55 1676v1M1096.55 1679v3M1096.55 1685v4M1096.55 1693v3M1096.55 1701v3M1096.55 1705v2M1096.55 1709v2M1096.55 1713v6M1096.55 1721v2M1096.55 1732v3M1096.55 1739v2M1096.55 1742v1M1096.55 1744v1M1096.55 1747v1M1096.55 1749v7M1096.55 1758v6M1096.55 1767v3M1096.55 1772v1M1096.55 1782v1M1096.55 1784v2M1096.55 1787v2M1096.55 1808v3"/><path stroke="#00F" stroke-width="4.5" stroke-opacity="0.4" d="M1096.55 1667v1M1096.55 1719v2M1096.55 1743v1M1096.55 1748v1M1096.55 1770v2M1096.55 1786v1"/>
</g>
<path stroke="#00F" stroke-width="8.5" stroke-opacity="0.1" d="M1096 1629.05h1"/><path stroke="#00F" stroke-width="8.5" stroke-opacity="0.15" d="M1033 1629.05h1M1040 1629.05h1M1051 1629.05h1"/><path stroke="#00F" stroke-width="8.5" stroke-opacity="0.2" d="M1044 1629.05h1M1048 1629.05h3"/><path stroke="#00F" stroke-width="8.5" stroke-opacity="0.25" d="M1036 1629.05h1M1041 1629.05h1M1043 1629.05h1M1056 1629.05h1"/><path stroke="#00F" stroke-width="8.5" stroke-opacity="0.3" d="M1034 1629.05h2M1042 1629.05h1M1045 1629.05h1M1047 1629.05h1M1055 1629.05h1M1095 1629.05h1"/><path stroke="#00F" stroke-width="8.5" stroke-opacity="0.35" d="M1046 1629.05h1M1052 1629.05h2M1057 1629.05h1"/><path stroke="#00F" stroke-width="8.5" stroke-opacity="0.4" d="M1054 1629.05h1"/><path stroke="#00F" stroke-width="8.5" stroke-opacity="0.45" d="M1058 1629.05h1M1094 1629.05h1"/><path stroke="#00F" stroke-width="8.5" stroke-opacity="0.5" d="M1062 1629.05h2M1091 1629.05h3"/><path stroke="#00F" stroke-width="8.5" stroke-opacity="0.55" d="M1061 1629.05h1M1064 1629.05h2M1071 1629.05h8M1089 1629.05h2"/><path stroke="#00F" stroke-width="8.5" stroke-opacity="0.6" d="M1059 1629.05h2M1066 1629.05h2M1070 1629.05h1M1079 1629.05h1M1083 1629.05h2M1088 1629.05h1"/><path stroke="#00F" stroke-width="8.5" stroke-opacity="0.65" d="M1068 1629.05h2M1080 1629.05h3M1085 1629.05h3"/>
<line x1="1031.5" x2="1098.8" y1="1871.3" y2="1871.3" stroke="#000" stroke-width="3.3"/>
<rect x="1115.45" y="1574.5" width="67.3" height="49.8" fill="#EEEEEE"/>
<text x="1147.5" y="1608.1" font-size="24" font-weight="bold" text-anchor="middle">12</text>
<line x1="1115.45" x2="1182.75" y1="1651.3" y2="1651.3" stroke="#E4E4E4" stroke-width="2.4"/>
<line x1="1115.45" x2="1182.75" y1="1710.97" y2="1710.97" stroke="#E4E4E4" stroke-width="2.4"/>
<line x1="1115.45" x2="1182.75" y1="1770.63" y2="1770.63" stroke="#E4E4E4" stroke-width="2.4"/>
<line x1="1115.45" x2="1182.75" y1="1830.3" y2="1830.3" stroke="#E4E4E4" stroke-width="2.4"/>
<clipPath id="cc11"><rect x="1115.45" y="1624.3" width="67.3" height="247"/></clipPath><g clip-path="url(#cc11)">
<g class="pt" fill="url(#pg)"><circle cx="1154" cy="1640" r="4.6"/><circle cx="1170" cy="1645" r="4.6"/><circle cx="1175" cy="1652" r="4.6"/><circle cx="1179" cy="1655" r="4.6"/><circle cx="1130" cy="1651" r="4.6"/><circle cx="1135" cy="1652" r="4.6"/><circle cx="1139" cy="1655" r="4.6"/><circle cx="1144" cy="1660" r="4.6"/><circle cx="1125" cy="1662" r="4.6"/><circle cx="1140" cy="1668" r="4.6"/><circle cx="1135" cy="1675" r="4.6"/><circle cx="1120" cy="1673" r="4.6"/><circle cx="1160" cy="1655" r="4.6"/><circle cx="1162" cy="1658" r="4.6"/><circle cx="1155" cy="1663" r="4.6"/><circle cx="1176" cy="1666" r="4.6"/><circle cx="1121" cy="1688" r="4.6"/><circle cx="1143" cy="1692" r="4.6"/><circle cx="1156" cy="1688" r="4.6"/><circle cx="1180" cy="1692" r="4.6"/><circle cx="1180" cy="1695" r="4.6"/><circle cx="1156" cy="1702" r="4.6"/><circle cx="1163" cy="1704" r="4.6"/><circle cx="1121" cy="1712" r="4.6"/><circle cx="1121" cy="1722" r="4.6"/><circle cx="1139" cy="1732" r="4.6"/><circle cx="1170" cy="1731" r="4.6"/><circle cx="1179" cy="1731" r="4.6"/><circle cx="1154" cy="1752" r="4.6"/><circle cx="1160" cy="1752" r="4.6"/><circle cx="1170" cy="1753" r="4.6"/><circle cx="1120" cy="1765" r="4.6"/><circle cx="1122" cy="1772" r="4.6"/><circle cx="1120" cy="1775" r="4.6"/><circle cx="1154" cy="1781" r="4.6"/><circle cx="1160" cy="1785" r="4.6"/><circle cx="1180" cy="1780" r="4.6"/><circle cx="1174" cy="1788" r="4.6"/><circle cx="1122" cy="1793" r="4.6"/><circle cx="1125" cy="1795" r="4.6"/><circle cx="1121" cy="1803" r="4.6"/><circle cx="1129" cy="1803" r="4.6"/><circle cx="1135" cy="1805" r="4.6"/><circle cx="1140" cy="1795" r="4.6"/><circle cx="1160" cy="1798" r="4.6"/><circle cx="1160" cy="1804" r="4.6"/><circle cx="1162" cy="1811" r="4.6"/><circle cx="1134" cy="1814" r="4.6"/><circle cx="1154" cy="1830" r="4.6"/><circle cx="1174" cy="1851" r="4.6"/><circle cx="1124" cy="1860" r="4.6"/><circle cx="1159" cy="1869" r="4.6"/><circle cx="1175" cy="1869" r="4.6"/></g>
<g class="pt" fill="url(#pr)"><circle cx="1134" cy="1784" r="4.6"/><circle cx="1134" cy="1860" r="4.6"/><circle cx="1134" cy="1869" r="4.6"/></g>
<path stroke="#00F" stroke-width="4.5" stroke-opacity="0.1" d="M1180.5 1638v4M1180.5 1643v4M1180.5 1649v1M1180.5 1653v1M1180.5 1656v2M1180.5 1660v2M1180.5 1664v2M1180.5 1667v2M1180.5 1672v1M1180.5 1675v2M1180.5 1686v1M1180.5 1689v2M1180.5 1693v4M1180.5 1700v6M1180.5 1710v3M1180.5 1721v3M1180.5 1729v1M1180.5 1750v1M1180.5 1754v1M1180.5 1763v4M1180.5 1770v7M1180.5 1778v1M1180.5 1782v1M1180.5 1786v4M1180.5 1792v1M1180.5 1797v2M1180.5 1806v1M1180.5 1809v7M1180.5 1828v4M1180.5 1849v4M1180.5 1858v1M1180.5 1861v1"/><path stroke="#00F" stroke-width="4.5" stroke-opacity="0.2" d="M1180.5 1650v3M1180.5 1654v2M1180.5 1658v2M1180.5 1662v2M1180.5 1666v1M1180.5 1673v2M1180.5 1687v2M1180.5 1691v2M1180.5 1730v3M1180.5 1751v3M1180.5 1779v3M1180.5 1783v3M1180.5 1793v4M1180.5 1802v4M1180.5 1859v2"/>
</g>
<path stroke="#00F" stroke-width="8.5" stroke-opacity="0.1" d="M1145 1629.05h1M1164 1629.05h1"/><path stroke="#00F" stroke-width="8.5" stroke-opacity="0.15" d="M1127 1629.05h1M1131 1629.05h1M1172 1629.05h1"/><path stroke="#00F" stroke-width="8.5" stroke-opacity="0.2" d="M1128 1629.05h1M1130 1629.05h1M1141 1629.05h1M1144 1629.05h1M1168 1629.05h1"/><path stroke="#00F" stroke-width="8.5" stroke-opacity="0.25" d="M1118 1629.05h1M1123 1629.05h1M1126 1629.05h1M1129 1629.05h1M1136 1629.05h2M1140 1629.05h1M1142 1629.05h2M1157 1629.05h1M1163 1629.05h1M1171 1629.05h1M1173 1629.05h1M1177 1629.05h1"/><path stroke="#00F" stroke-width="8.5" stroke-opacity="0.3" d="M1124 1629.05h2M1138 1629.05h1M1152 1629.05h1M1155 1629.05h2M1158 1629.05h1M1162 1629.05h1M1169 1629.05h2M1176 1629.05h1M1180 1629.05h1"/><path stroke="#00F" stroke-width="8.5" stroke-opacity="0.35" d="M1119 1629.05h1M1122 1629.05h1M1133 1629.05h1M1139 1629.05h1M1153 1629.05h1M1174 1629.05h2M1178 1629.05h2"/><path stroke="#00F" stroke-width="8.5" stroke-opacity="0.4" d="M1121 1629.05h1M1134 1629.05h2M1154 1629.05h1M1159 1629.05h3"/><path stroke="#00F" stroke-width="8.5" stroke-opacity="0.45" d="M1120 1629.05h1"/>
<line x1="1115.45" x2="1182.75" y1="1871.3" y2="1871.3" stroke="#000" stroke-width="3.3"/>
<rect x="1199.4" y="1574.5" width="67.3" height="49.8" fill="#EEEEEE"/>
<text x="1231.45" y="1608.1" font-size="24" font-weight="bold" text-anchor="middle">13</text>
<line x1="1199.4" x2="1266.7" y1="1651.3" y2="1651.3" stroke="#E4E4E4" stroke-width="2.4"/>
<line x1="1199.4" x2="1266.7" y1="1710.97" y2="1710.97" stroke="#E4E4E4" stroke-width="2.4"/>
<line x1="1199.4" x2="1266.7" y1="1770.63" y2="1770.63" stroke="#E4E4E4" stroke-width="2.4"/>
<line x1="1199.4" x2="1266.7" y1="1830.3" y2="1830.3" stroke="#E4E4E4" stroke-width="2.4"/>
<clipPath id="cc12"><rect x="1199.4" y="1624.3" width="67.3" height="247"/></clipPath><g clip-path="url(#cc12)">
<g class="pt" fill="url(#pg)"><circle cx="1261" cy="1654" r="4.6"/><circle cx="1243" cy="1694" r="4.6"/><circle cx="1243" cy="1722" r="4.6"/><circle cx="1252" cy="1730" r="4.6"/><circle cx="1243" cy="1735" r="4.6"/><circle cx="1250" cy="1742" r="4.6"/><circle cx="1254" cy="1751" r="4.6"/><circle cx="1243" cy="1762" r="4.6"/><circle cx="1248" cy="1763" r="4.6"/><circle cx="1203" cy="1723" r="4.6"/><circle cx="1203" cy="1737" r="4.6"/><circle cx="1208" cy="1749" r="4.6"/><circle cx="1248" cy="1783" r="4.6"/><circle cx="1253" cy="1780" r="4.6"/><circle cx="1246" cy="1787" r="4.6"/><circle cx="1233" cy="1792" r="4.6"/><circle cx="1250" cy="1793" r="4.6"/><circle cx="1261" cy="1800" r="4.6"/><circle cx="1203" cy="1796" r="4.6"/><circle cx="1208" cy="1802" r="4.6"/><circle cx="1240" cy="1802" r="4.6"/><circle cx="1248" cy="1810" r="4.6"/><circle cx="1253" cy="1813" r="4.6"/><circle cx="1250" cy="1820" r="4.6"/><circle cx="1212" cy="1814" r="4.6"/><circle cx="1223" cy="1825" r="4.6"/><circle cx="1223" cy="1830" r="4.6"/><circle cx="1223" cy="1835" r="4.6"/><circle cx="1246" cy="1834" r="4.6"/><circle cx="1261" cy="1813" r="4.6"/><circle cx="1261" cy="1823" r="4.6"/><circle cx="1219" cy="1851" r="4.6"/><circle cx="1212" cy="1860" r="4.6"/><circle cx="1220" cy="1797" r="4.6"/><circle cx="1221" cy="1805" r="4.6"/><circle cx="1203" cy="1869" r="4.6"/><circle cx="1223" cy="1869" r="4.6"/><circle cx="1206" cy="1672" r="4.6"/><circle cx="1217" cy="1698" r="4.6"/><circle cx="1220" cy="1713" r="4.6"/><circle cx="1209" cy="1695" r="4.6"/><circle cx="1209" cy="1707" r="4.6"/><circle cx="1203" cy="1695" r="4.6"/><circle cx="1225" cy="1678" r="4.6"/><circle cx="1227" cy="1686" r="4.6"/><circle cx="1228" cy="1681" r="4.6"/><circle cx="1225" cy="1683" r="4.6"/><circle cx="1223" cy="1709" r="4.6"/><circle cx="1217" cy="1701" r="4.6"/><circle cx="1221" cy="1709" r="4.6"/><circle cx="1223" cy="1696" r="4.6"/><circle cx="1221" cy="1694" r="4.6"/><circle cx="1208" cy="1668" r="4.6"/><circle cx="1226" cy="1672" r="4.6"/><circle cx="1213" cy="1675" r="4.6"/><circle cx="1207" cy="1675" r="4.6"/><circle cx="1216" cy="1672" r="4.6"/><circle cx="1224" cy="1695" r="4.6"/><circle cx="1205" cy="1676" r="4.6"/><circle cx="1221" cy="1712" r="4.6"/><circle cx="1212" cy="1668" r="4.6"/><circle cx="1208" cy="1693" r="4.6"/><circle cx="1211" cy="1701" r="4.6"/><circle cx="1203" cy="1713" r="4.6"/><circle cx="1204" cy="1697" r="4.6"/><circle cx="1215" cy="1707" r="4.6"/><circle cx="1213" cy="1684" r="4.6"/><circle cx="1211" cy="1710" r="4.6"/><circle cx="1220" cy="1683" r="4.6"/><circle cx="1212" cy="1684" r="4.6"/><circle cx="1204" cy="1711" r="4.6"/><circle cx="1224" cy="1711" r="4.6"/><circle cx="1215" cy="1669" r="4.6"/><circle cx="1204" cy="1677" r="4.6"/><circle cx="1214" cy="1681" r="4.6"/><circle cx="1227" cy="1708" r="4.6"/><circle cx="1213" cy="1681" r="4.6"/><circle cx="1211" cy="1687" r="4.6"/><circle cx="1213" cy="1671" r="4.6"/><circle cx="1224" cy="1700" r="4.6"/><circle cx="1228" cy="1680" r="4.6"/><circle cx="1213" cy="1703" r="4.6"/><circle cx="1212" cy="1708" r="4.6"/><circle cx="1221" cy="1680" r="4.6"/><circle cx="1221" cy="1687" r="4.6"/><circle cx="1226" cy="1677" r="4.6"/><circle cx="1208" cy="1681" r="4.6"/><circle cx="1203" cy="1672" r="4.6"/><circle cx="1224" cy="1692" r="4.6"/><circle cx="1223" cy="1702" r="4.6"/><circle cx="1218" cy="1685" r="4.6"/><circle cx="1225" cy="1681" r="4.6"/><circle cx="1225" cy="1670" r="4.6"/><circle cx="1218" cy="1712" r="4.6"/><circle cx="1215" cy="1684" r="4.6"/><circle cx="1214" cy="1687" r="4.6"/><circle cx="1206" cy="1687" r="4.6"/><circle cx="1207" cy="1689" r="4.6"/><circle cx="1216" cy="1693" r="4.6"/><circle cx="1220" cy="1667" r="4.6"/><circle cx="1203" cy="1684" r="4.6"/><circle cx="1203" cy="1702" r="4.6"/><circle cx="1220" cy="1676" r="4.6"/><circle cx="1216" cy="1680" r="4.6"/><circle cx="1211" cy="1697" r="4.6"/><circle cx="1214" cy="1671" r="4.6"/><circle cx="1203" cy="1694" r="4.6"/><circle cx="1224" cy="1696" r="4.6"/><circle cx="1216" cy="1691" r="4.6"/><circle cx="1215" cy="1702" r="4.6"/><circle cx="1216" cy="1686" r="4.6"/><circle cx="1208" cy="1685" r="4.6"/><circle cx="1214" cy="1691" r="4.6"/><circle cx="1203" cy="1685" r="4.6"/><circle cx="1226" cy="1686" r="4.6"/><circle cx="1222" cy="1696" r="4.6"/><circle cx="1227" cy="1693" r="4.6"/><circle cx="1204" cy="1693" r="4.6"/><circle cx="1227" cy="1712" r="4.6"/><circle cx="1219" cy="1684" r="4.6"/><circle cx="1219" cy="1671" r="4.6"/><circle cx="1222" cy="1703" r="4.6"/><circle cx="1210" cy="1703" r="4.6"/><circle cx="1226" cy="1708" r="4.6"/><circle cx="1224" cy="1699" r="4.6"/><circle cx="1215" cy="1692" r="4.6"/><circle cx="1213" cy="1681" r="4.6"/><circle cx="1218" cy="1720" r="4.6"/><circle cx="1218" cy="1764" r="4.6"/><circle cx="1215" cy="1778" r="4.6"/><circle cx="1225" cy="1782" r="4.6"/><circle cx="1220" cy="1777" r="4.6"/><circle cx="1212" cy="1725" r="4.6"/><circle cx="1212" cy="1740" r="4.6"/><circle cx="1211" cy="1739" r="4.6"/><circle cx="1225" cy="1751" r="4.6"/><circle cx="1212" cy="1753" r="4.6"/><circle cx="1221" cy="1764" r="4.6"/><circle cx="1213" cy="1733" r="4.6"/><circle cx="1217" cy="1752" r="4.6"/><circle cx="1224" cy="1749" r="4.6"/><circle cx="1222" cy="1753" r="4.6"/><circle cx="1217" cy="1721" r="4.6"/><circle cx="1226" cy="1778" r="4.6"/><circle cx="1223" cy="1756" r="4.6"/><circle cx="1224" cy="1729" r="4.6"/><circle cx="1211" cy="1751" r="4.6"/><circle cx="1216" cy="1725" r="4.6"/><circle cx="1215" cy="1785" r="4.6"/><circle cx="1223" cy="1717" r="4.6"/><circle cx="1215" cy="1771" r="4.6"/><circle cx="1222" cy="1732" r="4.6"/><circle cx="1220" cy="1779" r="4.6"/><circle cx="1211" cy="1782" r="4.6"/><circle cx="1215" cy="1729" r="4.6"/><circle cx="1218" cy="1748" r="4.6"/><circle cx="1213" cy="1731" r="4.6"/><circle cx="1222" cy="1734" r="4.6"/><circle cx="1212" cy="1746" r="4.6"/><circle cx="1219" cy="1776" r="4.6"/><circle cx="1221" cy="1761" r="4.6"/><circle cx="1225" cy="1758" r="4.6"/><circle cx="1220" cy="1758" r="4.6"/><circle cx="1218" cy="1769" r="4.6"/><circle cx="1218" cy="1783" r="4.6"/><circle cx="1220" cy="1781" r="4.6"/><circle cx="1213" cy="1767" r="4.6"/><circle cx="1214" cy="1751" r="4.6"/><circle cx="1217" cy="1715" r="4.6"/><circle cx="1224" cy="1756" r="4.6"/><circle cx="1216" cy="1757" r="4.6"/><circle cx="1225" cy="1721" r="4.6"/><circle cx="1215" cy="1775" r="4.6"/><circle cx="1227" cy="1777" r="4.6"/><circle cx="1216" cy="1733" r="4.6"/><circle cx="1213" cy="1721" r="4.6"/><circle cx="1213" cy="1749" r="4.6"/><circle cx="1222" cy="1714" r="4.6"/><circle cx="1214" cy="1772" r="4.6"/><circle cx="1223" cy="1734" r="4.6"/><circle cx="1227" cy="1728" r="4.6"/><circle cx="1214" cy="1742" r="4.6"/><circle cx="1219" cy="1784" r="4.6"/><circle cx="1214" cy="1777" r="4.6"/><circle cx="1221" cy="1780" r="4.6"/><circle cx="1225" cy="1782" r="4.6"/><circle cx="1221" cy="1761" r="4.6"/><circle cx="1219" cy="1740" r="4.6"/><circle cx="1222" cy="1723" r="4.6"/><circle cx="1214" cy="1784" r="4.6"/><circle cx="1218" cy="1746" r="4.6"/><circle cx="1221" cy="1738" r="4.6"/><circle cx="1214" cy="1766" r="4.6"/><circle cx="1217" cy="1778" r="4.6"/><circle cx="1219" cy="1739" r="4.6"/><circle cx="1217" cy="1761" r="4.6"/><circle cx="1212" cy="1780" r="4.6"/><circle cx="1213" cy="1764" r="4.6"/><circle cx="1211" cy="1756" r="4.6"/><circle cx="1214" cy="1766" r="4.6"/><circle cx="1218" cy="1784" r="4.6"/><circle cx="1214" cy="1783" r="4.6"/><circle cx="1223" cy="1745" r="4.6"/><circle cx="1224" cy="1745" r="4.6"/><circle cx="1217" cy="1768" r="4.6"/><circle cx="1224" cy="1744" r="4.6"/><circle cx="1222" cy="1724" r="4.6"/><circle cx="1225" cy="1783" r="4.6"/><circle cx="1227" cy="1743" r="4.6"/><circle cx="1223" cy="1764" r="4.6"/><circle cx="1213" cy="1720" r="4.6"/><circle cx="1221" cy="1785" r="4.6"/><circle cx="1222" cy="1756" r="4.6"/><circle cx="1226" cy="1728" r="4.6"/><circle cx="1227" cy="1721" r="4.6"/><circle cx="1224" cy="1731" r="4.6"/><circle cx="1223" cy="1743" r="4.6"/><circle cx="1226" cy="1753" r="4.6"/><circle cx="1223" cy="1724" r="4.6"/><circle cx="1225" cy="1734" r="4.6"/><circle cx="1223" cy="1731" r="4.6"/><circle cx="1212" cy="1724" r="4.6"/><circle cx="1218" cy="1714" r="4.6"/><circle cx="1215" cy="1717" r="4.6"/><circle cx="1214" cy="1749" r="4.6"/><circle cx="1213" cy="1762" r="4.6"/><circle cx="1215" cy="1742" r="4.6"/><circle cx="1219" cy="1757" r="4.6"/><circle cx="1218" cy="1718" r="4.6"/><circle cx="1222" cy="1751" r="4.6"/><circle cx="1213" cy="1756" r="4.6"/><circle cx="1211" cy="1758" r="4.6"/><circle cx="1215" cy="1762" r="4.6"/><circle cx="1212" cy="1759" r="4.6"/><circle cx="1218" cy="1713" r="4.6"/><circle cx="1219" cy="1721" r="4.6"/><circle cx="1225" cy="1736" r="4.6"/><circle cx="1230" cy="1672" r="4.6"/><circle cx="1245" cy="1677" r="4.6"/><circle cx="1248" cy="1681" r="4.6"/><circle cx="1258" cy="1681" r="4.6"/><circle cx="1235" cy="1693" r="4.6"/><circle cx="1239" cy="1668" r="4.6"/><circle cx="1223" cy="1684" r="4.6"/><circle cx="1244" cy="1662" r="4.6"/><circle cx="1256" cy="1662" r="4.6"/><circle cx="1244" cy="1679" r="4.6"/><circle cx="1238" cy="1671" r="4.6"/><circle cx="1245" cy="1677" r="4.6"/><circle cx="1235" cy="1670" r="4.6"/><circle cx="1241" cy="1673" r="4.6"/><circle cx="1235" cy="1690" r="4.6"/><circle cx="1246" cy="1695" r="4.6"/><circle cx="1230" cy="1687" r="4.6"/><circle cx="1244" cy="1669" r="4.6"/><circle cx="1241" cy="1687" r="4.6"/><circle cx="1242" cy="1666" r="4.6"/><circle cx="1233" cy="1687" r="4.6"/><circle cx="1226" cy="1662" r="4.6"/><circle cx="1247" cy="1681" r="4.6"/><circle cx="1253" cy="1674" r="4.6"/><circle cx="1235" cy="1694" r="4.6"/></g>
<g class="pt" fill="url(#pr)"><circle cx="1223" cy="1792" r="4.6"/><circle cx="1223" cy="1807" r="4.6"/><circle cx="1223" cy="1819" r="4.6"/><circle cx="1223" cy="1860" r="4.6"/></g>
<path stroke="#00F" stroke-width="4.5" stroke-opacity="0.1" d="M1264.45 1652v4M1264.45 1663v3M1264.45 1726v1M1264.45 1754v1M1264.45 1772v2M1264.45 1787v1M1264.45 1793v2M1264.45 1797v3M1264.45 1803v2M1264.45 1807v5M1264.45 1815v1M1264.45 1817v1M1264.45 1821v2M1264.45 1825v2M1264.45 1828v5M1264.45 1836v1M1264.45 1849v4M1264.45 1858v1M1264.45 1861v1"/><path stroke="#00F" stroke-width="4.5" stroke-opacity="0.2" d="M1264.45 1660v3M1264.45 1674v1M1264.45 1688v2M1264.45 1698v2M1264.45 1704v1M1264.45 1706v1M1264.45 1714v6M1264.45 1725v1M1264.45 1727v1M1264.45 1735v4M1264.45 1744v1M1264.45 1746v2M1264.45 1753v1M1264.45 1765v7M1264.45 1774v2M1264.45 1786v1M1264.45 1790v3M1264.45 1795v2M1264.45 1800v3M1264.45 1805v2M1264.45 1812v3M1264.45 1818v3M1264.45 1823v2M1264.45 1833v3M1264.45 1859v2"/><path stroke="#00F" stroke-width="4.5" stroke-opacity="0.3" d="M1264.45 1666v5M1264.45 1672v2M1264.45 1675v5M1264.45 1690v2M1264.45 1696v2M1264.45 1700v4M1264.45 1707v7M1264.45 1720v5M1264.45 1728v7M1264.45 1739v5M1264.45 1745v1M1264.45 1748v5M1264.45 1755v2M1264.45 1758v7M1264.45 1776v7M1264.45 1784v2"/><path stroke="#00F" stroke-width="4.5" stroke-opacity="0.4" d="M1264.45 1671v1M1264.45 1680v8M1264.45 1692v4M1264.45 1757v1M1264.45 1783v1"/>
</g>
<path stroke="#00F" stroke-width="8.5" stroke-opacity="0.15" d="M1259 1629.05h1"/><path stroke="#00F" stroke-width="8.5" stroke-opacity="0.2" d="M1231 1629.05h1M1236 1629.05h2M1255 1629.05h1M1258 1629.05h1"/><path stroke="#00F" stroke-width="8.5" stroke-opacity="0.25" d="M1230 1629.05h1M1232 1629.05h1M1238 1629.05h1M1256 1629.05h2"/><path stroke="#00F" stroke-width="8.5" stroke-opacity="0.3" d="M1229 1629.05h1M1250 1629.05h2M1254 1629.05h1M1262 1629.05h1"/><path stroke="#00F" stroke-width="8.5" stroke-opacity="0.35" d="M1201 1629.05h1M1205 1629.05h1M1233 1629.05h3M1239 1629.05h2M1249 1629.05h1M1252 1629.05h2M1260 1629.05h2"/><path stroke="#00F" stroke-width="8.5" stroke-opacity="0.4" d="M1206 1629.05h1M1228 1629.05h1M1241 1629.05h2M1245 1629.05h1M1247 1629.05h2"/><path stroke="#00F" stroke-width="8.5" stroke-opacity="0.45" d="M1207 1629.05h2M1243 1629.05h2M1246 1629.05h1"/><path stroke="#00F" stroke-width="8.5" stroke-opacity="0.5" d="M1202 1629.05h1M1204 1629.05h1M1209 1629.05h1"/><path stroke="#00F" stroke-width="8.5" stroke-opacity="0.55" d="M1203 1629.05h1M1210 1629.05h1M1227 1629.05h1"/><path stroke="#00F" stroke-width="8.5" stroke-opacity="0.6" d="M1226 1629.05h1"/><path stroke="#00F" stroke-width="8.5" stroke-opacity="0.65" d="M1211 1629.05h1M1216 1629.05h5M1225 1629.05h1"/><path stroke="#00F" stroke-width="8.5" stroke-opacity="0.7" d="M1212 1629.05h4M1221 1629.05h1M1224 1629.05h1"/><path stroke="#00F" stroke-width="8.5" stroke-opacity="0.75" d="M1222 1629.05h2"/>
<line x1="1199.4" x2="1266.7" y1="1871.3" y2="1871.3" stroke="#000" stroke-width="3.3"/>
<rect x="1283.35" y="1574.5" width="67.3" height="49.8" fill="#EEEEEE"/>
<text x="1315.4" y="1608.1" font-size="24" font-weight="bold" text-anchor="middle">14</text>
<line x1="1283.35" x2="1350.65" y1="1651.3" y2="1651.3" stroke="#E4E4E4" stroke-width="2.4"/>
<line x1="1283.35" x2="1350.65" y1="1710.97" y2="1710.97" stroke="#E4E4E4" stroke-width="2.4"/>
<line x1="1283.35" x2="1350.65" y1="1770.63" y2="1770.63" stroke="#E4E4E4" stroke-width="2.4"/>
<line x1="1283.35" x2="1350.65" y1="1830.3" y2="1830.3" stroke="#E4E4E4" stroke-width="2.4"/>
<clipPath id="cc13"><rect x="1283.35" y="1624.3" width="67.3" height="247"/></clipPath><g clip-path="url(#cc13)">
<g class="pt" fill="url(#pg)"><circle cx="1300" cy="1658" r="4.6"/><circle cx="1306" cy="1658" r="4.6"/><circle cx="1315" cy="1658" r="4.6"/><circle cx="1330" cy="1656" r="4.6"/><circle cx="1338" cy="1652" r="4.6"/><circle cx="1343" cy="1659" r="4.6"/><circle cx="1348" cy="1658" r="4.6"/><circle cx="1290" cy="1666" r="4.6"/><circle cx="1289" cy="1677" r="4.6"/><circle cx="1293" cy="1680" r="4.6"/><circle cx="1303" cy="1678" r="4.6"/><circle cx="1318" cy="1665" r="4.6"/><circle cx="1321" cy="1666" r="4.6"/><circle cx="1331" cy="1668" r="4.6"/><circle cx="1317" cy="1678" r="4.6"/><circle cx="1321" cy="1688" r="4.6"/><circle cx="1318" cy="1693" r="4.6"/><circle cx="1310" cy="1697" r="4.6"/><circle cx="1288" cy="1699" r="4.6"/><circle cx="1321" cy="1704" r="4.6"/><circle cx="1288" cy="1710" r="4.6"/><circle cx="1288" cy="1718" r="4.6"/><circle cx="1321" cy="1718" r="4.6"/><circle cx="1318" cy="1722" r="4.6"/><circle cx="1331" cy="1732" r="4.6"/><circle cx="1290" cy="1750" r="4.6"/><circle cx="1290" cy="1763" r="4.6"/><circle cx="1303" cy="1767" r="4.6"/><circle cx="1310" cy="1765" r="4.6"/><circle cx="1317" cy="1767" r="4.6"/><circle cx="1290" cy="1772" r="4.6"/><circle cx="1298" cy="1776" r="4.6"/><circle cx="1315" cy="1777" r="4.6"/><circle cx="1322" cy="1780" r="4.6"/><circle cx="1310" cy="1782" r="4.6"/><circle cx="1321" cy="1785" r="4.6"/><circle cx="1320" cy="1792" r="4.6"/><circle cx="1303" cy="1790" r="4.6"/><circle cx="1298" cy="1795" r="4.6"/><circle cx="1306" cy="1798" r="4.6"/><circle cx="1287" cy="1792" r="4.6"/><circle cx="1318" cy="1795" r="4.6"/><circle cx="1293" cy="1832" r="4.6"/><circle cx="1298" cy="1825" r="4.6"/><circle cx="1303" cy="1823" r="4.6"/><circle cx="1317" cy="1839" r="4.6"/><circle cx="1346" cy="1765" r="4.6"/><circle cx="1346" cy="1770" r="4.6"/><circle cx="1346" cy="1777" r="4.6"/><circle cx="1288" cy="1869" r="4.6"/><circle cx="1306" cy="1869" r="4.6"/><circle cx="1315" cy="1869" r="4.6"/><circle cx="1323" cy="1869" r="4.6"/><circle cx="1346" cy="1869" r="4.6"/><circle cx="1345" cy="1721" r="4.6"/><circle cx="1344" cy="1705" r="4.6"/><circle cx="1346" cy="1711" r="4.6"/><circle cx="1343" cy="1728" r="4.6"/><circle cx="1349" cy="1722" r="4.6"/><circle cx="1348" cy="1732" r="4.6"/><circle cx="1349" cy="1729" r="4.6"/><circle cx="1346" cy="1689" r="4.6"/><circle cx="1346" cy="1686" r="4.6"/><circle cx="1346" cy="1732" r="4.6"/><circle cx="1349" cy="1695" r="4.6"/><circle cx="1347" cy="1698" r="4.6"/></g>
<g class="pt" fill="url(#pr)"><circle cx="1346" cy="1783" r="4.6"/><circle cx="1346" cy="1788" r="4.6"/><circle cx="1346" cy="1795" r="4.6"/><circle cx="1346" cy="1802" r="4.6"/><circle cx="1346" cy="1808" r="4.6"/><circle cx="1346" cy="1815" r="4.6"/><circle cx="1346" cy="1822" r="4.6"/><circle cx="1346" cy="1828" r="4.6"/><circle cx="1346" cy="1835" r="4.6"/><circle cx="1346" cy="1842" r="4.6"/><circle cx="1346" cy="1848" r="4.6"/><circle cx="1346" cy="1855" r="4.6"/><circle cx="1346" cy="1860" r="4.6"/><circle cx="1346" cy="1782" r="4.6"/><circle cx="1347" cy="1783" r="4.6"/><circle cx="1347" cy="1784" r="4.6"/><circle cx="1347" cy="1786" r="4.6"/><circle cx="1346" cy="1787" r="4.6"/><circle cx="1348" cy="1789" r="4.6"/><circle cx="1347" cy="1790" r="4.6"/><circle cx="1347" cy="1792" r="4.6"/><circle cx="1346" cy="1793" r="4.6"/><circle cx="1346" cy="1794" r="4.6"/><circle cx="1347" cy="1796" r="4.6"/><circle cx="1347" cy="1797" r="4.6"/><circle cx="1347" cy="1799" r="4.6"/><circle cx="1346" cy="1800" r="4.6"/><circle cx="1348" cy="1802" r="4.6"/><circle cx="1347" cy="1803" r="4.6"/><circle cx="1347" cy="1804" r="4.6"/><circle cx="1346" cy="1806" r="4.6"/><circle cx="1346" cy="1807" r="4.6"/><circle cx="1347" cy="1809" r="4.6"/><circle cx="1347" cy="1810" r="4.6"/><circle cx="1347" cy="1811" r="4.6"/><circle cx="1346" cy="1813" r="4.6"/><circle cx="1348" cy="1814" r="4.6"/><circle cx="1347" cy="1816" r="4.6"/><circle cx="1347" cy="1817" r="4.6"/><circle cx="1346" cy="1818" r="4.6"/><circle cx="1346" cy="1820" r="4.6"/><circle cx="1347" cy="1821" r="4.6"/><circle cx="1347" cy="1823" r="4.6"/><circle cx="1347" cy="1824" r="4.6"/><circle cx="1346" cy="1826" r="4.6"/><circle cx="1348" cy="1827" r="4.6"/><circle cx="1347" cy="1828" r="4.6"/><circle cx="1347" cy="1830" r="4.6"/><circle cx="1346" cy="1831" r="4.6"/><circle cx="1346" cy="1833" r="4.6"/><circle cx="1347" cy="1834" r="4.6"/><circle cx="1347" cy="1836" r="4.6"/><circle cx="1347" cy="1837" r="4.6"/><circle cx="1346" cy="1838" r="4.6"/><circle cx="1348" cy="1840" r="4.6"/><circle cx="1347" cy="1841" r="4.6"/><circle cx="1347" cy="1843" r="4.6"/><circle cx="1346" cy="1844" r="4.6"/><circle cx="1346" cy="1845" r="4.6"/><circle cx="1347" cy="1847" r="4.6"/><circle cx="1347" cy="1848" r="4.6"/><circle cx="1347" cy="1850" r="4.6"/><circle cx="1346" cy="1851" r="4.6"/><circle cx="1348" cy="1852" r="4.6"/><circle cx="1347" cy="1854" r="4.6"/><circle cx="1347" cy="1855" r="4.6"/><circle cx="1346" cy="1857" r="4.6"/><circle cx="1346" cy="1858" r="4.6"/><circle cx="1347" cy="1860" r="4.6"/></g>
<path stroke="#00F" stroke-width="4.5" stroke-opacity="0.1" d="M1348.4 1650v3M1348.4 1654v2M1348.4 1660v1M1348.4 1663v1M1348.4 1668v2M1348.4 1675v1M1348.4 1680v2M1348.4 1685v2M1348.4 1692v2M1348.4 1700v1M1348.4 1702v2M1348.4 1706v1M1348.4 1708v1M1348.4 1723v1M1348.4 1748v4M1348.4 1762v1M1348.4 1768v2M1348.4 1772v1M1348.4 1774v1M1348.4 1778v2M1348.4 1861v1"/><path stroke="#00F" stroke-width="4.5" stroke-opacity="0.2" d="M1348.4 1656v1M1348.4 1659v1M1348.4 1664v4M1348.4 1676v4M1348.4 1687v3M1348.4 1694v6M1348.4 1704v2M1348.4 1709v3M1348.4 1717v6M1348.4 1727v3M1348.4 1731v3M1348.4 1763v5M1348.4 1770v2M1348.4 1775v3M1348.4 1780v2M1348.4 1784v7M1348.4 1793v1M1348.4 1797v25M1348.4 1823v38"/><path stroke="#00F" stroke-width="4.5" stroke-opacity="0.3" d="M1348.4 1657v2M1348.4 1782v2M1348.4 1791v2M1348.4 1794v3M1348.4 1822v1"/>
</g>
<path stroke="#00F" stroke-width="8.5" stroke-opacity="0.1" d="M1285 1629.05h1"/><path stroke="#00F" stroke-width="8.5" stroke-opacity="0.15" d="M1311 1629.05h1M1324 1629.05h1M1328 1629.05h1M1336 1629.05h1M1339 1629.05h1M1341 1629.05h1"/><path stroke="#00F" stroke-width="8.5" stroke-opacity="0.2" d="M1294 1629.05h1M1296 1629.05h1M1300 1629.05h1M1329 1629.05h1M1337 1629.05h2"/><path stroke="#00F" stroke-width="8.5" stroke-opacity="0.25" d="M1291 1629.05h3M1299 1629.05h1M1301 1629.05h1M1304 1629.05h1M1307 1629.05h2M1313 1629.05h1M1323 1629.05h1M1331 1629.05h2M1350 1629.05h1"/><path stroke="#00F" stroke-width="8.5" stroke-opacity="0.3" d="M1286 1629.05h1M1297 1629.05h2M1305 1629.05h2M1309 1629.05h2M1314 1629.05h1M1319 1629.05h1M1330 1629.05h1M1342 1629.05h2"/><path stroke="#00F" stroke-width="8.5" stroke-opacity="0.35" d="M1290 1629.05h1M1302 1629.05h2M1315 1629.05h2M1349 1629.05h1"/><path stroke="#00F" stroke-width="8.5" stroke-opacity="0.4" d="M1287 1629.05h1M1289 1629.05h1M1317 1629.05h2M1320 1629.05h3"/><path stroke="#00F" stroke-width="8.5" stroke-opacity="0.45" d="M1288 1629.05h1"/><path stroke="#00F" stroke-width="8.5" stroke-opacity="0.5" d="M1344 1629.05h1"/><path stroke="#00F" stroke-width="8.5" stroke-opacity="0.65" d="M1348 1629.05h1"/><path stroke="#00F" stroke-width="8.5" stroke-opacity="0.8" d="M1345 1629.05h1M1347 1629.05h1"/><path stroke="#00F" stroke-width="8.5" stroke-opacity="0.85" d="M1346 1629.05h1"/>
<line x1="1283.35" x2="1350.65" y1="1871.3" y2="1871.3" stroke="#000" stroke-width="3.3"/>
<rect x="1367.3" y="1574.5" width="67.3" height="49.8" fill="#EEEEEE"/>
<text x="1399.35" y="1608.1" font-size="24" font-weight="bold" text-anchor="middle">15</text>
<line x1="1367.3" x2="1434.6" y1="1651.3" y2="1651.3" stroke="#E4E4E4" stroke-width="2.4"/>
<line x1="1367.3" x2="1434.6" y1="1710.97" y2="1710.97" stroke="#E4E4E4" stroke-width="2.4"/>
<line x1="1367.3" x2="1434.6" y1="1770.63" y2="1770.63" stroke="#E4E4E4" stroke-width="2.4"/>
<line x1="1367.3" x2="1434.6" y1="1830.3" y2="1830.3" stroke="#E4E4E4" stroke-width="2.4"/>
<clipPath id="cc14"><rect x="1367.3" y="1624.3" width="67.3" height="247"/></clipPath><g clip-path="url(#cc14)">
<g class="pt" fill="url(#pg)"><circle cx="1408" cy="1654" r="4.6"/><circle cx="1388" cy="1667" r="4.6"/><circle cx="1395" cy="1663" r="4.6"/><circle cx="1401" cy="1662" r="4.6"/><circle cx="1421" cy="1707" r="4.6"/><circle cx="1425" cy="1713" r="4.6"/><circle cx="1412" cy="1720" r="4.6"/><circle cx="1411" cy="1727" r="4.6"/><circle cx="1421" cy="1725" r="4.6"/><circle cx="1430" cy="1726" r="4.6"/><circle cx="1377" cy="1732" r="4.6"/><circle cx="1386" cy="1731" r="4.6"/><circle cx="1390" cy="1730" r="4.6"/><circle cx="1372" cy="1738" r="4.6"/><circle cx="1376" cy="1743" r="4.6"/><circle cx="1386" cy="1750" r="4.6"/><circle cx="1414" cy="1744" r="4.6"/><circle cx="1428" cy="1745" r="4.6"/><circle cx="1381" cy="1763" r="4.6"/><circle cx="1388" cy="1765" r="4.6"/><circle cx="1395" cy="1760" r="4.6"/><circle cx="1427" cy="1762" r="4.6"/><circle cx="1413" cy="1765" r="4.6"/><circle cx="1413" cy="1770" r="4.6"/><circle cx="1413" cy="1777" r="4.6"/><circle cx="1377" cy="1776" r="4.6"/><circle cx="1388" cy="1777" r="4.6"/><circle cx="1390" cy="1780" r="4.6"/><circle cx="1393" cy="1786" r="4.6"/><circle cx="1388" cy="1792" r="4.6"/><circle cx="1385" cy="1794" r="4.6"/><circle cx="1426" cy="1791" r="4.6"/><circle cx="1371" cy="1802" r="4.6"/><circle cx="1376" cy="1805" r="4.6"/><circle cx="1383" cy="1803" r="4.6"/><circle cx="1391" cy="1808" r="4.6"/><circle cx="1388" cy="1818" r="4.6"/><circle cx="1428" cy="1803" r="4.6"/><circle cx="1386" cy="1839" r="4.6"/><circle cx="1371" cy="1869" r="4.6"/><circle cx="1383" cy="1869" r="4.6"/><circle cx="1411" cy="1869" r="4.6"/><circle cx="1420" cy="1869" r="4.6"/><circle cx="1426" cy="1869" r="4.6"/><circle cx="1392" cy="1676" r="4.6"/><circle cx="1373" cy="1698" r="4.6"/><circle cx="1397" cy="1691" r="4.6"/><circle cx="1384" cy="1715" r="4.6"/><circle cx="1386" cy="1707" r="4.6"/><circle cx="1385" cy="1687" r="4.6"/><circle cx="1383" cy="1695" r="4.6"/><circle cx="1374" cy="1680" r="4.6"/><circle cx="1374" cy="1704" r="4.6"/><circle cx="1383" cy="1700" r="4.6"/><circle cx="1381" cy="1708" r="4.6"/><circle cx="1392" cy="1670" r="4.6"/><circle cx="1371" cy="1714" r="4.6"/><circle cx="1376" cy="1723" r="4.6"/><circle cx="1379" cy="1681" r="4.6"/><circle cx="1371" cy="1699" r="4.6"/><circle cx="1386" cy="1668" r="4.6"/><circle cx="1390" cy="1668" r="4.6"/><circle cx="1383" cy="1718" r="4.6"/><circle cx="1371" cy="1716" r="4.6"/><circle cx="1391" cy="1683" r="4.6"/><circle cx="1387" cy="1674" r="4.6"/><circle cx="1389" cy="1722" r="4.6"/><circle cx="1379" cy="1666" r="4.6"/><circle cx="1370" cy="1686" r="4.6"/><circle cx="1388" cy="1723" r="4.6"/><circle cx="1395" cy="1713" r="4.6"/><circle cx="1387" cy="1708" r="4.6"/><circle cx="1388" cy="1673" r="4.6"/><circle cx="1392" cy="1687" r="4.6"/><circle cx="1374" cy="1722" r="4.6"/><circle cx="1393" cy="1671" r="4.6"/><circle cx="1385" cy="1667" r="4.6"/><circle cx="1393" cy="1684" r="4.6"/><circle cx="1382" cy="1705" r="4.6"/><circle cx="1390" cy="1668" r="4.6"/><circle cx="1387" cy="1687" r="4.6"/><circle cx="1379" cy="1715" r="4.6"/><circle cx="1389" cy="1708" r="4.6"/><circle cx="1377" cy="1687" r="4.6"/><circle cx="1384" cy="1695" r="4.6"/><circle cx="1383" cy="1715" r="4.6"/><circle cx="1375" cy="1672" r="4.6"/><circle cx="1384" cy="1699" r="4.6"/><circle cx="1394" cy="1682" r="4.6"/><circle cx="1398" cy="1675" r="4.6"/><circle cx="1382" cy="1684" r="4.6"/><circle cx="1374" cy="1679" r="4.6"/><circle cx="1380" cy="1678" r="4.6"/><circle cx="1376" cy="1708" r="4.6"/><circle cx="1378" cy="1718" r="4.6"/><circle cx="1379" cy="1667" r="4.6"/><circle cx="1375" cy="1715" r="4.6"/><circle cx="1386" cy="1719" r="4.6"/><circle cx="1382" cy="1685" r="4.6"/><circle cx="1417" cy="1682" r="4.6"/><circle cx="1425" cy="1702" r="4.6"/><circle cx="1424" cy="1695" r="4.6"/><circle cx="1415" cy="1682" r="4.6"/><circle cx="1406" cy="1699" r="4.6"/><circle cx="1429" cy="1692" r="4.6"/><circle cx="1415" cy="1677" r="4.6"/><circle cx="1421" cy="1677" r="4.6"/><circle cx="1418" cy="1671" r="4.6"/><circle cx="1427" cy="1700" r="4.6"/><circle cx="1424" cy="1699" r="4.6"/><circle cx="1430" cy="1683" r="4.6"/><circle cx="1407" cy="1691" r="4.6"/><circle cx="1417" cy="1678" r="4.6"/><circle cx="1413" cy="1686" r="4.6"/><circle cx="1428" cy="1676" r="4.6"/><circle cx="1421" cy="1681" r="4.6"/><circle cx="1427" cy="1684" r="4.6"/><circle cx="1430" cy="1666" r="4.6"/><circle cx="1430" cy="1676" r="4.6"/><circle cx="1426" cy="1681" r="4.6"/><circle cx="1413" cy="1699" r="4.6"/><circle cx="1422" cy="1670" r="4.6"/><circle cx="1422" cy="1684" r="4.6"/><circle cx="1431" cy="1684" r="4.6"/><circle cx="1421" cy="1690" r="4.6"/><circle cx="1407" cy="1681" r="4.6"/><circle cx="1430" cy="1684" r="4.6"/><circle cx="1413" cy="1673" r="4.6"/><circle cx="1414" cy="1682" r="4.6"/><circle cx="1413" cy="1684" r="4.6"/><circle cx="1410" cy="1667" r="4.6"/><circle cx="1408" cy="1680" r="4.6"/><circle cx="1411" cy="1674" r="4.6"/><circle cx="1411" cy="1679" r="4.6"/><circle cx="1423" cy="1664" r="4.6"/><circle cx="1414" cy="1698" r="4.6"/><circle cx="1407" cy="1701" r="4.6"/><circle cx="1409" cy="1677" r="4.6"/><circle cx="1430" cy="1694" r="4.6"/><circle cx="1413" cy="1681" r="4.6"/><circle cx="1415" cy="1686" r="4.6"/><circle cx="1407" cy="1694" r="4.6"/><circle cx="1417" cy="1698" r="4.6"/><circle cx="1409" cy="1670" r="4.6"/><circle cx="1427" cy="1690" r="4.6"/><circle cx="1416" cy="1690" r="4.6"/><circle cx="1408" cy="1673" r="4.6"/><circle cx="1410" cy="1702" r="4.6"/><circle cx="1429" cy="1700" r="4.6"/></g>
<path stroke="#00F" stroke-width="4.5" stroke-opacity="0.1" d="M1432.35 1652v4M1432.35 1660v2M1432.35 1709v1M1432.35 1711v1M1432.35 1727v2M1432.35 1732v1M1432.35 1736v3M1432.35 1742v1M1432.35 1746v1M1432.35 1748v4M1432.35 1758v2M1432.35 1766v1M1432.35 1768v4M1432.35 1774v1M1432.35 1778v4M1432.35 1784v4M1432.35 1789v1M1432.35 1793v3M1432.35 1801v1M1432.35 1805v5M1432.35 1816v3M1432.35 1837v4"/><path stroke="#00F" stroke-width="4.5" stroke-opacity="0.2" d="M1432.35 1662v3M1432.35 1688v1M1432.35 1692v2M1432.35 1695v2M1432.35 1701v5M1432.35 1712v1M1432.35 1716v6M1432.35 1723v4M1432.35 1729v3M1432.35 1743v3M1432.35 1760v6M1432.35 1775v3M1432.35 1790v3M1432.35 1802v3"/><path stroke="#00F" stroke-width="4.5" stroke-opacity="0.3" d="M1432.35 1665v15M1432.35 1685v3M1432.35 1689v3M1432.35 1694v1M1432.35 1697v1M1432.35 1699v2M1432.35 1706v3M1432.35 1713v3M1432.35 1722v1"/><path stroke="#00F" stroke-width="4.5" stroke-opacity="0.4" d="M1432.35 1680v5M1432.35 1698v1"/>
</g>
<path stroke="#00F" stroke-width="8.5" stroke-opacity="0.05" d="M1404 1629.05h1"/><path stroke="#00F" stroke-width="8.5" stroke-opacity="0.1" d="M1368 1629.05h1M1399 1629.05h1M1432 1629.05h1"/><path stroke="#00F" stroke-width="8.5" stroke-opacity="0.15" d="M1402 1629.05h1"/><path stroke="#00F" stroke-width="8.5" stroke-opacity="0.2" d="M1398 1629.05h1M1400 1629.05h2"/><path stroke="#00F" stroke-width="8.5" stroke-opacity="0.25" d="M1397 1629.05h1M1405 1629.05h1"/><path stroke="#00F" stroke-width="8.5" stroke-opacity="0.3" d="M1369 1629.05h1M1395 1629.05h2M1418 1629.05h2M1431 1629.05h1"/><path stroke="#00F" stroke-width="8.5" stroke-opacity="0.35" d="M1394 1629.05h1M1416 1629.05h2M1423 1629.05h1"/><path stroke="#00F" stroke-width="8.5" stroke-opacity="0.4" d="M1370 1629.05h4M1378 1629.05h3M1406 1629.05h1M1409 1629.05h1M1415 1629.05h1M1421 1629.05h2M1424 1629.05h1"/><path stroke="#00F" stroke-width="8.5" stroke-opacity="0.45" d="M1374 1629.05h4M1381 1629.05h1M1389 1629.05h5M1407 1629.05h2M1410 1629.05h1M1420 1629.05h1M1425 1629.05h3M1429 1629.05h2"/><path stroke="#00F" stroke-width="8.5" stroke-opacity="0.5" d="M1382 1629.05h4M1387 1629.05h2M1411 1629.05h2M1414 1629.05h1M1428 1629.05h1"/><path stroke="#00F" stroke-width="8.5" stroke-opacity="0.55" d="M1386 1629.05h1M1413 1629.05h1"/>
<line x1="1367.3" x2="1434.6" y1="1871.3" y2="1871.3" stroke="#000" stroke-width="3.3"/>
<rect x="1451.25" y="1574.5" width="67.3" height="49.8" fill="#EEEEEE"/>
<text x="1483.3" y="1608.1" font-size="24" font-weight="bold" text-anchor="middle">16</text>
<line x1="1451.25" x2="1518.55" y1="1651.3" y2="1651.3" stroke="#E4E4E4" stroke-width="2.4"/>
<line x1="1451.25" x2="1518.55" y1="1710.97" y2="1710.97" stroke="#E4E4E4" stroke-width="2.4"/>
<line x1="1451.25" x2="1518.55" y1="1770.63" y2="1770.63" stroke="#E4E4E4" stroke-width="2.4"/>
<line x1="1451.25" x2="1518.55" y1="1830.3" y2="1830.3" stroke="#E4E4E4" stroke-width="2.4"/>
<clipPath id="cc15"><rect x="1451.25" y="1624.3" width="67.3" height="247"/></clipPath><g clip-path="url(#cc15)">
<g class="pt" fill="url(#pg)"><circle cx="1475" cy="1649" r="4.6"/><circle cx="1486" cy="1647" r="4.6"/><circle cx="1491" cy="1655" r="4.6"/><circle cx="1498" cy="1651" r="4.6"/><circle cx="1513" cy="1651" r="4.6"/><circle cx="1515" cy="1665" r="4.6"/><circle cx="1515" cy="1680" r="4.6"/><circle cx="1504" cy="1662" r="4.6"/><circle cx="1459" cy="1656" r="4.6"/><circle cx="1463" cy="1662" r="4.6"/><circle cx="1460" cy="1669" r="4.6"/><circle cx="1476" cy="1672" r="4.6"/><circle cx="1466" cy="1677" r="4.6"/><circle cx="1464" cy="1686" r="4.6"/><circle cx="1466" cy="1690" r="4.6"/><circle cx="1466" cy="1696" r="4.6"/><circle cx="1466" cy="1702" r="4.6"/><circle cx="1464" cy="1708" r="4.6"/><circle cx="1461" cy="1716" r="4.6"/><circle cx="1486" cy="1682" r="4.6"/><circle cx="1486" cy="1690" r="4.6"/><circle cx="1486" cy="1698" r="4.6"/><circle cx="1505" cy="1690" r="4.6"/><circle cx="1505" cy="1705" r="4.6"/><circle cx="1499" cy="1708" r="4.6"/><circle cx="1501" cy="1712" r="4.6"/><circle cx="1491" cy="1716" r="4.6"/><circle cx="1503" cy="1725" r="4.6"/><circle cx="1505" cy="1740" r="4.6"/><circle cx="1491" cy="1762" r="4.6"/><circle cx="1512" cy="1770" r="4.6"/><circle cx="1486" cy="1781" r="4.6"/><circle cx="1466" cy="1788" r="4.6"/><circle cx="1491" cy="1805" r="4.6"/><circle cx="1491" cy="1815" r="4.6"/><circle cx="1486" cy="1833" r="4.6"/><circle cx="1486" cy="1846" r="4.6"/><circle cx="1456" cy="1869" r="4.6"/><circle cx="1486" cy="1869" r="4.6"/></g>
<path stroke="#00F" stroke-width="4.5" stroke-opacity="0.1" d="M1516.3 1645v4M1516.3 1652v2M1516.3 1657v1M1516.3 1660v1M1516.3 1663v11M1516.3 1675v5M1516.3 1682v1M1516.3 1684v5M1516.3 1691v1M1516.3 1694v6M1516.3 1701v6M1516.3 1709v1M1516.3 1711v4M1516.3 1717v1M1516.3 1723v4M1516.3 1738v4M1516.3 1760v3M1516.3 1768v4M1516.3 1779v4M1516.3 1786v3M1516.3 1803v4M1516.3 1813v4M1516.3 1832v3M1516.3 1844v4"/><path stroke="#00F" stroke-width="4.5" stroke-opacity="0.2" d="M1516.3 1649v3M1516.3 1654v3M1516.3 1661v2M1516.3 1680v2M1516.3 1689v2M1516.3 1707v2M1516.3 1715v2"/>
</g>
<path stroke="#00F" stroke-width="8.5" stroke-opacity="0.1" d="M1510 1629.05h1M1516 1629.05h1"/><path stroke="#00F" stroke-width="8.5" stroke-opacity="0.15" d="M1457 1629.05h1M1473 1629.05h1M1489 1629.05h1M1496 1629.05h1M1506 1629.05h1"/><path stroke="#00F" stroke-width="8.5" stroke-opacity="0.2" d="M1454 1629.05h3M1458 1629.05h1M1476 1629.05h1M1500 1629.05h2M1511 1629.05h1"/><path stroke="#00F" stroke-width="8.5" stroke-opacity="0.25" d="M1459 1629.05h3M1474 1629.05h2M1497 1629.05h3M1502 1629.05h1M1512 1629.05h1M1514 1629.05h2"/><path stroke="#00F" stroke-width="8.5" stroke-opacity="0.3" d="M1462 1629.05h2M1467 1629.05h1M1484 1629.05h1M1505 1629.05h1M1513 1629.05h1"/><path stroke="#00F" stroke-width="8.5" stroke-opacity="0.35" d="M1464 1629.05h1M1466 1629.05h1M1487 1629.05h1M1490 1629.05h3M1503 1629.05h2"/><path stroke="#00F" stroke-width="8.5" stroke-opacity="0.4" d="M1465 1629.05h1"/><path stroke="#00F" stroke-width="8.5" stroke-opacity="0.45" d="M1485 1629.05h2"/>
<line x1="1451.25" x2="1518.55" y1="1871.3" y2="1871.3" stroke="#000" stroke-width="3.3"/>
<rect x="1535.2" y="1574.5" width="67.3" height="49.8" fill="#EEEEEE"/>
<text x="1567.25" y="1608.1" font-size="24" font-weight="bold" text-anchor="middle">17</text>
<line x1="1535.2" x2="1602.5" y1="1651.3" y2="1651.3" stroke="#E4E4E4" stroke-width="2.4"/>
<line x1="1535.2" x2="1602.5" y1="1710.97" y2="1710.97" stroke="#E4E4E4" stroke-width="2.4"/>
<line x1="1535.2" x2="1602.5" y1="1770.63" y2="1770.63" stroke="#E4E4E4" stroke-width="2.4"/>
<line x1="1535.2" x2="1602.5" y1="1830.3" y2="1830.3" stroke="#E4E4E4" stroke-width="2.4"/>
<clipPath id="cc16"><rect x="1535.2" y="1624.3" width="67.3" height="247"/></clipPath><g clip-path="url(#cc16)">
<g class="pt" fill="url(#pg)"><circle cx="1567" cy="1657" r="4.6"/><circle cx="1578" cy="1652" r="4.6"/><circle cx="1591" cy="1651" r="4.6"/><circle cx="1584" cy="1659" r="4.6"/><circle cx="1549" cy="1664" r="4.6"/><circle cx="1557" cy="1661" r="4.6"/><circle cx="1571" cy="1666" r="4.6"/><circle cx="1580" cy="1672" r="4.6"/><circle cx="1594" cy="1665" r="4.6"/><circle cx="1598" cy="1662" r="4.6"/><circle cx="1594" cy="1675" r="4.6"/><circle cx="1595" cy="1683" r="4.6"/><circle cx="1598" cy="1697" r="4.6"/><circle cx="1562" cy="1673" r="4.6"/><circle cx="1571" cy="1678" r="4.6"/><circle cx="1574" cy="1686" r="4.6"/><circle cx="1550" cy="1713" r="4.6"/><circle cx="1559" cy="1718" r="4.6"/><circle cx="1596" cy="1719" r="4.6"/><circle cx="1539" cy="1735" r="4.6"/><circle cx="1544" cy="1733" r="4.6"/><circle cx="1551" cy="1731" r="4.6"/><circle cx="1559" cy="1730" r="4.6"/><circle cx="1572" cy="1739" r="4.6"/><circle cx="1572" cy="1748" r="4.6"/><circle cx="1539" cy="1747" r="4.6"/><circle cx="1542" cy="1752" r="4.6"/><circle cx="1546" cy="1755" r="4.6"/><circle cx="1543" cy="1762" r="4.6"/><circle cx="1553" cy="1769" r="4.6"/><circle cx="1567" cy="1763" r="4.6"/><circle cx="1568" cy="1767" r="4.6"/><circle cx="1567" cy="1776" r="4.6"/><circle cx="1539" cy="1776" r="4.6"/><circle cx="1562" cy="1785" r="4.6"/><circle cx="1559" cy="1790" r="4.6"/><circle cx="1557" cy="1797" r="4.6"/><circle cx="1539" cy="1791" r="4.6"/><circle cx="1543" cy="1799" r="4.6"/><circle cx="1562" cy="1805" r="4.6"/><circle cx="1593" cy="1781" r="4.6"/><circle cx="1595" cy="1793" r="4.6"/><circle cx="1562" cy="1839" r="4.6"/><circle cx="1584" cy="1837" r="4.6"/><circle cx="1541" cy="1869" r="4.6"/><circle cx="1559" cy="1869" r="4.6"/><circle cx="1572" cy="1869" r="4.6"/><circle cx="1592" cy="1869" r="4.6"/><circle cx="1556" cy="1710" r="4.6"/><circle cx="1546" cy="1682" r="4.6"/><circle cx="1564" cy="1703" r="4.6"/><circle cx="1561" cy="1698" r="4.6"/><circle cx="1557" cy="1671" r="4.6"/><circle cx="1546" cy="1684" r="4.6"/><circle cx="1563" cy="1682" r="4.6"/><circle cx="1556" cy="1697" r="4.6"/><circle cx="1550" cy="1685" r="4.6"/><circle cx="1546" cy="1687" r="4.6"/><circle cx="1552" cy="1677" r="4.6"/><circle cx="1562" cy="1680" r="4.6"/><circle cx="1549" cy="1671" r="4.6"/><circle cx="1546" cy="1697" r="4.6"/><circle cx="1555" cy="1703" r="4.6"/><circle cx="1557" cy="1683" r="4.6"/><circle cx="1567" cy="1702" r="4.6"/><circle cx="1559" cy="1706" r="4.6"/><circle cx="1561" cy="1688" r="4.6"/><circle cx="1567" cy="1689" r="4.6"/><circle cx="1549" cy="1678" r="4.6"/><circle cx="1542" cy="1690" r="4.6"/><circle cx="1559" cy="1686" r="4.6"/><circle cx="1560" cy="1679" r="4.6"/><circle cx="1537" cy="1710" r="4.6"/><circle cx="1542" cy="1693" r="4.6"/><circle cx="1548" cy="1681" r="4.6"/><circle cx="1539" cy="1696" r="4.6"/><circle cx="1552" cy="1683" r="4.6"/><circle cx="1556" cy="1706" r="4.6"/><circle cx="1547" cy="1696" r="4.6"/><circle cx="1559" cy="1674" r="4.6"/><circle cx="1559" cy="1699" r="4.6"/><circle cx="1561" cy="1671" r="4.6"/><circle cx="1566" cy="1692" r="4.6"/><circle cx="1551" cy="1691" r="4.6"/><circle cx="1562" cy="1679" r="4.6"/><circle cx="1541" cy="1672" r="4.6"/><circle cx="1547" cy="1670" r="4.6"/><circle cx="1556" cy="1679" r="4.6"/><circle cx="1556" cy="1681" r="4.6"/><circle cx="1544" cy="1684" r="4.6"/><circle cx="1539" cy="1689" r="4.6"/><circle cx="1542" cy="1690" r="4.6"/><circle cx="1541" cy="1677" r="4.6"/><circle cx="1554" cy="1702" r="4.6"/><circle cx="1555" cy="1675" r="4.6"/><circle cx="1551" cy="1699" r="4.6"/><circle cx="1557" cy="1704" r="4.6"/><circle cx="1559" cy="1707" r="4.6"/><circle cx="1543" cy="1688" r="4.6"/><circle cx="1553" cy="1671" r="4.6"/><circle cx="1538" cy="1678" r="4.6"/><circle cx="1546" cy="1702" r="4.6"/><circle cx="1543" cy="1694" r="4.6"/><circle cx="1551" cy="1704" r="4.6"/><circle cx="1540" cy="1676" r="4.6"/><circle cx="1541" cy="1681" r="4.6"/><circle cx="1546" cy="1682" r="4.6"/><circle cx="1548" cy="1675" r="4.6"/><circle cx="1538" cy="1677" r="4.6"/><circle cx="1561" cy="1694" r="4.6"/><circle cx="1557" cy="1703" r="4.6"/><circle cx="1557" cy="1675" r="4.6"/><circle cx="1552" cy="1688" r="4.6"/></g>
<path stroke="#00F" stroke-width="4.5" stroke-opacity="0.1" d="M1600.25 1649v1M1600.25 1652v1M1600.25 1655v4M1600.25 1667v1M1600.25 1711v4M1600.25 1716v2M1600.25 1719v2M1600.25 1728v1M1600.25 1732v1M1600.25 1735v6M1600.25 1745v1M1600.25 1748v1M1600.25 1750v7M1600.25 1761v1M1600.25 1764v7M1600.25 1774v1M1600.25 1777v1M1600.25 1779v8M1600.25 1788v1M1600.25 1792v9M1600.25 1803v4M1600.25 1835v6"/><path stroke="#00F" stroke-width="4.5" stroke-opacity="0.2" d="M1600.25 1650v2M1600.25 1659v8M1600.25 1669v1M1600.25 1691v4M1600.25 1698v3M1600.25 1704v7M1600.25 1718v1M1600.25 1729v3M1600.25 1733v2M1600.25 1746v2M1600.25 1762v2M1600.25 1775v2M1600.25 1789v3"/><path stroke="#00F" stroke-width="4.5" stroke-opacity="0.3" d="M1600.25 1670v21M1600.25 1695v3M1600.25 1701v3"/>
</g>
<path stroke="#00F" stroke-width="8.5" stroke-opacity="0.1" d="M1576 1629.05h1M1581 1629.05h1"/><path stroke="#00F" stroke-width="8.5" stroke-opacity="0.15" d="M1535 1629.05h1M1575 1629.05h1M1589 1629.05h1"/><path stroke="#00F" stroke-width="8.5" stroke-opacity="0.2" d="M1574 1629.05h1M1577 1629.05h1M1580 1629.05h1M1582 1629.05h1M1585 1629.05h1M1590 1629.05h1M1599 1629.05h1"/><path stroke="#00F" stroke-width="8.5" stroke-opacity="0.25" d="M1536 1629.05h1M1564 1629.05h1M1569 1629.05h1M1573 1629.05h1M1578 1629.05h2M1583 1629.05h2M1591 1629.05h1M1596 1629.05h1M1598 1629.05h1"/><path stroke="#00F" stroke-width="8.5" stroke-opacity="0.3" d="M1565 1629.05h1M1572 1629.05h1M1592 1629.05h1M1597 1629.05h1"/><path stroke="#00F" stroke-width="8.5" stroke-opacity="0.35" d="M1563 1629.05h1M1568 1629.05h1M1570 1629.05h2M1593 1629.05h3"/><path stroke="#00F" stroke-width="8.5" stroke-opacity="0.4" d="M1537 1629.05h1M1548 1629.05h1M1552 1629.05h3M1566 1629.05h2"/><path stroke="#00F" stroke-width="8.5" stroke-opacity="0.45" d="M1538 1629.05h1M1540 1629.05h2M1543 1629.05h5M1549 1629.05h3M1562 1629.05h1"/><path stroke="#00F" stroke-width="8.5" stroke-opacity="0.5" d="M1539 1629.05h1M1542 1629.05h1M1555 1629.05h5M1561 1629.05h1"/><path stroke="#00F" stroke-width="8.5" stroke-opacity="0.55" d="M1560 1629.05h1"/>
<line x1="1535.2" x2="1602.5" y1="1871.3" y2="1871.3" stroke="#000" stroke-width="3.3"/>
<rect x="1619.15" y="1574.5" width="67.3" height="49.8" fill="#EEEEEE"/>
<text x="1651.2" y="1608.1" font-size="24" font-weight="bold" text-anchor="middle">18</text>
<line x1="1619.15" x2="1686.45" y1="1651.3" y2="1651.3" stroke="#E4E4E4" stroke-width="2.4"/>
<line x1="1619.15" x2="1686.45" y1="1710.97" y2="1710.97" stroke="#E4E4E4" stroke-width="2.4"/>
<line x1="1619.15" x2="1686.45" y1="1770.63" y2="1770.63" stroke="#E4E4E4" stroke-width="2.4"/>
<line x1="1619.15" x2="1686.45" y1="1830.3" y2="1830.3" stroke="#E4E4E4" stroke-width="2.4"/>
<clipPath id="cc17"><rect x="1619.15" y="1624.3" width="67.3" height="247"/></clipPath><g clip-path="url(#cc17)">
<g class="pt" fill="url(#pg)"><circle cx="1649" cy="1639" r="4.6"/><circle cx="1659" cy="1652" r="4.6"/><circle cx="1666" cy="1658" r="4.6"/><circle cx="1671" cy="1660" r="4.6"/><circle cx="1679" cy="1664" r="4.6"/><circle cx="1683" cy="1662" r="4.6"/><circle cx="1624" cy="1672" r="4.6"/><circle cx="1673" cy="1672" r="4.6"/><circle cx="1676" cy="1685" r="4.6"/><circle cx="1666" cy="1694" r="4.6"/><circle cx="1672" cy="1698" r="4.6"/><circle cx="1671" cy="1702" r="4.6"/><circle cx="1683" cy="1705" r="4.6"/><circle cx="1624" cy="1713" r="4.6"/><circle cx="1672" cy="1718" r="4.6"/><circle cx="1624" cy="1742" r="4.6"/><circle cx="1676" cy="1762" r="4.6"/><circle cx="1682" cy="1755" r="4.6"/><circle cx="1683" cy="1765" r="4.6"/><circle cx="1649" cy="1770" r="4.6"/><circle cx="1622" cy="1783" r="4.6"/><circle cx="1679" cy="1784" r="4.6"/><circle cx="1672" cy="1791" r="4.6"/><circle cx="1671" cy="1802" r="4.6"/><circle cx="1674" cy="1802" r="4.6"/><circle cx="1672" cy="1842" r="4.6"/><circle cx="1624" cy="1869" r="4.6"/><circle cx="1672" cy="1869" r="4.6"/></g>
<path stroke="#00F" stroke-width="4.5" stroke-opacity="0.1" d="M1684.2 1637v4M1684.2 1651v3M1684.2 1656v7M1684.2 1664v2M1684.2 1670v1M1684.2 1673v1M1684.2 1683v4M1684.2 1692v4M1684.2 1697v3M1684.2 1701v6M1684.2 1712v3M1684.2 1716v3M1684.2 1741v3M1684.2 1753v4M1684.2 1760v7M1684.2 1768v4M1684.2 1782v1M1684.2 1785v1M1684.2 1789v4M1684.2 1800v1M1684.2 1803v1M1684.2 1841v3"/><path stroke="#00F" stroke-width="4.5" stroke-opacity="0.2" d="M1684.2 1663v1M1684.2 1671v2M1684.2 1783v2M1684.2 1801v2"/>
</g>
<path stroke="#00F" stroke-width="8.5" stroke-opacity="0.1" d="M1620 1629.05h1M1667 1629.05h1"/><path stroke="#00F" stroke-width="8.5" stroke-opacity="0.15" d="M1657 1629.05h1M1660 1629.05h1"/><path stroke="#00F" stroke-width="8.5" stroke-opacity="0.2" d="M1621 1629.05h1M1647 1629.05h1M1650 1629.05h1M1658 1629.05h2M1677 1629.05h1M1680 1629.05h1"/><path stroke="#00F" stroke-width="8.5" stroke-opacity="0.25" d="M1625 1629.05h1M1648 1629.05h2M1664 1629.05h3M1669 1629.05h1M1675 1629.05h2M1678 1629.05h2M1681 1629.05h1M1684 1629.05h1"/><path stroke="#00F" stroke-width="8.5" stroke-opacity="0.3" d="M1622 1629.05h1M1670 1629.05h1M1674 1629.05h1M1683 1629.05h1"/><path stroke="#00F" stroke-width="8.5" stroke-opacity="0.35" d="M1623 1629.05h2M1682 1629.05h1"/><path stroke="#00F" stroke-width="8.5" stroke-opacity="0.4" d="M1672 1629.05h2"/><path stroke="#00F" stroke-width="8.5" stroke-opacity="0.45" d="M1671 1629.05h1"/>
<line x1="1619.15" x2="1686.45" y1="1871.3" y2="1871.3" stroke="#000" stroke-width="3.3"/>
<rect x="1703.1" y="1574.5" width="67.3" height="49.8" fill="#EEEEEE"/>
<text x="1735.15" y="1608.1" font-size="24" font-weight="bold" text-anchor="middle">19</text>
<line x1="1703.1" x2="1770.4" y1="1651.3" y2="1651.3" stroke="#E4E4E4" stroke-width="2.4"/>
<line x1="1703.1" x2="1770.4" y1="1710.97" y2="1710.97" stroke="#E4E4E4" stroke-width="2.4"/>
<line x1="1703.1" x2="1770.4" y1="1770.63" y2="1770.63" stroke="#E4E4E4" stroke-width="2.4"/>
<line x1="1703.1" x2="1770.4" y1="1830.3" y2="1830.3" stroke="#E4E4E4" stroke-width="2.4"/>
<clipPath id="cc18"><rect x="1703.1" y="1624.3" width="67.3" height="247"/></clipPath><g clip-path="url(#cc18)">
<g class="pt" fill="url(#pg)"><circle cx="1738" cy="1642" r="4.6"/><circle cx="1747" cy="1658" r="4.6"/><circle cx="1762" cy="1652" r="4.6"/><circle cx="1766" cy="1670" r="4.6"/><circle cx="1747" cy="1696" r="4.6"/><circle cx="1762" cy="1695" r="4.6"/><circle cx="1766" cy="1689" r="4.6"/><circle cx="1766" cy="1700" r="4.6"/><circle cx="1707" cy="1702" r="4.6"/><circle cx="1747" cy="1732" r="4.6"/><circle cx="1747" cy="1744" r="4.6"/><circle cx="1762" cy="1737" r="4.6"/><circle cx="1766" cy="1733" r="4.6"/><circle cx="1766" cy="1740" r="4.6"/><circle cx="1762" cy="1802" r="4.6"/><circle cx="1707" cy="1869" r="4.6"/><circle cx="1747" cy="1869" r="4.6"/></g>
<path stroke="#00F" stroke-width="4.5" stroke-opacity="0.1" d="M1768.15 1640v3M1768.15 1651v3M1768.15 1657v3M1768.15 1668v4M1768.15 1687v4M1768.15 1693v1M1768.15 1697v3M1768.15 1702v1M1768.15 1730v2M1768.15 1733v13M1768.15 1800v3"/><path stroke="#00F" stroke-width="4.5" stroke-opacity="0.2" d="M1768.15 1694v3M1768.15 1700v2M1768.15 1732v1"/>
</g>
<path stroke="#00F" stroke-width="8.5" stroke-opacity="0.1" d="M1705 1629.05h1M1736 1629.05h1"/><path stroke="#00F" stroke-width="8.5" stroke-opacity="0.15" d="M1739 1629.05h1M1745 1629.05h1M1763 1629.05h2"/><path stroke="#00F" stroke-width="8.5" stroke-opacity="0.2" d="M1737 1629.05h2"/><path stroke="#00F" stroke-width="8.5" stroke-opacity="0.25" d="M1706 1629.05h3"/><path stroke="#00F" stroke-width="8.5" stroke-opacity="0.3" d="M1760 1629.05h1"/><path stroke="#00F" stroke-width="8.5" stroke-opacity="0.35" d="M1746 1629.05h3M1761 1629.05h2M1765 1629.05h3"/>
<line x1="1703.1" x2="1770.4" y1="1871.3" y2="1871.3" stroke="#000" stroke-width="3.3"/>
<rect x="1787.05" y="1574.5" width="67.3" height="49.8" fill="#EEEEEE"/>
<text x="1819.1" y="1608.1" font-size="24" font-weight="bold" text-anchor="middle">20</text>
<line x1="1787.05" x2="1854.35" y1="1651.3" y2="1651.3" stroke="#E4E4E4" stroke-width="2.4"/>
<line x1="1787.05" x2="1854.35" y1="1710.97" y2="1710.97" stroke="#E4E4E4" stroke-width="2.4"/>
<line x1="1787.05" x2="1854.35" y1="1770.63" y2="1770.63" stroke="#E4E4E4" stroke-width="2.4"/>
<line x1="1787.05" x2="1854.35" y1="1830.3" y2="1830.3" stroke="#E4E4E4" stroke-width="2.4"/>
<clipPath id="cc19"><rect x="1787.05" y="1624.3" width="67.3" height="247"/></clipPath><g clip-path="url(#cc19)">
<g class="pt" fill="url(#pg)"><circle cx="1827" cy="1642" r="4.6"/><circle cx="1795" cy="1666" r="4.6"/><circle cx="1797" cy="1672" r="4.6"/><circle cx="1835" cy="1662" r="4.6"/><circle cx="1838" cy="1669" r="4.6"/><circle cx="1846" cy="1660" r="4.6"/><circle cx="1851" cy="1665" r="4.6"/><circle cx="1829" cy="1678" r="4.6"/><circle cx="1851" cy="1693" r="4.6"/><circle cx="1839" cy="1716" r="4.6"/><circle cx="1827" cy="1723" r="4.6"/><circle cx="1827" cy="1730" r="4.6"/><circle cx="1827" cy="1735" r="4.6"/><circle cx="1839" cy="1730" r="4.6"/><circle cx="1846" cy="1756" r="4.6"/><circle cx="1839" cy="1767" r="4.6"/><circle cx="1827" cy="1775" r="4.6"/><circle cx="1846" cy="1786" r="4.6"/><circle cx="1827" cy="1811" r="4.6"/><circle cx="1846" cy="1837" r="4.6"/><circle cx="1791" cy="1869" r="4.6"/><circle cx="1847" cy="1869" r="4.6"/></g>
<path stroke="#00F" stroke-width="4.5" stroke-opacity="0.1" d="M1852.1 1640v3M1852.1 1658v6M1852.1 1667v6M1852.1 1677v3M1852.1 1692v3M1852.1 1714v4M1852.1 1722v3M1852.1 1728v1M1852.1 1731v1M1852.1 1733v4M1852.1 1754v4M1852.1 1765v3M1852.1 1773v4M1852.1 1784v4M1852.1 1809v4M1852.1 1835v3"/><path stroke="#00F" stroke-width="4.5" stroke-opacity="0.2" d="M1852.1 1664v3M1852.1 1729v2"/>
</g>
<path stroke="#00F" stroke-width="8.5" stroke-opacity="0.1" d="M1792 1629.05h1M1852 1629.05h1"/><path stroke="#00F" stroke-width="8.5" stroke-opacity="0.15" d="M1789 1629.05h1M1793 1629.05h1M1798 1629.05h1M1830 1629.05h1M1833 1629.05h1M1836 1629.05h1M1848 1629.05h1"/><path stroke="#00F" stroke-width="8.5" stroke-opacity="0.2" d="M1790 1629.05h2M1794 1629.05h4M1825 1629.05h1M1829 1629.05h1M1834 1629.05h2M1840 1629.05h1"/><path stroke="#00F" stroke-width="8.5" stroke-opacity="0.25" d="M1837 1629.05h1M1844 1629.05h1M1847 1629.05h1M1849 1629.05h3"/><path stroke="#00F" stroke-width="8.5" stroke-opacity="0.3" d="M1839 1629.05h1"/><path stroke="#00F" stroke-width="8.5" stroke-opacity="0.35" d="M1838 1629.05h1M1845 1629.05h2"/><path stroke="#00F" stroke-width="8.5" stroke-opacity="0.4" d="M1826 1629.05h3"/>
<line x1="1787.05" x2="1854.35" y1="1871.3" y2="1871.3" stroke="#000" stroke-width="3.3"/>
<rect x="1871" y="1574.5" width="67.3" height="49.8" fill="#EEEEEE"/>
<text x="1903.05" y="1608.1" font-size="24" font-weight="bold" text-anchor="middle">21</text>
<line x1="1871" x2="1938.3" y1="1651.3" y2="1651.3" stroke="#E4E4E4" stroke-width="2.4"/>
<line x1="1871" x2="1938.3" y1="1710.97" y2="1710.97" stroke="#E4E4E4" stroke-width="2.4"/>
<line x1="1871" x2="1938.3" y1="1770.63" y2="1770.63" stroke="#E4E4E4" stroke-width="2.4"/>
<line x1="1871" x2="1938.3" y1="1830.3" y2="1830.3" stroke="#E4E4E4" stroke-width="2.4"/>
<clipPath id="cc20"><rect x="1871" y="1624.3" width="67.3" height="247"/></clipPath><g clip-path="url(#cc20)">
<g class="pt" fill="url(#pg)"><circle cx="1924" cy="1649" r="4.6"/><circle cx="1890" cy="1656" r="4.6"/><circle cx="1934" cy="1661" r="4.6"/><circle cx="1898" cy="1671" r="4.6"/><circle cx="1892" cy="1683" r="4.6"/><circle cx="1934" cy="1746" r="4.6"/><circle cx="1874" cy="1756" r="4.6"/><circle cx="1924" cy="1780" r="4.6"/><circle cx="1890" cy="1801" r="4.6"/><circle cx="1934" cy="1846" r="4.6"/><circle cx="1874" cy="1869" r="4.6"/><circle cx="1934" cy="1869" r="4.6"/></g>
<path stroke="#00F" stroke-width="4.5" stroke-opacity="0.1" d="M1936.05 1648v3M1936.05 1655v3M1936.05 1660v3M1936.05 1669v4M1936.05 1681v4M1936.05 1745v3M1936.05 1755v3M1936.05 1778v4M1936.05 1799v4M1936.05 1844v3"/>
</g>
<path stroke="#00F" stroke-width="8.5" stroke-opacity="0.15" d="M1872 1629.05h1M1888 1629.05h1M1893 1629.05h1M1896 1629.05h1M1899 1629.05h1M1932 1629.05h1"/><path stroke="#00F" stroke-width="8.5" stroke-opacity="0.2" d="M1875 1629.05h1M1892 1629.05h1M1897 1629.05h2"/><path stroke="#00F" stroke-width="8.5" stroke-opacity="0.25" d="M1873 1629.05h2M1889 1629.05h3M1923 1629.05h3"/><path stroke="#00F" stroke-width="8.5" stroke-opacity="0.3" d="M1935 1629.05h1"/><path stroke="#00F" stroke-width="8.5" stroke-opacity="0.35" d="M1933 1629.05h2"/>
<line x1="1871" x2="1938.3" y1="1871.3" y2="1871.3" stroke="#000" stroke-width="3.3"/>
<rect x="1954.95" y="1574.5" width="67.3" height="49.8" fill="#EEEEEE"/>
<text x="1987" y="1608.1" font-size="24" font-weight="bold" text-anchor="middle">22</text>
<line x1="1954.95" x2="2022.25" y1="1651.3" y2="1651.3" stroke="#E4E4E4" stroke-width="2.4"/>
<line x1="1954.95" x2="2022.25" y1="1710.97" y2="1710.97" stroke="#E4E4E4" stroke-width="2.4"/>
<line x1="1954.95" x2="2022.25" y1="1770.63" y2="1770.63" stroke="#E4E4E4" stroke-width="2.4"/>
<line x1="1954.95" x2="2022.25" y1="1830.3" y2="1830.3" stroke="#E4E4E4" stroke-width="2.4"/>
<clipPath id="cc21"><rect x="1954.95" y="1624.3" width="67.3" height="247"/></clipPath><g clip-path="url(#cc21)">
<g class="pt" fill="url(#pg)"><circle cx="2007" cy="1663" r="4.6"/><circle cx="2019" cy="1668" r="4.6"/><circle cx="1965" cy="1677" r="4.6"/><circle cx="1976" cy="1681" r="4.6"/><circle cx="1980" cy="1686" r="4.6"/><circle cx="1985" cy="1680" r="4.6"/><circle cx="1989" cy="1684" r="4.6"/><circle cx="1968" cy="1690" r="4.6"/><circle cx="1972" cy="1693" r="4.6"/><circle cx="1959" cy="1700" r="4.6"/><circle cx="1959" cy="1715" r="4.6"/><circle cx="1970" cy="1711" r="4.6"/><circle cx="1978" cy="1714" r="4.6"/><circle cx="1977" cy="1726" r="4.6"/><circle cx="1977" cy="1732" r="4.6"/><circle cx="1977" cy="1740" r="4.6"/><circle cx="1970" cy="1742" r="4.6"/><circle cx="1978" cy="1742" r="4.6"/><circle cx="1977" cy="1758" r="4.6"/><circle cx="1977" cy="1779" r="4.6"/><circle cx="1977" cy="1792" r="4.6"/><circle cx="1977" cy="1796" r="4.6"/><circle cx="1977" cy="1800" r="4.6"/><circle cx="1967" cy="1814" r="4.6"/><circle cx="1967" cy="1823" r="4.6"/><circle cx="1971" cy="1831" r="4.6"/><circle cx="1970" cy="1835" r="4.6"/><circle cx="1958" cy="1869" r="4.6"/><circle cx="1985" cy="1869" r="4.6"/></g>
<path stroke="#00F" stroke-width="4.5" stroke-opacity="0.1" d="M2020 1661v3M2020 1666v3M2020 1676v3M2020 1682v2M2020 1685v2M2020 1688v6M2020 1698v3M2020 1709v4M2020 1716v1M2020 1725v3M2020 1730v3M2020 1738v3M2020 1743v1M2020 1756v3M2020 1778v3M2020 1790v11M2020 1813v3M2020 1821v3M2020 1829v7"/><path stroke="#00F" stroke-width="4.5" stroke-opacity="0.2" d="M2020 1679v3M2020 1684v1M2020 1713v3M2020 1741v2"/>
</g>
<path stroke="#00F" stroke-width="8.5" stroke-opacity="0.1" d="M1974 1629.05h1M1986 1629.05h1M1990 1629.05h1M2020 1629.05h1"/><path stroke="#00F" stroke-width="8.5" stroke-opacity="0.15" d="M1956 1629.05h1M1963 1629.05h1M1973 1629.05h1M1981 1629.05h1M1987 1629.05h1M2005 1629.05h1M2008 1629.05h1M2017 1629.05h1"/><path stroke="#00F" stroke-width="8.5" stroke-opacity="0.2" d="M1960 1629.05h1M1964 1629.05h1M1972 1629.05h1M1979 1629.05h2M1988 1629.05h2M2006 1629.05h2M2018 1629.05h2"/><path stroke="#00F" stroke-width="8.5" stroke-opacity="0.25" d="M1957 1629.05h1M1959 1629.05h1M1965 1629.05h1M1983 1629.05h3"/><path stroke="#00F" stroke-width="8.5" stroke-opacity="0.3" d="M1958 1629.05h1M1966 1629.05h2M1971 1629.05h1"/><path stroke="#00F" stroke-width="8.5" stroke-opacity="0.35" d="M1968 1629.05h3M1978 1629.05h1"/><path stroke="#00F" stroke-width="8.5" stroke-opacity="0.4" d="M1975 1629.05h1"/><path stroke="#00F" stroke-width="8.5" stroke-opacity="0.5" d="M1976 1629.05h2"/>
<line x1="1954.95" x2="2022.25" y1="1871.3" y2="1871.3" stroke="#000" stroke-width="3.3"/>
<rect x="2038.9" y="1574.5" width="67.3" height="49.8" fill="#EEEEEE"/>
<text x="2070.95" y="1608.1" font-size="24" font-weight="bold" text-anchor="middle">X</text>
<line x1="2038.9" x2="2106.2" y1="1651.3" y2="1651.3" stroke="#E4E4E4" stroke-width="2.4"/>
<line x1="2038.9" x2="2106.2" y1="1710.97" y2="1710.97" stroke="#E4E4E4" stroke-width="2.4"/>
<line x1="2038.9" x2="2106.2" y1="1770.63" y2="1770.63" stroke="#E4E4E4" stroke-width="2.4"/>
<line x1="2038.9" x2="2106.2" y1="1830.3" y2="1830.3" stroke="#E4E4E4" stroke-width="2.4"/>
<clipPath id="cc22"><rect x="2038.9" y="1624.3" width="67.3" height="247"/></clipPath><g clip-path="url(#cc22)">
<g class="pt" fill="url(#pg)"><circle cx="2080" cy="1643" r="4.6"/><circle cx="2087" cy="1648" r="4.6"/><circle cx="2099" cy="1650" r="4.6"/><circle cx="2044" cy="1696" r="4.6"/><circle cx="2049" cy="1691" r="4.6"/><circle cx="2068" cy="1684" r="4.6"/><circle cx="2064" cy="1696" r="4.6"/><circle cx="2069" cy="1703" r="4.6"/><circle cx="2056" cy="1715" r="4.6"/><circle cx="2068" cy="1719" r="4.6"/><circle cx="2099" cy="1718" r="4.6"/><circle cx="2052" cy="1737" r="4.6"/><circle cx="2058" cy="1744" r="4.6"/><circle cx="2069" cy="1736" r="4.6"/><circle cx="2069" cy="1744" r="4.6"/><circle cx="2070" cy="1757" r="4.6"/><circle cx="2074" cy="1758" r="4.6"/><circle cx="2073" cy="1767" r="4.6"/><circle cx="2044" cy="1767" r="4.6"/><circle cx="2056" cy="1765" r="4.6"/><circle cx="2102" cy="1775" r="4.6"/><circle cx="2046" cy="1779" r="4.6"/><circle cx="2052" cy="1777" r="4.6"/><circle cx="2043" cy="1793" r="4.6"/><circle cx="2057" cy="1800" r="4.6"/><circle cx="2063" cy="1799" r="4.6"/><circle cx="2068" cy="1800" r="4.6"/><circle cx="2071" cy="1823" r="4.6"/><circle cx="2048" cy="1851" r="4.6"/><circle cx="2068" cy="1860" r="4.6"/><circle cx="2091" cy="1860" r="4.6"/><circle cx="2099" cy="1860" r="4.6"/><circle cx="2045" cy="1869" r="4.6"/><circle cx="2057" cy="1869" r="4.6"/><circle cx="2094" cy="1869" r="4.6"/><circle cx="2069" cy="1678" r="4.6"/><circle cx="2067" cy="1667" r="4.6"/><circle cx="2059" cy="1659" r="4.6"/><circle cx="2057" cy="1649" r="4.6"/><circle cx="2060" cy="1660" r="4.6"/><circle cx="2073" cy="1682" r="4.6"/><circle cx="2044" cy="1670" r="4.6"/><circle cx="2052" cy="1674" r="4.6"/><circle cx="2074" cy="1682" r="4.6"/><circle cx="2050" cy="1659" r="4.6"/><circle cx="2060" cy="1675" r="4.6"/><circle cx="2043" cy="1664" r="4.6"/><circle cx="2060" cy="1677" r="4.6"/><circle cx="2071" cy="1671" r="4.6"/><circle cx="2063" cy="1664" r="4.6"/><circle cx="2067" cy="1664" r="4.6"/><circle cx="2055" cy="1673" r="4.6"/><circle cx="2070" cy="1682" r="4.6"/><circle cx="2063" cy="1670" r="4.6"/><circle cx="2043" cy="1682" r="4.6"/><circle cx="2042" cy="1677" r="4.6"/><circle cx="2042" cy="1669" r="4.6"/><circle cx="2055" cy="1677" r="4.6"/><circle cx="2042" cy="1668" r="4.6"/><circle cx="2062" cy="1660" r="4.6"/><circle cx="2053" cy="1680" r="4.6"/><circle cx="2073" cy="1674" r="4.6"/><circle cx="2065" cy="1666" r="4.6"/><circle cx="2065" cy="1678" r="4.6"/><circle cx="2043" cy="1649" r="4.6"/><circle cx="2101" cy="1672" r="4.6"/><circle cx="2085" cy="1665" r="4.6"/><circle cx="2083" cy="1672" r="4.6"/><circle cx="2079" cy="1665" r="4.6"/><circle cx="2101" cy="1681" r="4.6"/><circle cx="2100" cy="1667" r="4.6"/><circle cx="2085" cy="1681" r="4.6"/><circle cx="2097" cy="1667" r="4.6"/><circle cx="2098" cy="1664" r="4.6"/><circle cx="2102" cy="1677" r="4.6"/><circle cx="2087" cy="1681" r="4.6"/><circle cx="2094" cy="1679" r="4.6"/><circle cx="2095" cy="1662" r="4.6"/><circle cx="2099" cy="1684" r="4.6"/><circle cx="2081" cy="1683" r="4.6"/><circle cx="2101" cy="1683" r="4.6"/><circle cx="2098" cy="1678" r="4.6"/><circle cx="2082" cy="1683" r="4.6"/><circle cx="2091" cy="1715" r="4.6"/><circle cx="2087" cy="1717" r="4.6"/><circle cx="2081" cy="1707" r="4.6"/><circle cx="2099" cy="1711" r="4.6"/><circle cx="2093" cy="1717" r="4.6"/><circle cx="2098" cy="1703" r="4.6"/><circle cx="2094" cy="1713" r="4.6"/><circle cx="2098" cy="1697" r="4.6"/><circle cx="2090" cy="1719" r="4.6"/><circle cx="2082" cy="1709" r="4.6"/><circle cx="2094" cy="1707" r="4.6"/><circle cx="2085" cy="1703" r="4.6"/><circle cx="2071" cy="1801" r="4.6"/><circle cx="2074" cy="1781" r="4.6"/><circle cx="2072" cy="1791" r="4.6"/><circle cx="2076" cy="1801" r="4.6"/><circle cx="2075" cy="1799" r="4.6"/><circle cx="2074" cy="1798" r="4.6"/><circle cx="2076" cy="1798" r="4.6"/><circle cx="2069" cy="1793" r="4.6"/><circle cx="2084" cy="1789" r="4.6"/><circle cx="2090" cy="1796" r="4.6"/><circle cx="2088" cy="1781" r="4.6"/><circle cx="2087" cy="1799" r="4.6"/><circle cx="2093" cy="1792" r="4.6"/><circle cx="2085" cy="1793" r="4.6"/><circle cx="2088" cy="1794" r="4.6"/><circle cx="2094" cy="1796" r="4.6"/><circle cx="2090" cy="1778" r="4.6"/><circle cx="2095" cy="1783" r="4.6"/><circle cx="2092" cy="1780" r="4.6"/><circle cx="2092" cy="1784" r="4.6"/><circle cx="2045" cy="1825" r="4.6"/><circle cx="2050" cy="1830" r="4.6"/><circle cx="2059" cy="1824" r="4.6"/><circle cx="2045" cy="1832" r="4.6"/><circle cx="2059" cy="1821" r="4.6"/><circle cx="2046" cy="1824" r="4.6"/><circle cx="2051" cy="1830" r="4.6"/><circle cx="2050" cy="1829" r="4.6"/><circle cx="2051" cy="1825" r="4.6"/><circle cx="2051" cy="1833" r="4.6"/></g>
<path stroke="#00F" stroke-width="4.5" stroke-opacity="0.1" d="M2103.95 1641v4M2103.95 1646v1M2103.95 1651v1M2103.95 1685v1M2103.95 1690v3M2103.95 1694v1M2103.95 1698v1M2103.95 1701v1M2103.95 1705v1M2103.95 1711v1M2103.95 1720v1M2103.95 1734v2M2103.95 1738v1M2103.95 1755v1M2103.95 1763v2M2103.95 1773v2M2103.95 1784v1M2103.95 1787v3M2103.95 1802v1M2103.95 1819v2M2103.95 1826v2M2103.95 1833v1M2103.95 1849v3"/><path stroke="#00F" stroke-width="4.5" stroke-opacity="0.2" d="M2103.95 1647v4M2103.95 1658v1M2103.95 1661v2M2103.95 1668v3M2103.95 1674v1M2103.95 1679v1M2103.95 1684v1M2103.95 1695v3M2103.95 1702v3M2103.95 1706v5M2103.95 1712v8M2103.95 1736v2M2103.95 1742v3M2103.95 1756v3M2103.95 1765v3M2103.95 1775v9M2103.95 1790v2M2103.95 1794v3M2103.95 1801v1M2103.95 1821v3M2103.95 1825v1M2103.95 1828v5M2103.95 1858v3"/><path stroke="#00F" stroke-width="4.5" stroke-opacity="0.3" d="M2103.95 1659v2M2103.95 1663v5M2103.95 1671v3M2103.95 1675v4M2103.95 1680v1M2103.95 1683v1M2103.95 1792v2M2103.95 1797v4M2103.95 1824v1"/><path stroke="#00F" stroke-width="4.5" stroke-opacity="0.4" d="M2103.95 1681v2"/>
</g>
<path stroke="#00F" stroke-width="8.5" stroke-opacity="0.15" d="M2103 1629.05h1"/><path stroke="#00F" stroke-width="8.5" stroke-opacity="0.2" d="M2040 1629.05h1M2077 1629.05h2"/><path stroke="#00F" stroke-width="8.5" stroke-opacity="0.3" d="M2046 1629.05h2M2053 1629.05h2M2065 1629.05h2M2076 1629.05h1M2079 1629.05h1M2083 1629.05h1M2102 1629.05h1"/><path stroke="#00F" stroke-width="8.5" stroke-opacity="0.35" d="M2041 1629.05h1M2048 1629.05h1M2055 1629.05h1M2057 1629.05h1M2060 1629.05h3M2064 1629.05h1M2075 1629.05h1M2080 1629.05h3M2084 1629.05h1M2095 1629.05h2M2101 1629.05h1"/><path stroke="#00F" stroke-width="8.5" stroke-opacity="0.4" d="M2045 1629.05h1M2049 1629.05h1M2051 1629.05h2M2056 1629.05h1M2058 1629.05h2M2063 1629.05h1M2071 1629.05h1M2074 1629.05h1M2085 1629.05h7M2097 1629.05h1"/><path stroke="#00F" stroke-width="8.5" stroke-opacity="0.45" d="M2042 1629.05h1M2044 1629.05h1M2050 1629.05h1M2067 1629.05h1M2070 1629.05h1M2072 1629.05h2M2092 1629.05h3M2099 1629.05h2"/><path stroke="#00F" stroke-width="8.5" stroke-opacity="0.5" d="M2043 1629.05h1M2068 1629.05h2M2098 1629.05h1"/>
<line x1="2038.9" x2="2106.2" y1="1871.3" y2="1871.3" stroke="#000" stroke-width="3.3"/>
<line x1="192" x2="192" y1="1624.3" y2="1872.9" stroke="#000" stroke-width="3"/>
<line x1="184.1" x2="192" y1="1651.3" y2="1651.3" stroke="#000" stroke-width="3"/>
<text x="177.6" y="1659.9" font-size="24.3" text-anchor="end" textLength="72" lengthAdjust="spacingAndGlyphs">1e+07</text>
<line x1="184.1" x2="192" y1="1710.97" y2="1710.97" stroke="#000" stroke-width="3"/>
<text x="177.6" y="1719.57" font-size="24.3" text-anchor="end" textLength="72" lengthAdjust="spacingAndGlyphs">1e+05</text>
<line x1="184.1" x2="192" y1="1770.63" y2="1770.63" stroke="#000" stroke-width="3"/>
<text x="177.6" y="1779.23" font-size="24.3" text-anchor="end" textLength="72" lengthAdjust="spacingAndGlyphs">1e+03</text>
<line x1="184.1" x2="192" y1="1830.3" y2="1830.3" stroke="#000" stroke-width="3"/>
<text x="177.6" y="1838.9" font-size="24.3" text-anchor="end" textLength="72" lengthAdjust="spacingAndGlyphs">1e+01</text>
<text transform="translate(50.7,1750.8) rotate(-90)" font-size="29.6" font-weight="bold" text-anchor="middle">Inter-breakpoint</text>
<text transform="translate(76,1764.8) rotate(-90)" font-size="29.6" font-weight="bold" text-anchor="middle">distance</text>
<text x="1128" y="1920.6" font-size="29.6" font-weight="bold" text-anchor="middle">Genomic coordinates</text></svg>
</body></html>
